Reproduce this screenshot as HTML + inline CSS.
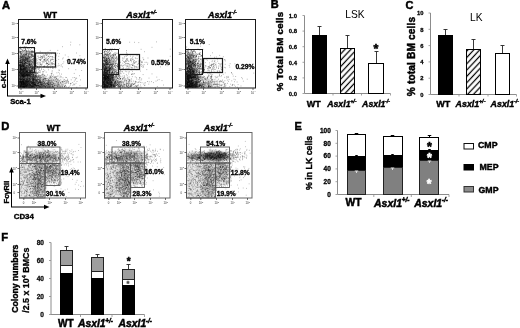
<!DOCTYPE html>
<html><head><meta charset="utf-8"><title>Figure</title>
<style>html,body{margin:0;padding:0;background:#fff;}body{width:520px;height:328px;overflow:hidden;}svg text{font-family:"Liberation Sans",sans-serif;}</style>
</head><body>
<svg width="520" height="328" viewBox="0 0 520 328" style="display:block;font-family:'Liberation Sans', sans-serif">
<defs>
<filter id="b2" x="-50%" y="-50%" width="200%" height="200%"><feGaussianBlur stdDeviation="1.6"/></filter><filter id="b3" x="-50%" y="-50%" width="200%" height="200%"><feGaussianBlur stdDeviation="2.6"/></filter>
<filter id="bd" x="-5%" y="-5%" width="110%" height="110%"><feGaussianBlur stdDeviation="0.35"/></filter>
<pattern id="hatch" width="4.3" height="4.3" patternUnits="userSpaceOnUse" patternTransform="rotate(-47)"><rect width="4.3" height="4.3" fill="#fff"/><line x1="0" y1="2.15" x2="4.3" y2="2.15" stroke="#000" stroke-width="1.25"/></pattern>
</defs>
<rect width="520" height="328" fill="#fff"/>
<text x="2" y="8.8" text-anchor="start" fill="#000" style="font-size:11.2px;font-weight:bold;" stroke="#000" stroke-width="0.50">A</text>
<text x="270.8" y="8.3" text-anchor="start" fill="#000" style="font-size:11px;font-weight:bold;" stroke="#000" stroke-width="0.49">B</text>
<text x="405.5" y="8.6" text-anchor="start" fill="#000" style="font-size:11px;font-weight:bold;" stroke="#000" stroke-width="0.49">C</text>
<text x="1.3" y="130.3" text-anchor="start" fill="#000" style="font-size:11.2px;font-weight:bold;" stroke="#000" stroke-width="0.50">D</text>
<text x="294.6" y="130.2" text-anchor="start" fill="#000" style="font-size:11px;font-weight:bold;" stroke="#000" stroke-width="0.49">E</text>
<text x="1.3" y="240.6" text-anchor="start" fill="#000" style="font-size:11.2px;font-weight:bold;" stroke="#000" stroke-width="0.50">F</text>
<clipPath id="c18a"><rect x="18.5" y="19.5" width="69.0" height="68.5"/></clipPath>
<g clip-path="url(#c18a)">
<rect x="14.5" y="74.5" width="20.4" height="19.5" fill="#000" opacity="0.50" filter="url(#b2)"/>
<rect x="15.5" y="54.5" width="16.4" height="20.0" fill="#000" opacity="0.26" filter="url(#b3)"/>
<ellipse cx="46.9" cy="85" rx="17.25" ry="6" fill="#000" opacity="0.18" filter="url(#b3)"/>
<path d="M21.0 83.7h0.8M20.7 85.3h0.8M27.6 86.2h0.8M29.4 84.4h0.8M28.6 85.9h0.8M22.4 86.4h0.8M34.8 80.7h0.8M23.4 83.8h0.8M35.0 73.2h0.8M27.2 84.0h0.8M23.6 82.5h0.8M21.5 84.6h0.8M25.0 73.4h0.8M23.9 77.8h0.8M24.6 81.7h0.8M21.9 87.1h0.8M24.7 85.9h0.8M22.9 79.9h0.8M23.6 77.6h0.8M26.4 85.9h0.8M22.7 75.3h0.8M38.2 85.3h0.8M19.5 81.1h0.8M32.8 81.0h0.8M25.0 80.0h0.8M32.6 84.9h0.8M19.7 77.0h0.8M24.5 82.8h0.8M22.9 77.2h0.8M28.0 83.5h0.8M31.1 70.7h0.8M32.7 86.0h0.8M32.6 83.1h0.8M37.1 66.6h0.8M22.0 81.7h0.8M29.4 79.7h0.8M29.3 86.7h0.8M20.9 84.3h0.8M34.1 82.7h0.8M23.6 83.3h0.8M33.8 77.1h0.8M27.8 83.5h0.8M37.8 82.6h0.8M26.7 72.6h0.8M20.3 79.3h0.8M31.3 74.3h0.8M23.9 86.7h0.8M21.7 82.5h0.8M19.7 78.3h0.8M25.0 84.5h0.8M27.1 80.0h0.8M32.8 84.2h0.8M32.0 86.9h0.8M20.0 85.5h0.8M32.2 79.3h0.8M30.8 77.2h0.8M26.2 82.6h0.8M29.5 80.7h0.8M21.9 86.8h0.8M20.0 83.1h0.8M20.2 85.6h0.8M26.0 83.2h0.8M38.2 85.2h0.8M22.7 84.8h0.8M21.8 84.7h0.8M36.5 66.2h0.8M29.5 85.9h0.8M22.4 86.0h0.8M22.7 82.4h0.8M21.3 83.6h0.8M42.3 85.0h0.8M23.9 87.2h0.8M45.2 83.9h0.8M28.4 78.1h0.8M19.2 79.9h0.8M26.9 75.3h0.8M35.1 85.0h0.8M21.8 82.7h0.8M29.2 65.2h0.8M29.1 75.7h0.8M25.2 75.3h0.8M20.2 77.8h0.8M20.0 86.4h0.8M26.3 86.8h0.8M19.4 75.0h0.8M28.7 85.5h0.8M45.3 78.3h0.8M27.4 85.7h0.8M19.8 82.0h0.8M20.7 82.6h0.8M33.4 75.2h0.8M24.5 79.8h0.8M28.5 75.5h0.8M30.9 81.7h0.8M32.9 80.0h0.8M26.0 74.5h0.8M27.2 74.7h0.8M28.2 86.5h0.8M37.8 76.0h0.8M19.4 82.9h0.8M22.4 84.5h0.8M33.1 79.3h0.8M29.6 75.4h0.8M32.7 86.5h0.8M25.8 79.3h0.8M19.6 86.9h0.8M32.4 85.8h0.8M41.0 84.7h0.8M36.6 81.0h0.8M21.6 82.8h0.8M19.3 76.7h0.8M33.1 74.3h0.8M25.1 80.5h0.8M36.8 78.8h0.8M37.7 78.9h0.8M24.3 86.0h0.8M23.7 79.5h0.8M20.4 77.3h0.8M23.9 78.9h0.8M34.6 82.9h0.8M28.3 81.3h0.8M20.1 78.0h0.8M33.8 82.6h0.8M27.5 83.2h0.8M27.3 81.4h0.8M33.5 87.0h0.8M30.0 84.9h0.8M41.6 85.2h0.8M24.8 71.5h0.8M25.6 85.7h0.8M40.3 80.6h0.8M21.3 84.1h0.8M26.1 81.6h0.8M25.0 85.2h0.8M31.5 82.4h0.8M22.9 70.3h0.8M27.3 76.9h0.8M21.4 84.0h0.8M37.5 73.1h0.8M23.1 67.4h0.8M27.6 82.1h0.8M36.9 87.0h0.8M24.0 80.3h0.8M27.4 87.2h0.8M21.4 81.0h0.8M28.4 84.9h0.8M27.2 87.1h0.8M26.8 80.8h0.8M44.6 78.3h0.8M24.7 66.0h0.8M24.6 83.9h0.8M35.0 84.4h0.8M19.2 83.6h0.8M37.5 79.2h0.8M21.7 82.0h0.8M31.5 72.6h0.8M32.2 82.3h0.8M21.3 86.4h0.8M22.4 79.7h0.8M39.2 79.2h0.8M30.2 76.6h0.8M35.1 79.6h0.8M36.3 81.1h0.8M27.0 85.8h0.8M39.6 81.6h0.8M25.6 86.9h0.8M23.0 84.8h0.8M24.7 86.2h0.8M21.7 81.3h0.8M19.6 86.7h0.8M19.8 77.3h0.8M22.6 79.0h0.8M22.7 86.4h0.8M22.9 79.8h0.8M27.6 81.7h0.8M29.1 65.7h0.8M28.7 74.6h0.8M22.2 76.4h0.8M26.0 83.6h0.8M23.4 86.5h0.8M33.0 82.0h0.8M34.7 79.7h0.8M28.5 78.8h0.8M20.0 81.8h0.8M21.4 78.9h0.8M24.3 80.3h0.8M20.6 66.4h0.8M30.6 86.2h0.8M19.4 65.9h0.8M21.9 80.6h0.8M29.9 86.4h0.8M22.0 78.4h0.8M26.8 83.4h0.8M20.9 82.2h0.8M28.8 82.7h0.8M22.8 70.9h0.8M25.2 83.2h0.8M20.8 76.0h0.8M36.4 83.6h0.8M29.2 80.5h0.8M20.3 72.5h0.8M26.1 80.1h0.8M24.7 73.0h0.8M36.3 78.9h0.8M24.7 76.1h0.8M24.7 82.0h0.8M33.2 78.1h0.8M31.3 83.7h0.8M28.9 78.8h0.8M23.3 74.5h0.8M20.4 85.4h0.8M19.1 81.5h0.8M25.4 85.0h0.8M19.4 82.3h0.8M20.2 64.9h0.8M33.2 86.3h0.8M19.9 76.3h0.8M20.9 85.3h0.8M23.0 82.8h0.8M25.7 85.5h0.8M25.6 76.5h0.8M22.1 81.7h0.8M29.4 87.0h0.8M23.3 87.1h0.8M23.6 84.5h0.8M41.2 85.3h0.8M29.3 87.0h0.8M29.4 67.8h0.8M25.8 85.9h0.8M24.4 68.1h0.8M21.7 77.1h0.8M26.0 79.9h0.8M23.5 86.7h0.8M23.5 78.8h0.8M30.0 79.4h0.8M20.9 70.0h0.8M26.4 85.8h0.8M24.2 82.0h0.8M26.1 73.1h0.8M21.1 84.4h0.8M32.3 82.0h0.8M25.1 83.9h0.8M25.3 81.9h0.8M25.1 81.1h0.8M33.4 78.4h0.8M23.6 68.6h0.8M35.6 72.8h0.8M31.9 77.7h0.8M33.2 74.2h0.8M30.0 84.1h0.8M19.7 78.8h0.8M19.2 85.4h0.8M23.1 86.0h0.8M27.3 86.6h0.8M23.2 74.7h0.8M26.0 87.0h0.8M23.1 82.0h0.8M27.7 85.0h0.8M21.4 83.6h0.8M24.1 70.2h0.8M45.8 72.1h0.8M23.6 86.6h0.8M20.0 84.5h0.8M20.8 84.9h0.8M37.0 80.5h0.8M28.7 82.7h0.8M24.9 82.6h0.8M25.8 85.4h0.8M23.5 87.1h0.8M22.9 83.5h0.8M19.5 81.6h0.8M27.1 82.6h0.8M36.7 83.3h0.8M19.9 86.7h0.8M33.6 85.3h0.8M27.3 82.1h0.8M35.9 75.8h0.8M27.3 73.1h0.8M25.8 86.9h0.8M22.9 84.9h0.8M33.2 86.2h0.8M33.1 83.1h0.8M28.5 76.4h0.8M30.4 85.1h0.8M35.0 84.3h0.8M20.9 69.0h0.8M23.6 82.3h0.8M23.7 83.3h0.8M28.4 78.1h0.8M21.3 85.9h0.8M31.3 86.3h0.8M23.8 84.1h0.8M19.6 87.3h0.8M22.0 79.0h0.8M32.1 84.9h0.8M26.8 81.6h0.8M19.2 81.6h0.8M33.3 84.7h0.8M19.2 86.3h0.8M25.1 84.8h0.8M29.5 71.2h0.8M23.9 80.4h0.8M21.2 82.9h0.8M23.2 74.7h0.8M26.8 86.6h0.8M21.5 82.4h0.8M21.4 73.9h0.8M25.2 67.9h0.8M20.2 79.3h0.8M30.6 70.1h0.8M24.4 81.2h0.8M24.6 65.6h0.8M20.5 85.8h0.8M27.6 84.9h0.8M34.8 77.5h0.8M22.2 58.7h0.8M26.4 84.8h0.8M27.5 69.7h0.8M23.4 80.9h0.8M24.7 82.6h0.8M20.2 80.2h0.8M23.3 86.8h0.8M25.0 86.7h0.8M29.8 75.6h0.8M23.0 79.9h0.8M29.0 85.1h0.8M33.8 74.3h0.8M21.8 80.4h0.8M20.4 86.7h0.8M33.6 79.7h0.8M21.9 87.3h0.8M25.1 84.8h0.8M22.6 82.3h0.8M31.6 84.9h0.8M19.7 74.5h0.8M21.7 81.8h0.8M30.5 82.0h0.8M20.5 87.3h0.8M19.6 78.4h0.8M41.9 82.3h0.8M24.1 83.8h0.8M28.8 83.8h0.8M24.1 85.6h0.8M23.7 74.8h0.8M25.9 74.9h0.8M25.3 83.3h0.8M22.4 80.7h0.8M19.3 84.6h0.8M23.8 74.6h0.8M30.6 85.7h0.8M31.0 66.8h0.8M40.1 71.1h0.8M27.9 82.3h0.8M21.2 79.0h0.8M19.5 79.2h0.8M29.2 79.3h0.8M21.0 84.3h0.8M22.9 82.0h0.8M27.1 84.6h0.8M30.1 73.5h0.8M26.2 84.4h0.8M42.8 71.9h0.8M23.6 76.5h0.8M36.3 85.5h0.8M30.2 72.1h0.8M26.4 86.2h0.8M23.1 84.2h0.8M31.2 86.1h0.8M27.0 84.5h0.8M25.6 81.1h0.8M19.6 73.3h0.8M22.9 86.7h0.8M29.7 81.3h0.8M20.4 80.0h0.8M22.7 83.5h0.8M22.3 83.3h0.8M21.2 83.1h0.8M21.0 82.7h0.8M22.0 77.7h0.8M22.7 86.5h0.8M28.3 81.4h0.8M21.2 85.1h0.8M26.3 76.8h0.8M25.2 84.3h0.8M27.1 68.3h0.8M23.3 77.8h0.8M24.8 81.1h0.8M40.2 66.4h0.8M22.7 83.7h0.8M19.4 82.3h0.8M39.5 87.3h0.8M34.6 80.7h0.8M35.3 78.2h0.8M24.1 86.8h0.8M30.8 87.0h0.8M32.1 73.6h0.8M30.1 81.7h0.8M26.5 80.7h0.8M23.4 82.5h0.8M40.6 85.4h0.8M27.3 81.8h0.8M27.1 67.1h0.8M20.2 83.8h0.8M43.4 79.9h0.8M27.2 84.2h0.8M29.7 81.3h0.8M21.1 83.5h0.8M20.0 82.1h0.8M34.1 78.7h0.8M21.5 83.3h0.8M20.5 79.6h0.8M28.1 87.1h0.8M23.8 83.5h0.8M21.8 70.1h0.8M30.6 85.2h0.8M21.1 84.4h0.8M28.5 81.7h0.8M24.3 82.8h0.8M29.8 82.6h0.8M31.3 82.4h0.8M28.4 85.0h0.8M31.9 86.3h0.8M19.9 73.3h0.8M24.4 86.6h0.8M23.1 87.3h0.8M25.7 81.5h0.8M27.4 83.0h0.8M21.2 85.3h0.8M20.3 73.3h0.8M23.5 86.6h0.8M38.8 65.8h0.8M20.5 72.5h0.8M28.1 65.4h0.8M43.0 86.9h0.8M23.6 85.4h0.8M23.9 68.9h0.8M26.8 84.8h0.8M24.7 83.9h0.8M20.7 83.7h0.8M20.5 81.6h0.8M24.5 86.8h0.8M30.6 71.1h0.8M27.4 71.7h0.8M26.9 75.0h0.8M27.5 81.1h0.8M24.5 81.9h0.8M27.2 80.3h0.8M36.2 79.5h0.8M42.9 71.7h0.8M25.2 81.8h0.8M20.8 81.6h0.8M31.3 87.3h0.8M29.1 76.9h0.8M24.2 86.1h0.8M21.7 82.1h0.8M36.5 69.2h0.8M30.9 81.6h0.8M23.9 87.0h0.8M26.3 82.0h0.8M39.2 86.6h0.8M23.2 83.5h0.8M19.7 86.5h0.8M25.7 83.0h0.8M20.6 76.9h0.8M24.1 84.9h0.8M26.4 81.2h0.8M33.7 73.0h0.8M30.0 81.1h0.8M30.3 77.3h0.8M24.7 84.2h0.8M32.5 87.1h0.8M26.9 85.0h0.8M25.0 80.7h0.8M33.2 82.7h0.8M30.1 85.1h0.8M24.5 84.5h0.8M34.4 82.7h0.8M30.8 87.2h0.8M23.5 86.3h0.8M22.7 76.9h0.8M20.8 83.1h0.8M21.5 81.3h0.8M38.1 82.6h0.8M21.7 74.8h0.8M37.3 87.3h0.8M19.2 84.0h0.8M26.8 75.8h0.8M24.9 72.5h0.8M20.3 81.5h0.8M28.4 85.0h0.8M21.3 78.0h0.8M19.8 75.9h0.8M25.2 86.7h0.8M19.7 87.0h0.8M19.4 67.6h0.8M24.9 82.8h0.8M20.0 69.5h0.8M28.7 78.4h0.8M32.3 67.6h0.8M36.9 84.9h0.8M24.7 72.1h0.8M33.0 82.8h0.8M26.1 84.9h0.8M21.7 76.5h0.8M37.5 79.2h0.8M19.9 86.4h0.8M36.1 75.9h0.8M21.5 84.1h0.8M23.4 76.7h0.8M23.7 74.9h0.8M30.5 83.4h0.8M30.3 76.1h0.8M27.2 71.8h0.8M36.5 81.1h0.8M38.7 77.5h0.8M23.7 84.4h0.8M20.5 86.5h0.8M28.8 75.3h0.8M30.6 76.1h0.8M24.0 82.9h0.8M22.1 85.7h0.8M22.8 79.9h0.8M26.0 87.1h0.8M21.7 74.8h0.8M24.3 82.5h0.8M29.8 85.7h0.8M26.6 78.5h0.8M28.4 86.3h0.8M34.0 82.3h0.8M27.2 77.1h0.8M25.1 86.6h0.8M21.3 85.2h0.8M21.0 83.3h0.8M20.6 64.6h0.8M35.9 87.2h0.8M23.1 78.9h0.8M29.1 74.9h0.8M20.1 67.6h0.8M19.9 82.2h0.8M22.1 78.5h0.8M29.2 80.3h0.8M33.5 80.7h0.8M24.1 73.9h0.8M24.9 82.3h0.8M26.5 83.0h0.8M21.7 85.7h0.8M20.2 86.8h0.8M20.6 81.6h0.8M27.9 82.2h0.8M33.2 75.9h0.8M19.6 78.6h0.8M34.6 85.2h0.8M23.5 81.8h0.8M29.0 74.5h0.8M26.9 76.1h0.8M23.6 80.0h0.8M20.4 76.9h0.8M26.1 81.3h0.8M23.9 83.9h0.8M21.5 81.3h0.8M24.0 72.3h0.8M21.7 83.9h0.8M24.2 87.3h0.8M21.5 83.1h0.8M34.1 85.9h0.8M38.6 75.0h0.8M26.2 83.0h0.8M35.8 86.5h0.8M19.6 79.0h0.8M23.1 76.6h0.8M23.7 84.4h0.8M20.5 86.6h0.8M32.4 79.1h0.8M22.5 78.6h0.8M25.8 81.0h0.8M26.9 79.0h0.8M31.8 80.1h0.8M27.2 83.1h0.8M33.0 81.7h0.8M24.7 85.1h0.8M22.0 70.8h0.8M20.8 75.0h0.8M27.4 77.7h0.8M25.3 80.7h0.8M23.8 77.0h0.8M26.8 82.9h0.8M21.6 74.8h0.8M23.6 83.3h0.8M28.1 83.7h0.8M25.7 82.0h0.8M28.7 70.5h0.8M24.3 76.7h0.8M20.2 79.7h0.8M44.9 86.5h0.8M30.4 85.5h0.8M27.6 75.4h0.8M29.5 84.2h0.8M28.8 81.4h0.8M33.5 84.6h0.8M32.4 87.1h0.8M24.2 78.9h0.8M38.6 77.0h0.8M22.2 75.5h0.8M31.4 79.0h0.8M38.8 70.9h0.8M20.6 85.7h0.8M20.0 79.5h0.8M28.6 87.3h0.8M31.8 81.7h0.8M23.1 82.7h0.8M21.1 74.2h0.8M29.6 84.2h0.8M21.9 73.0h0.8M23.8 84.3h0.8M30.1 77.3h0.8M23.6 76.8h0.8M30.8 85.9h0.8M22.3 66.3h0.8M26.9 78.3h0.8M26.0 73.8h0.8M26.5 86.6h0.8M23.3 86.7h0.8M23.1 81.1h0.8M23.1 82.6h0.8M23.8 83.4h0.8M24.1 85.6h0.8M19.9 81.8h0.8M22.1 78.8h0.8M31.0 82.7h0.8M23.5 81.2h0.8M35.8 80.8h0.8M35.7 82.4h0.8M32.7 79.7h0.8M30.2 75.6h0.8M19.6 86.9h0.8M42.5 86.5h0.8M22.6 82.6h0.8M22.9 85.2h0.8M20.2 73.4h0.8M21.7 84.0h0.8M32.8 79.5h0.8M28.7 72.4h0.8M31.7 78.7h0.8M28.7 72.3h0.8M22.9 72.2h0.8M23.4 75.6h0.8M34.3 85.3h0.8M37.2 81.4h0.8M25.7 85.7h0.8M23.8 87.0h0.8M37.4 83.8h0.8M37.2 87.3h0.8M30.8 85.8h0.8M28.0 74.0h0.8M25.7 81.7h0.8M22.3 87.2h0.8M27.6 78.8h0.8M31.7 85.9h0.8M27.8 70.1h0.8M31.9 67.0h0.8M29.7 87.3h0.8M20.6 86.7h0.8M21.2 76.3h0.8M28.8 73.6h0.8M25.9 80.8h0.8M35.1 85.7h0.8M21.1 79.2h0.8M29.5 82.9h0.8M22.3 81.7h0.8M23.2 80.4h0.8M45.0 87.1h0.8M28.3 75.6h0.8M22.7 81.5h0.8M22.5 77.2h0.8M29.8 76.8h0.8M33.7 84.6h0.8M27.7 81.0h0.8M26.4 85.8h0.8M30.3 82.5h0.8M27.9 75.4h0.8M29.8 81.7h0.8M28.7 80.0h0.8M22.9 77.2h0.8M21.3 82.7h0.8M23.9 79.8h0.8M19.6 85.9h0.8M21.8 69.4h0.8M23.7 81.2h0.8M26.1 74.6h0.8M25.5 85.5h0.8M21.8 79.6h0.8M22.8 79.8h0.8M32.8 72.6h0.8M30.4 84.3h0.8M23.3 87.0h0.8M23.2 77.7h0.8M27.8 83.5h0.8M28.1 87.3h0.8M37.8 77.1h0.8M29.5 86.8h0.8M22.4 85.9h0.8M22.7 83.4h0.8M19.5 86.8h0.8M36.9 72.7h0.8M35.3 79.0h0.8M19.8 86.8h0.8M19.9 81.8h0.8M19.1 82.6h0.8M34.5 83.5h0.8M22.9 71.7h0.8M29.1 78.3h0.8M40.5 83.2h0.8M19.1 66.1h0.8M32.6 86.9h0.8M20.1 84.8h0.8M24.4 75.3h0.8M28.3 73.4h0.8M27.1 79.8h0.8M32.1 83.2h0.8M29.2 76.0h0.8M27.7 78.7h0.8M25.5 81.6h0.8M31.4 78.2h0.8M34.6 82.9h0.8M25.9 85.1h0.8M43.0 79.5h0.8M23.8 72.7h0.8M25.1 77.9h0.8M36.8 85.7h0.8M25.3 83.7h0.8M36.9 80.3h0.8M29.1 79.0h0.8M35.2 77.2h0.8M21.3 81.5h0.8M30.0 82.7h0.8M26.7 71.7h0.8M36.4 83.8h0.8M25.9 72.2h0.8M25.5 85.0h0.8M29.0 75.6h0.8M27.1 70.7h0.8M20.9 85.1h0.8M35.0 83.0h0.8M23.5 74.5h0.8M25.0 85.4h0.8M30.0 80.0h0.8M25.0 86.8h0.8M21.3 78.9h0.8M33.6 79.9h0.8M19.5 81.9h0.8M36.8 79.3h0.8M27.4 81.2h0.8M31.4 86.3h0.8M20.9 82.8h0.8M24.9 76.0h0.8M26.7 79.7h0.8M28.2 82.1h0.8M20.3 85.9h0.8M29.4 80.6h0.8M19.8 83.2h0.8M25.9 83.5h0.8M47.6 82.6h0.8M26.0 80.7h0.8M25.4 85.3h0.8M20.4 79.2h0.8M34.3 83.2h0.8M29.0 68.1h0.8M20.4 82.9h0.8M21.2 86.6h0.8M37.0 81.9h0.8M41.4 82.7h0.8M21.5 86.3h0.8M26.5 83.1h0.8M36.5 73.3h0.8M34.0 71.6h0.8M23.2 80.6h0.8M24.0 86.4h0.8M48.1 82.4h0.8M35.9 77.4h0.8M20.1 85.7h0.8M22.0 75.0h0.8M35.7 68.3h0.8M23.6 86.4h0.8M19.2 67.9h0.8M22.2 81.6h0.8M32.3 80.2h0.8M25.3 83.4h0.8M24.4 87.4h0.8M19.2 86.8h0.8M19.8 82.5h0.8M40.3 83.6h0.8M22.7 68.5h0.8M32.2 74.8h0.8M25.3 80.9h0.8M36.9 76.8h0.8M26.0 78.0h0.8M27.0 85.7h0.8M23.4 79.3h0.8M22.3 84.6h0.8M21.3 77.5h0.8M30.6 74.4h0.8M19.5 79.3h0.8M22.8 82.4h0.8M23.2 81.5h0.8M24.1 79.4h0.8M27.3 71.3h0.8M38.9 72.5h0.8M37.9 81.7h0.8M21.8 82.9h0.8M26.4 87.0h0.8M38.2 68.3h0.8M25.1 84.0h0.8M21.2 86.2h0.8M19.7 81.0h0.8M21.6 80.7h0.8M24.4 79.0h0.8M22.6 79.6h0.8M24.3 84.9h0.8M23.3 86.0h0.8M25.6 74.8h0.8M20.0 82.5h0.8M22.2 86.3h0.8M27.4 81.7h0.8M19.5 82.3h0.8M30.2 79.3h0.8M23.4 77.6h0.8M19.6 85.0h0.8M19.6 79.3h0.8M21.8 80.9h0.8M29.2 73.8h0.8M27.9 82.8h0.8M23.8 83.2h0.8M25.7 73.2h0.8M22.4 84.2h0.8M27.6 79.7h0.8M29.6 84.6h0.8M29.7 78.7h0.8M26.4 72.4h0.8M25.1 75.9h0.8M30.5 78.4h0.8M36.9 81.5h0.8M29.5 85.2h0.8M30.5 87.1h0.8M25.3 86.8h0.8M20.4 84.4h0.8M22.8 87.3h0.8M20.5 82.7h0.8M31.6 86.7h0.8M29.0 83.2h0.8M19.8 84.2h0.8M29.1 78.1h0.8M23.3 86.8h0.8M19.4 83.7h0.8M22.9 85.4h0.8M34.8 78.8h0.8M26.2 79.1h0.8M29.1 70.2h0.8M26.3 82.3h0.8M24.9 79.2h0.8M36.9 75.7h0.8M20.0 80.4h0.8M43.8 78.6h0.8M25.7 70.3h0.8M26.0 72.9h0.8M29.6 84.6h0.8M40.5 82.8h0.8M24.8 82.0h0.8M22.1 87.4h0.8M29.1 83.9h0.8M23.8 87.4h0.8M35.1 85.2h0.8M31.3 83.4h0.8M25.9 71.6h0.8M20.4 86.5h0.8M23.3 82.8h0.8M21.9 81.9h0.8M39.9 82.9h0.8M23.9 83.5h0.8M28.8 86.8h0.8M26.2 85.9h0.8M23.3 76.5h0.8M28.0 80.2h0.8M29.8 85.2h0.8M19.8 78.5h0.8M23.9 87.0h0.8M22.2 84.8h0.8M21.2 79.6h0.8M20.2 81.8h0.8M29.0 82.4h0.8M25.7 78.1h0.8M31.3 82.7h0.8M23.1 75.2h0.8M30.4 85.4h0.8M26.8 81.8h0.8M21.2 82.1h0.8M20.6 78.0h0.8M28.1 80.4h0.8M23.2 83.2h0.8M29.2 84.6h0.8M24.8 63.4h0.8M23.2 74.0h0.8M20.5 85.3h0.8M25.8 81.4h0.8M27.5 84.8h0.8M33.3 82.9h0.8M23.9 84.2h0.8M34.0 84.5h0.8M23.5 81.6h0.8M27.3 77.8h0.8M32.7 76.9h0.8M23.6 78.7h0.8M19.6 74.0h0.8M19.2 78.4h0.8M21.8 75.0h0.8M22.9 85.7h0.8M19.8 76.8h0.8M27.6 84.1h0.8M22.7 71.1h0.8M26.0 82.8h0.8M28.8 85.2h0.8M19.9 81.0h0.8M28.1 81.1h0.8M24.9 83.0h0.8M22.9 71.9h0.8M21.8 81.4h0.8M26.3 79.2h0.8M22.2 86.2h0.8M26.1 84.4h0.8M28.8 74.5h0.8M24.9 86.5h0.8M37.7 79.7h0.8M29.0 84.0h0.8M33.3 81.0h0.8M52.4 80.7h0.8M30.2 86.9h0.8M22.3 80.2h0.8M26.7 79.1h0.8M32.6 71.4h0.8M23.8 78.7h0.8M26.2 83.2h0.8M28.7 81.6h0.8M36.5 80.1h0.8M29.5 85.8h0.8M31.2 83.6h0.8M36.2 85.1h0.8M22.6 81.5h0.8M36.6 85.9h0.8M30.3 80.0h0.8M31.3 64.6h0.8M26.3 82.3h0.8M23.0 82.1h0.8M30.1 87.3h0.8M20.9 83.0h0.8M27.6 79.6h0.8M37.3 66.4h0.8M20.4 86.1h0.8M33.1 80.1h0.8M23.7 75.8h0.8M25.6 78.5h0.8M21.7 83.1h0.8M19.9 75.8h0.8M51.3 82.3h0.8M27.5 84.1h0.8M22.6 84.6h0.8M23.3 84.9h0.8M36.5 85.8h0.8M31.9 78.0h0.8M19.6 80.6h0.8M20.5 80.2h0.8M22.2 82.1h0.8M35.7 77.2h0.8M26.4 84.1h0.8M27.7 85.4h0.8M37.9 82.0h0.8M40.0 77.3h0.8M31.1 83.6h0.8M35.9 81.0h0.8M26.8 71.3h0.8M21.8 81.4h0.8M38.3 75.0h0.8M19.9 82.1h0.8M25.7 71.8h0.8M35.8 86.5h0.8M22.5 83.8h0.8M26.5 86.7h0.8M23.0 86.4h0.8M27.9 86.2h0.8M21.5 86.2h0.8M31.6 76.9h0.8M22.9 82.9h0.8M21.4 81.5h0.8M23.1 81.3h0.8M27.0 77.0h0.8M25.0 84.3h0.8M21.1 84.2h0.8M35.9 82.4h0.8M20.4 83.3h0.8M27.9 77.1h0.8M36.1 73.0h0.8M24.8 67.8h0.8M23.5 86.7h0.8M20.6 81.6h0.8M29.0 81.3h0.8M23.5 83.3h0.8M23.8 84.3h0.8M22.0 84.9h0.8M30.7 87.1h0.8M20.6 73.5h0.8M29.2 79.8h0.8M26.2 85.0h0.8M21.7 85.7h0.8M26.9 73.1h0.8M24.7 76.7h0.8M28.2 81.1h0.8M25.9 80.3h0.8M19.5 85.0h0.8M21.1 82.4h0.8M29.4 78.4h0.8M20.5 79.5h0.8M32.7 80.0h0.8M32.9 76.6h0.8M23.8 83.0h0.8M33.0 85.6h0.8M23.2 81.2h0.8M30.7 81.5h0.8M20.8 81.9h0.8M23.7 81.5h0.8M22.8 84.1h0.8M34.7 75.6h0.8M20.0 74.6h0.8M21.2 87.4h0.8M21.9 83.2h0.8M21.6 80.1h0.8M26.7 86.2h0.8M22.5 83.9h0.8M25.3 78.7h0.8M20.1 81.6h0.8M32.1 82.9h0.8M27.0 75.3h0.8M19.2 85.5h0.8M26.6 78.8h0.8M25.5 86.1h0.8M31.8 78.3h0.8M23.9 69.7h0.8M21.8 80.0h0.8M19.3 84.4h0.8M28.2 85.0h0.8M32.1 82.5h0.8M19.8 72.0h0.8M25.9 81.3h0.8M32.8 83.6h0.8M29.0 83.6h0.8M23.1 86.1h0.8M23.7 73.3h0.8M19.4 77.3h0.8M32.2 85.7h0.8M25.6 86.2h0.8M27.1 85.1h0.8M24.1 85.0h0.8M20.5 83.7h0.8M22.4 75.8h0.8M29.1 87.1h0.8M26.9 84.9h0.8M24.7 71.2h0.8M26.4 79.5h0.8M27.5 74.5h0.8M34.3 83.7h0.8M25.5 77.0h0.8M27.3 82.5h0.8M20.4 72.0h0.8M24.6 83.4h0.8M22.8 83.6h0.8M25.9 85.4h0.8M23.5 75.5h0.8M23.0 86.7h0.8M23.5 79.5h0.8M22.4 84.1h0.8M34.8 87.3h0.8M31.9 81.2h0.8M31.0 86.6h0.8M27.3 81.8h0.8M24.3 85.8h0.8M30.8 82.1h0.8M34.4 73.7h0.8M22.8 82.7h0.8M35.1 85.5h0.8M22.9 82.0h0.8M24.0 76.9h0.8M31.1 72.0h0.8M26.9 75.0h0.8M26.3 75.8h0.8M21.4 83.2h0.8M22.4 81.4h0.8M26.9 80.1h0.8M31.1 76.3h0.8M31.1 83.1h0.8M25.0 76.0h0.8M38.0 76.5h0.8M23.0 82.0h0.8M22.0 86.3h0.8M20.7 83.3h0.8M42.7 80.1h0.8M20.9 86.7h0.8M24.4 85.9h0.8M28.9 73.9h0.8M20.9 79.3h0.8M21.5 75.8h0.8M28.7 87.2h0.8M24.1 80.2h0.8M27.7 74.3h0.8M23.3 85.1h0.8M21.5 79.2h0.8M26.8 85.0h0.8M19.9 84.6h0.8M23.4 79.6h0.8M39.5 84.7h0.8M36.1 70.8h0.8M31.7 85.2h0.8M19.8 85.2h0.8M24.5 77.6h0.8M22.2 77.4h0.8M29.2 85.2h0.8M23.5 82.3h0.8M29.8 73.3h0.8M24.7 87.0h0.8M23.1 79.7h0.8M30.9 81.6h0.8M27.4 79.9h0.8M28.9 82.8h0.8M27.5 84.6h0.8M23.1 84.5h0.8M28.0 81.2h0.8M33.3 77.0h0.8M25.8 86.8h0.8M30.9 87.3h0.8M20.4 77.0h0.8M27.4 81.4h0.8M21.9 86.2h0.8M21.7 86.2h0.8M36.6 81.7h0.8M33.2 83.8h0.8M34.1 87.2h0.8M33.2 78.4h0.8M23.2 84.7h0.8M30.7 85.3h0.8M19.3 83.4h0.8M19.3 79.8h0.8M31.6 86.9h0.8M20.4 81.0h0.8M21.2 79.4h0.8M31.5 63.0h0.8M29.7 62.6h0.8M28.9 54.9h0.8M26.0 55.1h0.8M24.7 51.1h0.8M27.7 66.4h0.8M20.0 72.1h0.8M20.3 72.3h0.8M34.3 68.3h0.8M20.1 66.2h0.8M24.4 61.2h0.8M27.7 59.7h0.8M22.1 74.5h0.8M34.8 59.3h0.8M25.7 59.0h0.8M20.4 54.4h0.8M20.7 70.8h0.8M29.6 63.3h0.8M23.5 51.2h0.8M22.1 75.7h0.8M19.7 69.3h0.8M21.4 72.7h0.8M28.4 51.3h0.8M20.9 63.0h0.8M22.5 75.2h0.8M26.3 64.1h0.8M30.4 61.7h0.8M28.7 70.3h0.8M19.1 74.1h0.8M25.2 64.1h0.8M29.8 72.5h0.8M23.9 67.4h0.8M34.1 75.8h0.8M19.4 73.9h0.8M26.1 74.1h0.8M20.4 66.0h0.8M19.5 57.1h0.8M23.2 76.3h0.8M33.0 66.9h0.8M32.9 57.9h0.8M26.3 60.7h0.8M22.0 67.2h0.8M26.4 47.3h0.8M35.0 68.0h0.8M22.3 52.5h0.8M19.7 58.6h0.8M22.8 66.0h0.8M26.5 71.7h0.8M29.2 71.5h0.8M26.3 74.8h0.8M20.8 65.5h0.8M19.8 69.9h0.8M27.3 71.8h0.8M24.5 71.2h0.8M22.4 71.6h0.8M19.3 64.3h0.8M29.2 71.3h0.8M32.6 67.1h0.8M26.2 72.0h0.8M27.6 56.2h0.8M35.3 63.3h0.8M31.4 69.4h0.8M27.2 69.4h0.8M20.4 73.3h0.8M24.7 66.3h0.8M22.1 70.6h0.8M33.0 58.4h0.8M20.6 68.5h0.8M19.9 72.9h0.8M28.2 48.0h0.8M19.5 69.7h0.8M25.4 59.3h0.8M31.0 61.4h0.8M26.8 71.7h0.8M24.5 54.4h0.8M22.8 64.2h0.8M20.6 64.2h0.8M30.5 71.0h0.8M34.4 70.6h0.8M22.6 61.4h0.8M23.0 69.8h0.8M32.4 67.8h0.8M24.0 76.1h0.8M29.0 60.7h0.8M23.7 69.6h0.8M21.0 70.0h0.8M24.8 62.0h0.8M29.9 71.7h0.8M30.8 69.1h0.8M24.0 68.5h0.8M20.1 64.9h0.8M20.7 51.8h0.8M21.9 63.8h0.8M24.5 73.0h0.8M21.4 75.0h0.8M31.4 73.2h0.8M22.0 62.4h0.8M27.9 75.8h0.8M20.7 70.0h0.8M26.0 75.1h0.8M31.9 70.0h0.8M22.7 73.3h0.8M29.7 71.2h0.8M24.3 68.9h0.8M21.8 73.4h0.8M21.9 65.5h0.8M32.6 74.5h0.8M22.7 66.1h0.8M24.1 60.7h0.8M26.5 47.5h0.8M33.6 61.2h0.8M34.2 67.9h0.8M33.4 59.2h0.8M32.9 69.4h0.8M34.2 69.4h0.8M21.8 65.2h0.8M19.6 60.5h0.8M21.3 66.5h0.8M21.4 55.0h0.8M23.3 57.5h0.8M31.9 51.6h0.8M26.1 67.8h0.8M20.7 48.6h0.8M28.8 57.2h0.8M25.8 67.0h0.8M35.3 61.7h0.8M28.0 56.4h0.8M24.8 69.3h0.8M19.8 73.3h0.8M30.4 56.6h0.8M25.6 71.3h0.8M28.9 48.1h0.8M23.2 76.0h0.8M22.3 50.0h0.8M19.4 72.6h0.8M24.0 76.2h0.8M20.9 73.5h0.8M25.1 48.3h0.8M29.2 64.6h0.8M27.7 64.5h0.8M27.3 55.9h0.8M30.6 56.8h0.8M21.6 76.5h0.8M23.8 62.5h0.8M28.9 69.7h0.8M33.0 60.2h0.8M19.6 67.2h0.8M20.1 70.9h0.8M32.4 71.7h0.8M27.6 66.1h0.8M19.5 74.8h0.8M22.2 56.3h0.8M29.1 71.3h0.8M32.1 59.5h0.8M23.8 68.7h0.8M24.2 66.9h0.8M21.4 72.0h0.8M21.6 76.5h0.8M34.9 55.0h0.8M20.1 55.9h0.8M22.0 68.7h0.8M22.1 69.4h0.8M30.5 54.6h0.8M23.3 73.9h0.8M19.6 64.0h0.8M24.4 61.5h0.8M28.0 62.2h0.8M21.9 55.5h0.8M20.1 61.9h0.8M30.6 73.1h0.8M20.5 64.6h0.8M25.4 62.9h0.8M22.9 56.1h0.8M32.8 72.5h0.8M28.2 74.1h0.8M21.5 68.3h0.8M31.9 68.4h0.8M29.0 73.7h0.8M23.5 66.3h0.8M29.5 51.9h0.8M30.8 71.2h0.8M30.8 48.4h0.8M22.6 73.2h0.8M30.9 57.3h0.8M22.7 69.5h0.8M25.0 67.1h0.8M28.3 68.0h0.8M24.6 59.3h0.8M20.7 74.6h0.8M20.3 61.1h0.8M34.8 72.9h0.8M20.8 68.0h0.8M20.7 63.5h0.8M24.1 75.1h0.8M23.0 66.6h0.8M24.6 57.9h0.8M26.6 73.2h0.8M20.0 66.5h0.8M22.8 70.8h0.8M29.9 54.1h0.8M23.7 61.5h0.8M24.3 56.4h0.8M25.8 71.4h0.8M29.0 64.6h0.8M24.1 63.5h0.8M26.7 63.5h0.8M26.5 72.0h0.8M27.2 60.5h0.8M20.9 61.9h0.8M28.5 73.7h0.8M34.7 61.8h0.8M34.2 73.3h0.8M27.7 72.6h0.8M26.2 63.4h0.8M27.7 70.1h0.8M35.8 74.4h0.8M24.7 54.9h0.8M22.1 59.3h0.8M22.6 51.0h0.8M25.9 69.3h0.8M24.1 72.7h0.8M20.8 57.2h0.8M35.2 68.8h0.8M19.4 59.8h0.8M35.4 68.7h0.8M28.4 66.7h0.8M24.5 70.4h0.8M22.8 60.9h0.8M19.3 64.9h0.8M19.6 65.9h0.8M28.8 61.7h0.8M27.3 75.4h0.8M28.9 72.5h0.8M33.0 56.5h0.8M25.5 67.4h0.8M21.5 71.8h0.8M26.2 73.2h0.8M28.2 72.6h0.8M25.0 69.3h0.8M22.7 67.0h0.8M32.0 67.2h0.8M29.0 72.4h0.8M26.9 73.3h0.8M24.9 71.2h0.8M19.2 50.0h0.8M20.7 53.7h0.8M25.0 57.5h0.8M30.8 70.8h0.8M23.1 72.1h0.8M21.9 71.1h0.8M32.2 67.5h0.8M24.3 59.8h0.8M23.6 56.5h0.8M23.6 69.3h0.8M26.6 71.5h0.8M24.2 72.5h0.8M29.6 65.3h0.8M35.5 68.4h0.8M24.4 70.0h0.8M22.1 73.3h0.8M28.3 69.5h0.8M23.7 69.3h0.8M27.3 61.8h0.8M22.7 57.9h0.8M30.1 67.2h0.8M23.0 69.8h0.8M32.2 69.7h0.8M20.5 58.9h0.8M24.6 73.7h0.8M27.1 65.7h0.8M25.3 72.2h0.8M24.7 67.6h0.8M22.9 74.7h0.8M22.1 62.3h0.8M20.8 51.8h0.8M28.4 52.7h0.8M19.3 71.1h0.8M20.8 74.1h0.8M33.8 68.1h0.8M26.0 67.1h0.8M32.6 72.7h0.8M32.7 64.1h0.8M29.7 62.0h0.8M22.5 64.9h0.8M19.7 68.8h0.8M26.3 51.4h0.8M28.8 64.2h0.8M23.2 71.1h0.8M24.2 71.3h0.8M29.3 76.0h0.8M29.1 65.2h0.8M27.1 60.6h0.8M26.4 75.9h0.8M23.9 62.1h0.8M22.1 69.0h0.8M34.8 74.6h0.8M30.8 66.7h0.8M22.7 51.7h0.8M25.1 66.8h0.8M30.7 73.6h0.8M25.0 75.1h0.8M23.9 72.5h0.8M23.2 71.3h0.8M31.5 61.7h0.8M19.6 71.3h0.8M20.9 56.2h0.8M23.5 76.0h0.8M28.2 60.9h0.8M24.2 63.9h0.8M24.8 61.0h0.8M21.8 75.4h0.8M30.4 70.8h0.8M20.2 73.0h0.8M21.0 52.1h0.8M19.7 69.7h0.8M22.8 66.5h0.8M28.5 74.3h0.8M20.6 55.2h0.8M25.1 56.6h0.8M30.8 54.8h0.8M34.3 63.4h0.8M20.1 69.3h0.8M35.6 71.7h0.8M20.3 68.4h0.8M34.6 62.5h0.8M29.7 53.0h0.8M25.8 67.9h0.8M28.7 53.1h0.8M26.5 67.3h0.8M32.9 72.0h0.8M25.3 74.0h0.8M20.3 47.9h0.8M21.3 66.6h0.8M23.8 73.6h0.8M22.9 54.8h0.8M30.6 60.0h0.8M24.7 54.6h0.8M20.2 72.9h0.8M27.8 53.2h0.8M23.9 59.4h0.8M30.0 53.7h0.8M32.5 76.0h0.8M25.5 75.8h0.8M24.6 62.1h0.8M25.6 66.4h0.8M20.2 67.6h0.8M28.6 53.5h0.8M22.8 68.0h0.8M27.5 70.2h0.8M19.9 61.1h0.8M26.5 53.4h0.8M31.9 60.9h0.8M23.8 65.6h0.8M30.0 72.8h0.8M33.4 56.2h0.8M26.1 65.6h0.8M32.3 71.6h0.8M27.2 75.8h0.8M23.5 68.7h0.8M20.2 76.4h0.8M34.6 68.8h0.8M20.5 62.5h0.8M31.1 65.2h0.8M28.6 62.8h0.8M33.5 52.4h0.8M32.5 62.7h0.8M33.4 66.9h0.8M26.3 59.7h0.8M23.3 65.8h0.8M31.9 73.4h0.8M30.6 66.8h0.8M21.9 59.0h0.8M32.8 68.4h0.8M33.5 61.2h0.8M20.5 72.5h0.8M29.0 60.8h0.8M19.3 74.3h0.8M29.9 60.9h0.8M21.8 67.0h0.8M21.2 64.1h0.8M26.9 72.2h0.8M35.3 73.5h0.8M25.8 55.3h0.8M20.5 54.2h0.8M19.4 67.7h0.8M33.7 63.7h0.8M23.1 63.2h0.8M28.5 62.6h0.8M24.9 70.3h0.8M20.0 67.3h0.8M19.2 71.9h0.8M19.5 62.4h0.8M23.9 64.6h0.8M26.9 73.1h0.8M21.3 62.0h0.8M26.7 69.2h0.8M24.5 67.4h0.8M28.4 73.8h0.8M35.3 67.7h0.8M28.2 56.7h0.8M21.0 59.6h0.8M30.9 68.4h0.8M20.6 64.5h0.8M31.5 51.1h0.8M24.9 74.2h0.8M22.0 68.0h0.8M20.9 72.2h0.8M26.7 59.3h0.8M31.4 48.2h0.8M19.7 65.4h0.8M32.3 68.5h0.8M20.9 53.9h0.8M32.5 62.3h0.8M27.3 68.2h0.8M27.1 59.3h0.8M22.1 61.7h0.8M22.1 63.9h0.8M23.8 63.4h0.8M28.7 48.6h0.8M28.8 72.9h0.8M27.3 48.3h0.8M26.8 66.3h0.8M30.3 70.3h0.8M23.2 59.4h0.8M27.6 65.4h0.8M19.5 47.9h0.8M25.2 48.7h0.8M29.5 58.3h0.8M20.8 58.8h0.8M19.7 48.7h0.8M29.1 51.7h0.8M31.5 59.3h0.8M20.6 56.7h0.8M19.9 71.0h0.8M31.9 59.6h0.8M19.5 66.2h0.8M21.3 69.9h0.8M23.6 63.1h0.8M19.2 71.0h0.8M25.3 65.2h0.8M35.1 76.0h0.8M25.8 67.3h0.8M31.0 70.6h0.8M34.2 67.3h0.8M26.2 69.7h0.8M23.0 66.6h0.8M23.0 59.5h0.8M24.2 50.4h0.8M25.5 48.8h0.8M25.1 59.1h0.8M32.6 73.3h0.8M19.8 74.0h0.8M27.9 58.9h0.8M25.5 68.8h0.8M30.3 75.0h0.8M23.6 46.7h0.8M29.5 73.3h0.8M24.5 76.0h0.8M22.0 75.4h0.8M31.5 70.0h0.8M19.4 60.5h0.8M20.2 68.3h0.8M23.4 69.5h0.8M26.3 53.5h0.8M27.6 74.9h0.8M25.7 54.4h0.8M23.2 65.4h0.8M31.4 67.9h0.8M19.3 52.9h0.8M27.0 72.6h0.8M19.7 62.5h0.8M28.1 58.3h0.8M29.3 75.8h0.8M26.7 73.9h0.8M30.1 51.2h0.8M24.3 60.9h0.8M24.4 72.2h0.8M30.7 55.1h0.8M35.5 72.4h0.8M23.9 71.3h0.8M27.9 69.6h0.8M22.5 65.4h0.8M31.5 74.5h0.8M19.4 61.8h0.8M28.0 49.9h0.8M21.6 74.7h0.8M23.6 57.1h0.8M19.5 75.1h0.8M29.3 53.4h0.8M19.5 75.5h0.8M30.3 64.6h0.8M28.8 70.8h0.8M31.8 54.5h0.8M31.2 74.4h0.8M22.6 65.7h0.8M28.9 68.3h0.8M31.5 64.3h0.8M25.3 69.4h0.8M29.7 71.1h0.8M27.1 58.7h0.8M20.1 74.4h0.8M20.0 71.6h0.8M26.8 73.7h0.8M24.1 55.5h0.8M21.5 54.8h0.8M20.7 60.7h0.8M34.7 51.0h0.8M19.5 73.4h0.8M21.9 61.7h0.8M25.1 49.3h0.8M27.8 58.1h0.8M25.0 74.9h0.8M23.7 75.4h0.8M23.4 54.5h0.8M33.9 67.4h0.8M27.6 70.8h0.8M21.6 74.1h0.8M20.7 69.5h0.8M27.7 51.4h0.8M27.0 61.2h0.8M34.8 60.2h0.8M34.5 66.9h0.8M30.9 76.2h0.8M31.9 61.4h0.8M23.6 74.2h0.8M24.7 73.0h0.8M19.5 75.4h0.8M20.4 73.2h0.8M29.6 52.5h0.8M21.6 74.5h0.8M20.6 68.2h0.8M21.0 73.4h0.8M33.4 73.7h0.8M19.3 71.2h0.8M23.3 70.8h0.8M22.4 67.1h0.8M21.0 68.0h0.8M20.6 74.7h0.8M25.0 73.2h0.8M21.4 57.5h0.8M27.8 74.4h0.8M28.4 65.2h0.8M30.2 49.6h0.8M20.0 72.8h0.8M25.0 50.0h0.8M35.8 63.5h0.8M31.6 68.1h0.8M20.4 63.8h0.8M21.8 65.7h0.8M29.8 67.4h0.8M35.5 73.9h0.8M20.6 64.5h0.8M20.5 61.0h0.8M27.9 75.1h0.8M24.9 53.9h0.8M24.0 58.7h0.8M35.8 59.3h0.8M22.2 57.1h0.8M25.1 62.7h0.8M26.5 74.6h0.8M31.2 72.3h0.8M35.7 58.3h0.8M26.5 71.0h0.8M28.5 75.5h0.8M25.5 62.1h0.8M22.6 55.3h0.8M20.1 51.4h0.8M20.6 64.9h0.8M22.5 65.3h0.8M35.0 71.7h0.8M29.2 64.6h0.8M29.5 63.2h0.8M19.2 71.4h0.8M22.1 75.5h0.8M20.2 70.1h0.8M29.7 65.1h0.8M19.1 51.1h0.8M22.6 70.3h0.8M20.0 62.0h0.8M20.7 61.4h0.8M19.9 69.9h0.8M29.1 70.8h0.8M21.8 73.2h0.8M24.0 67.0h0.8M31.9 55.1h0.8M20.5 65.9h0.8M27.2 75.9h0.8M25.5 71.5h0.8M23.9 59.7h0.8M20.0 68.5h0.8M23.4 71.2h0.8M30.6 74.9h0.8M24.2 60.6h0.8M21.1 71.1h0.8M27.4 58.3h0.8M32.3 56.3h0.8M20.4 62.2h0.8M21.5 75.4h0.8M20.7 49.8h0.8M21.2 65.9h0.8M23.0 66.6h0.8M23.9 67.0h0.8M23.9 63.3h0.8M22.8 73.0h0.8M26.7 52.1h0.8M20.7 72.9h0.8M21.3 73.7h0.8M32.3 70.6h0.8M24.8 72.3h0.8M22.8 75.3h0.8M21.8 60.5h0.8M23.4 72.7h0.8M24.0 63.6h0.8M32.6 69.1h0.8M27.1 71.9h0.8M20.0 57.2h0.8M23.6 70.9h0.8M32.3 70.2h0.8M20.9 67.3h0.8M25.2 68.7h0.8M27.5 70.6h0.8M30.7 68.8h0.8M20.0 70.6h0.8M25.2 72.7h0.8M24.7 55.2h0.8M19.9 70.7h0.8M32.3 74.8h0.8M21.2 74.5h0.8M23.6 61.7h0.8M32.0 73.9h0.8M19.7 57.9h0.8M21.7 59.0h0.8M28.4 63.2h0.8M31.9 55.1h0.8M26.7 65.3h0.8M25.9 71.0h0.8M22.5 56.5h0.8M24.0 72.9h0.8M21.1 72.5h0.8M21.8 73.4h0.8M26.7 53.2h0.8M29.2 63.4h0.8M21.7 59.5h0.8M21.7 69.3h0.8M24.0 67.8h0.8M31.9 76.5h0.8M21.1 62.7h0.8M25.0 57.9h0.8M30.4 74.4h0.8M30.7 52.5h0.8M34.7 76.5h0.8M19.9 60.0h0.8M31.6 67.5h0.8M25.5 68.0h0.8M23.8 69.9h0.8M30.0 73.7h0.8M23.2 73.1h0.8M21.1 67.5h0.8M26.3 68.1h0.8M34.7 59.5h0.8M27.3 51.2h0.8M28.4 73.3h0.8M30.4 71.0h0.8M22.0 74.8h0.8M27.6 67.6h0.8M31.4 54.4h0.8M23.6 61.7h0.8M26.3 69.0h0.8M24.0 59.8h0.8M27.1 74.2h0.8M22.4 72.4h0.8M19.3 65.7h0.8M21.3 62.2h0.8M31.9 73.1h0.8M35.7 65.5h0.8M24.8 64.6h0.8M25.2 52.8h0.8M32.2 75.5h0.8M23.6 55.3h0.8M20.4 68.9h0.8M21.7 60.7h0.8M27.3 73.8h0.8M26.6 70.1h0.8M19.6 62.4h0.8M25.6 54.6h0.8M25.6 68.9h0.8M22.3 65.0h0.8M26.0 74.7h0.8M25.5 67.8h0.8M32.6 67.2h0.8M33.2 69.5h0.8M26.5 58.1h0.8M22.4 72.9h0.8M19.3 68.6h0.8M34.6 48.4h0.8M22.6 48.2h0.8M25.7 59.9h0.8M26.3 52.4h0.8M26.6 58.2h0.8M32.9 51.7h0.8M22.3 71.2h0.8M33.2 74.8h0.8M19.2 64.7h0.8M21.4 75.9h0.8M27.9 56.0h0.8M28.0 76.2h0.8M22.5 76.3h0.8M26.3 74.9h0.8M22.9 60.8h0.8M21.1 62.4h0.8M24.4 75.0h0.8M24.6 74.4h0.8M22.9 70.9h0.8M27.9 60.2h0.8M19.2 62.9h0.8M23.2 76.0h0.8M32.5 68.2h0.8M26.2 73.8h0.8M20.1 62.7h0.8M25.9 50.7h0.8M31.9 65.4h0.8M26.4 54.6h0.8M26.6 51.5h0.8M21.0 69.9h0.8M23.4 59.9h0.8M24.9 69.0h0.8M20.8 72.9h0.8M21.6 68.2h0.8M19.9 60.8h0.8M32.8 71.5h0.8M22.1 64.3h0.8M26.6 58.8h0.8M33.3 55.2h0.8M23.0 64.1h0.8M20.7 66.6h0.8M24.6 67.5h0.8M23.1 48.7h0.8M23.0 64.1h0.8M23.1 54.5h0.8M33.8 69.5h0.8M23.3 74.0h0.8M22.4 75.8h0.8M23.2 74.1h0.8M29.5 64.3h0.8M26.2 74.6h0.8M19.2 58.5h0.8M21.3 69.5h0.8M29.8 70.2h0.8M24.4 75.3h0.8M20.1 67.2h0.8M21.4 61.0h0.8M20.7 51.5h0.8M24.3 64.7h0.8M20.1 71.7h0.8M30.7 70.6h0.8M20.0 72.4h0.8M28.5 64.3h0.8M22.9 67.9h0.8M21.9 60.5h0.8M29.4 68.8h0.8M28.6 72.6h0.8M21.1 68.5h0.8M23.6 72.9h0.8M27.1 60.7h0.8M23.6 68.6h0.8M28.6 53.9h0.8M24.9 70.4h0.8M26.0 68.7h0.8M25.6 75.2h0.8M19.5 51.9h0.8M23.3 69.0h0.8M32.5 71.3h0.8M20.0 68.6h0.8M35.3 59.4h0.8M20.6 66.9h0.8M20.1 59.6h0.8M26.4 76.0h0.8M26.1 66.0h0.8M28.5 54.6h0.8M20.1 68.4h0.8M33.2 62.8h0.8M29.3 61.6h0.8M33.9 56.6h0.8M29.3 72.5h0.8M31.6 53.9h0.8M19.5 62.3h0.8M23.3 66.6h0.8M20.1 71.5h0.8M28.9 65.1h0.8M33.7 60.1h0.8M23.6 65.9h0.8M22.1 64.3h0.8M23.5 69.7h0.8M25.6 73.2h0.8M24.6 64.0h0.8M31.7 52.3h0.8M24.6 70.8h0.8M23.2 57.0h0.8M27.4 71.6h0.8M26.1 54.3h0.8M24.7 46.8h0.8M22.6 63.2h0.8M20.5 69.6h0.8M19.4 73.5h0.8M22.6 66.2h0.8M24.0 74.1h0.8M20.1 66.5h0.8M26.7 72.9h0.8M21.9 56.8h0.8M29.7 66.1h0.8M34.1 62.1h0.8M24.4 48.2h0.8M20.9 73.3h0.8M33.1 61.8h0.8M28.3 74.5h0.8M35.0 61.0h0.8M20.1 67.7h0.8M22.9 65.7h0.8M34.0 72.1h0.8M31.5 66.7h0.8M20.6 73.7h0.8M35.5 72.4h0.8M22.9 62.8h0.8M23.5 52.1h0.8M22.8 66.5h0.8M25.8 70.5h0.8M23.1 64.4h0.8M24.5 55.1h0.8M25.5 59.1h0.8M31.9 76.5h0.8M33.8 76.5h0.8M22.3 67.3h0.8M31.6 66.3h0.8M31.7 50.5h0.8M21.1 73.4h0.8M21.9 73.4h0.8M29.2 56.7h0.8M29.0 67.1h0.8M20.0 64.5h0.8M27.4 67.9h0.8M21.0 75.2h0.8M29.9 76.0h0.8M20.0 52.1h0.8M21.1 65.0h0.8M22.9 75.5h0.8M34.4 56.9h0.8M24.6 57.5h0.8M19.6 52.0h0.8M20.3 53.5h0.8M19.3 48.2h0.8M23.5 74.3h0.8M31.0 70.9h0.8M23.9 73.6h0.8M25.0 54.9h0.8M27.7 63.5h0.8M25.6 54.6h0.8M20.7 66.5h0.8M26.1 63.4h0.8M23.0 67.9h0.8M24.3 67.5h0.8M26.3 71.5h0.8M21.4 60.2h0.8M25.3 60.8h0.8M23.3 74.7h0.8M21.3 71.9h0.8M22.5 71.4h0.8M24.4 68.5h0.8M25.1 70.2h0.8M20.3 62.6h0.8M32.4 52.0h0.8M19.4 75.8h0.8M30.3 56.9h0.8M25.4 59.7h0.8M29.7 69.2h0.8M24.4 71.3h0.8M30.9 69.1h0.8M26.5 65.2h0.8M31.4 55.2h0.8M29.6 64.4h0.8M26.5 71.9h0.8M22.6 69.7h0.8M35.4 60.3h0.8M29.5 74.3h0.8M28.5 74.3h0.8M30.9 52.4h0.8M24.0 61.5h0.8M33.8 67.3h0.8M25.7 74.6h0.8M27.3 63.1h0.8M22.3 65.1h0.8M23.5 65.7h0.8M31.4 51.3h0.8M24.6 73.6h0.8M26.0 52.3h0.8M29.0 57.1h0.8M27.2 75.2h0.8M25.0 67.9h0.8M28.1 72.3h0.8M22.7 72.5h0.8M20.2 46.8h0.8M19.9 72.1h0.8M32.6 58.5h0.8M23.9 75.3h0.8M22.0 74.3h0.8M20.3 56.1h0.8M25.2 70.7h0.8M26.5 57.8h0.8M25.9 70.5h0.8M20.3 65.6h0.8M23.0 68.7h0.8M26.5 56.8h0.8M32.4 69.8h0.8M19.4 72.9h0.8M33.5 66.7h0.8M26.6 69.0h0.8M30.8 62.7h0.8M21.9 63.6h0.8M31.9 66.7h0.8M24.5 69.2h0.8M28.3 61.1h0.8M23.3 58.9h0.8M29.7 65.0h0.8M31.6 66.2h0.8M23.3 67.8h0.8M22.4 68.2h0.8M35.6 61.4h0.8M25.1 49.5h0.8M23.7 53.5h0.8M19.4 56.0h0.8M31.6 51.6h0.8M24.8 75.6h0.8M24.3 73.6h0.8M30.9 56.1h0.8M25.9 68.3h0.8M24.5 73.9h0.8M21.3 69.6h0.8M19.7 69.2h0.8M28.2 64.8h0.8M19.3 65.1h0.8M30.4 66.4h0.8M19.2 66.2h0.8M21.2 66.5h0.8M32.5 52.0h0.8M28.6 67.8h0.8M26.8 52.9h0.8M21.6 75.2h0.8M20.5 68.1h0.8M33.4 75.1h0.8M20.2 68.6h0.8M23.1 65.5h0.8M20.6 48.9h0.8M32.0 73.0h0.8M22.6 74.0h0.8M27.9 72.8h0.8M19.8 52.7h0.8M29.8 47.5h0.8M22.7 69.0h0.8M22.6 69.5h0.8M25.3 60.2h0.8M19.7 68.8h0.8M31.1 69.3h0.8M22.3 65.4h0.8M26.7 71.0h0.8M32.4 65.0h0.8M25.2 62.9h0.8M27.4 63.7h0.8M25.9 55.2h0.8M20.3 65.6h0.8M35.2 70.1h0.8M28.9 57.2h0.8M26.4 71.4h0.8M23.3 69.4h0.8M28.4 73.3h0.8M19.4 62.2h0.8M33.0 68.0h0.8M21.7 71.7h0.8M28.0 67.1h0.8M29.2 61.2h0.8M30.5 73.4h0.8M25.1 72.7h0.8M27.4 74.7h0.8M26.5 67.9h0.8M25.6 62.5h0.8M35.4 69.2h0.8M32.9 48.6h0.8M25.1 62.5h0.8M30.5 59.5h0.8M25.5 60.8h0.8M21.8 75.7h0.8M23.1 73.2h0.8M21.7 76.1h0.8M28.5 57.4h0.8M20.4 75.6h0.8M30.9 71.7h0.8M29.3 74.0h0.8M19.2 75.7h0.8M35.8 60.2h0.8M32.8 61.6h0.8M27.4 75.7h0.8M28.9 50.9h0.8M25.6 75.2h0.8M30.8 73.3h0.8M19.2 71.2h0.8M33.7 60.6h0.8M19.8 68.1h0.8M26.5 59.9h0.8M35.0 75.7h0.8M20.0 69.2h0.8M30.6 51.6h0.8M20.3 68.2h0.8M23.7 69.3h0.8M32.3 62.3h0.8M27.1 61.5h0.8M28.3 67.8h0.8M27.6 66.7h0.8M24.1 76.0h0.8M23.2 71.4h0.8M20.8 65.3h0.8M23.9 66.5h0.8M30.4 67.1h0.8M23.6 67.7h0.8M21.2 65.9h0.8M26.0 51.6h0.8M28.2 71.3h0.8M33.0 67.1h0.8M22.2 71.3h0.8M28.6 69.9h0.8M33.2 65.0h0.8M24.4 70.5h0.8M20.7 67.8h0.8M19.6 64.0h0.8M34.2 63.9h0.8M22.1 72.6h0.8M25.6 74.3h0.8M29.1 58.8h0.8M28.5 59.0h0.8M32.0 70.1h0.8M19.7 52.7h0.8M22.8 75.9h0.8M21.8 62.5h0.8M21.2 75.8h0.8M22.3 61.6h0.8M21.9 70.4h0.8M20.6 66.3h0.8M20.0 67.2h0.8M29.3 63.1h0.8M22.0 72.8h0.8M32.2 68.5h0.8M30.4 66.1h0.8M23.3 75.8h0.8M22.3 61.1h0.8M23.6 64.9h0.8M22.1 75.1h0.8M21.9 75.7h0.8M22.8 55.2h0.8M22.1 69.5h0.8M30.9 64.5h0.8M25.7 57.6h0.8M27.4 58.9h0.8M19.7 76.0h0.8M34.5 63.4h0.8M30.2 60.5h0.8M32.3 51.3h0.8M19.4 69.2h0.8M27.8 61.2h0.8M23.5 76.4h0.8M29.3 52.2h0.8M29.6 76.2h0.8M35.8 62.2h0.8M29.6 61.5h0.8M35.1 72.4h0.8M33.2 70.3h0.8M24.6 59.4h0.8M25.8 75.0h0.8M25.2 63.7h0.8M22.7 70.9h0.8M27.3 76.1h0.8M19.9 68.3h0.8M24.6 74.1h0.8M22.5 53.3h0.8M22.9 58.7h0.8M26.5 75.5h0.8M19.1 61.8h0.8M21.4 49.7h0.8M33.2 73.8h0.8M23.1 60.5h0.8M22.1 66.5h0.8M27.5 57.1h0.8M19.8 66.3h0.8M22.3 50.4h0.8M25.3 57.9h0.8M27.0 59.2h0.8M20.0 71.2h0.8M32.8 72.2h0.8M23.0 66.3h0.8M25.3 53.0h0.8M26.4 75.4h0.8M32.6 52.0h0.8M26.5 70.7h0.8M23.0 68.5h0.8M26.1 65.7h0.8M33.5 51.2h0.8M22.6 72.2h0.8M21.9 62.1h0.8M26.2 70.9h0.8M23.1 70.0h0.8M30.7 74.6h0.8M19.4 75.0h0.8M28.6 58.2h0.8M24.3 56.9h0.8M21.2 69.7h0.8M23.1 68.5h0.8M26.8 48.4h0.8M26.9 70.6h0.8M28.1 66.4h0.8M19.3 72.8h0.8M23.3 57.3h0.8M26.4 65.8h0.8M25.6 69.3h0.8M20.5 62.1h0.8M31.1 52.0h0.8M21.7 47.0h0.8M21.1 56.6h0.8M25.9 50.3h0.8M30.0 71.6h0.8M22.5 55.7h0.8M24.0 48.1h0.8M26.3 72.1h0.8M22.0 69.8h0.8M19.4 51.5h0.8M30.2 67.5h0.8M20.7 75.5h0.8M24.3 72.9h0.8M24.0 64.8h0.8M25.0 75.9h0.8M20.2 59.2h0.8M26.8 75.5h0.8M28.5 75.3h0.8M30.8 55.0h0.8M25.8 46.7h0.8M22.4 65.9h0.8M26.5 63.7h0.8M19.6 70.3h0.8M30.0 72.5h0.8M31.9 62.1h0.8M25.5 73.8h0.8M26.0 51.0h0.8M22.2 63.3h0.8M29.9 72.7h0.8M21.5 71.4h0.8M24.5 57.6h0.8M26.5 71.4h0.8M22.5 50.2h0.8M35.3 69.0h0.8M28.4 59.2h0.8M27.7 74.6h0.8M35.7 70.9h0.8M22.0 60.8h0.8M23.3 74.8h0.8M27.4 57.4h0.8M19.3 65.6h0.8M19.9 70.1h0.8M21.3 70.5h0.8M25.5 75.7h0.8M21.8 74.0h0.8M30.8 74.3h0.8M26.4 66.8h0.8M22.1 59.5h0.8M29.9 59.0h0.8M23.1 71.9h0.8M34.7 66.5h0.8M32.3 66.3h0.8M23.9 64.2h0.8M19.3 70.7h0.8M19.4 64.8h0.8M24.2 68.8h0.8M26.4 60.4h0.8M34.6 66.1h0.8M21.3 59.4h0.8M25.0 68.8h0.8M28.1 68.4h0.8M29.8 74.3h0.8M24.2 74.2h0.8M20.2 71.1h0.8M25.1 66.0h0.8M31.6 75.5h0.8M22.9 64.8h0.8M19.7 65.8h0.8M30.0 69.9h0.8M24.2 70.1h0.8M20.1 60.6h0.8M23.1 60.4h0.8M19.8 52.2h0.8M24.3 66.6h0.8M20.0 62.3h0.8M21.7 66.1h0.8M30.0 72.4h0.8M28.7 75.4h0.8M20.9 68.4h0.8M26.2 56.6h0.8M22.3 63.7h0.8M22.4 75.2h0.8M30.7 68.2h0.8M34.7 75.4h0.8M25.8 53.8h0.8M27.9 54.6h0.8M27.4 69.8h0.8M24.3 63.5h0.8M26.2 62.7h0.8M22.7 60.7h0.8M20.0 48.2h0.8M29.8 70.0h0.8M20.3 71.0h0.8M22.0 64.2h0.8M32.3 56.5h0.8M24.8 51.7h0.8M30.8 67.8h0.8M26.9 73.7h0.8M29.1 67.4h0.8M22.4 76.0h0.8M24.2 46.9h0.8M21.0 71.0h0.8M26.1 58.5h0.8M24.8 60.7h0.8M27.3 72.7h0.8M21.4 72.5h0.8M22.0 57.1h0.8M23.5 74.0h0.8M22.2 63.9h0.8M19.4 65.8h0.8M29.9 66.9h0.8M24.7 64.1h0.8M34.1 67.9h0.8M32.5 68.9h0.8M22.8 73.0h0.8M20.5 70.2h0.8M20.4 70.1h0.8M24.3 75.7h0.8M20.1 60.6h0.8M29.1 57.4h0.8M19.6 69.2h0.8M20.7 74.6h0.8M22.4 51.8h0.8M27.6 76.2h0.8M23.5 68.4h0.8M27.6 75.3h0.8M32.8 66.6h0.8M26.2 61.6h0.8M25.1 62.7h0.8M28.7 66.8h0.8M23.5 60.2h0.8M29.6 71.8h0.8M20.9 57.4h0.8M23.3 71.9h0.8M31.0 53.8h0.8M22.2 76.2h0.8M26.7 61.3h0.8M26.9 62.4h0.8M26.4 67.2h0.8M20.4 52.9h0.8M24.7 55.9h0.8M24.9 58.2h0.8M31.6 74.3h0.8M22.8 58.5h0.8M19.3 69.8h0.8M20.6 65.7h0.8M22.7 64.1h0.8M34.5 68.8h0.8M33.0 60.4h0.8M20.9 69.6h0.8M26.1 65.7h0.8M21.1 72.6h0.8M25.2 74.7h0.8M30.5 73.5h0.8M23.3 72.2h0.8M29.4 73.9h0.8M28.4 54.0h0.8M30.1 60.8h0.8M19.6 69.4h0.8M31.4 72.2h0.8M25.4 69.3h0.8M32.8 67.2h0.8M19.5 68.0h0.8M27.3 74.6h0.8M21.5 57.3h0.8M21.0 57.7h0.8M19.6 71.3h0.8M24.9 73.2h0.8M21.7 53.9h0.8M30.5 74.7h0.8M28.7 64.4h0.8M26.4 75.6h0.8M21.2 70.4h0.8M26.2 71.2h0.8M22.1 75.6h0.8M25.1 62.5h0.8M20.4 65.4h0.8M22.2 72.6h0.8M20.3 69.7h0.8M30.5 71.3h0.8M33.4 59.3h0.8M23.5 73.3h0.8M21.3 57.8h0.8M23.2 76.3h0.8M24.3 71.8h0.8M24.0 70.0h0.8M24.0 76.2h0.8M29.8 64.7h0.8M33.0 75.9h0.8M24.0 65.5h0.8M27.0 69.0h0.8M19.6 49.0h0.8M21.8 69.9h0.8M35.4 76.2h0.8M25.3 58.7h0.8M24.1 66.1h0.8M21.6 69.9h0.8M32.4 71.0h0.8M33.0 64.0h0.8M29.8 66.1h0.8M25.8 58.0h0.8M27.0 73.9h0.8M33.9 59.1h0.8M25.3 58.7h0.8M29.6 66.8h0.8M28.9 59.4h0.8M27.6 61.8h0.8M21.5 71.4h0.8M33.9 67.6h0.8M34.4 60.7h0.8M31.9 55.8h0.8M30.4 66.2h0.8M33.5 68.8h0.8M32.6 56.4h0.8M31.1 61.0h0.8M23.5 58.6h0.8M31.3 69.0h0.8M32.0 65.2h0.8M21.2 53.9h0.8M27.6 55.2h0.8M23.9 52.8h0.8M21.0 66.3h0.8M22.1 69.2h0.8M23.8 69.2h0.8M23.3 56.4h0.8M24.8 50.8h0.8M25.5 58.9h0.8M24.5 50.5h0.8M33.9 55.5h0.8M22.5 51.0h0.8M20.1 66.1h0.8M27.8 61.6h0.8M22.4 56.8h0.8M34.0 58.7h0.8M34.3 70.0h0.8M20.5 69.2h0.8M31.5 65.8h0.8M27.3 68.4h0.8M21.0 62.4h0.8M22.8 59.3h0.8M21.6 66.1h0.8M27.7 67.6h0.8M28.6 63.7h0.8M33.3 68.4h0.8M27.6 57.7h0.8M33.3 58.7h0.8M20.1 57.8h0.8M29.8 71.0h0.8M28.8 65.1h0.8M33.5 67.6h0.8M25.6 60.7h0.8M30.7 57.5h0.8M20.3 64.1h0.8M31.4 56.0h0.8M29.4 70.1h0.8M20.5 53.5h0.8M26.4 57.9h0.8M33.7 72.4h0.8M25.6 67.9h0.8M28.6 54.3h0.8M34.0 54.3h0.8M19.7 60.5h0.8M25.1 71.5h0.8M25.1 69.2h0.8M31.0 63.4h0.8M22.3 57.2h0.8M26.4 59.2h0.8M28.8 61.6h0.8M23.7 63.8h0.8M34.4 55.0h0.8M23.9 50.8h0.8M20.0 51.7h0.8M25.3 68.9h0.8M29.7 71.8h0.8M31.9 63.4h0.8M27.8 50.8h0.8M24.6 56.3h0.8M28.4 51.9h0.8M27.2 58.8h0.8M26.4 59.4h0.8M20.1 66.6h0.8M31.3 63.7h0.8M20.4 63.7h0.8M32.4 72.2h0.8M30.6 51.5h0.8M32.6 65.1h0.8M22.9 70.7h0.8M31.7 70.2h0.8M22.5 63.2h0.8M24.6 57.0h0.8M30.7 64.1h0.8M23.8 62.4h0.8M33.4 63.0h0.8M33.1 63.0h0.8M34.4 51.1h0.8M25.9 62.6h0.8M30.1 71.8h0.8M28.5 61.0h0.8M28.6 62.2h0.8M29.8 71.3h0.8M32.5 51.8h0.8M31.1 51.2h0.8M28.9 68.1h0.8M22.3 58.9h0.8M22.1 66.0h0.8M27.0 63.8h0.8M23.7 63.4h0.8M33.8 67.6h0.8M33.7 55.9h0.8M26.8 59.0h0.8M24.0 68.2h0.8M21.3 62.8h0.8M30.9 71.1h0.8M26.4 71.1h0.8M21.1 69.0h0.8M24.9 62.6h0.8M33.3 51.9h0.8M23.8 53.9h0.8M20.6 57.2h0.8M29.7 63.3h0.8M20.4 68.1h0.8M26.6 53.6h0.8M31.6 68.6h0.8M22.0 71.2h0.8M31.5 55.5h0.8M31.7 52.6h0.8M30.8 67.5h0.8M28.6 68.8h0.8M34.3 57.7h0.8M31.8 70.8h0.8M23.5 65.5h0.8M29.4 69.2h0.8M27.6 56.6h0.8M22.5 62.4h0.8M20.7 69.4h0.8M32.7 55.8h0.8M29.7 65.3h0.8M20.4 67.6h0.8M30.8 57.2h0.8M20.1 56.7h0.8M30.8 60.8h0.8M31.5 54.0h0.8M20.2 58.2h0.8M32.6 54.1h0.8M19.7 67.1h0.8M20.0 65.2h0.8M19.8 55.9h0.8M29.1 69.7h0.8M25.0 60.4h0.8M22.4 67.9h0.8M29.9 67.8h0.8M27.0 65.9h0.8M43.6 83.1h0.8M35.6 82.5h0.8M32.7 83.2h0.8M38.2 82.9h0.8M47.8 80.5h0.8M48.4 87.2h0.8M67.4 80.2h0.8M52.8 85.2h0.8M40.4 83.9h0.8M32.3 84.7h0.8M41.9 81.8h0.8M55.9 79.0h0.8M44.8 83.7h0.8M49.2 81.0h0.8M34.2 72.2h0.8M39.7 82.9h0.8M49.9 85.4h0.8M63.4 80.0h0.8M49.2 84.4h0.8M41.0 87.2h0.8M53.3 83.2h0.8M44.1 82.8h0.8M50.0 77.4h0.8M54.4 78.7h0.8M38.3 76.6h0.8M49.1 86.6h0.8M41.9 76.1h0.8M32.8 85.0h0.8M43.8 87.3h0.8M44.4 82.9h0.8M63.6 81.2h0.8M54.6 84.7h0.8M37.3 85.5h0.8M50.6 84.5h0.8M47.9 84.2h0.8M49.4 87.2h0.8M42.4 82.1h0.8M50.9 73.4h0.8M49.8 83.3h0.8M43.4 85.6h0.8M39.8 80.5h0.8M76.6 81.5h0.8M42.6 86.2h0.8M41.3 86.6h0.8M48.7 77.9h0.8M41.5 84.7h0.8M35.4 80.6h0.8M52.3 86.0h0.8M38.0 87.3h0.8M44.8 78.7h0.8M59.7 77.3h0.8M38.0 82.6h0.8M51.6 84.4h0.8M38.8 83.9h0.8M50.8 85.8h0.8M59.0 85.6h0.8M41.6 84.0h0.8M43.6 86.3h0.8M36.1 83.9h0.8M39.4 81.0h0.8M35.3 81.7h0.8M39.9 79.2h0.8M41.5 82.2h0.8M42.1 86.3h0.8M56.9 86.3h0.8M55.7 86.0h0.8M44.3 84.3h0.8M35.9 74.6h0.8M50.3 87.4h0.8M52.0 79.0h0.8M34.7 82.2h0.8M34.8 77.1h0.8M40.1 77.3h0.8M48.8 78.4h0.8M59.9 82.3h0.8M48.4 87.4h0.8M34.9 86.8h0.8M48.1 86.1h0.8M33.7 82.0h0.8M39.6 76.2h0.8M59.0 84.3h0.8M33.5 83.1h0.8M33.3 77.7h0.8M34.1 78.1h0.8M57.8 84.0h0.8M37.5 83.8h0.8M54.3 85.9h0.8M33.4 83.4h0.8M37.7 82.0h0.8M44.9 84.3h0.8M34.8 78.9h0.8M44.7 78.0h0.8M53.0 80.2h0.8M36.5 85.5h0.8M32.1 79.6h0.8M36.3 73.6h0.8M44.8 85.8h0.8M31.9 77.2h0.8M44.0 86.0h0.8M72.3 82.5h0.8M36.8 83.8h0.8M64.8 81.7h0.8M63.9 86.0h0.8M32.9 86.9h0.8M42.9 84.7h0.8M33.9 84.6h0.8M37.7 85.4h0.8M37.4 83.2h0.8M48.2 84.4h0.8M38.9 80.0h0.8M36.0 76.9h0.8M53.0 75.0h0.8M37.5 79.3h0.8M46.9 87.0h0.8M55.5 77.1h0.8M37.9 86.0h0.8M63.6 81.4h0.8M57.7 85.7h0.8M33.5 79.4h0.8M39.9 82.4h0.8M40.4 78.8h0.8M75.0 79.0h0.8M42.1 77.8h0.8M45.1 86.6h0.8M39.0 85.3h0.8M42.3 87.2h0.8M34.0 85.0h0.8M56.1 78.3h0.8M40.2 84.5h0.8M33.7 80.1h0.8M46.0 85.4h0.8M66.1 77.5h0.8M56.5 72.8h0.8M40.7 85.0h0.8M70.7 83.3h0.8M56.4 78.9h0.8M36.2 76.5h0.8M38.2 86.1h0.8M39.5 87.2h0.8M37.6 77.0h0.8M42.5 78.3h0.8M55.9 81.8h0.8M70.0 83.6h0.8M54.8 79.6h0.8M62.5 85.7h0.8M38.6 79.7h0.8M51.4 86.7h0.8M61.5 81.4h0.8M39.8 81.4h0.8M72.5 85.3h0.8M38.7 87.2h0.8M39.7 77.2h0.8M34.3 87.2h0.8M48.1 84.5h0.8M57.7 80.8h0.8M32.6 86.3h0.8M43.9 85.4h0.8M40.8 87.0h0.8M34.3 84.2h0.8M52.0 81.8h0.8M39.7 86.2h0.8M67.1 79.2h0.8M65.3 77.4h0.8M46.9 78.5h0.8M57.2 85.2h0.8M44.4 81.4h0.8M34.8 84.5h0.8M44.5 82.9h0.8M33.2 82.9h0.8M55.7 85.5h0.8M64.2 81.7h0.8M52.2 87.4h0.8M47.0 87.3h0.8M35.3 84.7h0.8M35.8 87.1h0.8M49.1 84.2h0.8M50.9 80.5h0.8M35.5 76.3h0.8M40.7 77.3h0.8M37.8 79.4h0.8M56.2 81.2h0.8M39.6 82.4h0.8M45.7 76.7h0.8M33.9 84.8h0.8M36.5 76.6h0.8M49.6 78.2h0.8M53.6 87.1h0.8M53.5 83.2h0.8M44.5 80.2h0.8M39.9 86.4h0.8M47.8 84.7h0.8M51.8 84.3h0.8M42.8 82.7h0.8M46.6 85.0h0.8M58.9 86.8h0.8M46.6 83.3h0.8M45.5 84.3h0.8M32.1 86.8h0.8M60.1 76.2h0.8M36.2 80.4h0.8M34.5 85.8h0.8M57.2 79.7h0.8M32.6 82.6h0.8M41.6 76.2h0.8M48.4 86.7h0.8M35.0 75.5h0.8M53.9 77.5h0.8M49.1 81.8h0.8M58.7 87.0h0.8M41.1 87.0h0.8M57.5 83.8h0.8M60.0 82.7h0.8M41.6 81.2h0.8M62.6 77.8h0.8M37.7 85.9h0.8M47.0 84.1h0.8M32.0 71.9h0.8M33.0 84.5h0.8M34.0 81.6h0.8M45.4 85.3h0.8M60.8 83.2h0.8M43.2 77.8h0.8M51.7 73.3h0.8M46.4 86.1h0.8M38.4 85.9h0.8M52.0 82.8h0.8M42.0 83.1h0.8M40.5 87.2h0.8M41.6 86.4h0.8M40.0 78.9h0.8M48.5 83.1h0.8M32.6 78.7h0.8M36.7 75.9h0.8M39.3 83.5h0.8M66.3 82.2h0.8M37.5 84.1h0.8M39.9 84.4h0.8M40.3 81.9h0.8M32.9 80.9h0.8M48.8 86.9h0.8M37.5 73.0h0.8M66.1 80.9h0.8M32.1 68.7h0.8M57.3 86.3h0.8M41.8 84.2h0.8M55.3 77.1h0.8M48.6 79.6h0.8M52.1 85.9h0.8M34.7 83.8h0.8M45.2 78.9h0.8M36.3 80.8h0.8M43.9 85.7h0.8M39.5 75.4h0.8M46.3 86.1h0.8M32.0 82.2h0.8M34.8 81.7h0.8M39.5 76.1h0.8M43.2 74.2h0.8M36.6 85.2h0.8M41.7 86.8h0.8M33.0 79.4h0.8M41.8 79.6h0.8M43.3 85.8h0.8M60.2 86.7h0.8M34.7 86.2h0.8M44.9 87.4h0.8M36.8 85.1h0.8M41.0 82.6h0.8M42.8 84.2h0.8M41.0 85.2h0.8M48.1 69.8h0.8M47.9 79.7h0.8M34.6 82.5h0.8M74.0 77.5h0.8M54.4 85.4h0.8M38.3 84.4h0.8M68.1 81.7h0.8M32.0 83.8h0.8M49.0 80.6h0.8M37.7 85.6h0.8M37.7 83.4h0.8M51.2 87.3h0.8M57.8 84.3h0.8M46.9 83.1h0.8M62.8 84.6h0.8M46.7 87.3h0.8M46.3 80.6h0.8M33.7 84.4h0.8M41.0 74.9h0.8M34.9 84.9h0.8M43.7 76.5h0.8M40.2 85.8h0.8M40.0 82.8h0.8M38.7 84.9h0.8M39.1 85.9h0.8M48.1 82.1h0.8M48.3 85.7h0.8M34.2 85.1h0.8M50.9 73.7h0.8M57.1 76.1h0.8M33.9 79.4h0.8M37.1 79.1h0.8M41.6 84.4h0.8M60.3 79.8h0.8M39.5 81.6h0.8M39.5 87.2h0.8M40.2 76.0h0.8M41.9 74.2h0.8M35.8 84.4h0.8M33.8 77.3h0.8M42.7 83.4h0.8M50.2 77.1h0.8M62.0 84.9h0.8M39.9 82.8h0.8M59.9 87.0h0.8M43.7 83.6h0.8M37.9 81.3h0.8M50.4 79.0h0.8M47.1 85.7h0.8M37.2 73.6h0.8M36.5 82.3h0.8M41.6 85.7h0.8M39.6 80.0h0.8M51.9 85.1h0.8M50.2 83.2h0.8M64.1 79.6h0.8M39.3 85.7h0.8M43.3 79.1h0.8M41.0 77.9h0.8M36.9 87.0h0.8M33.7 84.0h0.8M60.5 85.7h0.8M43.5 80.9h0.8M54.8 81.2h0.8M47.5 83.2h0.8M39.4 70.5h0.8M37.1 77.6h0.8M41.1 77.3h0.8M62.2 87.0h0.8M54.9 77.1h0.8M39.3 81.0h0.8M60.3 83.1h0.8M74.4 84.8h0.8M68.1 87.3h0.8M36.3 80.1h0.8M37.6 84.8h0.8M46.0 78.6h0.8M39.2 81.9h0.8M40.3 87.0h0.8M51.5 83.8h0.8M37.7 83.1h0.8M38.4 87.1h0.8M59.2 80.8h0.8M49.1 85.3h0.8M40.2 79.1h0.8M58.4 72.4h0.8M58.2 84.9h0.8M35.0 85.5h0.8M43.1 83.5h0.8M44.4 82.8h0.8M64.0 86.8h0.8M43.5 86.7h0.8M32.6 86.5h0.8M32.8 85.6h0.8M46.1 87.0h0.8M42.0 80.0h0.8M43.7 84.6h0.8M34.4 77.3h0.8M36.2 80.3h0.8M45.5 86.7h0.8M50.3 86.0h0.8M40.0 85.0h0.8M54.2 76.9h0.8M50.9 77.8h0.8M35.6 76.6h0.8M45.3 80.3h0.8M56.8 79.3h0.8M51.4 75.0h0.8M38.8 82.8h0.8M51.7 71.8h0.8M58.8 81.0h0.8M51.5 84.6h0.8M37.1 68.0h0.8M39.2 86.7h0.8M75.4 69.7h0.8M73.5 84.2h0.8M32.0 86.4h0.8M44.5 86.2h0.8M46.8 85.5h0.8M66.9 80.4h0.8M64.8 83.3h0.8M33.2 75.0h0.8M49.4 87.2h0.8M44.1 86.2h0.8M47.0 81.2h0.8M34.1 77.0h0.8M36.3 85.4h0.8M37.6 86.7h0.8M37.1 81.9h0.8M36.1 85.8h0.8M61.1 84.8h0.8M70.0 85.0h0.8M45.2 86.9h0.8M79.5 85.7h0.8M35.0 77.7h0.8M41.5 82.0h0.8M62.7 83.1h0.8M42.5 74.8h0.8M52.7 86.7h0.8M40.4 86.2h0.8M48.0 84.5h0.8M38.8 81.4h0.8M47.0 84.0h0.8M34.0 84.4h0.8M33.0 75.3h0.8M54.6 77.0h0.8M32.7 87.4h0.8M32.5 78.5h0.8M34.1 87.0h0.8M43.3 85.9h0.8M72.5 77.7h0.8M33.6 85.3h0.8M34.7 84.9h0.8M35.0 80.6h0.8M39.7 80.7h0.8M40.9 81.9h0.8M36.5 82.1h0.8M35.0 83.7h0.8M51.1 82.1h0.8M68.3 83.4h0.8M54.1 80.9h0.8M39.8 82.1h0.8M48.1 81.1h0.8M32.9 80.1h0.8M57.4 86.2h0.8M45.7 83.3h0.8M39.3 80.8h0.8M66.3 83.4h0.8M37.6 83.6h0.8M50.9 79.6h0.8M32.3 77.3h0.8M48.8 85.2h0.8M51.6 76.5h0.8M36.4 81.8h0.8M38.6 80.5h0.8M32.7 78.1h0.8M54.8 83.6h0.8M49.5 86.3h0.8M52.4 86.6h0.8M39.6 84.5h0.8M42.8 82.3h0.8M47.4 86.4h0.8M47.4 82.0h0.8M34.3 75.9h0.8M47.0 74.9h0.8M39.0 78.9h0.8M34.9 84.9h0.8M35.0 81.2h0.8M49.5 86.9h0.8M80.0 79.9h0.8M65.1 80.4h0.8M34.3 77.2h0.8M34.8 86.5h0.8M44.3 78.9h0.8M41.9 83.6h0.8M36.0 72.3h0.8M40.4 82.5h0.8M74.7 80.0h0.8M57.5 80.6h0.8M52.8 80.7h0.8M42.8 76.5h0.8M34.1 84.6h0.8M49.4 77.0h0.8M37.3 85.2h0.8M49.4 87.2h0.8M35.9 75.5h0.8M75.6 78.0h0.8M37.9 72.2h0.8M38.8 87.3h0.8M31.9 83.0h0.8M38.9 82.3h0.8M40.1 86.5h0.8M38.0 79.9h0.8M33.6 81.7h0.8M55.9 82.0h0.8M42.3 74.0h0.8M43.9 75.3h0.8M33.7 78.9h0.8M50.3 83.1h0.8M38.7 86.5h0.8M35.2 84.7h0.8M57.6 84.6h0.8M34.6 78.4h0.8M39.3 77.2h0.8M42.7 79.4h0.8M35.0 79.1h0.8M42.5 84.6h0.8M52.1 76.7h0.8M58.5 76.0h0.8M38.2 83.2h0.8M38.7 79.7h0.8M68.9 86.2h0.8M53.3 83.3h0.8M57.6 81.7h0.8M61.8 86.5h0.8M37.7 85.6h0.8M36.2 77.9h0.8M34.2 87.0h0.8M32.8 81.1h0.8M32.7 82.8h0.8M39.8 81.5h0.8M41.5 83.2h0.8M64.1 86.4h0.8M33.4 79.9h0.8M47.1 83.5h0.8M40.6 75.5h0.8M38.6 85.7h0.8M42.9 83.9h0.8M50.6 80.9h0.8M48.3 81.0h0.8M36.5 86.2h0.8M64.1 86.6h0.8M56.3 76.6h0.8M57.8 82.5h0.8M39.3 82.3h0.8M42.3 74.8h0.8M45.4 76.0h0.8M61.2 76.9h0.8M33.3 78.9h0.8M37.6 83.5h0.8M37.7 85.8h0.8M35.0 83.7h0.8M40.9 83.7h0.8M47.3 80.3h0.8M64.8 85.9h0.8M32.1 83.2h0.8M42.0 87.1h0.8M32.4 84.1h0.8M45.9 85.0h0.8M50.7 81.3h0.8M42.1 85.4h0.8M49.4 83.3h0.8M53.0 84.2h0.8M57.5 82.2h0.8M33.3 78.7h0.8M47.1 86.8h0.8M48.0 85.7h0.8M50.7 83.9h0.8M58.8 70.5h0.8M34.5 79.4h0.8M36.9 78.2h0.8M75.6 83.3h0.8M32.6 83.1h0.8M48.5 84.9h0.8M35.4 75.9h0.8M36.7 77.2h0.8M39.2 77.2h0.8M36.0 82.8h0.8M41.6 80.8h0.8M49.1 85.2h0.8M34.3 86.7h0.8M52.5 86.4h0.8M34.8 84.9h0.8M40.6 81.3h0.8M43.5 81.3h0.8M48.5 86.7h0.8M34.1 87.0h0.8M73.8 81.2h0.8M35.0 81.6h0.8M43.7 77.5h0.8M36.3 81.5h0.8M45.4 83.9h0.8M49.8 86.4h0.8M70.8 79.8h0.8M46.3 80.7h0.8M39.1 82.4h0.8M73.6 84.1h0.8M53.8 86.0h0.8M57.6 83.3h0.8M49.0 80.8h0.8M39.9 72.7h0.8M41.2 83.9h0.8M41.4 84.9h0.8M34.5 80.0h0.8M39.4 75.9h0.8M47.6 84.7h0.8M37.4 77.2h0.8M34.2 84.6h0.8M44.2 83.8h0.8M39.4 80.7h0.8M46.9 83.0h0.8M32.4 84.0h0.8M49.7 75.8h0.8M62.2 81.8h0.8M43.2 81.5h0.8M39.9 87.3h0.8M35.1 72.3h0.8M35.3 79.8h0.8M58.0 79.2h0.8M53.8 85.3h0.8M64.6 83.6h0.8M38.3 83.5h0.8M45.2 81.6h0.8M48.3 84.1h0.8M41.1 87.3h0.8M36.1 79.5h0.8M43.6 75.6h0.8M67.5 82.1h0.8M46.1 83.1h0.8M33.1 76.5h0.8M39.6 85.9h0.8M76.4 87.3h0.8M46.1 83.1h0.8M46.8 83.3h0.8M61.6 86.6h0.8M37.3 82.8h0.8M37.7 86.0h0.8M32.0 80.7h0.8M42.7 85.8h0.8M40.7 84.5h0.8M38.8 87.1h0.8M46.9 84.8h0.8M47.6 86.9h0.8M32.8 86.2h0.8M53.0 87.1h0.8M50.2 82.7h0.8M46.2 85.9h0.8M44.5 78.6h0.8M37.8 85.7h0.8M44.5 86.2h0.8M61.1 74.1h0.8M65.2 85.3h0.8M53.3 79.3h0.8M33.4 80.1h0.8M40.6 84.7h0.8M47.9 81.0h0.8M55.8 78.3h0.8M45.0 87.1h0.8M34.9 74.0h0.8M55.0 80.0h0.8M49.3 82.6h0.8M50.3 82.0h0.8M34.6 79.6h0.8M41.0 84.7h0.8M35.9 85.7h0.8M42.0 84.7h0.8M38.0 79.6h0.8M59.2 73.9h0.8M42.9 85.5h0.8M62.5 82.5h0.8M44.2 82.5h0.8M76.3 78.3h0.8M38.8 84.6h0.8M44.9 85.0h0.8M58.4 86.2h0.8M52.0 86.9h0.8M40.9 79.3h0.8M40.1 80.9h0.8M41.5 83.8h0.8M32.7 79.6h0.8M43.7 87.0h0.8M33.8 79.8h0.8M39.9 83.8h0.8M50.9 75.1h0.8M43.8 86.0h0.8M53.6 83.7h0.8M65.0 85.9h0.8M38.5 82.3h0.8M55.9 84.2h0.8M40.6 82.4h0.8M37.8 77.7h0.8M38.7 86.3h0.8M34.6 82.7h0.8M55.7 86.0h0.8M66.6 81.0h0.8M67.8 82.7h0.8M52.0 86.4h0.8M35.6 80.3h0.8M50.0 84.9h0.8M39.6 78.7h0.8M57.8 82.8h0.8M35.5 87.1h0.8M38.9 79.0h0.8M43.4 81.3h0.8M50.1 86.3h0.8M43.7 79.8h0.8M40.3 87.0h0.8M49.5 83.0h0.8M45.5 78.6h0.8M62.2 81.6h0.8M50.8 77.9h0.8M48.1 83.9h0.8M37.6 82.1h0.8M53.0 77.0h0.8M32.5 87.2h0.8M51.9 84.5h0.8M54.5 85.2h0.8M37.6 85.7h0.8M41.5 86.0h0.8M36.7 84.5h0.8M45.5 79.6h0.8M55.9 81.3h0.8M62.4 81.6h0.8M70.3 83.6h0.8M34.9 83.9h0.8M53.0 87.1h0.8M48.1 83.3h0.8M43.5 78.9h0.8M36.6 80.5h0.8M34.7 80.8h0.8M34.6 83.1h0.8M42.6 81.3h0.8M35.4 85.8h0.8M38.0 69.5h0.8M35.0 76.0h0.8M34.4 85.2h0.8M66.1 86.8h0.8M32.8 85.8h0.8M38.7 78.7h0.8M56.9 86.9h0.8M42.6 87.4h0.8M34.9 84.5h0.8M44.1 75.3h0.8M50.4 84.5h0.8M36.8 80.1h0.8M48.0 82.1h0.8M47.6 87.1h0.8M52.6 82.4h0.8M50.1 76.5h0.8M38.2 75.6h0.8M45.4 80.2h0.8M32.6 82.5h0.8M42.6 80.4h0.8M33.3 74.6h0.8M32.4 80.8h0.8M36.3 85.9h0.8M50.3 80.5h0.8M36.6 86.2h0.8M48.1 79.7h0.8M51.4 86.2h0.8M32.6 83.0h0.8M39.4 82.4h0.8M65.7 82.2h0.8M45.3 87.0h0.8M36.1 85.9h0.8M33.2 81.4h0.8M38.4 72.0h0.8M58.3 63.8h0.8M47.1 59.7h0.8M55.1 59.0h0.8M39.9 64.0h0.8M38.8 57.5h0.8M55.5 53.9h0.8M45.1 61.5h0.8M47.3 54.6h0.8M44.0 59.5h0.8M58.8 65.4h0.8M40.3 64.8h0.8M50.0 60.5h0.8M43.9 59.8h0.8M34.9 58.2h0.8M52.0 67.4h0.8M58.3 59.4h0.8M49.8 50.4h0.8M43.7 55.5h0.8M51.2 53.7h0.8M38.3 56.1h0.8M48.3 64.7h0.8M39.2 68.9h0.8M46.6 57.3h0.8M47.9 60.9h0.8M51.3 62.5h0.8M60.7 66.1h0.8M41.1 64.5h0.8M50.8 56.6h0.8M40.4 57.5h0.8M28.5 63.8h0.8M44.0 66.4h0.8M41.7 61.3h0.8M50.5 65.3h0.8M47.7 56.4h0.8M60.8 64.8h0.8M54.9 68.1h0.8M55.2 62.8h0.8M48.8 63.8h0.8M35.2 64.6h0.8M38.8 62.9h0.8M38.6 64.1h0.8M42.2 71.9h0.8M46.9 63.2h0.8M39.3 59.7h0.8M45.1 59.7h0.8M42.5 57.2h0.8M50.8 59.3h0.8M39.9 62.6h0.8M39.9 60.2h0.8M42.0 56.9h0.8M44.0 57.4h0.8M36.9 62.5h0.8M43.5 54.6h0.8M42.8 61.8h0.8M48.5 62.6h0.8M47.3 63.6h0.8M42.1 57.5h0.8M49.8 59.2h0.8M45.6 63.9h0.8M52.0 66.4h0.8M40.8 59.4h0.8M49.4 54.7h0.8M36.9 63.7h0.8M41.3 57.0h0.8M51.1 63.3h0.8M51.9 59.6h0.8M43.6 59.5h0.8M47.6 52.1h0.8M40.8 64.1h0.8M40.2 60.7h0.8M46.4 63.3h0.8M42.3 56.0h0.8M62.8 57.9h0.8M57.3 53.3h0.8M46.3 60.1h0.8M58.6 69.9h0.8M52.3 56.6h0.8M40.0 57.7h0.8M42.0 62.1h0.8M40.1 59.9h0.8M55.7 67.3h0.8M32.7 56.8h0.8M43.0 66.7h0.8M43.3 69.4h0.8M48.1 67.3h0.8M39.7 59.6h0.8M52.6 63.5h0.8M32.7 59.8h0.8M46.8 63.8h0.8M41.2 68.6h0.8M46.6 67.3h0.8M48.3 61.4h0.8M43.4 55.9h0.8M51.5 64.3h0.8M52.0 59.4h0.8M38.7 59.4h0.8M43.4 61.0h0.8M52.3 57.0h0.8M42.2 64.0h0.8M51.8 70.7h0.8M49.2 57.3h0.8M38.4 57.6h0.8M46.1 62.1h0.8M45.1 58.3h0.8M44.3 60.7h0.8M49.7 61.4h0.8M40.0 55.9h0.8M55.8 60.6h0.8M44.4 60.9h0.8M53.3 59.6h0.8M46.8 60.0h0.8M49.6 56.6h0.8M47.0 65.5h0.8M53.7 63.7h0.8M47.6 67.9h0.8M50.4 67.1h0.8M37.3 56.2h0.8M51.1 59.8h0.8M42.6 56.9h0.8M55.8 55.8h0.8M46.3 54.9h0.8M44.4 70.8h0.8M62.3 58.9h0.8M38.7 68.1h0.8M39.7 53.2h0.8M48.0 56.3h0.8M35.6 65.9h0.8M40.6 56.4h0.8M46.7 60.2h0.8M53.3 61.4h0.8M56.5 66.0h0.8M57.8 65.9h0.8M46.1 63.4h0.8M45.7 54.2h0.8M37.5 64.2h0.8M29.4 57.4h0.8M36.8 60.7h0.8M38.5 62.1h0.8M44.2 59.0h0.8M39.8 51.3h0.8M46.1 55.4h0.8M43.6 62.6h0.8M52.8 64.1h0.8M55.7 54.8h0.8M50.2 67.8h0.8M48.3 56.2h0.8M48.3 58.8h0.8M41.2 65.6h0.8M44.4 56.1h0.8M41.0 69.6h0.8M39.8 63.9h0.8M46.8 66.1h0.8M43.7 56.9h0.8M41.2 56.5h0.8M63.4 61.9h0.8M43.4 66.5h0.8M50.1 60.2h0.8M49.9 62.2h0.8M53.3 68.2h0.8M43.5 60.9h0.8M44.4 66.3h0.8M48.2 64.4h0.8M51.8 58.2h0.8M46.5 67.0h0.8M51.9 64.5h0.8M43.7 59.4h0.8M39.8 59.8h0.8M45.2 54.8h0.8M53.6 57.7h0.8M47.3 63.6h0.8M41.8 53.1h0.8M52.2 62.8h0.8M43.9 65.9h0.8M51.7 56.9h0.8M45.1 53.3h0.8M43.8 67.2h0.8M39.9 64.6h0.8M35.3 59.7h0.8M52.1 68.5h0.8M48.7 64.3h0.8M57.4 50.4h0.8M33.9 69.2h0.8M62.5 63.6h0.8M46.1 62.1h0.8M45.8 58.3h0.8M45.5 60.5h0.8M50.2 64.0h0.8M52.3 63.6h0.8M39.0 67.1h0.8M27.4 61.5h0.8M47.9 58.7h0.8M58.4 56.3h0.8M37.6 58.8h0.8M48.5 64.5h0.8M46.4 63.9h0.8M40.8 58.4h0.8M46.5 55.2h0.8M46.9 59.3h0.8M50.3 56.6h0.8M42.0 58.5h0.8M66.5 60.4h0.8M68.3 68.7h0.8M28.2 55.5h0.8M70.4 42.2h0.8M62.1 66.9h0.8M67.8 56.8h0.8M51.4 63.7h0.8M70.2 44.9h0.8M53.7 53.6h0.8M59.2 53.6h0.8M32.7 52.3h0.8M80.2 58.4h0.8M79.2 75.7h0.8M37.1 67.3h0.8M19.1 84.9h0.8M62.0 46.7h0.8M54.3 64.5h0.8M64.8 55.0h0.8M81.3 70.5h0.8M23.5 79.6h0.8M79.5 55.7h0.8M67.6 81.5h0.8M79.4 44.8h0.8M76.2 53.0h0.8M73.8 73.4h0.8" stroke="#000" stroke-width="0.8" stroke-opacity="0.42" fill="none" filter="url(#bd)"/>
</g>
<rect x="18.50" y="19.50" width="69.00" height="68.50" fill="none" stroke="#1a1a1a" stroke-width="1"/>
<rect x="18.50" y="47.50" width="16.00" height="25.00" fill="none" stroke="#1c1c1c" stroke-width="1"/>
<rect x="35.50" y="53.00" width="20.00" height="14.00" fill="none" stroke="#1c1c1c" stroke-width="1.2"/>
<text x="21.3" y="44.3" text-anchor="start" fill="#000" style="font-size:6.7px;font-weight:bold;" stroke="#000" stroke-width="0.30">7.6%</text>
<text x="67" y="64.3" text-anchor="start" fill="#000" style="font-size:6.7px;font-weight:bold;" stroke="#000" stroke-width="0.30">0.74%</text>
<line x1="16.5" y1="23.5" x2="18.5" y2="23.5" stroke="#333" stroke-width="0.7"/>
<text x="11.5" y="24.7" fill="#333" style="font-size:2.8px">10<tspan dy="-1.2" style="font-size:2.2px">4</tspan></text>
<line x1="16.5" y1="37.5" x2="18.5" y2="37.5" stroke="#333" stroke-width="0.7"/>
<text x="11.5" y="38.7" fill="#333" style="font-size:2.8px">10<tspan dy="-1.2" style="font-size:2.2px">3</tspan></text>
<line x1="16.5" y1="53.5" x2="18.5" y2="53.5" stroke="#333" stroke-width="0.7"/>
<text x="11.5" y="54.7" fill="#333" style="font-size:2.8px">10<tspan dy="-1.2" style="font-size:2.2px">2</tspan></text>
<line x1="16.5" y1="69.5" x2="18.5" y2="69.5" stroke="#333" stroke-width="0.7"/>
<text x="11.5" y="70.7" fill="#333" style="font-size:2.8px">10<tspan dy="-1.2" style="font-size:2.2px">1</tspan></text>
<line x1="16.5" y1="86" x2="18.5" y2="86" stroke="#333" stroke-width="0.7"/>
<text x="11.5" y="87.2" fill="#333" style="font-size:2.8px">10<tspan dy="-1.2" style="font-size:2.2px">0</tspan></text>
<line x1="21.0" y1="88" x2="21.0" y2="90" stroke="#333" stroke-width="0.7"/>
<text x="19.0" y="93.5" fill="#333" style="font-size:2.8px">10<tspan dy="-1.2" style="font-size:2.2px">0</tspan></text>
<line x1="36.5" y1="88" x2="36.5" y2="90" stroke="#333" stroke-width="0.7"/>
<text x="34.5" y="93.5" fill="#333" style="font-size:2.8px">10<tspan dy="-1.2" style="font-size:2.2px">1</tspan></text>
<line x1="54.5" y1="88" x2="54.5" y2="90" stroke="#333" stroke-width="0.7"/>
<text x="52.5" y="93.5" fill="#333" style="font-size:2.8px">10<tspan dy="-1.2" style="font-size:2.2px">2</tspan></text>
<line x1="71.5" y1="88" x2="71.5" y2="90" stroke="#333" stroke-width="0.7"/>
<text x="69.5" y="93.5" fill="#333" style="font-size:2.8px">10<tspan dy="-1.2" style="font-size:2.2px">3</tspan></text>
<line x1="86.0" y1="88" x2="86.0" y2="90" stroke="#333" stroke-width="0.7"/>
<text x="84.0" y="93.5" fill="#333" style="font-size:2.8px">10<tspan dy="-1.2" style="font-size:2.2px">4</tspan></text>
<clipPath id="c102a"><rect x="102.5" y="19.5" width="70.0" height="68.5"/></clipPath>
<g clip-path="url(#c102a)">
<rect x="98.5" y="76.5" width="14.0" height="17.5" fill="#000" opacity="0.50" filter="url(#b2)"/>
<rect x="99.5" y="56.5" width="10.0" height="20.0" fill="#000" opacity="0.26" filter="url(#b3)"/>
<ellipse cx="124.5" cy="85" rx="9.0" ry="6" fill="#000" opacity="0.10" filter="url(#b3)"/>
<path d="M115.9 84.1h0.8M109.2 62.2h0.8M110.5 85.2h0.8M103.4 75.4h0.8M108.6 82.1h0.8M103.4 71.6h0.8M108.1 77.2h0.8M105.4 78.6h0.8M111.0 82.4h0.8M106.7 86.9h0.8M105.0 87.3h0.8M113.7 84.9h0.8M106.3 71.7h0.8M103.2 68.3h0.8M107.3 81.3h0.8M110.1 84.8h0.8M103.8 84.3h0.8M111.9 78.2h0.8M104.3 83.0h0.8M103.9 80.8h0.8M108.1 75.0h0.8M111.0 81.7h0.8M104.3 84.2h0.8M107.3 75.6h0.8M105.7 86.2h0.8M105.7 86.6h0.8M105.1 85.1h0.8M105.7 78.3h0.8M115.7 72.9h0.8M103.5 66.8h0.8M105.0 79.7h0.8M106.2 76.7h0.8M109.7 79.2h0.8M110.5 64.4h0.8M103.8 78.0h0.8M104.3 84.7h0.8M111.6 79.4h0.8M104.1 75.5h0.8M109.2 84.3h0.8M103.5 76.4h0.8M108.1 82.3h0.8M110.8 85.3h0.8M106.5 83.6h0.8M103.1 82.6h0.8M111.9 77.3h0.8M105.4 85.9h0.8M111.3 73.8h0.8M114.1 70.2h0.8M106.9 85.4h0.8M104.0 83.5h0.8M106.6 82.7h0.8M105.2 85.7h0.8M111.6 78.8h0.8M103.9 86.3h0.8M106.6 72.6h0.8M105.6 82.2h0.8M103.6 84.8h0.8M117.7 81.9h0.8M105.0 69.4h0.8M110.1 81.1h0.8M108.2 78.0h0.8M104.7 82.6h0.8M106.9 87.1h0.8M108.7 79.3h0.8M105.7 77.0h0.8M114.8 81.4h0.8M103.9 77.9h0.8M108.8 82.7h0.8M103.8 77.9h0.8M115.3 85.8h0.8M103.3 82.3h0.8M108.7 83.5h0.8M112.2 87.2h0.8M108.1 81.0h0.8M104.5 75.5h0.8M106.1 83.5h0.8M104.8 80.7h0.8M109.3 78.5h0.8M105.8 85.7h0.8M113.6 72.4h0.8M111.8 75.7h0.8M104.4 81.0h0.8M109.6 75.9h0.8M107.6 84.0h0.8M112.5 84.9h0.8M113.7 76.3h0.8M104.3 80.6h0.8M105.7 79.3h0.8M108.8 78.9h0.8M106.6 84.6h0.8M104.7 81.0h0.8M114.5 85.6h0.8M103.9 81.6h0.8M103.7 83.5h0.8M111.6 85.4h0.8M104.5 87.2h0.8M103.9 79.3h0.8M104.7 86.1h0.8M112.9 85.5h0.8M106.6 74.9h0.8M104.5 82.3h0.8M110.3 85.4h0.8M106.1 85.3h0.8M109.1 71.0h0.8M103.8 81.2h0.8M106.2 87.1h0.8M106.5 81.6h0.8M103.5 84.4h0.8M104.4 77.7h0.8M104.2 80.7h0.8M105.3 87.0h0.8M103.8 78.0h0.8M103.3 82.2h0.8M108.4 77.3h0.8M108.3 76.7h0.8M109.4 85.7h0.8M104.4 75.3h0.8M103.1 85.6h0.8M108.8 77.9h0.8M114.7 87.1h0.8M107.3 83.2h0.8M111.7 86.5h0.8M110.7 82.5h0.8M113.4 86.6h0.8M108.8 85.4h0.8M105.8 80.7h0.8M103.5 80.8h0.8M114.4 83.6h0.8M107.9 80.7h0.8M105.4 84.6h0.8M111.0 85.2h0.8M105.9 81.6h0.8M108.8 80.8h0.8M113.6 77.9h0.8M108.0 75.8h0.8M112.2 82.0h0.8M116.7 66.8h0.8M110.0 82.4h0.8M103.5 84.5h0.8M105.3 74.9h0.8M104.9 82.4h0.8M113.4 86.8h0.8M111.4 73.6h0.8M111.8 80.2h0.8M111.4 87.0h0.8M104.9 87.3h0.8M110.8 81.8h0.8M104.2 85.5h0.8M113.8 87.1h0.8M112.5 76.0h0.8M107.9 85.1h0.8M103.4 83.4h0.8M103.8 79.3h0.8M106.5 68.7h0.8M117.2 80.4h0.8M110.9 82.5h0.8M105.9 87.4h0.8M103.6 84.1h0.8M104.9 78.1h0.8M109.9 79.8h0.8M104.8 85.9h0.8M108.6 86.9h0.8M103.6 85.0h0.8M117.9 81.2h0.8M108.3 86.0h0.8M112.4 86.1h0.8M106.4 84.0h0.8M109.7 84.0h0.8M108.4 80.4h0.8M108.1 83.2h0.8M108.9 87.3h0.8M106.5 75.2h0.8M109.9 78.9h0.8M105.2 76.8h0.8M105.2 80.9h0.8M104.5 85.4h0.8M117.3 81.6h0.8M111.7 77.3h0.8M109.0 84.6h0.8M103.5 86.2h0.8M104.3 75.9h0.8M103.1 83.2h0.8M109.2 82.8h0.8M110.1 80.0h0.8M106.1 78.1h0.8M107.3 86.7h0.8M109.4 68.4h0.8M105.7 79.9h0.8M108.7 83.3h0.8M104.3 85.6h0.8M103.2 82.8h0.8M107.4 83.2h0.8M108.3 80.3h0.8M113.4 77.2h0.8M104.2 79.0h0.8M107.0 73.2h0.8M111.2 84.8h0.8M106.0 80.5h0.8M120.0 81.6h0.8M117.9 82.4h0.8M110.6 86.2h0.8M106.1 73.8h0.8M113.3 86.7h0.8M110.4 82.4h0.8M105.2 77.9h0.8M107.3 81.1h0.8M106.2 85.9h0.8M108.7 87.0h0.8M107.0 81.2h0.8M110.6 83.7h0.8M103.1 82.1h0.8M112.0 73.3h0.8M112.6 86.8h0.8M108.9 83.2h0.8M103.3 87.4h0.8M107.1 79.7h0.8M112.9 64.6h0.8M109.1 74.1h0.8M106.7 74.0h0.8M104.3 84.5h0.8M116.7 82.6h0.8M108.7 82.5h0.8M110.9 79.3h0.8M106.3 87.4h0.8M103.8 86.2h0.8M105.1 78.9h0.8M103.7 73.0h0.8M110.1 71.2h0.8M107.2 87.3h0.8M107.0 72.6h0.8M110.1 80.4h0.8M115.6 73.0h0.8M103.2 85.4h0.8M106.9 87.4h0.8M105.9 83.6h0.8M103.3 76.9h0.8M106.1 82.9h0.8M115.8 80.2h0.8M119.6 82.3h0.8M103.8 81.7h0.8M105.7 76.8h0.8M108.9 82.2h0.8M103.7 77.7h0.8M106.2 76.4h0.8M104.4 87.1h0.8M107.5 77.3h0.8M110.6 85.2h0.8M116.7 75.0h0.8M104.4 80.7h0.8M113.9 76.4h0.8M115.8 80.5h0.8M111.1 82.9h0.8M110.8 84.3h0.8M108.3 80.3h0.8M108.8 79.7h0.8M108.9 84.4h0.8M108.0 84.7h0.8M104.9 70.6h0.8M105.5 75.2h0.8M106.9 74.5h0.8M112.5 63.7h0.8M103.6 80.7h0.8M103.3 71.7h0.8M111.4 73.5h0.8M107.2 85.3h0.8M108.1 80.8h0.8M107.7 86.8h0.8M110.9 83.6h0.8M104.5 75.2h0.8M112.5 77.8h0.8M110.6 86.8h0.8M107.0 87.1h0.8M118.4 83.1h0.8M104.3 85.9h0.8M106.7 79.6h0.8M114.4 84.1h0.8M112.1 72.3h0.8M108.4 70.8h0.8M111.3 77.4h0.8M108.6 70.7h0.8M106.8 66.6h0.8M113.5 85.8h0.8M109.9 84.2h0.8M111.7 82.4h0.8M107.3 78.3h0.8M108.2 71.3h0.8M107.8 80.4h0.8M114.6 86.4h0.8M103.2 81.1h0.8M109.7 80.3h0.8M112.5 68.6h0.8M103.8 87.0h0.8M108.7 80.7h0.8M117.5 75.2h0.8M108.5 83.1h0.8M107.2 86.8h0.8M107.3 77.5h0.8M105.9 79.3h0.8M103.6 77.1h0.8M105.4 78.5h0.8M110.6 81.8h0.8M113.2 86.5h0.8M108.0 85.0h0.8M105.2 83.0h0.8M105.6 79.8h0.8M109.7 85.2h0.8M105.7 83.6h0.8M105.7 76.8h0.8M107.3 85.7h0.8M107.2 85.1h0.8M104.8 77.2h0.8M113.3 73.2h0.8M103.1 82.9h0.8M107.4 85.6h0.8M108.6 72.3h0.8M103.8 87.2h0.8M106.7 83.3h0.8M107.0 81.3h0.8M109.2 77.6h0.8M119.7 83.2h0.8M110.5 82.2h0.8M108.4 79.4h0.8M112.4 76.2h0.8M104.9 84.1h0.8M110.5 80.4h0.8M103.5 86.8h0.8M103.4 72.9h0.8M104.9 57.7h0.8M106.9 82.4h0.8M108.0 74.3h0.8M108.5 86.4h0.8M106.4 59.9h0.8M108.7 84.0h0.8M106.3 75.3h0.8M109.6 87.0h0.8M106.5 81.2h0.8M112.6 80.8h0.8M113.0 85.4h0.8M105.9 72.7h0.8M116.3 77.8h0.8M108.7 86.3h0.8M103.5 87.4h0.8M109.6 76.5h0.8M106.9 76.7h0.8M107.8 75.5h0.8M110.6 86.5h0.8M105.0 78.6h0.8M109.8 86.5h0.8M103.4 74.2h0.8M108.1 75.3h0.8M109.3 79.0h0.8M112.3 75.3h0.8M112.8 82.6h0.8M106.9 82.6h0.8M110.4 83.3h0.8M110.3 85.8h0.8M104.6 86.7h0.8M108.9 81.0h0.8M104.6 74.1h0.8M105.3 86.0h0.8M110.5 74.2h0.8M103.3 82.1h0.8M107.4 80.6h0.8M119.8 81.7h0.8M114.7 71.4h0.8M105.8 85.1h0.8M103.3 79.7h0.8M109.2 81.7h0.8M105.2 80.7h0.8M104.0 78.3h0.8M115.8 65.6h0.8M108.7 81.7h0.8M109.8 75.3h0.8M107.4 82.7h0.8M108.8 87.3h0.8M104.3 72.1h0.8M106.8 81.3h0.8M106.4 82.2h0.8M113.0 79.3h0.8M120.3 78.5h0.8M104.6 77.5h0.8M105.9 82.4h0.8M103.7 70.8h0.8M108.0 81.2h0.8M103.4 81.7h0.8M108.0 78.2h0.8M111.1 84.0h0.8M107.7 79.3h0.8M105.7 78.3h0.8M104.8 82.1h0.8M103.6 86.5h0.8M106.9 79.0h0.8M111.0 81.8h0.8M115.8 82.4h0.8M119.2 86.8h0.8M107.4 82.2h0.8M113.8 78.1h0.8M103.2 87.3h0.8M107.2 81.9h0.8M113.2 80.8h0.8M110.8 75.9h0.8M104.3 82.0h0.8M105.4 87.1h0.8M103.4 77.6h0.8M106.1 86.1h0.8M104.0 80.0h0.8M106.3 81.9h0.8M104.3 83.8h0.8M110.6 85.0h0.8M111.5 84.2h0.8M115.8 80.2h0.8M103.9 83.3h0.8M104.3 86.5h0.8M107.6 83.9h0.8M112.5 75.0h0.8M109.1 82.9h0.8M106.7 79.7h0.8M112.2 78.3h0.8M104.5 79.8h0.8M109.6 68.2h0.8M106.3 80.5h0.8M106.1 84.6h0.8M109.4 76.1h0.8M105.3 79.0h0.8M104.3 77.1h0.8M108.3 77.8h0.8M103.3 81.9h0.8M104.4 80.8h0.8M112.6 77.2h0.8M104.1 79.8h0.8M106.6 86.5h0.8M117.7 82.8h0.8M107.9 83.4h0.8M106.6 72.5h0.8M104.8 78.7h0.8M111.7 83.8h0.8M113.9 86.7h0.8M104.4 74.2h0.8M104.2 86.4h0.8M111.9 82.8h0.8M109.7 82.9h0.8M110.4 80.5h0.8M113.6 85.2h0.8M117.9 75.3h0.8M106.4 82.6h0.8M110.8 85.4h0.8M113.7 83.2h0.8M105.8 72.9h0.8M110.6 85.0h0.8M114.1 86.4h0.8M106.1 86.4h0.8M107.5 79.4h0.8M103.1 74.1h0.8M112.6 74.9h0.8M107.9 85.4h0.8M107.2 77.6h0.8M105.1 84.0h0.8M109.3 85.7h0.8M107.3 86.9h0.8M104.3 86.4h0.8M106.3 81.0h0.8M106.1 79.8h0.8M107.9 76.1h0.8M106.5 82.7h0.8M117.4 78.4h0.8M110.5 81.8h0.8M105.3 85.0h0.8M105.1 69.8h0.8M112.4 78.0h0.8M109.5 84.0h0.8M106.1 81.2h0.8M103.5 83.5h0.8M107.5 84.9h0.8M112.9 69.6h0.8M105.0 79.5h0.8M107.3 83.0h0.8M106.4 68.0h0.8M117.5 77.1h0.8M104.5 86.0h0.8M104.5 76.9h0.8M105.1 72.3h0.8M119.0 77.5h0.8M116.8 80.7h0.8M108.1 84.5h0.8M106.2 75.2h0.8M103.3 86.5h0.8M106.6 74.7h0.8M103.5 84.4h0.8M109.8 83.6h0.8M112.2 77.8h0.8M120.6 73.8h0.8M103.2 79.1h0.8M105.3 79.8h0.8M112.4 77.5h0.8M106.9 83.3h0.8M111.8 86.2h0.8M106.0 76.7h0.8M106.3 73.3h0.8M110.8 76.8h0.8M113.4 73.5h0.8M103.9 84.7h0.8M107.0 77.4h0.8M107.7 69.2h0.8M103.8 78.4h0.8M107.0 71.1h0.8M103.9 77.1h0.8M115.0 82.1h0.8M106.8 86.4h0.8M104.4 84.6h0.8M106.2 81.9h0.8M111.5 77.7h0.8M108.2 76.1h0.8M110.0 84.5h0.8M117.0 86.2h0.8M104.5 85.8h0.8M104.1 86.5h0.8M109.4 79.6h0.8M106.0 74.6h0.8M104.0 83.3h0.8M121.6 71.5h0.8M112.5 67.9h0.8M104.8 78.9h0.8M109.3 70.1h0.8M103.4 84.6h0.8M109.4 78.5h0.8M105.1 84.2h0.8M105.9 86.7h0.8M105.4 87.4h0.8M103.1 82.2h0.8M105.3 86.4h0.8M108.7 79.0h0.8M105.3 76.7h0.8M110.9 84.4h0.8M105.4 79.1h0.8M107.1 77.9h0.8M104.0 86.1h0.8M110.1 86.6h0.8M112.1 77.9h0.8M107.6 86.0h0.8M104.5 87.2h0.8M112.9 80.2h0.8M103.5 84.9h0.8M105.7 78.6h0.8M115.6 63.2h0.8M104.2 87.0h0.8M108.8 78.5h0.8M111.8 74.7h0.8M104.5 87.0h0.8M110.6 84.1h0.8M106.7 82.8h0.8M109.6 77.8h0.8M104.5 75.2h0.8M105.5 79.4h0.8M105.9 85.3h0.8M107.6 78.4h0.8M105.1 79.2h0.8M114.5 85.1h0.8M109.6 81.5h0.8M106.9 75.0h0.8M104.0 79.4h0.8M108.8 76.2h0.8M105.0 77.6h0.8M104.2 81.7h0.8M107.0 83.8h0.8M110.6 84.9h0.8M115.5 85.0h0.8M103.7 80.0h0.8M110.7 85.1h0.8M104.7 79.7h0.8M106.1 84.5h0.8M106.0 87.4h0.8M105.0 81.8h0.8M110.4 84.8h0.8M107.2 82.2h0.8M104.9 77.8h0.8M103.6 84.7h0.8M103.1 86.5h0.8M109.2 74.0h0.8M108.2 79.4h0.8M109.3 79.2h0.8M110.8 76.4h0.8M118.7 83.2h0.8M117.7 73.0h0.8M106.2 78.9h0.8M104.1 84.8h0.8M109.9 80.0h0.8M107.9 83.2h0.8M107.3 82.1h0.8M104.0 79.0h0.8M105.4 71.1h0.8M103.6 87.1h0.8M106.4 86.0h0.8M105.0 80.0h0.8M110.3 83.0h0.8M105.6 70.9h0.8M107.9 83.0h0.8M103.8 81.3h0.8M107.1 80.1h0.8M108.0 85.3h0.8M106.7 85.4h0.8M108.7 80.9h0.8M105.2 83.9h0.8M104.2 85.8h0.8M104.9 85.9h0.8M110.0 84.5h0.8M110.0 81.6h0.8M106.7 83.0h0.8M106.5 85.9h0.8M108.7 80.1h0.8M106.9 76.4h0.8M115.3 80.2h0.8M105.6 81.4h0.8M107.5 70.7h0.8M113.5 84.9h0.8M109.5 80.3h0.8M107.2 76.5h0.8M103.7 82.8h0.8M103.7 74.5h0.8M105.8 69.7h0.8M104.5 86.4h0.8M104.3 81.9h0.8M104.0 78.3h0.8M104.0 87.3h0.8M104.0 74.0h0.8M115.3 83.6h0.8M105.3 78.2h0.8M108.9 81.9h0.8M114.7 82.3h0.8M107.4 78.9h0.8M103.3 79.7h0.8M107.6 86.5h0.8M107.0 76.9h0.8M104.3 85.5h0.8M105.5 87.3h0.8M103.4 81.2h0.8M107.4 80.6h0.8M104.9 85.8h0.8M110.5 82.7h0.8M115.0 82.0h0.8M103.7 78.4h0.8M107.9 84.6h0.8M105.3 79.7h0.8M109.5 80.3h0.8M111.4 84.9h0.8M103.7 84.2h0.8M113.4 79.7h0.8M103.1 77.6h0.8M107.1 79.1h0.8M107.0 83.1h0.8M111.2 82.0h0.8M108.4 86.3h0.8M106.6 82.0h0.8M104.2 83.2h0.8M107.4 86.2h0.8M107.7 83.8h0.8M110.4 84.8h0.8M106.9 79.0h0.8M111.4 82.5h0.8M106.2 78.2h0.8M105.1 84.8h0.8M107.0 77.4h0.8M105.7 82.2h0.8M103.1 77.6h0.8M111.0 64.2h0.8M103.8 75.3h0.8M107.8 76.9h0.8M114.4 74.0h0.8M110.4 80.9h0.8M109.4 84.0h0.8M115.3 83.0h0.8M106.7 78.0h0.8M113.7 84.7h0.8M108.9 86.9h0.8M107.8 78.8h0.8M107.7 82.7h0.8M103.3 87.1h0.8M106.2 79.8h0.8M104.0 87.2h0.8M104.1 86.4h0.8M105.6 79.3h0.8M106.5 85.3h0.8M108.0 78.4h0.8M103.3 84.2h0.8M103.6 82.3h0.8M113.9 85.1h0.8M104.2 74.1h0.8M106.9 74.0h0.8M110.9 86.2h0.8M107.9 78.3h0.8M107.8 82.6h0.8M106.0 78.6h0.8M107.0 80.0h0.8M106.5 87.0h0.8M108.1 73.7h0.8M111.5 79.9h0.8M107.6 80.6h0.8M105.7 78.4h0.8M103.6 83.1h0.8M108.8 81.8h0.8M112.9 85.7h0.8M105.3 84.1h0.8M103.7 79.9h0.8M105.5 75.5h0.8M115.5 76.8h0.8M109.1 84.4h0.8M103.3 83.2h0.8M107.0 83.3h0.8M105.2 84.9h0.8M108.6 80.0h0.8M105.6 75.0h0.8M103.3 75.1h0.8M103.8 86.0h0.8M104.8 86.3h0.8M104.2 77.5h0.8M113.2 81.5h0.8M109.2 74.8h0.8M111.7 83.0h0.8M107.1 77.6h0.8M109.5 87.3h0.8M107.9 84.0h0.8M112.5 71.9h0.8M103.5 70.0h0.8M109.3 87.2h0.8M106.7 79.8h0.8M103.6 81.7h0.8M106.8 86.9h0.8M105.0 72.4h0.8M103.5 74.4h0.8M103.5 79.4h0.8M107.2 86.8h0.8M109.2 69.9h0.8M105.8 85.7h0.8M109.3 86.5h0.8M120.8 81.8h0.8M104.5 82.0h0.8M104.4 86.2h0.8M110.9 79.2h0.8M104.1 83.0h0.8M115.7 83.6h0.8M104.4 84.7h0.8M106.7 85.4h0.8M105.0 79.8h0.8M114.8 82.0h0.8M104.5 79.1h0.8M107.9 87.1h0.8M111.4 85.0h0.8M107.1 77.7h0.8M113.1 80.4h0.8M112.1 83.2h0.8M111.3 82.2h0.8M103.4 73.1h0.8M104.4 68.4h0.8M116.0 76.2h0.8M108.1 75.8h0.8M103.8 73.2h0.8M112.1 61.6h0.8M117.7 70.8h0.8M118.1 76.5h0.8M108.9 66.6h0.8M104.5 65.2h0.8M105.4 61.9h0.8M104.4 60.5h0.8M104.1 61.0h0.8M106.7 70.9h0.8M108.4 70.5h0.8M111.4 66.8h0.8M109.0 73.7h0.8M105.3 67.1h0.8M103.3 66.6h0.8M110.1 63.9h0.8M117.2 72.7h0.8M105.5 76.8h0.8M103.5 60.6h0.8M104.3 69.1h0.8M108.9 73.9h0.8M105.1 67.1h0.8M105.4 54.4h0.8M106.6 63.7h0.8M110.1 62.2h0.8M103.5 69.7h0.8M112.9 75.2h0.8M113.4 68.0h0.8M106.9 54.7h0.8M105.5 68.9h0.8M104.5 54.8h0.8M119.0 71.4h0.8M114.6 64.7h0.8M110.7 77.9h0.8M106.3 68.0h0.8M104.3 78.0h0.8M105.4 54.2h0.8M113.7 76.1h0.8M109.4 65.6h0.8M104.1 61.4h0.8M104.8 75.9h0.8M108.7 67.7h0.8M106.3 64.9h0.8M108.9 66.6h0.8M113.4 58.8h0.8M104.8 73.6h0.8M111.2 62.6h0.8M106.7 74.4h0.8M103.4 68.2h0.8M106.0 68.7h0.8M112.0 58.6h0.8M109.4 53.8h0.8M105.0 62.5h0.8M104.9 75.6h0.8M111.2 60.7h0.8M106.5 64.5h0.8M104.1 69.8h0.8M110.4 56.8h0.8M104.0 75.0h0.8M107.2 72.3h0.8M105.0 69.8h0.8M111.4 69.0h0.8M119.6 71.9h0.8M104.2 51.5h0.8M106.9 70.9h0.8M108.9 72.0h0.8M108.3 69.6h0.8M114.9 61.9h0.8M107.8 74.6h0.8M111.8 65.3h0.8M112.8 76.1h0.8M104.9 75.3h0.8M104.0 57.3h0.8M110.0 55.2h0.8M109.4 67.2h0.8M110.5 64.3h0.8M103.6 71.7h0.8M103.8 67.3h0.8M105.8 62.5h0.8M105.9 62.0h0.8M105.5 72.3h0.8M107.2 67.0h0.8M107.8 76.5h0.8M103.8 74.1h0.8M109.2 72.7h0.8M110.4 56.4h0.8M109.5 62.3h0.8M114.8 58.3h0.8M112.7 69.9h0.8M108.5 61.8h0.8M104.2 75.0h0.8M111.1 75.6h0.8M116.7 74.4h0.8M103.6 76.4h0.8M108.0 70.1h0.8M105.2 67.7h0.8M115.2 74.7h0.8M109.3 51.2h0.8M103.8 75.2h0.8M112.0 75.1h0.8M108.1 75.5h0.8M108.9 65.9h0.8M112.8 58.1h0.8M105.1 74.1h0.8M106.6 75.3h0.8M105.9 69.4h0.8M108.6 70.2h0.8M103.6 60.4h0.8M104.3 65.8h0.8M108.2 56.7h0.8M111.2 64.9h0.8M105.0 62.3h0.8M104.3 77.8h0.8M116.5 70.7h0.8M106.4 73.8h0.8M105.7 62.9h0.8M107.4 67.3h0.8M107.3 76.7h0.8M106.4 75.6h0.8M115.0 54.6h0.8M108.9 71.7h0.8M106.0 63.9h0.8M105.6 59.1h0.8M110.8 70.6h0.8M104.4 75.6h0.8M107.4 60.1h0.8M104.4 77.7h0.8M113.8 59.5h0.8M106.5 73.2h0.8M115.0 63.4h0.8M107.9 72.6h0.8M104.1 68.7h0.8M105.8 72.9h0.8M104.1 77.6h0.8M113.0 77.4h0.8M113.0 74.9h0.8M112.0 75.8h0.8M106.7 65.8h0.8M107.2 50.5h0.8M116.7 73.8h0.8M106.2 64.6h0.8M110.7 64.9h0.8M106.9 69.1h0.8M108.6 72.8h0.8M110.6 77.7h0.8M111.2 78.1h0.8M106.7 73.8h0.8M109.6 76.1h0.8M107.7 67.2h0.8M113.5 55.4h0.8M113.1 75.2h0.8M105.7 60.0h0.8M103.2 56.0h0.8M103.5 65.3h0.8M103.2 64.9h0.8M104.8 71.7h0.8M104.4 75.5h0.8M103.4 66.1h0.8M105.4 67.3h0.8M112.6 75.6h0.8M107.0 73.9h0.8M112.3 70.4h0.8M108.5 76.0h0.8M105.2 72.2h0.8M104.1 74.3h0.8M108.1 68.6h0.8M113.0 61.9h0.8M109.5 72.2h0.8M111.4 67.2h0.8M105.5 74.9h0.8M104.4 64.1h0.8M104.8 74.6h0.8M107.9 77.8h0.8M111.1 73.7h0.8M109.8 69.2h0.8M103.3 72.8h0.8M104.6 77.0h0.8M103.4 57.8h0.8M106.9 74.3h0.8M106.3 70.6h0.8M106.6 76.3h0.8M106.4 58.2h0.8M112.0 72.2h0.8M104.7 77.6h0.8M109.0 62.9h0.8M103.6 64.1h0.8M105.5 60.6h0.8M115.5 69.9h0.8M109.3 74.9h0.8M104.4 63.6h0.8M110.5 77.4h0.8M103.2 62.0h0.8M116.7 74.1h0.8M105.9 74.2h0.8M107.5 64.5h0.8M106.9 71.4h0.8M104.2 61.3h0.8M103.3 75.4h0.8M106.3 58.7h0.8M106.2 67.8h0.8M111.9 74.5h0.8M103.7 64.7h0.8M108.3 67.7h0.8M106.7 77.1h0.8M115.8 77.0h0.8M104.3 70.5h0.8M107.5 58.2h0.8M105.4 63.5h0.8M109.6 68.8h0.8M109.0 77.0h0.8M112.6 63.6h0.8M109.2 72.1h0.8M106.6 67.9h0.8M119.5 73.1h0.8M105.7 76.2h0.8M113.1 74.7h0.8M114.3 68.7h0.8M113.2 54.8h0.8M103.3 74.1h0.8M103.8 60.1h0.8M104.6 73.2h0.8M116.8 66.1h0.8M103.3 67.5h0.8M114.0 72.8h0.8M110.4 61.9h0.8M106.5 66.5h0.8M103.2 65.9h0.8M119.2 77.3h0.8M110.4 77.0h0.8M110.5 69.8h0.8M115.0 65.4h0.8M103.1 64.7h0.8M104.3 68.7h0.8M116.1 58.1h0.8M117.0 78.1h0.8M111.7 77.9h0.8M103.3 63.6h0.8M104.0 77.5h0.8M104.8 64.7h0.8M106.7 61.3h0.8M104.8 67.5h0.8M112.8 59.9h0.8M115.2 67.7h0.8M107.1 62.2h0.8M110.7 55.0h0.8M105.6 61.4h0.8M103.6 77.3h0.8M104.9 53.8h0.8M104.2 64.4h0.8M108.0 70.6h0.8M103.9 52.7h0.8M111.1 68.3h0.8M109.3 58.2h0.8M111.7 70.8h0.8M104.3 71.7h0.8M103.8 64.9h0.8M104.3 70.1h0.8M108.0 58.5h0.8M103.8 55.0h0.8M109.3 53.7h0.8M109.6 62.9h0.8M115.1 49.4h0.8M107.9 68.0h0.8M103.2 66.0h0.8M108.3 52.1h0.8M114.5 73.5h0.8M107.3 78.0h0.8M103.2 57.6h0.8M115.0 69.8h0.8M104.6 70.4h0.8M115.8 71.2h0.8M106.6 71.9h0.8M112.0 72.8h0.8M108.9 71.3h0.8M104.0 53.2h0.8M105.4 61.4h0.8M104.5 56.0h0.8M115.7 58.7h0.8M106.8 77.2h0.8M112.4 66.8h0.8M105.8 60.3h0.8M107.0 70.6h0.8M110.1 67.4h0.8M106.0 68.6h0.8M105.4 76.5h0.8M107.4 59.4h0.8M105.7 69.3h0.8M105.6 68.5h0.8M109.8 69.5h0.8M119.7 65.5h0.8M105.7 68.4h0.8M115.1 74.3h0.8M107.1 74.6h0.8M105.1 70.0h0.8M110.0 74.8h0.8M110.5 68.0h0.8M108.7 60.5h0.8M106.1 60.1h0.8M105.9 63.5h0.8M106.7 58.2h0.8M105.8 70.8h0.8M119.3 73.5h0.8M106.1 64.5h0.8M103.3 66.7h0.8M107.7 60.6h0.8M107.7 76.9h0.8M103.6 75.6h0.8M106.0 76.2h0.8M108.6 62.6h0.8M110.5 78.4h0.8M117.3 58.4h0.8M104.7 76.6h0.8M110.0 68.8h0.8M105.5 68.3h0.8M103.3 69.2h0.8M108.0 49.6h0.8M104.0 76.5h0.8M103.6 60.1h0.8M119.3 76.6h0.8M108.8 71.8h0.8M114.0 61.1h0.8M112.5 64.1h0.8M109.3 57.6h0.8M107.2 76.4h0.8M110.0 65.2h0.8M117.7 66.2h0.8M105.5 68.0h0.8M106.2 75.6h0.8M105.3 65.9h0.8M103.9 68.9h0.8M109.1 68.1h0.8M111.9 68.3h0.8M119.5 68.4h0.8M107.7 67.1h0.8M109.2 59.7h0.8M110.9 75.7h0.8M103.2 60.7h0.8M115.8 70.0h0.8M108.6 51.2h0.8M116.6 78.1h0.8M111.3 69.2h0.8M108.3 58.5h0.8M105.3 67.4h0.8M105.6 60.3h0.8M110.2 77.0h0.8M109.6 74.3h0.8M113.8 60.6h0.8M108.0 63.8h0.8M106.9 77.6h0.8M107.1 63.2h0.8M105.8 75.1h0.8M107.1 70.8h0.8M107.2 76.4h0.8M109.4 72.6h0.8M109.2 68.1h0.8M104.9 61.3h0.8M111.8 65.2h0.8M119.8 78.4h0.8M106.7 60.0h0.8M107.3 63.4h0.8M103.6 57.1h0.8M106.9 50.0h0.8M111.8 75.8h0.8M106.5 74.2h0.8M106.8 77.6h0.8M104.4 65.3h0.8M104.8 71.7h0.8M103.2 63.3h0.8M107.6 78.3h0.8M106.8 75.1h0.8M108.5 65.1h0.8M119.7 70.7h0.8M108.7 70.4h0.8M111.7 77.5h0.8M107.2 54.8h0.8M107.3 68.8h0.8M115.6 72.0h0.8M111.5 66.9h0.8M104.1 69.6h0.8M113.5 72.4h0.8M103.5 58.1h0.8M113.1 66.5h0.8M110.6 72.8h0.8M106.3 58.7h0.8M112.5 57.7h0.8M105.1 66.7h0.8M113.9 66.6h0.8M106.4 72.3h0.8M104.1 70.0h0.8M103.6 67.9h0.8M105.4 73.0h0.8M116.0 63.2h0.8M108.4 77.1h0.8M115.2 64.3h0.8M103.7 52.5h0.8M105.0 73.1h0.8M103.2 64.1h0.8M112.8 55.7h0.8M103.5 67.5h0.8M109.7 68.4h0.8M104.1 70.1h0.8M116.8 72.4h0.8M108.8 72.1h0.8M105.4 78.4h0.8M105.5 70.7h0.8M110.8 75.4h0.8M112.8 64.8h0.8M117.5 64.0h0.8M114.3 54.7h0.8M108.6 77.1h0.8M107.7 62.7h0.8M105.0 59.4h0.8M112.8 76.2h0.8M107.5 74.0h0.8M103.7 58.3h0.8M109.0 69.4h0.8M112.5 72.2h0.8M104.3 64.0h0.8M110.1 60.7h0.8M103.3 78.3h0.8M105.1 63.0h0.8M105.0 63.7h0.8M112.9 56.6h0.8M110.7 78.4h0.8M106.9 71.1h0.8M116.9 66.1h0.8M104.3 74.6h0.8M111.1 67.6h0.8M105.1 64.1h0.8M109.4 69.7h0.8M103.3 78.3h0.8M113.4 78.2h0.8M103.5 74.3h0.8M105.1 76.9h0.8M104.6 76.7h0.8M103.9 71.0h0.8M107.5 73.4h0.8M106.1 54.3h0.8M109.0 72.3h0.8M106.7 54.5h0.8M103.4 72.9h0.8M103.4 70.6h0.8M104.8 77.4h0.8M110.3 76.4h0.8M103.9 65.3h0.8M111.5 73.0h0.8M111.8 68.8h0.8M108.9 61.1h0.8M111.1 50.6h0.8M115.1 71.6h0.8M105.8 70.7h0.8M103.5 55.0h0.8M112.3 64.0h0.8M105.4 65.2h0.8M109.2 59.2h0.8M110.5 67.2h0.8M103.4 63.5h0.8M105.9 61.0h0.8M112.8 64.0h0.8M112.3 67.1h0.8M109.1 53.5h0.8M104.3 57.2h0.8M105.9 77.7h0.8M103.2 50.1h0.8M104.0 71.8h0.8M112.6 68.1h0.8M104.6 70.6h0.8M105.9 68.7h0.8M104.4 67.1h0.8M109.8 68.6h0.8M106.9 63.9h0.8M113.4 54.8h0.8M111.4 76.2h0.8M103.1 75.6h0.8M109.0 66.4h0.8M114.8 55.0h0.8M111.3 59.7h0.8M107.9 71.2h0.8M108.7 76.9h0.8M113.6 63.5h0.8M112.8 68.2h0.8M116.3 60.1h0.8M105.1 49.4h0.8M108.8 50.3h0.8M103.6 57.4h0.8M115.2 58.4h0.8M104.6 51.3h0.8M106.2 64.3h0.8M107.4 61.5h0.8M110.0 75.2h0.8M105.4 49.7h0.8M109.3 55.2h0.8M106.5 65.6h0.8M107.9 77.2h0.8M105.2 72.6h0.8M104.6 72.9h0.8M110.3 74.9h0.8M103.7 75.3h0.8M113.4 70.6h0.8M114.1 65.8h0.8M114.8 69.4h0.8M103.8 71.7h0.8M112.2 64.4h0.8M104.6 73.8h0.8M109.8 56.5h0.8M103.6 57.0h0.8M103.4 73.5h0.8M111.7 48.6h0.8M104.8 76.6h0.8M109.0 72.6h0.8M110.3 76.2h0.8M116.1 72.8h0.8M105.6 65.9h0.8M118.7 72.5h0.8M108.7 54.8h0.8M103.4 75.5h0.8M114.9 75.8h0.8M110.2 49.6h0.8M108.4 66.3h0.8M109.1 76.7h0.8M104.8 76.1h0.8M105.4 73.2h0.8M103.7 74.4h0.8M106.1 62.4h0.8M108.8 76.8h0.8M108.4 58.4h0.8M105.4 60.5h0.8M104.1 54.5h0.8M107.2 71.4h0.8M107.2 53.6h0.8M105.4 57.3h0.8M106.2 68.3h0.8M103.8 78.5h0.8M106.0 62.2h0.8M103.7 51.9h0.8M106.2 62.7h0.8M104.0 65.5h0.8M107.5 76.4h0.8M107.7 55.7h0.8M106.2 51.5h0.8M106.4 56.0h0.8M109.3 61.3h0.8M104.4 76.8h0.8M104.7 72.2h0.8M109.7 68.9h0.8M107.0 68.0h0.8M114.6 61.0h0.8M107.7 59.8h0.8M105.3 73.3h0.8M105.3 68.5h0.8M106.0 78.3h0.8M109.3 50.4h0.8M106.2 74.1h0.8M117.7 74.1h0.8M104.9 68.7h0.8M112.5 62.9h0.8M106.1 76.2h0.8M105.9 60.5h0.8M103.7 61.2h0.8M105.8 78.4h0.8M109.7 68.0h0.8M105.9 70.9h0.8M112.5 72.0h0.8M106.1 72.6h0.8M115.1 67.1h0.8M110.2 78.3h0.8M107.8 76.8h0.8M109.6 60.9h0.8M108.2 72.9h0.8M109.4 69.6h0.8M107.4 71.6h0.8M104.6 71.8h0.8M113.0 75.7h0.8M106.7 62.7h0.8M105.3 77.1h0.8M110.0 68.6h0.8M109.7 64.7h0.8M107.5 76.6h0.8M107.8 64.5h0.8M106.8 62.2h0.8M105.4 64.7h0.8M104.5 69.5h0.8M113.4 61.3h0.8M106.1 55.4h0.8M103.7 72.6h0.8M113.3 78.2h0.8M106.4 58.9h0.8M103.3 71.8h0.8M116.8 68.6h0.8M109.6 77.2h0.8M109.0 64.8h0.8M104.9 50.0h0.8M109.4 73.4h0.8M104.5 70.8h0.8M113.1 73.8h0.8M108.8 72.6h0.8M105.1 68.4h0.8M104.0 70.4h0.8M105.9 75.8h0.8M110.1 68.2h0.8M105.0 70.6h0.8M107.3 77.0h0.8M106.6 73.8h0.8M106.3 71.9h0.8M103.1 57.4h0.8M104.2 58.7h0.8M105.0 77.7h0.8M111.6 69.0h0.8M105.6 75.5h0.8M114.1 49.0h0.8M110.6 63.4h0.8M111.0 64.2h0.8M103.8 67.6h0.8M104.8 66.5h0.8M107.0 71.8h0.8M108.9 65.8h0.8M106.3 64.0h0.8M107.6 60.3h0.8M111.0 75.2h0.8M115.2 71.9h0.8M110.6 75.8h0.8M104.6 48.8h0.8M111.6 51.3h0.8M106.9 72.4h0.8M108.8 75.2h0.8M106.6 70.5h0.8M106.1 67.3h0.8M110.5 75.5h0.8M115.1 74.7h0.8M109.8 48.8h0.8M109.5 65.0h0.8M106.8 77.8h0.8M112.0 65.2h0.8M105.0 59.9h0.8M104.0 76.9h0.8M108.8 72.0h0.8M115.8 65.5h0.8M103.5 64.5h0.8M107.3 55.9h0.8M104.3 77.1h0.8M106.7 78.0h0.8M105.9 67.3h0.8M108.2 78.5h0.8M111.4 67.6h0.8M112.9 76.2h0.8M114.4 72.0h0.8M111.7 57.2h0.8M103.5 67.8h0.8M109.5 60.2h0.8M109.1 73.7h0.8M112.8 78.1h0.8M105.6 69.3h0.8M105.9 67.9h0.8M107.4 70.5h0.8M105.6 63.1h0.8M105.3 56.4h0.8M104.8 66.7h0.8M104.1 74.0h0.8M107.3 76.4h0.8M114.6 77.8h0.8M111.8 73.3h0.8M111.6 65.2h0.8M105.8 72.7h0.8M108.2 75.6h0.8M107.4 70.5h0.8M103.9 71.8h0.8M110.9 77.0h0.8M111.6 78.1h0.8M105.9 62.4h0.8M105.0 74.2h0.8M103.8 72.4h0.8M110.6 49.9h0.8M113.4 73.4h0.8M107.3 69.1h0.8M105.3 58.3h0.8M111.5 72.0h0.8M115.6 61.3h0.8M114.6 52.5h0.8M103.2 68.2h0.8M105.8 77.6h0.8M112.0 69.8h0.8M117.1 53.2h0.8M103.9 69.2h0.8M110.3 73.3h0.8M113.0 75.3h0.8M103.7 70.2h0.8M116.2 75.7h0.8M110.9 58.7h0.8M107.2 61.7h0.8M112.1 68.8h0.8M107.8 52.3h0.8M110.2 70.4h0.8M112.7 75.0h0.8M119.1 48.6h0.8M107.3 61.8h0.8M113.0 69.3h0.8M105.0 61.7h0.8M104.0 51.5h0.8M104.3 76.9h0.8M107.4 73.3h0.8M110.3 64.4h0.8M108.5 67.9h0.8M105.4 73.4h0.8M103.3 69.5h0.8M107.0 64.9h0.8M105.2 66.5h0.8M107.0 52.2h0.8M107.9 74.2h0.8M104.3 71.7h0.8M107.0 64.7h0.8M103.7 74.0h0.8M103.2 72.6h0.8M104.6 78.4h0.8M106.7 63.6h0.8M104.6 75.9h0.8M103.1 75.0h0.8M116.1 73.0h0.8M107.3 64.1h0.8M106.4 60.2h0.8M111.0 69.8h0.8M108.7 64.7h0.8M111.7 62.2h0.8M115.1 67.0h0.8M109.4 75.4h0.8M109.1 69.3h0.8M109.8 74.3h0.8M115.8 75.6h0.8M108.0 56.2h0.8M105.4 77.6h0.8M110.1 73.3h0.8M105.2 48.8h0.8M112.9 68.9h0.8M107.0 77.4h0.8M103.4 74.5h0.8M116.4 68.1h0.8M110.5 69.2h0.8M106.5 71.0h0.8M108.7 74.4h0.8M114.1 66.1h0.8M114.5 71.2h0.8M105.6 69.4h0.8M105.1 73.0h0.8M108.3 58.2h0.8M107.9 64.4h0.8M106.2 73.2h0.8M108.9 76.7h0.8M104.8 77.4h0.8M104.3 75.6h0.8M106.4 60.5h0.8M104.1 72.3h0.8M115.4 63.2h0.8M107.9 54.3h0.8M106.7 69.9h0.8M105.1 78.4h0.8M111.5 76.0h0.8M105.7 69.9h0.8M114.4 59.2h0.8M109.0 74.9h0.8M104.7 50.3h0.8M110.4 75.7h0.8M111.5 59.4h0.8M111.7 57.4h0.8M107.1 73.1h0.8M109.1 68.7h0.8M109.0 67.4h0.8M111.1 72.4h0.8M106.6 71.2h0.8M104.4 70.6h0.8M109.7 78.1h0.8M103.3 63.6h0.8M104.2 73.3h0.8M106.4 70.5h0.8M108.2 74.7h0.8M113.6 64.9h0.8M108.8 70.7h0.8M105.1 75.6h0.8M108.0 76.1h0.8M103.5 78.2h0.8M107.8 74.4h0.8M108.4 77.7h0.8M108.2 78.5h0.8M103.8 73.8h0.8M103.3 66.1h0.8M111.8 66.2h0.8M106.1 60.3h0.8M104.2 76.0h0.8M110.1 78.2h0.8M112.6 64.3h0.8M109.7 59.7h0.8M106.5 51.4h0.8M104.8 61.2h0.8M106.4 76.4h0.8M109.8 70.8h0.8M112.1 71.4h0.8M108.4 63.3h0.8M106.3 78.1h0.8M109.1 75.6h0.8M103.6 75.1h0.8M111.8 71.1h0.8M107.8 69.1h0.8M105.4 75.9h0.8M109.4 65.9h0.8M108.5 69.7h0.8M108.5 77.4h0.8M107.4 69.3h0.8M111.5 72.7h0.8M109.3 69.2h0.8M110.8 57.7h0.8M109.2 70.7h0.8M109.1 70.3h0.8M104.2 68.8h0.8M114.5 77.7h0.8M113.6 53.6h0.8M112.9 62.0h0.8M103.8 76.3h0.8M103.8 76.6h0.8M107.6 78.5h0.8M106.1 64.4h0.8M115.6 53.7h0.8M108.9 69.2h0.8M104.2 69.9h0.8M103.7 75.0h0.8M106.9 61.8h0.8M109.3 62.4h0.8M107.4 70.6h0.8M110.7 75.2h0.8M109.0 68.4h0.8M109.2 60.1h0.8M104.9 64.8h0.8M104.4 68.3h0.8M109.6 71.8h0.8M107.4 53.0h0.8M112.5 62.9h0.8M110.9 61.5h0.8M108.5 74.8h0.8M116.5 76.2h0.8M109.9 65.2h0.8M103.8 73.3h0.8M103.2 78.0h0.8M113.2 70.6h0.8M105.2 73.0h0.8M106.5 59.9h0.8M115.1 76.6h0.8M108.1 63.7h0.8M106.7 73.8h0.8M107.1 64.9h0.8M104.8 75.9h0.8M104.0 61.9h0.8M111.7 72.2h0.8M103.5 75.2h0.8M106.7 76.9h0.8M110.2 67.2h0.8M105.2 69.2h0.8M103.6 57.4h0.8M106.5 76.7h0.8M109.6 75.2h0.8M105.1 74.7h0.8M106.5 58.7h0.8M108.8 64.1h0.8M106.2 66.3h0.8M110.2 52.6h0.8M114.6 70.2h0.8M118.3 73.2h0.8M113.7 62.8h0.8M106.8 68.0h0.8M109.2 59.6h0.8M104.4 65.8h0.8M113.9 69.4h0.8M104.9 57.0h0.8M112.7 55.4h0.8M116.7 72.9h0.8M112.6 58.3h0.8M111.5 69.4h0.8M108.0 66.8h0.8M112.1 72.5h0.8M114.9 67.2h0.8M111.2 72.1h0.8M112.1 67.7h0.8M107.5 54.9h0.8M111.4 57.4h0.8M118.0 57.4h0.8M116.8 59.8h0.8M105.6 65.2h0.8M107.7 74.4h0.8M112.4 54.7h0.8M107.5 55.0h0.8M110.4 64.1h0.8M107.6 67.3h0.8M109.6 70.5h0.8M113.4 58.2h0.8M115.8 53.2h0.8M106.3 53.1h0.8M117.7 64.3h0.8M116.0 74.3h0.8M104.0 72.3h0.8M115.2 61.0h0.8M116.7 69.4h0.8M110.5 58.7h0.8M105.0 54.2h0.8M111.2 64.0h0.8M105.5 64.2h0.8M103.8 59.1h0.8M113.2 55.8h0.8M110.9 55.4h0.8M116.6 57.2h0.8M117.4 72.7h0.8M117.9 58.7h0.8M113.4 54.0h0.8M118.1 67.7h0.8M104.2 60.2h0.8M117.5 69.9h0.8M107.7 70.3h0.8M108.7 54.2h0.8M117.2 67.0h0.8M118.4 66.6h0.8M112.4 55.3h0.8M110.1 72.2h0.8M111.4 66.5h0.8M109.9 60.4h0.8M105.5 54.5h0.8M103.4 69.1h0.8M118.4 67.8h0.8M115.8 57.1h0.8M116.1 60.9h0.8M116.2 57.7h0.8M107.3 64.1h0.8M106.1 58.2h0.8M114.1 69.9h0.8M118.2 66.9h0.8M108.1 62.8h0.8M111.9 65.5h0.8M117.2 65.0h0.8M117.9 63.0h0.8M109.6 53.1h0.8M107.7 63.1h0.8M104.4 58.4h0.8M116.6 72.6h0.8M104.3 65.4h0.8M110.3 53.7h0.8M107.3 64.3h0.8M109.3 65.0h0.8M103.6 66.0h0.8M112.3 56.7h0.8M111.6 73.0h0.8M116.8 66.1h0.8M110.8 69.0h0.8M109.8 68.0h0.8M108.5 64.7h0.8M114.2 65.4h0.8M112.1 61.0h0.8M108.1 66.9h0.8M109.6 62.2h0.8M108.6 58.9h0.8M112.5 71.8h0.8M105.6 66.8h0.8M111.0 66.5h0.8M113.1 61.3h0.8M110.8 66.4h0.8M117.3 67.0h0.8M113.0 60.2h0.8M115.2 55.4h0.8M116.7 63.3h0.8M109.8 67.7h0.8M111.2 74.4h0.8M104.4 53.9h0.8M112.0 57.5h0.8M106.1 74.5h0.8M111.0 58.9h0.8M108.3 57.5h0.8M106.5 55.5h0.8M118.1 68.7h0.8M108.3 54.9h0.8M118.1 72.1h0.8M104.0 71.6h0.8M111.3 74.2h0.8M109.5 62.1h0.8M106.3 71.9h0.8M106.1 71.9h0.8M107.8 70.2h0.8M113.9 73.0h0.8M111.7 60.4h0.8M106.7 57.7h0.8M104.2 59.1h0.8M107.6 70.6h0.8M110.6 56.0h0.8M113.6 57.1h0.8M114.4 56.2h0.8M116.6 59.4h0.8M104.0 55.8h0.8M105.8 55.4h0.8M107.5 73.9h0.8M108.5 61.2h0.8M114.5 54.1h0.8M103.9 71.6h0.8M107.7 56.3h0.8M105.4 68.9h0.8M118.1 61.3h0.8M113.9 62.7h0.8M105.8 59.4h0.8M107.9 58.0h0.8M115.2 54.5h0.8M108.7 68.7h0.8M112.3 66.8h0.8M105.6 57.0h0.8M116.0 74.0h0.8M105.7 54.2h0.8M112.0 54.6h0.8M116.0 71.1h0.8M111.6 84.2h0.8M137.7 87.0h0.8M135.3 85.4h0.8M121.3 83.2h0.8M113.1 85.5h0.8M123.5 86.7h0.8M140.7 80.0h0.8M112.5 79.7h0.8M118.7 83.0h0.8M130.5 86.3h0.8M125.7 84.4h0.8M140.0 71.1h0.8M112.5 74.2h0.8M111.8 85.4h0.8M112.9 79.9h0.8M112.0 76.7h0.8M134.9 81.8h0.8M111.2 85.7h0.8M124.6 87.3h0.8M134.8 76.9h0.8M138.0 85.1h0.8M112.5 79.6h0.8M148.8 81.8h0.8M116.0 79.3h0.8M112.1 79.2h0.8M113.3 84.7h0.8M139.4 81.1h0.8M125.9 74.6h0.8M128.0 85.4h0.8M113.9 85.0h0.8M113.9 71.4h0.8M131.9 73.5h0.8M126.1 85.2h0.8M156.4 77.1h0.8M132.4 84.0h0.8M153.0 82.6h0.8M117.3 77.7h0.8M117.2 84.5h0.8M126.8 86.3h0.8M116.9 81.7h0.8M134.1 83.7h0.8M130.4 86.4h0.8M126.0 83.0h0.8M126.7 79.0h0.8M112.4 84.9h0.8M115.8 85.5h0.8M110.4 86.8h0.8M113.8 86.1h0.8M115.2 84.1h0.8M135.9 86.0h0.8M141.6 82.7h0.8M125.0 78.9h0.8M118.8 86.2h0.8M148.4 84.1h0.8M135.6 86.7h0.8M143.4 84.2h0.8M122.2 87.2h0.8M114.3 85.3h0.8M114.8 82.6h0.8M119.2 86.6h0.8M115.3 84.7h0.8M117.9 86.1h0.8M114.5 87.0h0.8M120.8 80.7h0.8M141.3 78.9h0.8M117.3 66.1h0.8M137.5 82.6h0.8M109.7 64.0h0.8M113.0 80.2h0.8M116.6 73.9h0.8M157.2 80.2h0.8M130.6 80.2h0.8M111.3 83.8h0.8M122.5 78.3h0.8M114.8 86.5h0.8M119.1 85.1h0.8M112.1 76.1h0.8M115.0 81.7h0.8M118.5 86.5h0.8M112.1 80.5h0.8M111.4 76.6h0.8M123.7 78.0h0.8M119.5 79.7h0.8M118.0 79.9h0.8M119.1 87.2h0.8M127.0 77.4h0.8M110.8 85.0h0.8M112.4 76.4h0.8M117.8 78.9h0.8M125.9 85.0h0.8M112.3 80.1h0.8M114.8 81.5h0.8M112.5 81.9h0.8M114.8 78.9h0.8M129.6 86.9h0.8M126.0 80.5h0.8M123.9 80.0h0.8M119.6 85.9h0.8M110.1 82.2h0.8M122.2 79.2h0.8M132.8 87.0h0.8M115.7 83.3h0.8M124.2 80.2h0.8M115.6 77.3h0.8M114.6 86.9h0.8M139.2 77.6h0.8M161.6 80.6h0.8M110.8 78.9h0.8M130.2 86.4h0.8M151.1 81.6h0.8M120.0 86.2h0.8M126.8 86.3h0.8M123.4 73.3h0.8M114.6 86.0h0.8M118.2 87.2h0.8M140.1 85.0h0.8M118.4 81.0h0.8M131.0 74.4h0.8M123.1 82.1h0.8M133.7 84.6h0.8M123.4 83.9h0.8M119.3 84.1h0.8M125.2 80.2h0.8M127.4 87.1h0.8M109.6 79.7h0.8M116.6 83.3h0.8M133.0 84.3h0.8M128.3 79.4h0.8M127.6 78.7h0.8M120.8 85.3h0.8M126.3 81.0h0.8M133.4 73.9h0.8M122.4 76.1h0.8M120.3 85.2h0.8M119.2 74.7h0.8M112.3 80.0h0.8M118.2 85.0h0.8M118.0 76.2h0.8M118.1 85.8h0.8M116.5 79.2h0.8M128.8 79.8h0.8M133.3 81.1h0.8M110.6 86.0h0.8M122.7 85.9h0.8M129.7 86.1h0.8M130.3 84.9h0.8M140.0 82.5h0.8M134.1 83.4h0.8M109.7 83.8h0.8M120.0 70.1h0.8M117.0 84.8h0.8M119.4 84.6h0.8M131.8 83.4h0.8M116.6 85.5h0.8M128.8 71.6h0.8M135.2 83.1h0.8M113.2 86.1h0.8M114.0 72.8h0.8M126.1 85.9h0.8M114.4 83.9h0.8M112.7 85.0h0.8M115.9 85.1h0.8M114.6 85.0h0.8M126.2 68.1h0.8M111.4 80.4h0.8M143.0 66.0h0.8M117.6 86.9h0.8M122.1 78.7h0.8M124.0 84.5h0.8M112.1 85.7h0.8M129.9 85.5h0.8M135.2 82.0h0.8M110.6 81.1h0.8M123.2 84.1h0.8M158.7 79.6h0.8M118.5 86.9h0.8M111.2 87.0h0.8M117.4 86.0h0.8M147.2 81.5h0.8M112.1 78.7h0.8M115.0 77.8h0.8M113.5 83.5h0.8M111.9 80.9h0.8M138.6 79.5h0.8M120.8 85.0h0.8M111.0 84.1h0.8M111.3 87.4h0.8M129.3 83.8h0.8M130.6 86.0h0.8M113.9 83.6h0.8M124.4 84.4h0.8M137.0 85.6h0.8M127.8 85.0h0.8M120.2 86.5h0.8M115.8 81.6h0.8M131.0 74.3h0.8M114.0 82.3h0.8M124.2 85.1h0.8M114.0 79.4h0.8M128.0 82.0h0.8M120.6 82.2h0.8M119.0 81.4h0.8M117.3 84.2h0.8M111.2 85.7h0.8M119.6 79.1h0.8M117.3 80.9h0.8M119.7 82.0h0.8M113.5 86.9h0.8M148.6 78.1h0.8M123.3 85.1h0.8M142.7 74.6h0.8M126.7 86.4h0.8M123.9 75.7h0.8M113.3 77.7h0.8M114.3 81.8h0.8M114.8 81.7h0.8M126.4 83.9h0.8M115.5 85.3h0.8M113.2 87.0h0.8M131.9 76.6h0.8M128.4 87.3h0.8M126.0 86.7h0.8M112.7 84.4h0.8M136.2 81.9h0.8M136.6 86.1h0.8M122.5 79.1h0.8M128.6 81.6h0.8M122.9 82.3h0.8M131.4 83.6h0.8M113.9 83.3h0.8M132.4 67.9h0.8M128.5 81.2h0.8M117.2 82.9h0.8M112.7 84.5h0.8M126.1 81.0h0.8M111.2 64.9h0.8M115.3 84.1h0.8M131.1 84.5h0.8M131.2 84.9h0.8M118.8 84.5h0.8M126.7 75.7h0.8M119.8 78.7h0.8M122.1 86.6h0.8M137.9 82.1h0.8M140.7 87.1h0.8M114.5 81.3h0.8M128.1 87.2h0.8M131.6 85.5h0.8M120.5 81.8h0.8M130.8 81.5h0.8M128.6 82.4h0.8M111.2 85.8h0.8M119.4 75.2h0.8M120.6 87.1h0.8M117.5 82.4h0.8M118.4 86.8h0.8M113.0 84.2h0.8M122.6 86.6h0.8M114.6 85.2h0.8M138.6 82.2h0.8M115.5 83.4h0.8M118.0 85.5h0.8M136.9 87.2h0.8M114.6 86.5h0.8M119.9 86.7h0.8M143.8 83.0h0.8M111.2 85.9h0.8M117.0 84.5h0.8M139.1 78.2h0.8M115.4 76.1h0.8M115.2 75.0h0.8M129.3 80.3h0.8M135.6 87.1h0.8M155.6 81.1h0.8M113.6 80.5h0.8M115.5 79.1h0.8M111.6 82.7h0.8M120.4 73.1h0.8M129.3 79.5h0.8M115.8 85.0h0.8M110.2 78.8h0.8M109.9 80.7h0.8M114.7 82.1h0.8M113.6 84.1h0.8M128.7 83.3h0.8M139.7 77.7h0.8M132.4 74.5h0.8M110.4 86.4h0.8M115.6 81.6h0.8M120.0 78.6h0.8M132.8 84.3h0.8M115.9 82.3h0.8M117.9 78.4h0.8M114.3 87.1h0.8M119.0 81.7h0.8M127.0 83.4h0.8M120.8 84.4h0.8M109.6 76.5h0.8M130.4 84.1h0.8M112.2 81.9h0.8M110.5 83.9h0.8M110.1 79.7h0.8M120.5 76.8h0.8M137.6 85.0h0.8M118.1 83.8h0.8M118.1 84.0h0.8M119.6 76.2h0.8M145.1 82.8h0.8M128.7 77.0h0.8M110.4 84.2h0.8M116.3 85.5h0.8M111.8 86.0h0.8M118.9 74.8h0.8M110.6 79.7h0.8M111.3 87.0h0.8M112.5 79.3h0.8M144.6 85.2h0.8M111.7 84.9h0.8M131.1 85.8h0.8M117.3 84.4h0.8M135.6 85.9h0.8M112.0 83.7h0.8M131.2 86.1h0.8M115.1 82.0h0.8M124.3 81.3h0.8M128.9 80.7h0.8M113.6 79.1h0.8M128.0 85.7h0.8M112.9 86.1h0.8M114.0 82.4h0.8M127.9 84.4h0.8M129.1 80.9h0.8M121.7 86.2h0.8M112.7 87.2h0.8M124.2 76.8h0.8M111.4 81.3h0.8M123.6 77.9h0.8M114.3 85.9h0.8M128.2 83.7h0.8M113.5 83.6h0.8M119.7 79.4h0.8M122.0 71.8h0.8M119.8 78.5h0.8M113.5 82.7h0.8M131.2 78.9h0.8M120.8 84.8h0.8M126.3 83.1h0.8M134.0 86.7h0.8M111.0 81.6h0.8M117.5 81.7h0.8M120.0 87.4h0.8M121.4 82.7h0.8M109.9 83.9h0.8M117.4 78.5h0.8M144.2 85.6h0.8M127.7 87.1h0.8M123.5 77.8h0.8M121.8 81.3h0.8M120.2 85.5h0.8M117.2 84.7h0.8M114.3 79.3h0.8M117.5 78.4h0.8M115.1 82.0h0.8M139.6 87.0h0.8M119.6 83.9h0.8M114.8 80.1h0.8M118.4 83.0h0.8M118.2 85.2h0.8M124.4 86.9h0.8M136.4 79.1h0.8M125.8 85.4h0.8M111.1 85.7h0.8M114.7 80.8h0.8M114.4 83.0h0.8M136.0 77.7h0.8M121.7 82.3h0.8M116.5 76.1h0.8M120.9 85.8h0.8M119.2 82.5h0.8M110.1 82.8h0.8M118.8 75.5h0.8M123.7 86.1h0.8M114.1 82.4h0.8M119.3 85.8h0.8M126.7 83.4h0.8M135.0 81.3h0.8M129.0 86.8h0.8M114.1 80.3h0.8M122.2 85.3h0.8M116.4 83.9h0.8M138.7 61.9h0.8M134.0 63.3h0.8M122.2 60.3h0.8M144.6 62.3h0.8M140.9 66.5h0.8M141.0 62.2h0.8M136.1 61.7h0.8M122.2 58.0h0.8M132.7 56.2h0.8M132.2 59.3h0.8M132.1 57.2h0.8M135.5 62.0h0.8M119.3 56.9h0.8M130.2 56.1h0.8M132.0 65.1h0.8M125.3 68.9h0.8M139.6 64.3h0.8M132.8 65.0h0.8M128.0 68.6h0.8M126.1 52.3h0.8M129.9 64.9h0.8M135.4 58.3h0.8M139.2 59.5h0.8M134.0 66.1h0.8M131.0 67.8h0.8M126.4 71.7h0.8M133.1 61.2h0.8M147.4 63.0h0.8M118.8 69.0h0.8M140.3 60.6h0.8M123.1 67.8h0.8M130.2 58.9h0.8M126.5 63.3h0.8M136.4 69.7h0.8M125.6 69.5h0.8M119.5 66.0h0.8M128.8 64.9h0.8M126.8 60.0h0.8M131.7 67.8h0.8M114.8 63.2h0.8M127.1 58.5h0.8M120.7 65.2h0.8M133.5 65.8h0.8M116.3 56.5h0.8M125.6 61.2h0.8M141.7 61.4h0.8M130.6 67.3h0.8M141.1 64.6h0.8M132.1 71.3h0.8M127.1 55.4h0.8M124.7 61.7h0.8M138.7 64.4h0.8M137.9 63.4h0.8M130.1 60.6h0.8M121.4 65.2h0.8M132.2 65.5h0.8M126.2 61.2h0.8M132.3 65.6h0.8M143.3 59.3h0.8M136.5 66.8h0.8M128.0 63.6h0.8M129.4 69.5h0.8M147.0 64.4h0.8M128.1 67.1h0.8M133.1 62.2h0.8M134.9 66.7h0.8M127.1 66.6h0.8M114.6 57.5h0.8M127.7 63.7h0.8M119.9 69.3h0.8M127.2 63.7h0.8M129.5 66.2h0.8M125.9 66.2h0.8M124.2 56.7h0.8M133.3 63.7h0.8M135.8 54.7h0.8M130.5 60.3h0.8M128.5 61.3h0.8M127.3 60.2h0.8M136.7 55.7h0.8M118.5 64.5h0.8M143.4 59.8h0.8M123.7 58.0h0.8M122.9 68.3h0.8M134.4 66.9h0.8M132.1 64.0h0.8M125.9 58.9h0.8M134.0 73.6h0.8M127.3 68.4h0.8M125.0 63.2h0.8M141.3 62.7h0.8M134.1 60.6h0.8M142.5 57.8h0.8M133.6 62.0h0.8M131.1 64.6h0.8M138.7 66.7h0.8M136.9 64.6h0.8M122.6 68.7h0.8M140.2 65.1h0.8M135.2 62.0h0.8M120.0 67.2h0.8M124.9 71.2h0.8M134.5 62.9h0.8M125.6 63.5h0.8M123.0 61.4h0.8M140.6 61.7h0.8M142.2 62.6h0.8M132.6 59.1h0.8M127.8 61.1h0.8M120.4 71.3h0.8M133.8 62.7h0.8M122.4 63.2h0.8M122.7 58.9h0.8M128.5 72.2h0.8M118.0 65.4h0.8M126.1 50.6h0.8M120.2 62.4h0.8M130.2 59.8h0.8M141.8 65.3h0.8M125.5 56.0h0.8M131.0 60.1h0.8M136.7 58.5h0.8M137.9 61.0h0.8M131.1 61.8h0.8M134.0 67.9h0.8M126.1 59.1h0.8M142.6 67.1h0.8M142.7 67.1h0.8M130.7 70.0h0.8M125.2 61.2h0.8M127.0 65.9h0.8M124.0 62.3h0.8M124.0 62.0h0.8M137.4 67.8h0.8M128.3 73.9h0.8M125.0 65.0h0.8M126.5 53.5h0.8M121.7 68.3h0.8M118.5 75.6h0.8M128.9 64.2h0.8M138.3 63.1h0.8M125.4 60.4h0.8M123.3 65.4h0.8M126.5 65.2h0.8M119.5 61.2h0.8M143.7 64.6h0.8M129.0 68.1h0.8M131.6 69.6h0.8M121.8 66.3h0.8M122.5 65.9h0.8M146.4 69.6h0.8M123.9 64.8h0.8M132.8 59.9h0.8M131.4 58.4h0.8M136.3 66.9h0.8M128.6 66.0h0.8M145.9 62.3h0.8M117.0 64.5h0.8M126.6 59.7h0.8M135.8 67.3h0.8M115.9 76.6h0.8M144.1 51.7h0.8M156.9 86.5h0.8M136.1 86.6h0.8M134.0 42.3h0.8M134.9 57.9h0.8M166.7 65.8h0.8M169.8 49.1h0.8M129.3 42.2h0.8M106.1 74.6h0.8M104.8 51.8h0.8M132.9 84.3h0.8M119.0 41.7h0.8M151.6 73.9h0.8M112.2 84.7h0.8M163.1 85.0h0.8M160.2 66.9h0.8M151.6 47.3h0.8M147.6 58.0h0.8M126.0 56.1h0.8M108.2 79.2h0.8M156.0 41.9h0.8M138.4 42.6h0.8M140.7 49.3h0.8M169.8 56.3h0.8" stroke="#000" stroke-width="0.8" stroke-opacity="0.42" fill="none" filter="url(#bd)"/>
</g>
<rect x="102.50" y="19.50" width="70.00" height="68.50" fill="none" stroke="#1a1a1a" stroke-width="1"/>
<rect x="102.50" y="49.50" width="16.00" height="25.00" fill="none" stroke="#1c1c1c" stroke-width="1"/>
<rect x="119.50" y="54.50" width="20.00" height="15.00" fill="none" stroke="#1c1c1c" stroke-width="1.2"/>
<text x="106" y="44.3" text-anchor="start" fill="#000" style="font-size:6.7px;font-weight:bold;" stroke="#000" stroke-width="0.30">5.6%</text>
<text x="151" y="65.2" text-anchor="start" fill="#000" style="font-size:6.7px;font-weight:bold;" stroke="#000" stroke-width="0.30">0.55%</text>
<line x1="100.5" y1="23.5" x2="102.5" y2="23.5" stroke="#333" stroke-width="0.7"/>
<text x="95.5" y="24.7" fill="#333" style="font-size:2.8px">10<tspan dy="-1.2" style="font-size:2.2px">4</tspan></text>
<line x1="100.5" y1="37.5" x2="102.5" y2="37.5" stroke="#333" stroke-width="0.7"/>
<text x="95.5" y="38.7" fill="#333" style="font-size:2.8px">10<tspan dy="-1.2" style="font-size:2.2px">3</tspan></text>
<line x1="100.5" y1="53.5" x2="102.5" y2="53.5" stroke="#333" stroke-width="0.7"/>
<text x="95.5" y="54.7" fill="#333" style="font-size:2.8px">10<tspan dy="-1.2" style="font-size:2.2px">2</tspan></text>
<line x1="100.5" y1="69.5" x2="102.5" y2="69.5" stroke="#333" stroke-width="0.7"/>
<text x="95.5" y="70.7" fill="#333" style="font-size:2.8px">10<tspan dy="-1.2" style="font-size:2.2px">1</tspan></text>
<line x1="100.5" y1="86" x2="102.5" y2="86" stroke="#333" stroke-width="0.7"/>
<text x="95.5" y="87.2" fill="#333" style="font-size:2.8px">10<tspan dy="-1.2" style="font-size:2.2px">0</tspan></text>
<line x1="105.0" y1="88" x2="105.0" y2="90" stroke="#333" stroke-width="0.7"/>
<text x="103.0" y="93.5" fill="#333" style="font-size:2.8px">10<tspan dy="-1.2" style="font-size:2.2px">0</tspan></text>
<line x1="120.5" y1="88" x2="120.5" y2="90" stroke="#333" stroke-width="0.7"/>
<text x="118.5" y="93.5" fill="#333" style="font-size:2.8px">10<tspan dy="-1.2" style="font-size:2.2px">1</tspan></text>
<line x1="138.5" y1="88" x2="138.5" y2="90" stroke="#333" stroke-width="0.7"/>
<text x="136.5" y="93.5" fill="#333" style="font-size:2.8px">10<tspan dy="-1.2" style="font-size:2.2px">2</tspan></text>
<line x1="155.5" y1="88" x2="155.5" y2="90" stroke="#333" stroke-width="0.7"/>
<text x="153.5" y="93.5" fill="#333" style="font-size:2.8px">10<tspan dy="-1.2" style="font-size:2.2px">3</tspan></text>
<line x1="170.0" y1="88" x2="170.0" y2="90" stroke="#333" stroke-width="0.7"/>
<text x="168.0" y="93.5" fill="#333" style="font-size:2.8px">10<tspan dy="-1.2" style="font-size:2.2px">4</tspan></text>
<clipPath id="c185a"><rect x="185.5" y="19.5" width="70.0" height="68.5"/></clipPath>
<g clip-path="url(#c185a)">
<rect x="181.5" y="76.5" width="16.45" height="17.5" fill="#000" opacity="0.50" filter="url(#b2)"/>
<rect x="182.5" y="56.5" width="12.45" height="20.0" fill="#000" opacity="0.26" filter="url(#b3)"/>
<ellipse cx="209.95" cy="85" rx="9.0" ry="6" fill="#000" opacity="0.10" filter="url(#b3)"/>
<path d="M191.1 87.0h0.8M186.3 87.4h0.8M187.2 82.3h0.8M189.7 82.2h0.8M191.1 81.3h0.8M189.1 85.5h0.8M194.8 86.4h0.8M186.5 82.8h0.8M193.3 86.8h0.8M196.2 86.5h0.8M186.2 87.0h0.8M197.3 82.0h0.8M186.7 83.3h0.8M188.5 81.6h0.8M192.1 83.9h0.8M186.2 84.5h0.8M190.5 86.4h0.8M190.4 80.8h0.8M194.8 76.6h0.8M198.2 63.0h0.8M200.0 83.6h0.8M191.7 83.4h0.8M191.6 78.7h0.8M192.6 83.4h0.8M190.7 81.9h0.8M195.6 85.9h0.8M189.1 75.4h0.8M189.3 85.3h0.8M186.9 86.2h0.8M186.8 82.7h0.8M193.9 81.4h0.8M192.5 82.0h0.8M195.3 82.1h0.8M195.9 81.9h0.8M186.4 79.7h0.8M195.4 76.5h0.8M195.2 77.5h0.8M187.9 86.0h0.8M196.2 79.0h0.8M197.4 84.3h0.8M198.4 70.5h0.8M201.7 86.5h0.8M193.6 79.7h0.8M187.3 80.3h0.8M192.1 67.5h0.8M192.4 84.9h0.8M192.7 80.1h0.8M201.3 85.4h0.8M187.2 87.4h0.8M193.0 76.4h0.8M191.7 80.2h0.8M190.4 85.9h0.8M187.9 80.1h0.8M190.1 86.3h0.8M196.1 81.3h0.8M186.7 82.1h0.8M187.0 79.7h0.8M192.6 75.9h0.8M188.3 86.9h0.8M187.9 80.2h0.8M193.1 85.2h0.8M188.1 72.3h0.8M192.3 86.0h0.8M187.2 76.0h0.8M193.5 85.2h0.8M192.5 79.1h0.8M198.6 81.5h0.8M190.6 84.7h0.8M198.8 86.8h0.8M190.4 74.4h0.8M191.2 83.8h0.8M196.7 85.0h0.8M199.4 85.6h0.8M188.0 80.2h0.8M192.6 86.9h0.8M189.8 82.8h0.8M187.8 82.2h0.8M187.6 82.1h0.8M198.9 79.3h0.8M190.5 86.5h0.8M187.9 87.0h0.8M187.2 87.4h0.8M191.7 70.1h0.8M189.5 78.0h0.8M188.5 82.8h0.8M199.1 82.0h0.8M186.7 80.3h0.8M190.2 83.3h0.8M188.8 71.3h0.8M193.3 80.3h0.8M192.3 82.7h0.8M193.8 77.8h0.8M190.2 74.0h0.8M187.3 71.0h0.8M200.2 83.7h0.8M190.3 84.5h0.8M191.0 74.3h0.8M187.1 77.1h0.8M196.5 82.7h0.8M190.6 83.6h0.8M186.3 74.9h0.8M192.9 77.7h0.8M186.2 78.0h0.8M188.0 80.8h0.8M188.2 86.2h0.8M188.0 80.7h0.8M189.5 79.1h0.8M196.9 78.2h0.8M186.6 83.6h0.8M198.3 78.7h0.8M186.2 74.1h0.8M191.6 83.3h0.8M187.0 84.7h0.8M195.5 79.4h0.8M192.2 83.3h0.8M189.9 85.1h0.8M195.4 83.9h0.8M191.4 85.4h0.8M186.2 85.9h0.8M193.3 85.9h0.8M192.4 82.6h0.8M189.0 85.5h0.8M191.7 65.4h0.8M189.9 80.5h0.8M190.9 85.2h0.8M186.4 86.4h0.8M199.8 72.2h0.8M192.5 86.9h0.8M187.4 82.7h0.8M191.9 74.8h0.8M190.7 86.9h0.8M194.5 86.8h0.8M188.1 79.3h0.8M192.6 84.0h0.8M197.1 87.2h0.8M196.7 74.2h0.8M188.3 79.4h0.8M189.5 76.5h0.8M188.4 79.2h0.8M189.8 80.9h0.8M195.0 85.7h0.8M195.5 87.1h0.8M191.0 78.5h0.8M186.6 82.3h0.8M198.6 75.9h0.8M191.3 80.9h0.8M188.2 77.1h0.8M193.6 85.1h0.8M189.4 66.2h0.8M189.6 84.9h0.8M195.3 86.5h0.8M188.9 87.1h0.8M191.2 80.9h0.8M193.8 78.9h0.8M189.5 85.4h0.8M196.5 81.8h0.8M194.5 87.3h0.8M190.5 74.8h0.8M191.1 83.3h0.8M188.0 86.4h0.8M186.8 78.7h0.8M190.9 86.7h0.8M191.3 85.5h0.8M186.6 85.3h0.8M196.1 77.9h0.8M189.4 86.5h0.8M187.1 78.1h0.8M191.6 87.1h0.8M187.8 81.9h0.8M192.0 82.3h0.8M191.5 81.0h0.8M200.0 84.4h0.8M195.8 76.1h0.8M193.9 87.1h0.8M187.1 82.6h0.8M192.6 82.4h0.8M188.0 78.5h0.8M190.0 77.0h0.8M191.4 81.9h0.8M194.0 84.4h0.8M196.5 78.9h0.8M198.5 86.3h0.8M190.9 67.9h0.8M187.4 83.8h0.8M188.1 82.4h0.8M188.7 79.1h0.8M186.6 76.7h0.8M186.5 81.4h0.8M190.1 84.9h0.8M186.3 83.1h0.8M192.3 83.3h0.8M193.1 82.0h0.8M189.6 77.3h0.8M199.4 84.9h0.8M189.2 82.7h0.8M201.3 86.6h0.8M190.9 82.0h0.8M190.6 78.9h0.8M199.6 80.3h0.8M188.4 82.0h0.8M201.1 77.3h0.8M192.2 86.4h0.8M192.5 86.7h0.8M192.2 84.0h0.8M189.8 70.6h0.8M196.3 82.7h0.8M197.7 82.4h0.8M192.1 77.6h0.8M189.8 82.3h0.8M190.8 86.2h0.8M188.7 85.0h0.8M187.5 79.5h0.8M186.5 81.6h0.8M189.4 77.5h0.8M187.2 79.2h0.8M187.6 77.2h0.8M189.9 75.3h0.8M187.6 84.6h0.8M187.6 83.5h0.8M191.4 84.4h0.8M191.9 77.3h0.8M188.2 80.6h0.8M195.0 83.5h0.8M196.1 86.6h0.8M190.5 66.6h0.8M191.0 81.8h0.8M190.1 78.8h0.8M189.9 73.2h0.8M190.5 71.3h0.8M196.2 84.2h0.8M191.8 81.5h0.8M188.0 81.8h0.8M193.1 74.0h0.8M203.0 81.1h0.8M190.0 84.2h0.8M196.7 75.4h0.8M196.8 85.6h0.8M187.5 86.8h0.8M187.6 75.5h0.8M192.9 70.9h0.8M190.7 84.1h0.8M188.8 75.5h0.8M199.5 85.1h0.8M190.7 86.4h0.8M188.3 78.5h0.8M191.8 82.9h0.8M189.7 82.1h0.8M187.5 84.5h0.8M190.1 70.9h0.8M199.9 76.5h0.8M188.6 78.4h0.8M192.8 86.5h0.8M188.0 78.3h0.8M193.7 74.7h0.8M186.6 87.3h0.8M195.3 79.7h0.8M186.3 83.1h0.8M190.3 87.1h0.8M193.8 76.8h0.8M195.6 79.0h0.8M195.7 84.7h0.8M186.3 73.4h0.8M200.0 64.8h0.8M186.5 81.5h0.8M186.9 71.5h0.8M191.4 76.1h0.8M187.0 81.4h0.8M193.0 76.2h0.8M190.1 81.6h0.8M190.9 73.8h0.8M190.3 72.0h0.8M195.7 86.4h0.8M188.7 83.5h0.8M196.6 85.3h0.8M192.7 87.2h0.8M193.1 85.6h0.8M194.2 79.1h0.8M186.1 84.5h0.8M189.2 86.9h0.8M189.7 86.7h0.8M189.2 86.4h0.8M194.7 84.0h0.8M187.2 84.0h0.8M189.5 81.3h0.8M192.1 83.5h0.8M190.4 82.4h0.8M186.4 80.7h0.8M192.3 69.9h0.8M186.6 85.2h0.8M193.3 82.9h0.8M188.9 84.3h0.8M188.6 85.7h0.8M189.2 80.3h0.8M196.1 85.3h0.8M195.2 73.0h0.8M195.8 81.1h0.8M198.2 85.4h0.8M187.2 87.1h0.8M187.3 85.5h0.8M194.6 75.6h0.8M192.4 80.8h0.8M197.0 83.1h0.8M190.8 79.9h0.8M186.3 80.4h0.8M189.8 83.8h0.8M187.4 75.2h0.8M188.1 84.1h0.8M195.7 85.9h0.8M197.9 79.3h0.8M194.2 85.5h0.8M186.2 87.0h0.8M192.3 82.9h0.8M198.4 82.7h0.8M188.0 86.6h0.8M191.2 83.4h0.8M197.1 82.2h0.8M194.8 84.9h0.8M187.7 82.5h0.8M187.9 82.2h0.8M187.0 82.2h0.8M190.9 78.6h0.8M196.3 82.7h0.8M191.1 84.8h0.8M187.3 79.6h0.8M194.7 84.2h0.8M196.3 84.4h0.8M193.6 77.2h0.8M205.8 80.1h0.8M197.8 86.5h0.8M201.8 84.5h0.8M196.8 83.4h0.8M194.5 81.9h0.8M191.1 82.0h0.8M189.7 82.8h0.8M194.0 84.6h0.8M190.0 84.5h0.8M186.5 81.0h0.8M198.2 79.9h0.8M194.3 76.1h0.8M190.4 85.4h0.8M194.6 62.9h0.8M191.0 84.3h0.8M188.2 86.4h0.8M187.6 71.2h0.8M196.9 77.7h0.8M187.6 73.6h0.8M191.4 80.8h0.8M193.7 83.1h0.8M186.8 86.3h0.8M189.1 71.9h0.8M190.7 87.2h0.8M187.7 79.4h0.8M186.4 73.4h0.8M186.7 72.2h0.8M194.6 86.4h0.8M195.3 85.3h0.8M193.9 77.1h0.8M196.5 86.4h0.8M190.1 56.3h0.8M194.1 86.4h0.8M188.9 82.4h0.8M191.4 86.7h0.8M191.2 86.4h0.8M192.0 79.5h0.8M199.8 80.5h0.8M187.6 74.1h0.8M191.0 72.6h0.8M188.7 80.1h0.8M190.6 69.6h0.8M198.9 85.1h0.8M190.6 81.7h0.8M187.5 80.9h0.8M187.1 84.0h0.8M189.0 85.3h0.8M186.9 80.1h0.8M196.8 87.0h0.8M188.8 72.1h0.8M191.5 85.1h0.8M188.5 76.5h0.8M200.3 81.9h0.8M190.5 77.2h0.8M192.9 84.4h0.8M186.2 87.4h0.8M186.9 78.6h0.8M199.3 72.0h0.8M186.8 87.2h0.8M187.8 86.0h0.8M187.8 79.2h0.8M189.2 75.8h0.8M186.3 72.0h0.8M197.1 83.9h0.8M188.8 74.8h0.8M189.4 77.9h0.8M188.0 82.3h0.8M186.2 87.0h0.8M188.4 85.5h0.8M189.9 86.2h0.8M196.8 76.2h0.8M194.2 69.2h0.8M186.2 76.7h0.8M195.9 86.8h0.8M187.2 82.9h0.8M191.0 86.3h0.8M187.5 82.5h0.8M189.5 68.8h0.8M189.6 85.8h0.8M188.2 81.5h0.8M195.9 75.3h0.8M193.8 86.4h0.8M188.7 84.2h0.8M190.8 81.3h0.8M191.2 85.1h0.8M194.3 83.0h0.8M189.3 85.9h0.8M187.5 68.2h0.8M190.7 74.7h0.8M191.6 78.4h0.8M191.2 86.6h0.8M191.0 81.5h0.8M189.7 85.6h0.8M188.4 85.5h0.8M188.4 82.9h0.8M194.3 85.3h0.8M187.2 82.1h0.8M193.4 78.0h0.8M191.8 85.0h0.8M196.2 87.1h0.8M196.4 82.7h0.8M189.2 86.1h0.8M188.3 81.7h0.8M187.8 86.9h0.8M187.0 83.5h0.8M190.2 86.7h0.8M186.7 85.2h0.8M192.9 77.0h0.8M189.1 80.7h0.8M199.4 81.9h0.8M191.5 85.1h0.8M189.4 75.8h0.8M195.2 83.5h0.8M186.1 82.6h0.8M190.9 82.4h0.8M189.3 86.3h0.8M187.3 79.8h0.8M187.4 76.4h0.8M189.9 84.3h0.8M205.1 62.6h0.8M190.3 76.9h0.8M205.7 78.8h0.8M192.1 77.5h0.8M187.3 84.5h0.8M189.2 79.4h0.8M186.2 83.6h0.8M186.9 86.0h0.8M189.0 86.0h0.8M188.7 87.3h0.8M188.5 76.3h0.8M192.8 75.3h0.8M192.7 85.5h0.8M187.7 86.9h0.8M190.4 80.2h0.8M187.1 85.4h0.8M192.3 75.3h0.8M191.9 83.4h0.8M193.5 84.5h0.8M191.3 84.9h0.8M189.0 78.6h0.8M186.3 76.8h0.8M187.0 78.2h0.8M189.6 78.5h0.8M187.2 83.0h0.8M191.1 82.3h0.8M193.1 83.0h0.8M188.9 79.0h0.8M193.2 87.1h0.8M188.8 83.9h0.8M195.7 74.5h0.8M190.0 83.5h0.8M191.1 80.3h0.8M189.4 73.3h0.8M192.5 87.3h0.8M198.1 82.7h0.8M193.8 83.9h0.8M186.3 70.9h0.8M193.1 82.8h0.8M191.1 83.1h0.8M190.0 74.4h0.8M187.4 84.0h0.8M198.4 79.7h0.8M189.6 81.3h0.8M191.4 80.2h0.8M202.5 76.7h0.8M194.6 73.6h0.8M192.0 85.3h0.8M186.2 76.5h0.8M189.5 84.5h0.8M190.0 87.2h0.8M191.7 83.7h0.8M191.4 74.3h0.8M192.5 85.5h0.8M193.8 76.3h0.8M193.0 72.3h0.8M188.8 83.2h0.8M190.5 76.1h0.8M188.7 79.0h0.8M186.3 80.2h0.8M193.2 79.0h0.8M189.4 77.3h0.8M191.3 83.5h0.8M189.5 82.0h0.8M190.8 75.5h0.8M190.6 73.5h0.8M192.0 87.4h0.8M188.2 75.3h0.8M189.4 83.9h0.8M192.1 74.2h0.8M194.2 74.7h0.8M186.7 74.4h0.8M192.8 69.7h0.8M198.5 79.5h0.8M192.6 70.8h0.8M189.4 85.0h0.8M191.6 80.1h0.8M191.7 85.8h0.8M189.3 86.0h0.8M195.3 77.7h0.8M195.0 82.6h0.8M202.0 83.5h0.8M186.5 82.5h0.8M193.7 87.2h0.8M197.0 87.0h0.8M190.7 74.1h0.8M188.8 80.4h0.8M195.0 79.6h0.8M187.2 73.0h0.8M191.4 84.4h0.8M199.4 85.7h0.8M190.7 76.3h0.8M202.6 84.8h0.8M189.6 69.4h0.8M192.4 83.1h0.8M187.4 82.6h0.8M192.1 80.2h0.8M186.5 73.9h0.8M194.2 86.1h0.8M192.1 81.1h0.8M192.0 86.9h0.8M187.9 80.9h0.8M195.8 84.3h0.8M195.0 87.1h0.8M192.9 80.9h0.8M193.1 85.1h0.8M187.3 64.0h0.8M197.2 81.0h0.8M192.1 87.0h0.8M191.6 68.8h0.8M190.3 78.4h0.8M194.7 81.7h0.8M193.8 84.3h0.8M186.8 86.8h0.8M191.3 87.2h0.8M189.6 86.5h0.8M190.6 77.3h0.8M189.3 72.6h0.8M194.4 85.0h0.8M195.7 84.4h0.8M191.5 78.8h0.8M188.8 80.4h0.8M192.0 85.3h0.8M186.1 80.0h0.8M186.7 75.7h0.8M188.6 78.7h0.8M191.8 80.1h0.8M192.1 86.7h0.8M187.1 79.5h0.8M196.9 78.0h0.8M189.6 86.1h0.8M186.6 73.3h0.8M187.1 83.2h0.8M189.1 71.5h0.8M188.2 80.8h0.8M187.9 82.0h0.8M189.1 86.1h0.8M190.3 83.5h0.8M190.8 75.0h0.8M194.3 85.9h0.8M188.0 77.1h0.8M196.6 84.0h0.8M193.2 85.4h0.8M194.8 85.5h0.8M197.5 74.6h0.8M187.4 78.4h0.8M189.8 74.9h0.8M186.8 83.9h0.8M186.9 83.9h0.8M186.1 86.5h0.8M195.2 77.4h0.8M200.7 87.3h0.8M187.5 75.5h0.8M187.9 85.5h0.8M190.6 76.2h0.8M192.2 85.2h0.8M194.9 75.2h0.8M190.7 65.1h0.8M203.4 86.7h0.8M196.5 80.1h0.8M187.9 77.8h0.8M186.6 84.6h0.8M187.6 86.5h0.8M189.5 78.1h0.8M189.2 83.8h0.8M188.4 74.1h0.8M197.9 79.5h0.8M186.3 79.8h0.8M188.1 84.2h0.8M193.7 87.0h0.8M198.2 76.3h0.8M191.3 80.3h0.8M186.6 79.3h0.8M191.9 83.2h0.8M196.9 78.1h0.8M195.8 82.5h0.8M189.7 83.3h0.8M198.3 79.0h0.8M195.6 78.6h0.8M200.8 85.7h0.8M203.0 86.4h0.8M186.8 87.1h0.8M187.8 76.4h0.8M190.8 75.0h0.8M187.4 83.6h0.8M186.3 82.0h0.8M190.9 85.6h0.8M186.6 87.2h0.8M186.8 76.2h0.8M188.3 86.9h0.8M189.9 83.5h0.8M187.1 82.0h0.8M192.4 78.2h0.8M187.4 86.7h0.8M188.9 87.1h0.8M186.5 68.7h0.8M193.7 68.9h0.8M186.5 86.2h0.8M199.0 84.8h0.8M190.1 83.9h0.8M189.2 81.6h0.8M189.6 82.6h0.8M195.8 85.5h0.8M186.1 83.5h0.8M191.5 77.9h0.8M191.0 78.6h0.8M194.4 67.3h0.8M187.6 79.8h0.8M194.7 73.4h0.8M198.1 79.1h0.8M189.1 81.5h0.8M186.9 81.5h0.8M186.4 81.7h0.8M187.8 85.3h0.8M188.6 87.4h0.8M194.3 77.0h0.8M191.2 81.9h0.8M192.1 80.3h0.8M199.3 85.9h0.8M188.1 80.8h0.8M195.7 83.7h0.8M187.3 74.9h0.8M193.8 74.2h0.8M193.2 84.4h0.8M189.0 81.4h0.8M186.1 71.9h0.8M194.3 85.0h0.8M192.3 80.7h0.8M188.0 84.7h0.8M188.5 82.3h0.8M188.3 86.9h0.8M192.6 87.1h0.8M187.2 87.0h0.8M192.0 85.0h0.8M189.9 82.9h0.8M190.8 80.2h0.8M198.0 84.2h0.8M188.3 79.9h0.8M192.6 85.0h0.8M193.5 79.7h0.8M188.7 81.4h0.8M186.6 81.7h0.8M187.4 70.4h0.8M194.2 85.0h0.8M193.0 68.9h0.8M189.1 85.0h0.8M187.2 79.2h0.8M196.0 80.1h0.8M187.6 77.1h0.8M188.9 76.3h0.8M189.1 85.7h0.8M193.8 84.4h0.8M191.1 84.2h0.8M187.7 85.0h0.8M196.4 75.7h0.8M189.1 75.1h0.8M187.1 86.2h0.8M186.4 83.9h0.8M191.0 75.7h0.8M186.9 75.6h0.8M194.8 87.2h0.8M193.6 82.5h0.8M191.4 85.3h0.8M188.4 84.2h0.8M194.6 76.5h0.8M186.8 76.8h0.8M189.0 84.6h0.8M187.3 87.1h0.8M187.2 78.0h0.8M188.6 77.4h0.8M190.6 87.0h0.8M190.0 77.1h0.8M191.7 85.7h0.8M187.2 76.3h0.8M187.3 87.0h0.8M188.2 79.6h0.8M188.7 86.9h0.8M187.1 84.3h0.8M190.5 85.7h0.8M192.6 86.6h0.8M186.3 78.7h0.8M188.5 67.9h0.8M189.1 86.9h0.8M193.2 83.2h0.8M189.4 77.4h0.8M194.9 79.3h0.8M190.6 82.5h0.8M194.4 71.6h0.8M197.2 74.6h0.8M188.5 75.4h0.8M188.6 82.2h0.8M188.2 75.5h0.8M190.5 86.6h0.8M193.5 75.7h0.8M187.1 83.2h0.8M189.5 84.8h0.8M191.3 79.6h0.8M199.3 86.1h0.8M197.2 82.1h0.8M195.9 70.5h0.8M197.9 78.0h0.8M199.6 66.1h0.8M195.8 86.8h0.8M189.5 83.4h0.8M188.7 86.3h0.8M207.3 83.3h0.8M187.7 78.9h0.8M187.5 82.6h0.8M190.9 85.0h0.8M194.9 87.2h0.8M193.5 81.6h0.8M192.8 82.9h0.8M199.3 86.5h0.8M193.1 81.1h0.8M188.8 81.7h0.8M193.4 76.9h0.8M194.5 81.9h0.8M186.2 83.6h0.8M186.8 77.0h0.8M199.5 66.7h0.8M198.1 86.4h0.8M201.1 79.2h0.8M189.1 81.4h0.8M195.5 85.2h0.8M188.8 82.5h0.8M188.1 66.1h0.8M202.1 85.0h0.8M196.5 75.1h0.8M188.2 80.2h0.8M192.3 74.7h0.8M187.3 84.3h0.8M186.2 86.3h0.8M186.4 85.4h0.8M189.5 80.7h0.8M187.8 81.0h0.8M192.9 83.1h0.8M190.0 87.1h0.8M190.1 76.7h0.8M186.5 77.2h0.8M190.8 83.0h0.8M193.4 86.6h0.8M186.2 80.9h0.8M193.2 73.6h0.8M188.2 86.2h0.8M190.7 81.4h0.8M200.8 80.2h0.8M186.3 81.3h0.8M191.7 80.1h0.8M188.1 82.7h0.8M186.2 79.9h0.8M202.9 82.4h0.8M191.5 74.3h0.8M191.5 83.5h0.8M201.1 85.9h0.8M194.8 86.7h0.8M190.6 85.3h0.8M189.5 77.1h0.8M186.6 78.3h0.8M192.0 84.3h0.8M187.8 78.0h0.8M186.7 84.8h0.8M188.3 79.2h0.8M187.4 84.7h0.8M187.4 84.4h0.8M189.9 80.4h0.8M187.3 86.3h0.8M192.2 84.9h0.8M187.0 82.0h0.8M191.9 87.3h0.8M193.6 87.2h0.8M186.9 85.6h0.8M201.0 83.4h0.8M195.4 86.5h0.8M188.7 83.9h0.8M186.3 86.0h0.8M188.7 82.2h0.8M191.9 73.6h0.8M211.3 76.3h0.8M186.5 85.0h0.8M186.4 74.3h0.8M188.4 80.5h0.8M186.8 84.4h0.8M187.5 75.2h0.8M194.6 83.3h0.8M193.0 86.0h0.8M195.3 86.2h0.8M189.2 81.7h0.8M192.2 85.0h0.8M190.9 76.3h0.8M200.3 87.3h0.8M189.7 86.4h0.8M188.0 78.6h0.8M195.0 82.9h0.8M196.8 72.1h0.8M186.8 72.8h0.8M187.6 79.8h0.8M187.6 82.7h0.8M187.4 67.8h0.8M195.8 71.5h0.8M196.3 83.7h0.8M190.2 81.5h0.8M196.2 81.8h0.8M189.3 86.2h0.8M199.3 78.1h0.8M200.2 66.2h0.8M192.0 70.8h0.8M186.7 71.6h0.8M186.4 77.9h0.8M188.1 74.5h0.8M193.1 66.4h0.8M190.6 50.8h0.8M193.5 73.3h0.8M187.5 65.0h0.8M187.2 49.6h0.8M190.5 57.2h0.8M187.3 68.5h0.8M190.7 70.4h0.8M197.6 49.0h0.8M187.4 78.0h0.8M188.8 75.4h0.8M190.0 61.6h0.8M196.3 49.5h0.8M194.9 61.4h0.8M192.2 63.5h0.8M189.2 68.7h0.8M190.7 66.1h0.8M191.4 70.3h0.8M189.6 63.4h0.8M194.1 64.6h0.8M186.5 71.8h0.8M189.7 61.8h0.8M188.4 66.6h0.8M187.1 67.7h0.8M188.4 50.9h0.8M192.4 51.4h0.8M192.9 75.0h0.8M192.7 68.3h0.8M192.1 76.9h0.8M194.2 71.5h0.8M192.6 70.9h0.8M187.4 69.8h0.8M194.5 66.0h0.8M188.7 74.2h0.8M187.3 69.8h0.8M193.9 75.8h0.8M190.3 71.3h0.8M197.0 76.9h0.8M190.6 55.2h0.8M188.5 73.7h0.8M193.2 56.5h0.8M186.5 54.9h0.8M195.4 72.1h0.8M188.6 60.8h0.8M194.1 78.3h0.8M186.4 68.9h0.8M189.0 61.3h0.8M191.4 71.4h0.8M198.5 73.1h0.8M200.1 59.5h0.8M191.2 58.6h0.8M186.5 71.5h0.8M189.9 73.3h0.8M195.5 55.8h0.8M192.5 76.6h0.8M196.9 78.1h0.8M191.9 77.6h0.8M190.8 71.0h0.8M186.1 58.7h0.8M187.1 71.4h0.8M200.8 74.8h0.8M188.4 77.1h0.8M192.5 54.5h0.8M196.3 55.0h0.8M189.7 65.2h0.8M196.0 74.1h0.8M189.4 67.5h0.8M191.9 54.4h0.8M187.4 50.0h0.8M190.6 77.0h0.8M187.1 74.4h0.8M195.9 61.6h0.8M188.3 59.0h0.8M191.4 63.7h0.8M188.5 65.5h0.8M191.8 75.5h0.8M191.9 68.0h0.8M188.6 70.8h0.8M195.0 65.3h0.8M192.4 64.5h0.8M194.6 77.8h0.8M199.2 73.2h0.8M188.6 54.1h0.8M186.9 78.4h0.8M189.3 75.8h0.8M203.3 72.8h0.8M194.3 71.6h0.8M193.7 59.6h0.8M191.1 62.7h0.8M188.6 68.0h0.8M186.7 63.3h0.8M186.5 59.1h0.8M194.0 75.2h0.8M194.3 62.1h0.8M189.4 63.0h0.8M186.3 76.1h0.8M197.6 68.4h0.8M188.5 71.6h0.8M189.0 72.0h0.8M194.6 57.3h0.8M188.6 70.8h0.8M191.1 72.5h0.8M189.8 77.2h0.8M197.6 65.4h0.8M187.0 74.9h0.8M186.7 72.5h0.8M193.0 62.9h0.8M190.1 61.7h0.8M190.7 50.9h0.8M187.5 71.1h0.8M186.1 74.7h0.8M202.6 49.3h0.8M189.4 67.5h0.8M196.9 69.3h0.8M189.0 70.2h0.8M187.9 67.5h0.8M186.9 67.0h0.8M197.4 69.2h0.8M194.0 77.4h0.8M191.0 49.6h0.8M189.0 59.6h0.8M194.6 58.9h0.8M190.8 72.4h0.8M186.7 78.3h0.8M199.3 65.6h0.8M191.3 71.3h0.8M188.4 62.3h0.8M190.0 69.9h0.8M188.7 63.3h0.8M190.2 76.7h0.8M187.7 75.0h0.8M187.9 68.5h0.8M189.8 62.6h0.8M199.4 77.2h0.8M191.7 61.1h0.8M188.3 57.4h0.8M194.8 77.7h0.8M195.4 61.8h0.8M188.9 66.4h0.8M186.8 70.4h0.8M188.1 69.0h0.8M191.9 57.0h0.8M186.4 77.5h0.8M191.2 76.1h0.8M196.0 71.1h0.8M192.6 78.1h0.8M190.6 56.2h0.8M191.9 70.4h0.8M199.5 66.3h0.8M188.0 67.7h0.8M191.7 71.4h0.8M186.8 60.0h0.8M199.7 77.3h0.8M191.9 76.1h0.8M192.9 70.6h0.8M188.8 54.8h0.8M189.6 56.5h0.8M191.9 58.4h0.8M193.5 77.6h0.8M191.3 72.7h0.8M190.6 78.4h0.8M199.8 68.7h0.8M189.0 70.0h0.8M196.2 58.9h0.8M190.7 77.5h0.8M188.6 57.4h0.8M189.7 67.0h0.8M192.1 62.6h0.8M195.5 66.5h0.8M196.5 71.9h0.8M186.7 78.5h0.8M199.3 71.3h0.8M192.5 61.5h0.8M188.1 65.1h0.8M191.4 64.0h0.8M189.3 78.1h0.8M196.7 74.0h0.8M192.9 71.0h0.8M189.0 60.3h0.8M187.5 65.0h0.8M203.4 77.2h0.8M188.9 69.7h0.8M188.3 58.9h0.8M193.9 77.0h0.8M186.5 75.4h0.8M192.0 75.6h0.8M190.2 60.9h0.8M202.3 69.4h0.8M190.3 67.0h0.8M188.4 61.5h0.8M192.3 74.3h0.8M200.8 65.3h0.8M196.6 77.2h0.8M197.4 76.5h0.8M194.0 77.8h0.8M187.5 55.9h0.8M194.8 69.9h0.8M188.1 77.4h0.8M192.0 69.0h0.8M198.8 56.6h0.8M191.0 50.5h0.8M196.0 76.3h0.8M189.1 74.2h0.8M186.5 56.1h0.8M188.4 70.8h0.8M195.2 61.3h0.8M198.8 64.5h0.8M202.5 69.9h0.8M193.5 65.5h0.8M187.9 75.3h0.8M202.3 66.3h0.8M194.8 70.0h0.8M194.1 62.4h0.8M194.8 75.9h0.8M188.6 72.6h0.8M199.0 54.0h0.8M202.2 74.4h0.8M190.0 56.0h0.8M193.0 78.0h0.8M187.7 51.5h0.8M191.5 69.6h0.8M186.3 73.6h0.8M198.7 77.4h0.8M188.1 48.9h0.8M186.7 61.7h0.8M190.8 55.2h0.8M194.2 73.5h0.8M193.5 62.5h0.8M191.4 53.1h0.8M188.4 58.5h0.8M189.7 57.7h0.8M198.9 68.1h0.8M194.8 66.0h0.8M189.6 71.1h0.8M187.2 62.3h0.8M191.4 69.8h0.8M186.8 71.0h0.8M195.7 69.5h0.8M186.2 63.6h0.8M191.8 68.8h0.8M203.4 59.4h0.8M188.5 66.6h0.8M192.9 59.5h0.8M195.7 75.8h0.8M186.1 49.4h0.8M194.2 64.5h0.8M192.5 68.5h0.8M191.2 64.3h0.8M190.6 51.1h0.8M190.4 57.9h0.8M189.4 76.4h0.8M193.7 59.9h0.8M190.3 54.1h0.8M200.9 74.0h0.8M190.0 72.0h0.8M202.1 69.7h0.8M186.8 60.0h0.8M192.0 74.3h0.8M186.2 78.3h0.8M198.1 57.1h0.8M196.0 68.2h0.8M195.6 56.4h0.8M191.9 55.9h0.8M193.8 75.9h0.8M191.1 54.3h0.8M195.1 77.4h0.8M193.2 73.1h0.8M186.4 68.7h0.8M194.2 64.7h0.8M186.3 67.2h0.8M188.3 63.0h0.8M192.1 64.8h0.8M188.0 66.5h0.8M192.4 70.1h0.8M188.7 69.0h0.8M194.3 74.0h0.8M192.7 70.3h0.8M194.2 72.3h0.8M192.7 61.9h0.8M190.5 68.9h0.8M187.0 77.3h0.8M187.8 60.7h0.8M189.9 69.9h0.8M191.0 57.5h0.8M188.7 73.5h0.8M187.8 77.6h0.8M189.3 56.2h0.8M193.6 69.5h0.8M190.3 53.2h0.8M191.6 53.2h0.8M186.1 49.6h0.8M189.7 62.6h0.8M187.7 59.3h0.8M194.3 73.3h0.8M189.7 62.5h0.8M190.4 61.9h0.8M191.7 75.9h0.8M186.7 63.5h0.8M189.1 65.3h0.8M189.7 66.2h0.8M197.0 76.8h0.8M189.5 63.9h0.8M188.7 58.4h0.8M201.5 72.5h0.8M195.7 64.3h0.8M200.2 77.2h0.8M197.5 76.0h0.8M196.2 72.4h0.8M190.0 62.4h0.8M187.8 72.2h0.8M195.7 71.5h0.8M187.5 61.9h0.8M194.3 76.2h0.8M193.0 72.3h0.8M190.3 66.9h0.8M187.0 77.6h0.8M186.9 56.6h0.8M190.0 76.1h0.8M188.2 63.1h0.8M188.5 72.2h0.8M190.6 67.1h0.8M193.3 74.2h0.8M202.0 66.5h0.8M189.0 64.6h0.8M188.6 58.2h0.8M191.5 54.5h0.8M190.7 69.5h0.8M190.7 77.0h0.8M193.1 77.3h0.8M192.8 75.9h0.8M197.4 71.0h0.8M186.6 61.2h0.8M194.5 75.1h0.8M192.7 57.1h0.8M190.2 69.9h0.8M189.9 75.6h0.8M189.0 75.7h0.8M189.7 74.9h0.8M190.4 74.6h0.8M195.0 63.3h0.8M187.6 71.3h0.8M187.4 77.5h0.8M186.4 73.0h0.8M194.2 50.2h0.8M198.8 76.8h0.8M189.9 75.3h0.8M190.7 77.5h0.8M189.5 77.9h0.8M189.2 68.5h0.8M191.1 77.7h0.8M195.1 64.3h0.8M194.6 65.8h0.8M188.2 63.5h0.8M187.6 74.1h0.8M188.8 63.3h0.8M190.2 73.1h0.8M188.6 69.7h0.8M191.9 71.7h0.8M186.6 60.3h0.8M188.1 77.6h0.8M192.3 73.5h0.8M189.3 76.1h0.8M195.6 78.0h0.8M190.5 61.9h0.8M186.8 54.4h0.8M190.1 60.7h0.8M194.4 71.0h0.8M186.7 77.1h0.8M192.8 60.7h0.8M188.6 62.7h0.8M193.3 71.5h0.8M196.3 72.4h0.8M189.8 72.1h0.8M195.4 70.2h0.8M189.2 69.1h0.8M199.0 60.9h0.8M190.7 66.9h0.8M190.8 65.7h0.8M199.1 64.6h0.8M193.0 76.9h0.8M187.2 76.3h0.8M190.6 69.3h0.8M195.0 52.0h0.8M187.3 64.0h0.8M190.4 58.0h0.8M188.3 67.0h0.8M195.3 75.9h0.8M187.2 67.8h0.8M195.7 74.9h0.8M198.7 68.3h0.8M187.2 68.1h0.8M192.2 52.2h0.8M186.4 51.2h0.8M194.8 75.4h0.8M189.6 54.4h0.8M186.5 69.0h0.8M193.7 62.8h0.8M187.9 57.4h0.8M195.9 56.3h0.8M199.9 64.6h0.8M187.2 53.7h0.8M191.1 58.4h0.8M192.9 71.6h0.8M191.5 73.2h0.8M189.9 73.6h0.8M198.8 54.2h0.8M188.5 65.1h0.8M194.1 68.2h0.8M191.2 77.1h0.8M186.3 65.3h0.8M189.8 63.8h0.8M192.7 76.3h0.8M190.6 64.4h0.8M188.5 58.6h0.8M190.2 73.8h0.8M187.0 75.4h0.8M196.9 75.1h0.8M188.2 75.9h0.8M190.4 70.2h0.8M195.1 66.3h0.8M192.1 68.8h0.8M191.6 71.4h0.8M194.1 66.3h0.8M190.3 74.4h0.8M192.6 74.6h0.8M189.9 69.8h0.8M194.8 60.9h0.8M193.7 65.4h0.8M200.9 78.2h0.8M190.4 73.1h0.8M191.6 61.3h0.8M186.1 74.6h0.8M187.0 72.0h0.8M199.5 67.4h0.8M190.8 78.1h0.8M192.3 72.9h0.8M189.2 68.5h0.8M202.7 69.6h0.8M199.1 73.6h0.8M188.8 75.7h0.8M188.0 72.4h0.8M196.0 74.4h0.8M198.0 63.2h0.8M191.3 72.6h0.8M187.8 76.3h0.8M186.2 71.3h0.8M189.4 77.1h0.8M199.7 66.6h0.8M189.3 63.8h0.8M189.8 75.8h0.8M188.9 72.7h0.8M187.3 70.4h0.8M188.8 68.3h0.8M188.2 56.8h0.8M194.7 67.4h0.8M199.1 70.4h0.8M194.9 67.5h0.8M190.2 75.7h0.8M197.4 63.1h0.8M193.0 71.3h0.8M188.3 52.5h0.8M186.2 69.0h0.8M194.0 74.2h0.8M186.4 60.4h0.8M188.2 66.4h0.8M193.4 66.5h0.8M186.7 57.6h0.8M198.3 60.7h0.8M188.8 68.4h0.8M186.1 63.8h0.8M188.2 66.1h0.8M187.3 75.8h0.8M190.2 67.4h0.8M192.5 55.3h0.8M192.5 70.4h0.8M190.7 56.6h0.8M187.1 74.7h0.8M191.0 66.4h0.8M194.6 77.4h0.8M195.5 61.6h0.8M192.3 72.2h0.8M196.7 73.4h0.8M197.4 65.7h0.8M188.3 64.7h0.8M187.4 56.6h0.8M188.6 72.0h0.8M192.2 63.6h0.8M186.6 52.9h0.8M193.7 57.9h0.8M198.7 69.0h0.8M192.4 51.5h0.8M196.5 68.1h0.8M190.9 66.4h0.8M194.2 55.7h0.8M191.2 64.8h0.8M189.9 65.0h0.8M187.2 74.8h0.8M187.8 72.3h0.8M194.5 77.5h0.8M190.3 55.0h0.8M192.5 77.5h0.8M191.0 62.7h0.8M192.4 64.1h0.8M189.8 74.6h0.8M186.7 63.9h0.8M196.9 63.6h0.8M192.4 61.3h0.8M200.1 66.4h0.8M189.5 69.7h0.8M187.9 76.2h0.8M188.4 66.6h0.8M189.6 61.3h0.8M186.3 55.1h0.8M193.2 57.0h0.8M191.3 73.9h0.8M189.9 61.6h0.8M187.9 57.8h0.8M195.5 68.8h0.8M196.9 59.3h0.8M196.3 70.5h0.8M187.3 76.8h0.8M194.2 51.5h0.8M186.1 55.8h0.8M189.1 60.3h0.8M192.2 73.6h0.8M190.9 65.2h0.8M186.3 61.9h0.8M199.3 73.4h0.8M188.2 57.5h0.8M201.5 67.2h0.8M202.0 69.6h0.8M193.0 73.4h0.8M187.9 74.1h0.8M190.5 67.3h0.8M189.7 59.8h0.8M191.7 74.1h0.8M191.1 75.4h0.8M190.0 68.7h0.8M188.4 72.8h0.8M198.6 58.7h0.8M188.0 71.7h0.8M190.7 52.1h0.8M186.7 75.5h0.8M187.0 76.6h0.8M189.6 65.8h0.8M190.4 75.1h0.8M190.0 72.6h0.8M189.4 66.8h0.8M187.2 62.8h0.8M186.3 64.6h0.8M186.3 64.3h0.8M190.5 76.7h0.8M186.9 55.3h0.8M187.2 68.0h0.8M193.4 59.5h0.8M191.2 73.8h0.8M198.4 65.7h0.8M193.8 55.5h0.8M186.8 68.1h0.8M190.5 74.8h0.8M189.3 76.8h0.8M190.2 58.7h0.8M191.7 71.5h0.8M197.4 66.2h0.8M190.9 68.5h0.8M193.3 64.2h0.8M190.2 75.7h0.8M196.7 75.8h0.8M186.2 72.2h0.8M192.3 57.2h0.8M201.0 73.8h0.8M189.7 55.2h0.8M188.3 70.7h0.8M186.1 65.6h0.8M189.0 62.4h0.8M186.4 75.7h0.8M195.2 77.1h0.8M190.4 70.9h0.8M196.2 70.3h0.8M192.5 55.2h0.8M186.5 51.5h0.8M187.5 73.3h0.8M189.2 69.0h0.8M196.2 60.5h0.8M192.8 74.2h0.8M193.1 60.6h0.8M200.1 63.0h0.8M190.8 68.0h0.8M186.2 61.0h0.8M194.8 63.6h0.8M192.9 50.3h0.8M190.0 70.6h0.8M194.4 75.7h0.8M195.9 69.4h0.8M190.7 67.6h0.8M200.0 68.7h0.8M188.8 65.9h0.8M188.1 71.1h0.8M191.3 66.4h0.8M187.1 76.5h0.8M192.9 69.2h0.8M189.6 76.6h0.8M190.1 61.6h0.8M191.8 62.5h0.8M193.6 65.0h0.8M188.0 73.9h0.8M202.4 59.6h0.8M193.2 76.0h0.8M199.2 75.0h0.8M193.3 70.4h0.8M187.5 52.5h0.8M193.2 71.9h0.8M191.6 61.2h0.8M187.4 76.3h0.8M200.0 74.8h0.8M195.2 76.6h0.8M200.9 71.7h0.8M193.0 72.9h0.8M195.2 52.2h0.8M192.4 77.0h0.8M186.2 67.5h0.8M193.0 64.0h0.8M187.0 50.4h0.8M192.1 73.3h0.8M189.1 66.1h0.8M189.6 77.6h0.8M193.7 76.0h0.8M186.3 72.4h0.8M192.8 67.4h0.8M187.3 68.4h0.8M191.3 71.0h0.8M188.5 59.9h0.8M189.9 57.8h0.8M193.9 68.6h0.8M189.2 69.5h0.8M197.0 67.4h0.8M189.7 52.8h0.8M193.3 56.8h0.8M190.6 73.5h0.8M189.4 68.7h0.8M197.5 75.6h0.8M188.2 52.1h0.8M194.7 52.1h0.8M186.6 62.1h0.8M195.2 65.8h0.8M187.1 61.8h0.8M188.1 57.7h0.8M194.8 61.7h0.8M187.9 66.3h0.8M197.0 71.2h0.8M190.7 74.1h0.8M193.5 60.8h0.8M193.4 71.7h0.8M186.1 51.2h0.8M187.1 67.7h0.8M192.1 75.2h0.8M188.8 71.2h0.8M193.4 51.5h0.8M190.7 65.4h0.8M188.7 71.8h0.8M188.4 61.1h0.8M192.8 63.7h0.8M189.7 52.7h0.8M188.3 74.4h0.8M197.4 73.8h0.8M187.5 73.5h0.8M195.1 74.2h0.8M188.1 66.5h0.8M193.1 51.7h0.8M189.0 73.1h0.8M187.2 69.6h0.8M201.8 74.4h0.8M188.3 65.5h0.8M193.3 49.7h0.8M186.5 55.3h0.8M193.1 72.1h0.8M188.9 65.7h0.8M191.7 77.4h0.8M192.9 57.9h0.8M188.2 64.8h0.8M190.3 71.6h0.8M189.1 58.0h0.8M188.3 62.1h0.8M189.6 57.6h0.8M186.1 74.6h0.8M187.7 53.4h0.8M199.0 72.0h0.8M189.5 71.1h0.8M193.8 50.1h0.8M198.4 68.7h0.8M193.5 71.8h0.8M195.1 70.0h0.8M197.8 78.4h0.8M193.3 59.9h0.8M191.0 69.4h0.8M187.9 63.6h0.8M192.6 63.2h0.8M188.4 59.2h0.8M190.0 75.0h0.8M192.2 77.1h0.8M189.1 77.6h0.8M193.9 64.6h0.8M187.9 70.3h0.8M188.5 68.3h0.8M186.9 73.8h0.8M189.7 65.3h0.8M186.4 73.2h0.8M191.1 78.5h0.8M192.4 66.0h0.8M189.5 77.8h0.8M194.3 75.2h0.8M192.2 52.6h0.8M192.7 68.2h0.8M195.6 75.5h0.8M190.6 62.4h0.8M199.5 50.0h0.8M187.3 69.2h0.8M189.2 75.7h0.8M187.5 55.6h0.8M202.1 59.5h0.8M186.7 71.7h0.8M186.1 73.7h0.8M194.2 69.5h0.8M191.1 77.5h0.8M193.5 73.1h0.8M191.7 61.3h0.8M187.3 74.8h0.8M194.7 66.4h0.8M189.7 55.1h0.8M192.7 70.8h0.8M198.6 77.2h0.8M190.8 69.9h0.8M195.9 53.7h0.8M187.0 71.7h0.8M187.5 76.6h0.8M187.9 56.5h0.8M188.0 75.6h0.8M193.5 60.7h0.8M191.6 72.3h0.8M198.0 71.5h0.8M193.1 49.9h0.8M188.6 61.1h0.8M189.7 73.0h0.8M192.0 67.9h0.8M195.1 70.8h0.8M191.6 68.1h0.8M189.4 78.4h0.8M203.0 73.0h0.8M196.1 59.8h0.8M186.8 57.8h0.8M193.1 63.4h0.8M194.9 74.9h0.8M200.1 54.8h0.8M197.8 65.2h0.8M188.1 65.2h0.8M196.8 64.0h0.8M195.5 65.3h0.8M187.6 52.8h0.8M197.2 63.7h0.8M187.1 73.4h0.8M187.2 51.6h0.8M202.8 70.9h0.8M188.8 67.8h0.8M199.3 72.7h0.8M188.7 76.2h0.8M186.6 77.2h0.8M201.4 68.4h0.8M191.3 63.0h0.8M203.4 69.4h0.8M193.2 77.9h0.8M189.6 75.6h0.8M188.6 66.0h0.8M190.0 69.6h0.8M191.5 77.6h0.8M195.0 75.4h0.8M194.0 70.8h0.8M199.0 53.9h0.8M201.2 76.1h0.8M189.5 58.3h0.8M189.2 71.7h0.8M200.6 69.4h0.8M192.7 66.9h0.8M188.3 64.3h0.8M196.6 64.0h0.8M193.2 76.3h0.8M193.4 64.0h0.8M193.8 70.5h0.8M192.8 71.7h0.8M196.2 71.9h0.8M186.6 75.5h0.8M194.6 73.0h0.8M191.2 66.4h0.8M187.2 60.6h0.8M187.6 78.5h0.8M194.8 60.1h0.8M192.1 59.8h0.8M188.6 76.0h0.8M190.1 72.1h0.8M188.1 72.7h0.8M192.2 70.9h0.8M187.2 57.6h0.8M189.6 55.6h0.8M186.4 62.5h0.8M193.6 65.5h0.8M189.5 70.9h0.8M191.0 74.7h0.8M186.3 66.3h0.8M198.6 70.5h0.8M186.3 73.3h0.8M187.7 78.3h0.8M196.5 71.0h0.8M192.3 73.8h0.8M186.7 75.0h0.8M198.2 77.7h0.8M196.6 78.3h0.8M195.3 59.3h0.8M187.7 77.0h0.8M196.2 56.5h0.8M188.8 58.5h0.8M187.4 68.2h0.8M190.6 63.0h0.8M187.9 68.1h0.8M192.9 55.9h0.8M200.3 74.7h0.8M188.0 63.9h0.8M193.2 77.6h0.8M196.7 78.3h0.8M192.5 76.8h0.8M192.9 55.6h0.8M195.0 77.1h0.8M187.0 70.2h0.8M187.6 78.5h0.8M189.1 60.2h0.8M198.5 77.3h0.8M196.4 68.6h0.8M194.2 70.0h0.8M188.3 78.4h0.8M200.5 78.3h0.8M198.0 66.6h0.8M197.8 72.7h0.8M186.5 67.9h0.8M192.3 71.9h0.8M189.2 68.7h0.8M195.3 64.3h0.8M190.7 59.9h0.8M186.2 55.8h0.8M191.3 64.0h0.8M196.1 59.9h0.8M191.0 77.6h0.8M192.3 53.6h0.8M192.7 63.0h0.8M187.3 56.7h0.8M189.0 73.2h0.8M199.3 72.3h0.8M193.7 64.4h0.8M186.2 58.4h0.8M188.0 71.2h0.8M188.9 73.4h0.8M186.7 78.5h0.8M198.0 75.2h0.8M190.3 64.6h0.8M192.3 69.6h0.8M187.9 61.2h0.8M191.6 71.7h0.8M192.2 72.4h0.8M197.5 63.5h0.8M187.9 61.9h0.8M190.3 66.4h0.8M200.7 69.5h0.8M195.4 72.4h0.8M186.5 76.9h0.8M195.8 56.7h0.8M186.2 59.7h0.8M190.6 75.9h0.8M192.6 72.3h0.8M189.2 55.8h0.8M188.3 70.5h0.8M190.8 69.3h0.8M197.3 75.7h0.8M192.1 63.3h0.8M187.9 72.0h0.8M199.2 68.9h0.8M186.6 63.8h0.8M196.1 78.1h0.8M188.8 69.6h0.8M192.2 66.2h0.8M189.2 61.0h0.8M187.6 54.4h0.8M194.7 60.9h0.8M187.0 73.6h0.8M187.6 63.3h0.8M191.3 77.4h0.8M194.8 58.9h0.8M186.3 64.5h0.8M187.4 75.8h0.8M195.0 75.0h0.8M187.8 77.2h0.8M194.7 68.4h0.8M190.7 67.3h0.8M188.4 61.9h0.8M189.3 71.3h0.8M188.3 75.2h0.8M191.8 77.5h0.8M191.6 51.2h0.8M188.5 62.0h0.8M193.5 72.7h0.8M203.0 68.9h0.8M193.3 70.0h0.8M186.9 69.3h0.8M189.4 64.1h0.8M188.2 66.4h0.8M190.1 77.0h0.8M189.8 66.1h0.8M190.1 73.0h0.8M189.2 62.4h0.8M192.4 61.1h0.8M186.2 73.0h0.8M190.2 61.6h0.8M186.3 58.4h0.8M188.1 70.9h0.8M190.0 72.0h0.8M186.2 69.3h0.8M186.7 61.6h0.8M200.6 66.8h0.8M188.4 60.6h0.8M187.3 59.7h0.8M197.9 65.0h0.8M191.1 76.6h0.8M190.2 68.5h0.8M188.4 75.2h0.8M187.4 56.6h0.8M198.1 61.5h0.8M193.1 53.7h0.8M188.6 52.8h0.8M191.8 68.1h0.8M195.6 68.2h0.8M196.8 71.5h0.8M200.1 59.0h0.8M192.6 76.6h0.8M193.7 72.9h0.8M186.2 74.0h0.8M198.8 63.2h0.8M188.2 76.1h0.8M186.3 75.5h0.8M192.1 63.5h0.8M194.7 76.2h0.8M186.7 68.9h0.8M188.2 76.5h0.8M190.6 73.0h0.8M190.4 70.8h0.8M189.6 76.3h0.8M190.2 72.3h0.8M192.1 71.9h0.8M192.0 63.2h0.8M193.0 74.1h0.8M194.1 55.2h0.8M196.9 67.6h0.8M193.4 65.5h0.8M190.3 72.9h0.8M186.3 52.7h0.8M191.3 68.3h0.8M187.6 67.0h0.8M186.5 77.2h0.8M192.3 52.6h0.8M198.1 72.6h0.8M191.7 69.3h0.8M199.6 53.0h0.8M193.1 63.9h0.8M188.9 53.7h0.8M192.3 76.6h0.8M189.2 65.8h0.8M190.4 67.2h0.8M189.8 59.4h0.8M197.0 54.2h0.8M199.6 54.4h0.8M192.7 71.7h0.8M188.6 63.9h0.8M189.0 55.0h0.8M195.9 72.3h0.8M192.5 72.7h0.8M191.0 67.4h0.8M200.3 56.4h0.8M197.9 58.7h0.8M192.2 55.7h0.8M200.8 58.9h0.8M192.3 71.1h0.8M192.4 65.2h0.8M195.5 69.8h0.8M193.1 72.0h0.8M189.4 74.4h0.8M194.3 71.8h0.8M188.2 54.5h0.8M198.6 61.6h0.8M190.2 71.1h0.8M195.7 57.1h0.8M195.3 65.7h0.8M186.3 64.0h0.8M195.7 56.6h0.8M200.8 60.8h0.8M195.0 59.5h0.8M192.9 74.1h0.8M192.0 62.8h0.8M189.9 61.4h0.8M190.3 73.6h0.8M201.4 55.7h0.8M198.6 72.2h0.8M196.9 73.2h0.8M190.1 72.6h0.8M198.8 67.5h0.8M193.4 68.4h0.8M201.6 56.4h0.8M186.6 72.3h0.8M200.0 74.4h0.8M187.8 61.9h0.8M186.6 68.0h0.8M187.5 54.9h0.8M189.0 56.1h0.8M200.3 72.7h0.8M197.4 67.9h0.8M192.8 57.0h0.8M188.8 54.3h0.8M187.0 58.7h0.8M194.9 54.1h0.8M195.1 63.5h0.8M190.7 54.2h0.8M192.4 71.2h0.8M198.1 68.1h0.8M190.6 56.3h0.8M198.6 54.4h0.8M193.4 60.4h0.8M188.8 53.6h0.8M190.6 65.1h0.8M194.0 70.4h0.8M196.4 73.7h0.8M189.3 59.2h0.8M191.5 55.7h0.8M190.3 63.5h0.8M192.1 58.9h0.8M198.7 68.5h0.8M201.2 64.5h0.8M195.4 65.6h0.8M201.2 59.7h0.8M200.0 63.7h0.8M198.6 69.7h0.8M190.4 65.6h0.8M193.2 56.1h0.8M192.0 73.5h0.8M191.2 55.4h0.8M197.2 62.9h0.8M195.9 55.3h0.8M194.4 62.4h0.8M195.2 62.9h0.8M194.9 74.3h0.8M187.4 53.7h0.8M191.4 55.1h0.8M199.7 52.6h0.8M188.7 57.2h0.8M192.0 74.3h0.8M186.8 61.1h0.8M194.5 56.9h0.8M191.2 68.0h0.8M197.1 70.0h0.8M197.4 59.9h0.8M187.8 52.9h0.8M196.8 70.0h0.8M197.4 65.8h0.8M192.4 53.5h0.8M193.1 55.0h0.8M190.5 69.3h0.8M195.5 72.2h0.8M200.1 68.4h0.8M201.4 55.9h0.8M198.1 66.4h0.8M194.9 55.2h0.8M194.0 72.4h0.8M197.6 73.0h0.8M198.7 54.0h0.8M192.3 71.1h0.8M197.8 63.3h0.8M193.2 61.1h0.8M191.8 60.3h0.8M193.5 65.5h0.8M188.1 56.2h0.8M196.2 65.1h0.8M193.8 63.9h0.8M191.5 74.4h0.8M190.6 64.2h0.8M190.6 65.7h0.8M190.7 61.8h0.8M186.3 60.0h0.8M193.2 66.1h0.8M198.6 53.6h0.8M191.0 57.8h0.8M193.3 72.5h0.8M201.3 68.4h0.8M201.4 63.5h0.8M196.0 55.5h0.8M197.8 58.3h0.8M194.9 57.6h0.8M194.2 61.2h0.8M200.4 64.0h0.8M198.5 58.2h0.8M194.1 64.1h0.8M190.8 61.6h0.8M191.1 67.5h0.8M195.4 68.2h0.8M187.0 57.3h0.8M201.3 55.5h0.8M188.5 64.7h0.8M193.3 71.7h0.8M200.1 65.3h0.8M193.1 62.3h0.8M202.3 54.9h0.8M193.7 69.3h0.8M196.9 54.6h0.8M199.3 72.9h0.8M198.2 56.3h0.8M200.8 55.7h0.8M197.2 69.7h0.8M194.5 54.0h0.8M186.1 66.7h0.8M198.4 60.1h0.8M196.4 81.2h0.8M219.9 85.1h0.8M204.2 78.6h0.8M211.7 79.8h0.8M200.4 76.5h0.8M210.5 81.1h0.8M197.2 64.9h0.8M207.9 87.1h0.8M210.6 78.3h0.8M208.8 87.0h0.8M200.9 84.7h0.8M201.7 80.0h0.8M219.4 86.9h0.8M202.6 87.0h0.8M213.2 84.7h0.8M212.3 81.1h0.8M198.5 72.3h0.8M198.2 86.2h0.8M211.4 79.9h0.8M198.4 81.4h0.8M211.3 74.8h0.8M219.9 80.5h0.8M234.0 81.7h0.8M218.1 79.2h0.8M218.9 83.0h0.8M204.4 82.8h0.8M204.2 82.7h0.8M202.6 82.6h0.8M217.3 84.7h0.8M200.1 86.0h0.8M205.5 82.0h0.8M222.8 74.3h0.8M203.2 86.7h0.8M197.1 84.6h0.8M202.1 86.7h0.8M216.1 81.3h0.8M217.1 86.9h0.8M200.6 85.7h0.8M231.7 85.7h0.8M221.2 85.8h0.8M213.8 84.2h0.8M197.9 85.5h0.8M211.5 85.1h0.8M204.3 87.3h0.8M208.5 85.8h0.8M202.9 84.3h0.8M232.8 76.1h0.8M215.4 77.8h0.8M200.2 80.5h0.8M202.7 79.7h0.8M196.5 75.0h0.8M220.7 72.7h0.8M217.0 84.8h0.8M195.1 85.3h0.8M225.5 85.2h0.8M202.9 82.0h0.8M210.5 73.8h0.8M196.7 82.7h0.8M207.3 77.4h0.8M242.2 78.8h0.8M217.6 86.6h0.8M200.3 85.9h0.8M201.5 86.8h0.8M200.4 74.2h0.8M195.4 81.4h0.8M226.0 78.0h0.8M218.8 81.3h0.8M205.5 78.3h0.8M197.7 79.1h0.8M198.2 84.9h0.8M197.8 80.5h0.8M207.1 76.9h0.8M211.2 79.9h0.8M203.9 85.4h0.8M201.1 87.2h0.8M197.7 76.4h0.8M210.2 86.7h0.8M223.2 82.4h0.8M205.0 84.8h0.8M207.3 72.6h0.8M206.9 83.1h0.8M211.1 87.0h0.8M197.2 77.1h0.8M211.0 76.2h0.8M201.5 73.4h0.8M214.1 84.2h0.8M224.2 85.3h0.8M200.6 85.0h0.8M196.0 84.9h0.8M200.8 82.7h0.8M208.5 79.6h0.8M215.0 87.3h0.8M207.5 86.1h0.8M204.5 83.9h0.8M201.3 82.3h0.8M214.8 76.4h0.8M208.2 83.6h0.8M201.5 85.2h0.8M202.1 78.8h0.8M205.0 78.2h0.8M207.3 78.0h0.8M195.6 84.9h0.8M199.8 81.4h0.8M206.0 82.9h0.8M210.0 76.9h0.8M214.7 81.6h0.8M226.9 80.1h0.8M232.4 84.8h0.8M205.3 85.6h0.8M199.2 84.0h0.8M195.2 84.8h0.8M224.5 80.7h0.8M211.4 76.6h0.8M209.8 81.2h0.8M203.5 84.0h0.8M213.7 81.5h0.8M196.3 79.6h0.8M199.8 80.3h0.8M231.1 73.0h0.8M208.4 82.0h0.8M195.8 87.3h0.8M213.3 70.0h0.8M195.3 84.1h0.8M199.2 85.6h0.8M236.9 87.2h0.8M214.7 86.6h0.8M202.5 87.4h0.8M224.0 84.1h0.8M206.6 80.8h0.8M213.7 83.9h0.8M216.9 70.8h0.8M201.5 83.8h0.8M197.1 79.9h0.8M209.9 77.2h0.8M196.5 83.5h0.8M219.2 81.7h0.8M223.7 83.4h0.8M208.2 87.3h0.8M199.8 85.3h0.8M202.5 84.6h0.8M202.1 77.4h0.8M204.1 76.5h0.8M208.4 70.4h0.8M208.0 86.9h0.8M199.3 83.0h0.8M223.5 86.7h0.8M231.1 72.5h0.8M203.2 82.7h0.8M217.2 86.0h0.8M208.3 86.4h0.8M214.0 82.4h0.8M198.6 82.1h0.8M199.5 82.0h0.8M215.5 84.5h0.8M214.5 79.7h0.8M216.3 84.4h0.8M196.4 85.2h0.8M212.9 84.6h0.8M240.6 86.0h0.8M221.6 80.9h0.8M197.9 80.0h0.8M203.0 77.5h0.8M207.6 81.9h0.8M219.9 81.6h0.8M211.2 86.2h0.8M207.6 82.6h0.8M216.8 82.0h0.8M199.1 86.5h0.8M209.9 78.5h0.8M198.9 79.2h0.8M208.3 74.9h0.8M209.5 84.8h0.8M199.0 81.9h0.8M208.7 75.4h0.8M203.0 84.1h0.8M208.2 83.4h0.8M196.5 86.1h0.8M197.0 86.2h0.8M199.9 80.7h0.8M196.0 83.4h0.8M197.1 86.7h0.8M203.0 83.0h0.8M222.3 82.1h0.8M223.4 82.0h0.8M216.2 86.2h0.8M234.0 85.1h0.8M204.5 78.8h0.8M205.2 82.2h0.8M211.2 78.2h0.8M207.5 73.5h0.8M207.7 84.4h0.8M209.8 76.4h0.8M203.8 84.1h0.8M199.3 76.0h0.8M199.0 85.3h0.8M222.0 80.0h0.8M202.7 85.4h0.8M220.8 85.4h0.8M210.3 86.8h0.8M205.0 86.9h0.8M221.7 84.9h0.8M208.5 85.3h0.8M206.6 79.5h0.8M207.8 85.8h0.8M219.2 75.1h0.8M208.9 87.4h0.8M203.2 87.4h0.8M231.4 80.8h0.8M201.2 84.1h0.8M208.3 86.7h0.8M220.7 87.4h0.8M199.5 85.1h0.8M205.9 82.8h0.8M237.7 84.6h0.8M196.4 82.3h0.8M208.3 82.2h0.8M198.9 83.1h0.8M221.5 84.9h0.8M210.4 81.6h0.8M197.1 86.8h0.8M210.1 82.8h0.8M200.1 81.7h0.8M200.2 75.9h0.8M198.5 81.3h0.8M228.0 77.2h0.8M198.6 79.7h0.8M201.1 87.2h0.8M195.2 81.6h0.8M234.9 79.8h0.8M211.3 83.9h0.8M202.2 79.8h0.8M216.9 80.9h0.8M195.8 77.1h0.8M233.6 79.2h0.8M202.2 84.0h0.8M209.3 83.2h0.8M200.2 84.7h0.8M197.1 86.3h0.8M198.0 81.2h0.8M209.8 74.1h0.8M211.0 71.3h0.8M227.2 83.3h0.8M196.2 86.0h0.8M208.6 84.4h0.8M208.0 86.1h0.8M206.8 77.8h0.8M224.0 86.5h0.8M199.6 85.0h0.8M214.8 69.4h0.8M205.2 79.6h0.8M201.2 86.2h0.8M208.2 85.8h0.8M199.1 71.9h0.8M195.5 83.4h0.8M208.2 81.3h0.8M202.5 85.0h0.8M209.4 83.8h0.8M212.5 81.6h0.8M203.5 82.5h0.8M211.5 82.3h0.8M228.0 81.3h0.8M195.7 81.9h0.8M209.5 82.7h0.8M201.1 86.7h0.8M207.7 81.0h0.8M229.4 86.6h0.8M219.4 85.4h0.8M203.0 82.1h0.8M205.9 86.3h0.8M227.6 76.4h0.8M198.8 84.9h0.8M204.7 82.0h0.8M220.6 81.6h0.8M202.4 77.8h0.8M200.0 77.8h0.8M199.3 84.9h0.8M195.4 78.4h0.8M221.0 75.5h0.8M242.9 81.2h0.8M207.9 76.0h0.8M200.8 80.4h0.8M204.5 79.5h0.8M198.6 86.8h0.8M201.8 86.1h0.8M211.1 77.6h0.8M203.8 85.9h0.8M235.3 76.5h0.8M203.9 87.1h0.8M197.3 85.2h0.8M204.8 83.3h0.8M220.6 76.6h0.8M209.1 86.1h0.8M218.6 84.4h0.8M207.0 78.7h0.8M208.3 84.8h0.8M196.5 84.0h0.8M204.3 84.8h0.8M216.8 77.2h0.8M206.5 84.1h0.8M212.3 74.7h0.8M200.4 85.4h0.8M207.8 86.1h0.8M208.6 86.4h0.8M207.1 84.4h0.8M216.4 77.3h0.8M211.1 82.5h0.8M209.5 85.6h0.8M210.7 85.4h0.8M212.5 82.1h0.8M205.4 83.7h0.8M218.6 84.5h0.8M232.5 84.4h0.8M199.3 84.0h0.8M195.7 82.3h0.8M227.4 77.6h0.8M197.8 81.9h0.8M201.7 77.2h0.8M195.2 82.1h0.8M210.4 86.5h0.8M208.8 86.3h0.8M197.2 80.2h0.8M199.3 79.4h0.8M212.3 79.6h0.8M207.1 87.2h0.8M204.9 79.8h0.8M195.3 84.6h0.8M203.5 80.5h0.8M201.3 72.9h0.8M223.8 84.5h0.8M197.9 82.8h0.8M197.4 82.3h0.8M222.7 87.2h0.8M204.5 84.2h0.8M225.3 86.7h0.8M215.5 84.0h0.8M210.4 84.2h0.8M202.6 82.0h0.8M210.3 87.1h0.8M202.2 85.3h0.8M224.3 77.3h0.8M204.5 67.7h0.8M232.0 85.1h0.8M208.2 76.3h0.8M211.2 75.9h0.8M197.9 77.4h0.8M197.4 81.9h0.8M208.9 73.3h0.8M211.6 79.9h0.8M196.6 80.9h0.8M200.2 78.9h0.8M203.7 86.9h0.8M214.3 87.2h0.8M218.1 68.3h0.8M224.8 72.8h0.8M203.8 69.3h0.8M221.2 81.6h0.8M217.0 83.7h0.8M203.3 86.5h0.8M199.8 86.7h0.8M226.3 76.7h0.8M209.4 81.0h0.8M202.9 76.1h0.8M197.1 84.7h0.8M203.5 78.8h0.8M198.3 81.6h0.8M210.1 86.6h0.8M219.1 74.8h0.8M224.7 85.1h0.8M198.9 73.3h0.8M200.1 85.4h0.8M212.6 87.3h0.8M195.0 87.1h0.8M211.3 76.9h0.8M219.1 87.4h0.8M234.9 86.4h0.8M236.7 82.0h0.8M203.2 81.5h0.8M232.3 74.1h0.8M212.2 86.3h0.8M207.4 77.9h0.8M199.2 86.4h0.8M198.1 86.9h0.8M228.7 79.4h0.8M216.8 72.7h0.8M214.9 84.5h0.8M198.3 87.3h0.8M202.5 80.8h0.8M230.3 84.2h0.8M199.1 81.9h0.8M218.2 87.1h0.8M220.6 68.9h0.8M211.0 70.9h0.8M202.7 61.0h0.8M210.1 55.7h0.8M209.9 65.5h0.8M200.7 61.8h0.8M203.8 77.1h0.8M221.7 69.2h0.8M214.4 72.4h0.8M213.7 72.0h0.8M219.1 76.0h0.8M220.4 63.9h0.8M217.2 71.5h0.8M217.6 76.3h0.8M215.0 64.6h0.8M219.1 71.6h0.8M212.9 68.8h0.8M213.9 67.6h0.8M215.5 64.7h0.8M218.1 68.1h0.8M225.1 67.8h0.8M213.8 61.0h0.8M228.8 65.4h0.8M209.4 65.2h0.8M213.0 66.0h0.8M224.8 64.3h0.8M211.4 64.4h0.8M217.2 59.1h0.8M219.9 64.8h0.8M203.0 73.1h0.8M203.7 69.6h0.8M213.1 63.4h0.8M201.4 63.2h0.8M218.3 66.1h0.8M208.9 70.8h0.8M213.2 66.8h0.8M206.9 60.2h0.8M209.7 67.7h0.8M210.1 67.8h0.8M211.2 65.3h0.8M212.6 68.0h0.8M197.3 66.4h0.8M211.5 64.4h0.8M219.8 71.6h0.8M221.0 69.7h0.8M216.1 67.0h0.8M218.2 63.4h0.8M212.0 67.8h0.8M211.9 60.8h0.8M212.3 64.5h0.8M208.4 69.1h0.8M220.5 66.8h0.8M204.9 65.6h0.8M211.6 61.7h0.8M208.7 67.0h0.8M208.8 68.3h0.8M203.8 69.3h0.8M208.0 66.9h0.8M213.1 64.1h0.8M220.2 58.4h0.8M214.3 69.2h0.8M211.2 66.1h0.8M204.9 66.1h0.8M214.1 63.7h0.8M213.0 64.7h0.8M205.7 66.0h0.8M207.4 70.2h0.8M207.4 72.5h0.8M212.7 66.2h0.8M207.7 68.2h0.8M205.7 59.4h0.8M215.9 57.0h0.8M220.9 63.9h0.8M223.9 67.4h0.8M224.4 59.8h0.8M209.8 67.5h0.8M208.9 66.6h0.8M211.7 69.2h0.8M222.9 56.7h0.8M217.3 61.2h0.8M224.4 59.7h0.8M207.0 68.5h0.8M211.7 69.3h0.8M215.5 62.9h0.8M201.4 71.4h0.8M211.3 65.8h0.8M210.7 65.1h0.8M207.7 66.5h0.8M214.6 60.8h0.8M201.7 68.7h0.8M219.0 63.9h0.8M211.7 64.1h0.8M215.7 65.9h0.8M209.0 62.9h0.8M216.0 67.9h0.8M209.8 68.0h0.8M191.0 64.3h0.8M214.1 57.3h0.8M208.7 67.3h0.8M221.8 68.0h0.8M204.1 70.2h0.8M210.9 69.9h0.8M203.0 59.0h0.8M201.6 68.9h0.8M221.3 67.4h0.8M214.1 65.8h0.8M214.2 61.7h0.8M221.6 69.8h0.8M219.7 65.9h0.8M218.8 70.6h0.8M189.7 86.8h0.8M229.7 63.7h0.8M190.7 58.8h0.8M185.5 47.8h0.8M219.3 55.4h0.8M218.8 73.1h0.8M188.6 85.3h0.8M229.4 67.1h0.8M188.1 85.9h0.8M212.0 52.8h0.8M234.5 63.8h0.8M199.9 46.2h0.8M246.8 79.2h0.8M253.4 73.1h0.8M215.8 84.1h0.8M190.4 62.6h0.8M246.1 66.6h0.8M241.3 77.6h0.8M206.1 86.0h0.8M187.7 77.1h0.8M186.3 46.9h0.8M188.1 50.2h0.8M224.9 60.9h0.8M225.3 83.5h0.8M208.8 44.5h0.8" stroke="#000" stroke-width="0.8" stroke-opacity="0.42" fill="none" filter="url(#bd)"/>
</g>
<rect x="185.50" y="19.50" width="70.00" height="68.50" fill="none" stroke="#1a1a1a" stroke-width="1"/>
<rect x="185.50" y="49.50" width="17.00" height="25.00" fill="none" stroke="#1c1c1c" stroke-width="1"/>
<rect x="203.50" y="58.50" width="19.00" height="14.00" fill="none" stroke="#1c1c1c" stroke-width="1.2"/>
<text x="189.8" y="44.3" text-anchor="start" fill="#000" style="font-size:6.7px;font-weight:bold;" stroke="#000" stroke-width="0.30">5.1%</text>
<text x="235.4" y="69.1" text-anchor="start" fill="#000" style="font-size:6.7px;font-weight:bold;" stroke="#000" stroke-width="0.30">0.29%</text>
<line x1="183.5" y1="23.5" x2="185.5" y2="23.5" stroke="#333" stroke-width="0.7"/>
<text x="178.5" y="24.7" fill="#333" style="font-size:2.8px">10<tspan dy="-1.2" style="font-size:2.2px">4</tspan></text>
<line x1="183.5" y1="37.5" x2="185.5" y2="37.5" stroke="#333" stroke-width="0.7"/>
<text x="178.5" y="38.7" fill="#333" style="font-size:2.8px">10<tspan dy="-1.2" style="font-size:2.2px">3</tspan></text>
<line x1="183.5" y1="53.5" x2="185.5" y2="53.5" stroke="#333" stroke-width="0.7"/>
<text x="178.5" y="54.7" fill="#333" style="font-size:2.8px">10<tspan dy="-1.2" style="font-size:2.2px">2</tspan></text>
<line x1="183.5" y1="69.5" x2="185.5" y2="69.5" stroke="#333" stroke-width="0.7"/>
<text x="178.5" y="70.7" fill="#333" style="font-size:2.8px">10<tspan dy="-1.2" style="font-size:2.2px">1</tspan></text>
<line x1="183.5" y1="86" x2="185.5" y2="86" stroke="#333" stroke-width="0.7"/>
<text x="178.5" y="87.2" fill="#333" style="font-size:2.8px">10<tspan dy="-1.2" style="font-size:2.2px">0</tspan></text>
<line x1="188.0" y1="88" x2="188.0" y2="90" stroke="#333" stroke-width="0.7"/>
<text x="186.0" y="93.5" fill="#333" style="font-size:2.8px">10<tspan dy="-1.2" style="font-size:2.2px">0</tspan></text>
<line x1="203.5" y1="88" x2="203.5" y2="90" stroke="#333" stroke-width="0.7"/>
<text x="201.5" y="93.5" fill="#333" style="font-size:2.8px">10<tspan dy="-1.2" style="font-size:2.2px">1</tspan></text>
<line x1="221.5" y1="88" x2="221.5" y2="90" stroke="#333" stroke-width="0.7"/>
<text x="219.5" y="93.5" fill="#333" style="font-size:2.8px">10<tspan dy="-1.2" style="font-size:2.2px">2</tspan></text>
<line x1="238.5" y1="88" x2="238.5" y2="90" stroke="#333" stroke-width="0.7"/>
<text x="236.5" y="93.5" fill="#333" style="font-size:2.8px">10<tspan dy="-1.2" style="font-size:2.2px">3</tspan></text>
<line x1="253.0" y1="88" x2="253.0" y2="90" stroke="#333" stroke-width="0.7"/>
<text x="251.0" y="93.5" fill="#333" style="font-size:2.8px">10<tspan dy="-1.2" style="font-size:2.2px">4</tspan></text>
<text x="50.3" y="18.2" text-anchor="middle" fill="#000" style="font-size:8.7px;font-weight:bold;" stroke="#000" stroke-width="0.39">WT</text>
<text x="126.3" y="18.1" text-anchor="start" style="font-size:9.1px;font-weight:bold;font-style:italic;" stroke="#000" stroke-width="0.41">Asxl1<tspan dx="-0.4" dy="-3.82" style="font-size:5.64px">+/-</tspan></text>
<text x="207.9" y="18.0" text-anchor="start" style="font-size:9.0px;font-weight:bold;font-style:italic;" stroke="#000" stroke-width="0.40">Asxl1<tspan dx="-0.4" dy="-3.78" style="font-size:5.58px">-/-</tspan></text>
<line x1="7.5" y1="96" x2="7.5" y2="62" stroke="#000" stroke-width="1"/>
<polygon points="7.5,58.5 5.2,64 9.8,64" fill="#000"/>
<line x1="7" y1="96" x2="42" y2="96" stroke="#000" stroke-width="1"/>
<polygon points="46,96 40.5,93.7 40.5,98.3" fill="#000"/>
<text x="10.2" y="104.3" text-anchor="start" fill="#000" style="font-size:7.7px;font-weight:bold;" stroke="#000" stroke-width="0.35">Sca-1</text>
<text x="5.9" y="88.3" text-anchor="start" fill="#000" style="font-size:8px;font-weight:bold;" transform="rotate(-90 5.9 88.3)" stroke="#000" stroke-width="0.36">c-Kit</text>
<clipPath id="c19d"><rect x="19.5" y="132.5" width="66.0" height="65.5"/></clipPath>
<g clip-path="url(#c19d)">
<rect x="16.5" y="164.5" width="28.5" height="38.5" fill="#000" opacity="0.10" filter="url(#b2)"/>
<ellipse cx="39" cy="180.5" rx="6" ry="17" fill="#000" opacity="0.14" filter="url(#b3)"/>
<rect x="45" y="163.5" width="14" height="18.0" fill="#000" opacity="0.13" filter="url(#b2)"/>
<ellipse cx="43.5" cy="157.25" rx="17" ry="5.5" fill="#000" opacity="0.24" filter="url(#b3)"/>
<path d="M69.4 150.7h0.8M68.0 155.4h0.8M39.6 156.7h0.8M68.9 152.8h0.8M40.2 159.2h0.8M55.1 158.6h0.8M45.7 160.9h0.8M33.4 163.2h0.8M38.9 158.5h0.8M34.0 154.7h0.8M55.5 159.3h0.8M42.3 160.2h0.8M80.6 147.5h0.8M21.3 157.8h0.8M25.2 161.0h0.8M35.1 157.0h0.8M35.0 165.1h0.8M61.6 150.4h0.8M51.8 155.9h0.8M60.9 158.4h0.8M36.0 155.4h0.8M45.0 163.7h0.8M45.5 155.0h0.8M39.9 160.4h0.8M41.0 163.9h0.8M54.4 157.7h0.8M45.6 155.8h0.8M61.4 156.3h0.8M47.6 151.8h0.8M42.2 157.8h0.8M43.6 157.3h0.8M55.6 159.9h0.8M53.3 154.8h0.8M38.7 157.1h0.8M26.4 151.5h0.8M48.2 157.1h0.8M45.4 161.7h0.8M20.3 158.7h0.8M41.8 152.0h0.8M52.0 162.6h0.8M27.8 157.3h0.8M55.3 157.3h0.8M39.4 160.9h0.8M25.1 156.9h0.8M37.1 156.8h0.8M30.3 157.8h0.8M58.4 158.8h0.8M29.9 155.1h0.8M35.9 151.3h0.8M52.7 159.0h0.8M42.4 162.9h0.8M52.5 154.8h0.8M44.9 156.6h0.8M44.3 162.2h0.8M58.7 153.3h0.8M66.6 150.8h0.8M41.5 166.6h0.8M52.2 161.7h0.8M46.0 159.1h0.8M37.1 162.9h0.8M42.2 155.0h0.8M27.7 165.7h0.8M27.7 153.1h0.8M50.0 157.2h0.8M64.0 159.6h0.8M48.3 154.1h0.8M50.6 151.5h0.8M36.0 162.5h0.8M47.6 152.6h0.8M37.3 156.6h0.8M48.1 157.9h0.8M53.7 145.5h0.8M52.7 149.8h0.8M39.4 157.6h0.8M56.3 154.7h0.8M29.5 153.9h0.8M47.4 166.5h0.8M30.6 155.1h0.8M36.5 161.6h0.8M50.9 156.5h0.8M48.0 163.3h0.8M41.3 152.7h0.8M44.8 152.3h0.8M47.1 160.6h0.8M40.4 160.8h0.8M58.1 164.4h0.8M40.5 159.4h0.8M53.7 160.3h0.8M55.3 159.1h0.8M52.4 160.8h0.8M50.1 159.4h0.8M47.8 156.9h0.8M24.1 156.9h0.8M45.0 155.0h0.8M39.6 162.1h0.8M41.7 148.4h0.8M38.7 156.7h0.8M58.5 158.4h0.8M50.5 155.1h0.8M38.2 151.0h0.8M51.7 157.3h0.8M36.6 157.4h0.8M57.1 160.8h0.8M53.6 161.7h0.8M47.4 157.2h0.8M44.6 159.1h0.8M25.5 158.3h0.8M45.0 153.8h0.8M38.3 161.7h0.8M40.2 156.8h0.8M61.3 153.4h0.8M44.2 155.6h0.8M38.8 156.5h0.8M50.8 156.2h0.8M55.2 160.1h0.8M32.6 157.4h0.8M42.6 152.2h0.8M24.7 161.1h0.8M47.9 162.0h0.8M62.1 160.2h0.8M48.7 162.2h0.8M43.2 155.7h0.8M55.6 159.7h0.8M38.8 155.6h0.8M30.5 165.4h0.8M40.4 155.3h0.8M37.9 155.2h0.8M46.0 157.4h0.8M53.4 147.5h0.8M46.1 163.7h0.8M45.2 154.9h0.8M66.8 155.2h0.8M52.3 158.1h0.8M43.0 153.3h0.8M46.4 158.0h0.8M64.9 151.3h0.8M27.4 159.4h0.8M27.9 146.2h0.8M40.9 161.6h0.8M24.2 151.4h0.8M61.1 153.8h0.8M34.7 156.5h0.8M62.5 156.4h0.8M53.3 156.5h0.8M32.6 158.2h0.8M24.4 161.2h0.8M26.6 157.7h0.8M20.7 156.8h0.8M49.1 154.3h0.8M66.2 157.2h0.8M49.4 151.5h0.8M38.9 158.1h0.8M52.9 159.5h0.8M28.9 151.4h0.8M32.1 161.5h0.8M25.0 152.4h0.8M45.9 157.0h0.8M43.8 153.9h0.8M48.3 156.7h0.8M42.4 158.0h0.8M41.9 156.4h0.8M57.0 159.9h0.8M45.3 157.7h0.8M59.6 152.0h0.8M23.1 157.3h0.8M25.4 153.0h0.8M46.9 157.9h0.8M40.6 154.2h0.8M28.2 154.4h0.8M35.3 157.0h0.8M54.8 156.0h0.8M31.9 158.8h0.8M57.9 158.4h0.8M39.4 155.6h0.8M40.9 153.1h0.8M54.6 155.9h0.8M65.8 161.8h0.8M39.0 167.1h0.8M39.2 154.1h0.8M24.8 157.2h0.8M48.8 155.7h0.8M43.2 159.0h0.8M35.7 156.9h0.8M41.5 163.0h0.8M51.8 156.8h0.8M33.1 156.6h0.8M35.6 155.8h0.8M48.3 160.3h0.8M55.6 154.9h0.8M46.5 157.0h0.8M53.7 165.6h0.8M55.7 160.6h0.8M47.2 159.2h0.8M22.5 158.5h0.8M42.8 157.0h0.8M52.4 169.3h0.8M47.4 152.5h0.8M40.2 160.4h0.8M52.3 157.9h0.8M50.5 154.1h0.8M61.0 149.2h0.8M40.7 154.2h0.8M39.4 158.0h0.8M45.7 160.9h0.8M65.4 159.2h0.8M34.2 157.2h0.8M36.0 154.1h0.8M40.0 160.8h0.8M35.7 158.5h0.8M36.2 160.6h0.8M57.2 151.7h0.8M52.6 153.9h0.8M48.1 156.8h0.8M53.8 152.3h0.8M65.4 158.5h0.8M37.4 162.1h0.8M59.5 159.2h0.8M39.0 154.1h0.8M34.7 163.4h0.8M45.1 157.1h0.8M40.5 161.9h0.8M40.6 160.5h0.8M24.9 154.2h0.8M48.2 153.5h0.8M65.6 149.3h0.8M48.8 159.3h0.8M49.4 157.0h0.8M43.3 170.8h0.8M47.5 154.8h0.8M44.3 164.2h0.8M44.3 161.5h0.8M59.5 155.0h0.8M65.7 151.4h0.8M38.9 156.9h0.8M41.6 159.6h0.8M43.2 159.5h0.8M35.5 151.1h0.8M64.5 158.2h0.8M48.9 152.8h0.8M49.5 157.0h0.8M49.9 157.7h0.8M56.0 162.6h0.8M40.6 155.8h0.8M52.5 151.6h0.8M36.7 155.8h0.8M21.5 164.6h0.8M41.6 156.4h0.8M31.5 159.3h0.8M39.5 152.6h0.8M48.2 163.1h0.8M28.2 157.1h0.8M68.4 156.5h0.8M36.7 163.4h0.8M47.0 160.8h0.8M62.6 159.7h0.8M48.1 164.7h0.8M28.0 152.9h0.8M42.1 154.9h0.8M42.7 150.0h0.8M26.8 160.0h0.8M42.4 158.9h0.8M40.3 157.2h0.8M27.9 164.1h0.8M56.0 152.1h0.8M39.6 158.6h0.8M39.9 157.0h0.8M46.8 150.1h0.8M52.7 159.1h0.8M33.8 156.5h0.8M43.5 156.2h0.8M45.0 151.4h0.8M45.2 158.9h0.8M48.8 159.0h0.8M38.3 157.8h0.8M55.1 157.5h0.8M46.9 157.5h0.8M50.3 152.3h0.8M43.9 160.5h0.8M34.6 159.4h0.8M39.5 155.6h0.8M32.2 153.7h0.8M57.4 151.6h0.8M46.1 152.0h0.8M66.7 160.0h0.8M35.8 152.8h0.8M41.5 158.6h0.8M62.8 162.9h0.8M33.7 158.2h0.8M54.7 154.5h0.8M39.3 160.8h0.8M29.3 157.4h0.8M43.7 156.1h0.8M44.8 150.9h0.8M53.5 155.5h0.8M66.0 164.9h0.8M39.4 164.8h0.8M60.1 154.1h0.8M41.7 161.9h0.8M36.5 155.9h0.8M31.7 154.5h0.8M36.5 158.3h0.8M47.3 155.8h0.8M29.5 158.2h0.8M51.2 157.1h0.8M59.6 155.5h0.8M53.7 158.3h0.8M59.0 163.6h0.8M31.7 150.2h0.8M55.8 158.5h0.8M48.3 155.5h0.8M36.3 161.9h0.8M49.7 155.2h0.8M45.0 158.4h0.8M30.2 154.8h0.8M50.1 157.8h0.8M29.4 158.5h0.8M66.3 159.6h0.8M30.0 155.5h0.8M37.7 154.2h0.8M35.4 155.0h0.8M43.5 152.5h0.8M54.6 158.5h0.8M65.9 160.5h0.8M55.0 159.3h0.8M43.3 153.1h0.8M51.8 157.6h0.8M37.4 158.8h0.8M48.1 154.8h0.8M60.4 155.4h0.8M45.9 161.4h0.8M38.8 156.1h0.8M49.5 156.0h0.8M39.0 152.9h0.8M47.0 155.8h0.8M53.6 161.2h0.8M44.3 160.3h0.8M36.8 163.5h0.8M38.5 156.8h0.8M40.5 155.4h0.8M53.2 157.3h0.8M34.8 160.3h0.8M44.9 159.5h0.8M46.9 155.5h0.8M24.8 156.1h0.8M34.8 162.0h0.8M42.2 163.0h0.8M69.7 161.8h0.8M70.6 153.7h0.8M39.1 153.3h0.8M29.9 152.3h0.8M54.3 154.2h0.8M41.0 159.5h0.8M40.0 163.3h0.8M57.6 160.1h0.8M62.8 159.4h0.8M46.6 161.5h0.8M56.0 152.1h0.8M56.6 161.2h0.8M46.3 162.7h0.8M31.7 158.1h0.8M37.0 154.1h0.8M47.6 151.8h0.8M44.3 160.0h0.8M36.4 153.1h0.8M50.7 160.9h0.8M54.5 155.3h0.8M40.2 162.6h0.8M54.1 158.6h0.8M47.1 156.7h0.8M51.2 160.0h0.8M45.1 158.4h0.8M29.5 156.8h0.8M61.9 158.2h0.8M29.7 155.6h0.8M45.5 162.9h0.8M67.9 157.2h0.8M42.9 157.9h0.8M32.5 162.4h0.8M31.5 160.2h0.8M39.6 153.4h0.8M48.2 163.8h0.8M31.4 158.2h0.8M37.0 161.5h0.8M28.5 152.5h0.8M40.4 152.4h0.8M55.2 151.6h0.8M45.2 155.5h0.8M55.3 155.3h0.8M42.5 163.8h0.8M51.6 162.2h0.8M60.0 159.3h0.8M48.0 150.9h0.8M25.8 155.8h0.8M47.7 161.6h0.8M36.2 156.1h0.8M67.2 153.1h0.8M42.5 157.0h0.8M37.0 163.1h0.8M27.2 156.2h0.8M26.3 154.7h0.8M61.5 149.7h0.8M26.3 157.4h0.8M48.5 154.6h0.8M49.3 156.6h0.8M40.3 157.7h0.8M57.9 152.8h0.8M53.9 158.4h0.8M42.2 154.6h0.8M48.2 160.4h0.8M34.3 160.2h0.8M44.9 160.6h0.8M47.5 156.6h0.8M46.8 159.8h0.8M28.7 157.4h0.8M39.3 157.5h0.8M55.4 160.9h0.8M60.1 160.9h0.8M42.2 154.3h0.8M72.7 154.8h0.8M40.6 159.0h0.8M35.6 157.9h0.8M46.8 155.3h0.8M33.3 157.5h0.8M49.2 153.6h0.8M46.0 157.8h0.8M34.9 159.0h0.8M29.6 160.8h0.8M36.8 161.3h0.8M45.6 157.6h0.8M29.9 160.3h0.8M32.5 165.9h0.8M49.3 158.1h0.8M44.8 160.0h0.8M49.5 158.9h0.8M54.0 156.8h0.8M62.1 151.6h0.8M26.6 159.6h0.8M44.3 151.6h0.8M31.4 154.6h0.8M58.3 159.9h0.8M26.5 152.2h0.8M46.0 152.6h0.8M37.8 155.1h0.8M45.1 159.6h0.8M36.9 155.4h0.8M47.5 163.6h0.8M49.0 156.0h0.8M54.7 156.8h0.8M29.6 159.9h0.8M62.4 153.1h0.8M52.9 152.7h0.8M43.6 156.9h0.8M40.7 156.9h0.8M51.9 155.4h0.8M42.1 156.2h0.8M47.5 154.9h0.8M53.1 158.5h0.8M38.1 152.4h0.8M41.6 161.2h0.8M51.5 157.4h0.8M66.6 163.3h0.8M50.2 162.7h0.8M41.8 156.0h0.8M47.0 150.1h0.8M44.9 155.4h0.8M59.3 159.5h0.8M61.6 155.6h0.8M60.7 157.9h0.8M50.3 158.9h0.8M30.8 160.8h0.8M39.6 159.8h0.8M44.0 153.6h0.8M41.2 158.5h0.8M41.3 163.9h0.8M57.8 157.7h0.8M40.6 162.9h0.8M45.0 161.8h0.8M29.7 149.7h0.8M52.9 160.9h0.8M42.8 156.7h0.8M49.6 159.4h0.8M43.8 157.4h0.8M47.1 161.5h0.8M52.4 147.4h0.8M48.5 156.2h0.8M56.3 160.1h0.8M38.9 157.0h0.8M32.7 157.8h0.8M36.8 162.1h0.8M58.7 156.0h0.8M34.9 162.3h0.8M29.9 156.0h0.8M40.4 158.3h0.8M45.2 153.8h0.8M54.1 158.8h0.8M48.1 163.4h0.8M65.1 158.3h0.8M40.1 156.3h0.8M43.3 153.2h0.8M36.9 155.4h0.8M50.3 160.2h0.8M37.9 153.2h0.8M44.3 150.6h0.8M42.0 158.1h0.8M48.9 155.7h0.8M49.2 160.2h0.8M40.8 153.3h0.8M39.0 158.4h0.8M47.6 150.8h0.8M28.2 151.1h0.8M64.3 159.0h0.8M46.5 152.8h0.8M21.4 165.1h0.8M51.3 147.8h0.8M62.1 158.8h0.8M44.1 158.3h0.8M54.4 149.6h0.8M47.6 152.4h0.8M40.1 156.5h0.8M39.9 154.4h0.8M46.4 155.8h0.8M47.5 160.2h0.8M35.2 156.6h0.8M35.2 160.4h0.8M52.5 161.3h0.8M56.1 157.8h0.8M33.6 154.4h0.8M57.8 157.8h0.8M53.3 155.1h0.8M42.1 164.7h0.8M55.3 151.2h0.8M37.0 157.8h0.8M56.0 161.0h0.8M53.9 162.0h0.8M52.2 160.6h0.8M35.0 152.6h0.8M39.0 162.2h0.8M59.3 153.1h0.8M41.5 157.6h0.8M50.9 158.6h0.8M60.8 158.3h0.8M42.2 156.3h0.8M56.4 156.3h0.8M50.3 155.7h0.8M31.8 149.1h0.8M41.4 154.2h0.8M53.4 155.9h0.8M34.4 160.1h0.8M39.9 165.3h0.8M39.6 157.6h0.8M36.1 163.2h0.8M47.7 156.4h0.8M43.5 149.3h0.8M58.3 157.3h0.8M57.2 154.1h0.8M60.3 154.8h0.8M44.9 165.1h0.8M39.1 157.4h0.8M42.8 157.7h0.8M46.2 156.7h0.8M49.3 155.6h0.8M59.1 159.9h0.8M32.1 155.3h0.8M41.0 161.0h0.8M23.4 161.6h0.8M23.1 154.9h0.8M35.2 156.0h0.8M53.1 160.9h0.8M43.4 156.5h0.8M33.9 161.8h0.8M39.2 167.7h0.8M27.4 154.7h0.8M52.0 164.3h0.8M41.1 159.0h0.8M37.8 158.1h0.8M21.4 159.8h0.8M38.7 158.9h0.8M43.1 153.6h0.8M27.6 153.5h0.8M44.0 160.1h0.8M56.8 161.0h0.8M67.0 161.1h0.8M64.2 160.4h0.8M48.0 150.7h0.8M55.1 156.8h0.8M40.3 152.2h0.8M58.3 157.3h0.8M39.8 154.3h0.8M43.6 159.0h0.8M51.1 157.7h0.8M46.9 157.6h0.8M39.9 161.7h0.8M43.0 155.1h0.8M63.3 153.7h0.8M39.6 157.8h0.8M42.6 157.0h0.8M55.0 161.2h0.8M29.9 164.5h0.8M31.6 153.3h0.8M52.0 153.4h0.8M31.4 160.5h0.8M50.0 158.8h0.8M59.9 161.3h0.8M39.5 155.5h0.8M49.1 155.7h0.8M47.4 160.7h0.8M47.4 151.9h0.8M62.5 157.1h0.8M48.3 151.0h0.8M44.1 152.4h0.8M61.8 155.5h0.8M29.4 156.8h0.8M34.4 157.5h0.8M34.2 150.7h0.8M42.4 156.1h0.8M35.8 159.9h0.8M53.7 156.9h0.8M43.6 158.7h0.8M54.6 158.0h0.8M32.2 159.7h0.8M40.5 159.8h0.8M26.2 156.1h0.8M28.0 159.2h0.8M25.1 161.7h0.8M23.2 152.0h0.8M23.0 158.3h0.8M29.4 159.5h0.8M28.8 159.2h0.8M26.1 154.2h0.8M21.8 160.9h0.8M35.4 149.6h0.8M23.0 156.5h0.8M30.0 151.8h0.8M20.1 158.4h0.8M36.9 157.0h0.8M24.4 159.7h0.8M37.2 155.6h0.8M22.9 156.8h0.8M30.6 160.7h0.8M35.0 156.4h0.8M34.3 157.4h0.8M23.0 157.9h0.8M22.2 158.3h0.8M26.3 155.1h0.8M23.5 153.5h0.8M26.8 156.6h0.8M23.6 158.6h0.8M22.0 157.2h0.8M22.2 163.3h0.8M26.7 156.3h0.8M38.8 158.6h0.8M26.8 152.6h0.8M26.8 154.1h0.8M27.8 158.9h0.8M23.1 156.1h0.8M34.7 155.3h0.8M21.8 159.0h0.8M31.8 158.5h0.8M27.8 160.0h0.8M23.7 150.5h0.8M29.2 159.5h0.8M33.8 154.2h0.8M30.5 162.2h0.8M23.1 156.9h0.8M25.6 159.5h0.8M23.5 157.9h0.8M22.9 161.6h0.8M30.1 155.5h0.8M26.7 156.7h0.8M31.2 151.6h0.8M27.9 156.7h0.8M29.0 156.0h0.8M20.6 159.9h0.8M26.5 153.4h0.8M27.6 159.9h0.8M22.1 161.8h0.8M21.1 160.7h0.8M31.1 156.5h0.8M26.6 160.8h0.8M25.5 162.7h0.8M26.6 162.6h0.8M20.0 156.5h0.8M22.3 159.4h0.8M29.1 158.7h0.8M30.5 160.3h0.8M26.1 156.2h0.8M27.3 154.9h0.8M39.4 154.8h0.8M33.2 157.2h0.8M35.8 156.2h0.8M22.5 159.5h0.8M40.3 157.8h0.8M28.5 165.8h0.8M21.5 158.6h0.8M28.9 157.8h0.8M26.4 163.6h0.8M24.6 151.1h0.8M29.0 160.9h0.8M27.3 156.3h0.8M24.7 157.9h0.8M23.9 160.9h0.8M33.0 157.4h0.8M27.7 156.1h0.8M24.2 161.7h0.8M35.0 157.9h0.8M28.8 165.0h0.8M31.1 157.4h0.8M23.4 157.6h0.8M26.0 152.6h0.8M30.3 158.1h0.8M27.2 154.3h0.8M20.3 152.7h0.8M36.3 159.9h0.8M32.8 159.1h0.8M27.1 155.5h0.8M30.5 159.4h0.8M24.8 156.9h0.8M25.1 154.8h0.8M29.2 162.6h0.8M23.9 152.4h0.8M37.6 157.4h0.8M26.7 158.3h0.8M20.2 155.4h0.8M24.3 161.1h0.8M34.3 156.8h0.8M20.2 156.5h0.8M26.4 154.7h0.8M30.5 157.0h0.8M33.8 155.0h0.8M22.5 157.2h0.8M27.5 160.2h0.8M22.9 154.9h0.8M36.7 158.3h0.8M31.9 155.5h0.8M44.6 161.6h0.8M21.2 153.7h0.8M27.9 154.3h0.8M22.1 159.5h0.8M22.0 160.8h0.8M20.1 161.4h0.8M28.6 157.7h0.8M33.9 159.7h0.8M26.2 152.6h0.8M22.5 158.8h0.8M26.1 162.4h0.8M33.5 158.1h0.8M21.3 162.8h0.8M31.7 157.4h0.8M20.3 161.7h0.8M43.1 154.6h0.8M22.5 156.4h0.8M22.7 161.9h0.8M29.2 155.3h0.8M27.4 153.9h0.8M31.7 151.3h0.8M20.7 160.5h0.8M35.9 159.3h0.8M30.4 159.7h0.8M26.5 155.9h0.8M24.9 155.6h0.8M21.4 158.3h0.8M31.4 155.5h0.8M30.8 154.2h0.8M30.0 159.0h0.8M27.3 160.0h0.8M25.3 152.2h0.8M35.7 158.4h0.8M25.3 157.9h0.8M26.6 157.0h0.8M36.4 159.6h0.8M25.8 154.2h0.8M31.9 160.1h0.8M22.0 156.9h0.8M23.1 160.7h0.8M34.9 158.7h0.8M30.0 148.1h0.8M21.5 157.1h0.8M20.2 161.8h0.8M27.5 157.5h0.8M30.0 156.9h0.8M22.2 161.1h0.8M33.4 160.5h0.8M21.2 158.1h0.8M22.9 159.3h0.8M28.5 158.5h0.8M25.6 157.2h0.8M23.3 157.0h0.8M41.5 157.9h0.8M24.9 151.2h0.8M23.6 159.5h0.8M28.9 152.8h0.8M23.4 162.7h0.8M22.5 157.1h0.8M28.1 157.4h0.8M20.1 155.7h0.8M27.9 159.6h0.8M28.4 153.7h0.8M21.5 162.6h0.8M31.2 164.3h0.8M25.1 152.5h0.8M31.3 159.6h0.8M36.1 161.0h0.8M40.7 155.1h0.8M22.9 160.4h0.8M31.0 162.4h0.8M22.8 155.5h0.8M22.4 155.4h0.8M24.5 156.6h0.8M29.4 155.5h0.8M30.4 155.2h0.8M73.4 162.0h0.8M65.7 156.3h0.8M68.0 159.0h0.8M59.7 160.0h0.8M54.6 152.5h0.8M58.6 158.0h0.8M60.8 147.8h0.8M72.5 154.9h0.8M63.9 158.5h0.8M68.1 159.5h0.8M58.0 158.5h0.8M71.8 160.2h0.8M74.9 151.4h0.8M73.3 151.5h0.8M59.1 158.0h0.8M80.2 162.0h0.8M65.1 157.6h0.8M72.6 152.3h0.8M63.8 154.9h0.8M73.2 159.4h0.8M67.8 162.1h0.8M64.4 153.6h0.8M71.5 149.9h0.8M67.6 157.1h0.8M56.1 158.0h0.8M60.7 162.7h0.8M70.6 160.8h0.8M71.9 157.2h0.8M72.7 159.7h0.8M69.4 161.5h0.8M78.0 150.5h0.8M63.1 151.4h0.8M58.3 160.0h0.8M60.0 156.4h0.8M62.5 161.1h0.8M75.8 157.7h0.8M61.8 154.9h0.8M64.8 150.7h0.8M58.5 158.0h0.8M67.5 157.9h0.8M68.0 154.3h0.8M65.3 153.2h0.8M67.4 149.2h0.8M69.1 158.2h0.8M63.5 157.8h0.8M72.2 157.5h0.8M77.7 162.0h0.8M66.7 156.4h0.8M58.8 153.0h0.8M67.2 157.7h0.8M68.1 163.9h0.8M68.5 158.8h0.8M64.6 152.9h0.8M63.2 156.9h0.8M70.3 160.0h0.8M59.8 156.8h0.8M70.6 151.6h0.8M64.5 151.5h0.8M61.8 161.8h0.8M68.2 165.9h0.8M32.8 193.1h0.8M40.2 183.6h0.8M37.4 197.3h0.8M37.1 190.7h0.8M39.0 173.1h0.8M41.3 195.2h0.8M37.4 197.0h0.8M27.6 182.4h0.8M31.9 191.4h0.8M45.3 176.7h0.8M40.6 185.1h0.8M44.0 174.9h0.8M37.7 197.0h0.8M43.3 177.2h0.8M35.5 192.7h0.8M45.5 187.9h0.8M41.3 189.2h0.8M33.9 179.7h0.8M31.9 172.9h0.8M41.3 175.7h0.8M34.6 177.4h0.8M39.9 170.5h0.8M40.3 172.1h0.8M41.1 190.2h0.8M38.4 169.2h0.8M28.9 195.9h0.8M37.9 179.4h0.8M33.7 189.9h0.8M44.2 187.9h0.8M34.6 184.0h0.8M42.0 177.1h0.8M33.6 189.8h0.8M29.6 164.8h0.8M38.0 186.7h0.8M34.3 186.0h0.8M38.8 185.9h0.8M34.9 188.5h0.8M41.8 173.6h0.8M34.2 181.4h0.8M42.2 166.3h0.8M33.8 191.3h0.8M38.8 180.0h0.8M45.5 177.2h0.8M30.2 165.3h0.8M38.3 178.2h0.8M36.9 168.6h0.8M28.6 177.4h0.8M41.7 184.7h0.8M32.1 172.4h0.8M43.4 179.5h0.8M38.6 181.0h0.8M37.8 171.5h0.8M41.1 177.2h0.8M27.7 174.3h0.8M25.6 172.1h0.8M41.3 177.2h0.8M42.5 194.8h0.8M37.2 176.2h0.8M41.9 184.3h0.8M38.6 166.1h0.8M34.8 177.4h0.8M25.0 178.8h0.8M36.2 192.2h0.8M36.6 165.9h0.8M30.0 176.4h0.8M26.8 180.9h0.8M36.7 165.1h0.8M40.3 189.7h0.8M38.6 180.0h0.8M38.7 184.3h0.8M42.1 192.4h0.8M44.7 177.1h0.8M35.7 194.6h0.8M44.4 187.6h0.8M35.5 190.7h0.8M39.9 175.6h0.8M34.2 187.3h0.8M28.1 166.4h0.8M35.3 174.7h0.8M36.4 173.4h0.8M43.8 181.3h0.8M35.9 171.9h0.8M33.0 169.4h0.8M40.1 179.9h0.8M43.8 182.1h0.8M41.5 168.3h0.8M29.1 194.8h0.8M44.3 168.1h0.8M33.5 186.0h0.8M44.2 188.6h0.8M38.1 181.8h0.8M33.6 175.5h0.8M28.9 164.1h0.8M43.8 172.8h0.8M25.1 164.5h0.8M43.8 179.5h0.8M38.5 188.8h0.8M42.7 172.9h0.8M33.9 174.0h0.8M42.9 174.5h0.8M42.9 183.2h0.8M29.4 173.6h0.8M26.8 178.4h0.8M34.3 193.3h0.8M27.8 184.5h0.8M33.0 173.5h0.8M37.6 181.6h0.8M38.4 167.4h0.8M37.3 174.7h0.8M42.1 191.0h0.8M39.4 197.1h0.8M28.6 192.4h0.8M36.8 187.2h0.8M43.4 167.7h0.8M32.0 188.6h0.8M44.3 176.9h0.8M43.5 195.0h0.8M40.0 195.7h0.8M42.5 174.3h0.8M36.1 175.2h0.8M28.1 195.4h0.8M37.3 191.0h0.8M41.1 185.8h0.8M37.2 167.1h0.8M40.8 191.5h0.8M38.6 194.2h0.8M24.2 167.6h0.8M22.9 174.5h0.8M35.7 179.3h0.8M34.0 177.3h0.8M44.9 180.6h0.8M45.4 186.7h0.8M35.8 181.6h0.8M44.6 172.6h0.8M44.1 189.6h0.8M35.8 178.0h0.8M41.4 186.3h0.8M44.4 165.1h0.8M44.5 166.4h0.8M33.1 173.7h0.8M35.7 195.2h0.8M34.8 182.7h0.8M45.0 170.2h0.8M38.5 182.6h0.8M34.9 166.0h0.8M35.1 175.1h0.8M39.0 196.5h0.8M39.1 188.0h0.8M32.7 176.1h0.8M35.0 169.4h0.8M37.8 171.6h0.8M39.3 173.2h0.8M31.4 170.6h0.8M40.3 190.2h0.8M41.0 168.0h0.8M33.7 191.9h0.8M37.4 186.5h0.8M36.6 192.9h0.8M38.1 184.0h0.8M41.4 168.1h0.8M38.3 165.3h0.8M31.1 186.0h0.8M41.1 186.1h0.8M32.1 170.8h0.8M38.9 175.0h0.8M39.4 175.8h0.8M38.7 183.1h0.8M40.6 197.4h0.8M43.5 176.0h0.8M37.3 179.0h0.8M41.0 196.3h0.8M38.5 183.5h0.8M35.3 185.9h0.8M30.3 163.1h0.8M37.2 176.1h0.8M35.6 169.7h0.8M41.0 168.5h0.8M37.3 178.0h0.8M35.5 180.6h0.8M42.8 172.3h0.8M40.5 174.1h0.8M38.0 172.3h0.8M43.2 164.5h0.8M36.7 193.3h0.8M36.1 195.3h0.8M38.2 172.4h0.8M37.7 177.3h0.8M35.9 195.9h0.8M35.0 178.6h0.8M34.3 181.8h0.8M39.9 180.4h0.8M34.6 184.8h0.8M31.3 175.0h0.8M38.1 181.1h0.8M44.1 177.8h0.8M32.9 186.3h0.8M38.2 191.5h0.8M38.9 166.4h0.8M40.4 177.7h0.8M45.2 195.6h0.8M33.3 186.2h0.8M35.2 182.3h0.8M44.8 170.1h0.8M37.7 195.2h0.8M36.5 170.7h0.8M29.7 186.5h0.8M34.7 166.6h0.8M36.2 169.7h0.8M44.2 185.4h0.8M33.2 164.8h0.8M34.7 179.4h0.8M43.7 179.2h0.8M34.3 166.5h0.8M36.7 175.0h0.8M42.0 191.8h0.8M36.7 187.6h0.8M29.3 173.6h0.8M34.9 190.3h0.8M36.8 174.2h0.8M31.5 185.4h0.8M36.1 172.0h0.8M43.6 165.0h0.8M31.2 186.5h0.8M33.1 182.4h0.8M27.5 174.9h0.8M38.6 178.6h0.8M39.7 178.2h0.8M43.4 170.7h0.8M33.3 183.0h0.8M43.4 174.9h0.8M44.8 180.4h0.8M31.4 174.9h0.8M43.1 195.1h0.8M37.9 189.4h0.8M34.0 180.5h0.8M36.8 192.5h0.8M27.6 185.2h0.8M40.1 196.7h0.8M41.5 185.9h0.8M33.2 184.4h0.8M40.9 181.0h0.8M39.9 181.5h0.8M36.6 189.7h0.8M38.9 167.8h0.8M44.4 191.2h0.8M42.9 186.3h0.8M32.9 179.6h0.8M45.3 188.1h0.8M35.8 183.6h0.8M38.3 170.2h0.8M38.8 192.7h0.8M32.2 174.7h0.8M38.8 166.1h0.8M33.4 187.0h0.8M45.0 176.0h0.8M35.2 175.0h0.8M32.5 167.4h0.8M41.1 182.6h0.8M40.2 178.4h0.8M30.1 188.6h0.8M39.1 192.2h0.8M40.0 166.5h0.8M44.7 191.9h0.8M37.5 190.9h0.8M41.7 174.0h0.8M40.4 170.0h0.8M39.4 190.3h0.8M31.8 183.1h0.8M35.2 186.0h0.8M39.7 173.0h0.8M35.9 178.1h0.8M26.3 171.8h0.8M28.8 167.3h0.8M35.6 195.6h0.8M32.5 193.3h0.8M36.6 169.9h0.8M28.9 183.1h0.8M38.6 192.1h0.8M39.2 182.7h0.8M42.0 184.6h0.8M42.1 193.7h0.8M41.5 176.2h0.8M33.1 194.2h0.8M35.1 186.7h0.8M34.9 189.4h0.8M34.3 194.2h0.8M33.7 195.9h0.8M41.4 168.1h0.8M44.1 183.2h0.8M40.4 196.5h0.8M35.4 186.0h0.8M36.9 178.5h0.8M40.7 178.0h0.8M37.6 188.9h0.8M36.2 177.2h0.8M40.7 182.8h0.8M36.9 179.9h0.8M31.9 170.6h0.8M34.8 165.6h0.8M37.6 179.8h0.8M38.3 176.0h0.8M35.7 193.9h0.8M40.3 169.4h0.8M42.8 170.3h0.8M40.9 170.7h0.8M37.9 186.3h0.8M35.8 169.5h0.8M28.9 184.5h0.8M37.7 176.9h0.8M36.9 185.1h0.8M32.6 179.1h0.8M25.3 177.4h0.8M39.4 167.8h0.8M32.5 166.0h0.8M35.9 195.9h0.8M39.6 172.3h0.8M36.1 192.0h0.8M35.0 168.4h0.8M43.6 180.9h0.8M37.2 187.0h0.8M40.2 181.5h0.8M33.4 171.5h0.8M34.5 173.9h0.8M41.8 187.1h0.8M29.8 195.3h0.8M40.4 186.2h0.8M40.2 194.9h0.8M41.3 171.7h0.8M35.3 168.8h0.8M34.3 168.9h0.8M40.4 194.6h0.8M37.8 195.4h0.8M45.4 187.8h0.8M30.6 170.4h0.8M40.4 180.6h0.8M31.3 180.1h0.8M30.2 177.3h0.8M42.7 184.7h0.8M35.5 189.7h0.8M37.7 193.7h0.8M33.1 176.4h0.8M39.4 194.5h0.8M29.8 164.4h0.8M39.5 192.5h0.8M34.7 195.5h0.8M39.6 172.4h0.8M37.0 188.2h0.8M36.6 174.3h0.8M38.8 180.4h0.8M34.1 177.0h0.8M40.8 186.7h0.8M35.6 173.1h0.8M36.4 188.0h0.8M43.4 185.8h0.8M33.5 181.1h0.8M39.5 164.9h0.8M39.3 180.5h0.8M40.8 168.6h0.8M33.0 163.8h0.8M45.4 164.0h0.8M41.0 187.2h0.8M35.6 191.2h0.8M45.2 179.7h0.8M39.0 190.2h0.8M43.6 181.9h0.8M40.4 175.1h0.8M43.0 170.4h0.8M39.4 187.3h0.8M29.2 189.6h0.8M36.7 191.3h0.8M42.9 184.4h0.8M45.1 176.3h0.8M40.5 176.3h0.8M34.9 165.3h0.8M34.0 173.7h0.8M34.9 186.3h0.8M27.0 183.0h0.8M34.6 166.4h0.8M40.5 183.5h0.8M30.6 196.4h0.8M27.4 184.3h0.8M38.6 163.2h0.8M34.3 174.9h0.8M41.5 171.6h0.8M38.7 180.3h0.8M40.7 189.4h0.8M41.9 176.6h0.8M40.0 171.7h0.8M31.7 172.4h0.8M43.7 185.8h0.8M29.6 165.9h0.8M28.6 186.6h0.8M42.0 197.3h0.8M44.4 173.6h0.8M44.7 188.4h0.8M36.7 188.4h0.8M36.2 171.8h0.8M41.1 180.8h0.8M40.9 182.0h0.8M39.8 176.4h0.8M32.9 177.2h0.8M24.7 169.2h0.8M34.8 186.4h0.8M26.3 177.7h0.8M36.6 168.9h0.8M41.4 187.1h0.8M44.0 189.9h0.8M43.3 195.7h0.8M35.3 191.3h0.8M35.3 184.1h0.8M38.2 190.0h0.8M27.3 179.5h0.8M40.0 174.5h0.8M35.6 163.1h0.8M36.4 177.8h0.8M44.9 170.6h0.8M34.8 179.7h0.8M37.9 164.4h0.8M39.1 167.1h0.8M44.6 176.5h0.8M37.1 173.8h0.8M37.0 191.3h0.8M40.6 181.1h0.8M43.6 192.6h0.8M41.0 173.3h0.8M38.2 196.8h0.8M33.3 194.3h0.8M42.3 186.8h0.8M42.3 173.6h0.8M44.1 177.6h0.8M37.1 196.4h0.8M33.1 180.1h0.8M45.1 180.9h0.8M27.8 179.6h0.8M37.7 185.9h0.8M37.4 184.0h0.8M38.3 183.4h0.8M36.2 193.1h0.8M28.8 170.7h0.8M39.8 188.8h0.8M29.5 189.7h0.8M38.3 195.6h0.8M40.4 176.2h0.8M35.7 174.2h0.8M31.7 185.7h0.8M45.4 176.4h0.8M43.9 190.4h0.8M38.3 179.8h0.8M34.8 174.6h0.8M34.4 188.9h0.8M42.8 176.6h0.8M45.0 165.7h0.8M44.5 171.1h0.8M42.8 190.7h0.8M30.6 174.2h0.8M43.3 189.6h0.8M40.5 176.0h0.8M44.0 186.1h0.8M37.1 197.0h0.8M36.7 165.4h0.8M31.8 183.4h0.8M37.7 185.5h0.8M35.6 193.4h0.8M42.8 179.9h0.8M35.0 186.4h0.8M37.2 168.8h0.8M27.2 190.4h0.8M39.9 189.7h0.8M40.8 189.6h0.8M42.0 196.7h0.8M40.1 173.1h0.8M25.7 185.3h0.8M26.3 172.4h0.8M39.0 179.0h0.8M37.4 179.0h0.8M39.6 187.7h0.8M28.5 188.1h0.8M38.2 180.4h0.8M39.3 179.1h0.8M34.5 188.2h0.8M27.0 176.6h0.8M32.8 196.5h0.8M26.0 191.2h0.8M42.1 184.8h0.8M42.4 184.4h0.8M41.8 167.4h0.8M30.3 188.3h0.8M43.1 170.3h0.8M35.5 179.5h0.8M26.7 180.3h0.8M32.9 166.5h0.8M37.6 182.9h0.8M36.7 171.4h0.8M20.6 181.6h0.8M44.8 183.1h0.8M25.7 185.8h0.8M20.8 167.4h0.8M22.5 169.7h0.8M43.1 183.1h0.8M36.9 176.8h0.8M22.0 184.9h0.8M28.0 170.3h0.8M21.6 193.6h0.8M38.5 175.9h0.8M25.4 196.3h0.8M44.1 181.8h0.8M30.2 191.1h0.8M34.3 175.0h0.8M44.3 194.4h0.8M26.6 196.3h0.8M41.3 196.6h0.8M43.9 173.8h0.8M40.0 169.8h0.8M24.5 172.0h0.8M27.5 174.5h0.8M41.1 184.8h0.8M20.4 191.0h0.8M24.1 189.8h0.8M26.2 195.6h0.8M36.0 184.2h0.8M26.9 192.0h0.8M21.9 191.2h0.8M34.0 177.2h0.8M30.1 164.3h0.8M32.3 179.4h0.8M29.3 170.2h0.8M34.6 178.6h0.8M25.4 171.2h0.8M24.3 164.3h0.8M37.9 169.6h0.8M37.0 176.1h0.8M22.6 170.8h0.8M38.1 174.4h0.8M34.0 166.3h0.8M43.8 178.8h0.8M40.1 170.9h0.8M43.5 171.3h0.8M37.1 193.6h0.8M35.8 167.2h0.8M41.7 189.7h0.8M37.0 184.3h0.8M21.4 173.6h0.8M28.3 171.3h0.8M40.1 167.8h0.8M26.5 169.4h0.8M24.3 192.8h0.8M21.0 165.0h0.8M39.3 173.5h0.8M27.3 169.0h0.8M35.1 167.2h0.8M30.7 184.8h0.8M20.0 178.2h0.8M23.4 164.8h0.8M39.8 164.3h0.8M24.6 195.5h0.8M21.2 178.2h0.8M37.6 182.5h0.8M44.2 177.9h0.8M42.1 172.2h0.8M29.7 196.8h0.8M30.6 183.7h0.8M41.2 192.9h0.8M42.9 164.3h0.8M29.1 194.9h0.8M29.2 171.2h0.8M26.2 191.7h0.8M34.1 176.3h0.8M24.7 172.5h0.8M26.2 180.0h0.8M21.4 181.5h0.8M34.9 188.6h0.8M33.7 189.0h0.8M24.2 191.4h0.8M25.3 175.1h0.8M35.1 167.0h0.8M40.4 190.7h0.8M37.9 174.6h0.8M24.6 169.9h0.8M25.6 184.6h0.8M25.9 182.4h0.8M39.2 193.1h0.8M38.7 174.5h0.8M38.2 195.3h0.8M36.3 166.3h0.8M33.3 179.4h0.8M20.4 173.2h0.8M41.4 179.3h0.8M43.0 192.1h0.8M31.8 181.5h0.8M24.6 185.4h0.8M23.6 181.5h0.8M32.0 186.8h0.8M37.7 194.4h0.8M42.3 191.7h0.8M23.7 178.4h0.8M37.6 177.6h0.8M20.0 183.2h0.8M22.7 164.3h0.8M24.3 171.2h0.8M25.5 177.1h0.8M38.7 183.8h0.8M30.0 176.2h0.8M31.5 175.1h0.8M42.2 176.8h0.8M38.7 182.1h0.8M31.0 183.3h0.8M39.5 179.4h0.8M36.6 173.0h0.8M36.9 171.2h0.8M27.1 194.8h0.8M37.3 184.9h0.8M27.5 182.7h0.8M27.4 170.8h0.8M36.1 168.0h0.8M20.7 185.7h0.8M28.9 174.9h0.8M35.8 192.9h0.8M36.4 167.7h0.8M39.0 181.8h0.8M43.2 167.1h0.8M28.8 166.3h0.8M27.5 178.9h0.8M31.2 175.1h0.8M38.5 194.7h0.8M34.4 178.9h0.8M40.0 184.1h0.8M35.3 172.0h0.8M33.9 186.7h0.8M23.1 183.2h0.8M35.1 182.6h0.8M37.5 194.6h0.8M43.7 194.9h0.8M40.8 168.9h0.8M38.0 187.5h0.8M33.2 178.6h0.8M29.5 176.1h0.8M30.1 170.3h0.8M40.2 183.1h0.8M44.3 180.7h0.8M44.1 195.5h0.8M22.5 181.2h0.8M35.7 194.1h0.8M30.5 189.0h0.8M26.3 175.4h0.8M30.1 183.5h0.8M26.6 169.0h0.8M20.7 169.1h0.8M41.7 192.1h0.8M27.7 178.7h0.8M30.1 182.3h0.8M26.0 164.9h0.8M33.9 195.8h0.8M40.7 184.1h0.8M23.0 177.5h0.8M32.4 196.6h0.8M35.5 187.4h0.8M31.8 188.4h0.8M24.5 196.4h0.8M43.7 186.0h0.8M30.2 192.1h0.8M20.2 171.6h0.8M35.4 191.1h0.8M27.0 186.8h0.8M42.7 190.1h0.8M32.8 190.3h0.8M41.9 178.9h0.8M25.9 174.9h0.8M29.2 195.6h0.8M20.2 184.4h0.8M24.5 169.3h0.8M29.4 177.8h0.8M39.0 172.3h0.8M37.2 165.1h0.8M28.7 174.2h0.8M23.6 181.1h0.8M28.7 173.1h0.8M26.9 189.5h0.8M29.5 186.4h0.8M37.5 190.9h0.8M40.7 186.4h0.8M32.8 174.8h0.8M43.8 166.2h0.8M22.6 167.0h0.8M30.0 193.2h0.8M43.4 186.4h0.8M43.3 171.4h0.8M33.8 174.8h0.8M33.8 193.1h0.8M24.0 180.7h0.8M22.0 167.5h0.8M28.7 180.4h0.8M20.7 191.4h0.8M20.3 189.3h0.8M27.4 175.6h0.8M40.3 164.6h0.8M31.6 168.7h0.8M38.6 188.0h0.8M25.2 190.2h0.8M23.8 168.6h0.8M24.2 177.4h0.8M43.3 172.9h0.8M31.0 181.5h0.8M41.3 170.4h0.8M28.4 168.3h0.8M43.5 188.5h0.8M32.5 175.4h0.8M34.7 175.6h0.8M28.9 186.5h0.8M21.6 166.9h0.8M24.5 196.9h0.8M24.0 177.7h0.8M30.3 179.3h0.8M37.2 187.9h0.8M41.1 170.5h0.8M44.3 185.2h0.8M37.5 174.5h0.8M34.1 164.1h0.8M41.5 176.2h0.8M36.4 182.2h0.8M34.6 172.5h0.8M37.8 170.4h0.8M42.3 179.4h0.8M42.9 164.6h0.8M21.0 165.7h0.8M32.6 166.5h0.8M33.5 168.1h0.8M22.6 184.5h0.8M42.8 187.0h0.8M21.5 181.5h0.8M43.4 170.3h0.8M43.1 191.7h0.8M39.4 183.6h0.8M28.8 167.3h0.8M23.6 165.7h0.8M42.3 188.2h0.8M30.3 192.5h0.8M33.3 186.4h0.8M21.3 195.0h0.8M26.8 175.8h0.8M29.6 179.1h0.8M36.6 172.5h0.8M34.6 179.3h0.8M25.7 190.7h0.8M23.2 182.9h0.8M26.6 189.4h0.8M26.5 185.4h0.8M30.6 183.7h0.8M33.6 178.5h0.8M38.3 190.4h0.8M20.9 165.8h0.8M32.7 189.0h0.8M38.4 187.2h0.8M28.5 181.1h0.8M34.1 166.8h0.8M36.6 164.4h0.8M33.0 178.4h0.8M32.2 191.9h0.8M37.8 183.6h0.8M31.9 186.2h0.8M36.2 172.0h0.8M30.9 169.0h0.8M43.4 178.2h0.8M34.2 193.1h0.8M30.8 177.3h0.8M21.3 179.3h0.8M29.1 182.1h0.8M37.3 181.6h0.8M26.6 192.8h0.8M38.5 170.4h0.8M41.7 177.7h0.8M22.3 182.9h0.8M33.7 183.6h0.8M37.0 174.1h0.8M42.6 166.2h0.8M20.7 188.6h0.8M23.3 183.1h0.8M24.4 175.1h0.8M28.6 181.0h0.8M23.4 184.9h0.8M35.6 172.1h0.8M44.8 179.1h0.8M20.8 195.6h0.8M30.4 182.6h0.8M39.2 191.2h0.8M37.7 194.3h0.8M43.3 196.3h0.8M34.0 174.3h0.8M28.6 185.2h0.8M38.0 184.7h0.8M21.7 172.8h0.8M30.2 188.7h0.8M34.9 187.4h0.8M43.7 186.1h0.8M38.9 172.9h0.8M38.2 192.7h0.8M37.2 173.2h0.8M43.2 176.4h0.8M34.6 175.8h0.8M31.7 191.6h0.8M34.9 193.5h0.8M41.3 166.0h0.8M42.6 195.1h0.8M25.5 190.3h0.8M36.9 185.0h0.8M24.3 193.2h0.8M29.2 179.2h0.8M20.7 169.9h0.8M43.7 173.3h0.8M43.5 170.2h0.8M38.1 178.3h0.8M36.7 163.7h0.8M35.2 179.6h0.8M27.3 185.1h0.8M23.9 172.7h0.8M22.0 185.2h0.8M22.8 193.6h0.8M44.5 170.9h0.8M42.8 163.9h0.8M37.0 188.8h0.8M39.9 184.1h0.8M24.8 191.0h0.8M39.2 175.1h0.8M29.5 174.0h0.8M37.9 166.5h0.8M39.6 180.1h0.8M31.0 178.2h0.8M29.7 175.4h0.8M31.9 167.2h0.8M26.7 181.9h0.8M31.3 164.8h0.8M32.0 178.9h0.8M28.2 165.4h0.8M31.3 193.1h0.8M25.4 165.1h0.8M24.8 178.1h0.8M34.5 178.2h0.8M39.4 185.7h0.8M42.0 196.5h0.8M42.1 170.8h0.8M24.7 187.7h0.8M43.6 192.0h0.8M39.1 171.7h0.8M32.1 183.3h0.8M36.9 183.6h0.8M36.8 170.3h0.8M31.8 179.2h0.8M22.5 169.6h0.8M36.2 178.8h0.8M31.3 194.8h0.8M42.1 182.1h0.8M35.4 190.0h0.8M44.4 183.9h0.8M31.8 166.5h0.8M38.8 165.0h0.8M27.3 170.0h0.8M41.6 184.6h0.8M34.4 163.9h0.8M26.0 194.8h0.8M23.3 176.3h0.8M27.0 168.2h0.8M23.2 188.7h0.8M31.6 173.0h0.8M40.0 178.7h0.8M36.2 168.4h0.8M20.2 173.9h0.8M21.1 192.5h0.8M30.3 167.4h0.8M39.2 172.2h0.8M39.8 184.2h0.8M40.3 167.3h0.8M39.3 170.4h0.8M43.6 190.3h0.8M20.4 172.1h0.8M42.9 182.7h0.8M30.5 184.5h0.8M22.3 180.6h0.8M30.8 197.0h0.8M20.1 184.7h0.8M30.4 176.8h0.8M33.2 189.0h0.8M24.6 185.6h0.8M34.4 166.5h0.8M32.9 183.1h0.8M32.4 170.3h0.8M30.3 173.7h0.8M38.1 170.1h0.8M23.0 171.9h0.8M34.9 165.0h0.8M22.2 175.2h0.8M26.6 191.5h0.8M37.3 183.1h0.8M31.2 170.1h0.8M29.2 195.5h0.8M41.8 182.1h0.8M39.9 182.1h0.8M38.1 164.3h0.8M41.5 194.8h0.8M37.7 191.3h0.8M34.8 168.4h0.8M26.3 176.8h0.8M34.6 177.3h0.8M20.1 184.7h0.8M32.4 175.5h0.8M35.1 183.7h0.8M37.4 186.8h0.8M44.1 190.0h0.8M41.7 165.2h0.8M38.2 172.4h0.8M41.8 168.7h0.8M29.2 180.9h0.8M21.1 186.5h0.8M42.8 168.7h0.8M25.6 170.8h0.8M26.2 182.2h0.8M20.7 184.3h0.8M39.8 173.2h0.8M36.4 171.9h0.8M37.2 175.1h0.8M22.9 167.1h0.8M26.6 187.3h0.8M44.1 164.5h0.8M40.0 169.0h0.8M41.5 179.3h0.8M26.3 191.6h0.8M39.8 177.6h0.8M29.4 186.9h0.8M29.6 195.2h0.8M43.7 183.5h0.8M40.7 167.6h0.8M30.8 176.8h0.8M29.6 174.3h0.8M40.7 170.2h0.8M22.3 163.6h0.8M36.1 164.7h0.8M42.9 183.8h0.8M25.7 176.7h0.8M41.8 168.1h0.8M33.4 179.5h0.8M33.4 191.9h0.8M26.3 181.9h0.8M24.1 180.0h0.8M21.9 167.4h0.8M33.8 188.2h0.8M33.8 164.5h0.8M36.0 191.4h0.8M41.1 165.0h0.8M38.8 164.2h0.8M37.9 179.0h0.8M21.7 174.9h0.8M26.3 188.3h0.8M29.1 177.8h0.8M31.0 163.6h0.8M20.0 173.3h0.8M38.7 179.4h0.8M23.8 166.9h0.8M37.3 180.4h0.8M20.6 175.4h0.8M44.8 179.0h0.8M43.3 196.2h0.8M20.8 170.8h0.8M42.2 165.0h0.8M23.9 176.0h0.8M39.1 176.1h0.8M23.1 183.0h0.8M31.7 179.8h0.8M21.5 187.3h0.8M30.5 168.3h0.8M40.0 178.2h0.8M35.8 166.1h0.8M27.3 182.6h0.8M34.5 192.1h0.8M28.3 184.0h0.8M37.3 164.5h0.8M26.8 186.0h0.8M20.5 191.3h0.8M33.5 176.1h0.8M30.6 191.5h0.8M27.0 178.1h0.8M36.0 174.6h0.8M32.0 193.2h0.8M40.6 194.4h0.8M32.8 177.3h0.8M24.2 192.8h0.8M20.7 187.7h0.8M34.5 187.6h0.8M20.2 167.3h0.8M32.9 172.3h0.8M26.0 193.5h0.8M28.3 169.5h0.8M24.8 172.1h0.8M28.0 187.0h0.8M21.4 184.1h0.8M35.5 185.3h0.8M34.5 164.3h0.8M33.0 173.9h0.8M32.9 186.4h0.8M31.7 183.1h0.8M33.6 195.5h0.8M37.5 184.9h0.8M34.1 167.1h0.8M59.6 176.3h0.8M48.9 177.4h0.8M51.0 177.3h0.8M48.7 172.9h0.8M49.4 178.5h0.8M60.2 169.2h0.8M61.4 168.1h0.8M51.3 163.0h0.8M50.9 176.4h0.8M44.7 167.8h0.8M53.6 182.4h0.8M52.8 169.6h0.8M52.7 170.9h0.8M48.2 171.5h0.8M59.1 165.8h0.8M49.8 170.7h0.8M51.6 184.9h0.8M60.4 165.0h0.8M47.1 164.5h0.8M47.5 171.8h0.8M53.8 164.9h0.8M54.7 172.9h0.8M57.5 169.8h0.8M53.2 167.6h0.8M61.1 174.3h0.8M47.0 172.2h0.8M44.6 167.0h0.8M46.0 179.4h0.8M45.8 168.5h0.8M45.4 176.7h0.8M55.3 174.9h0.8M45.8 168.4h0.8M53.4 170.4h0.8M57.9 174.2h0.8M59.4 172.7h0.8M50.5 172.0h0.8M56.9 178.5h0.8M55.5 166.4h0.8M44.9 178.8h0.8M49.2 166.9h0.8M51.0 166.6h0.8M56.1 164.0h0.8M59.1 172.1h0.8M50.5 174.6h0.8M46.4 182.8h0.8M50.4 171.9h0.8M49.2 167.5h0.8M55.0 172.1h0.8M56.1 166.2h0.8M46.0 167.0h0.8M49.8 173.6h0.8M49.2 170.3h0.8M53.3 185.8h0.8M60.2 172.8h0.8M54.8 170.5h0.8M54.7 182.7h0.8M45.5 169.7h0.8M56.2 167.0h0.8M49.3 170.0h0.8M48.2 167.7h0.8M52.4 165.4h0.8M46.3 168.6h0.8M51.6 181.2h0.8M47.9 170.3h0.8M50.2 165.2h0.8M45.7 166.0h0.8M46.8 166.6h0.8M55.2 180.4h0.8M55.1 176.3h0.8M59.3 176.2h0.8M52.7 175.0h0.8M57.5 171.8h0.8M57.8 165.8h0.8M49.2 166.9h0.8M53.5 170.7h0.8M47.8 168.1h0.8M49.3 163.9h0.8M51.8 175.4h0.8M50.7 178.4h0.8M48.0 173.3h0.8M44.9 167.9h0.8M54.5 185.9h0.8M54.0 175.7h0.8M46.0 184.7h0.8M47.3 169.3h0.8M53.7 165.0h0.8M59.7 174.9h0.8M46.4 171.1h0.8M49.9 176.1h0.8M45.7 166.8h0.8M47.2 179.2h0.8M58.1 184.2h0.8M49.3 173.2h0.8M55.1 176.4h0.8M49.5 172.3h0.8M56.9 172.9h0.8M46.1 163.0h0.8M53.2 171.7h0.8M57.5 168.2h0.8M61.3 182.0h0.8M45.5 165.6h0.8M46.8 172.7h0.8M50.7 165.9h0.8M51.5 164.2h0.8M59.6 173.3h0.8M53.3 182.3h0.8M55.5 165.5h0.8M47.1 168.1h0.8M53.7 168.1h0.8M49.4 171.5h0.8M52.8 173.7h0.8M54.9 173.5h0.8M49.2 175.3h0.8M46.9 178.4h0.8M54.0 184.0h0.8M51.6 174.5h0.8M51.7 167.7h0.8M60.6 184.5h0.8M48.8 178.4h0.8M53.4 172.4h0.8M53.2 178.5h0.8M50.2 163.6h0.8M44.6 171.7h0.8M46.9 173.2h0.8M52.3 166.1h0.8M45.8 168.2h0.8M58.0 179.5h0.8M59.0 163.1h0.8M45.9 172.3h0.8M51.3 176.0h0.8M52.9 183.3h0.8M50.8 169.9h0.8M55.9 174.0h0.8M56.8 165.7h0.8M50.5 170.1h0.8M48.3 177.7h0.8M57.0 170.6h0.8M58.5 174.1h0.8M48.6 176.0h0.8M52.8 170.5h0.8M47.3 167.6h0.8M44.7 163.7h0.8M57.5 180.7h0.8M48.0 171.3h0.8M58.2 179.7h0.8M52.4 181.0h0.8M50.1 168.1h0.8M54.7 168.5h0.8M45.5 166.5h0.8M50.1 166.3h0.8M47.8 171.4h0.8M54.9 166.8h0.8M55.2 163.8h0.8M47.8 173.1h0.8M48.9 176.3h0.8M56.6 165.0h0.8M50.4 170.6h0.8M55.5 173.1h0.8M47.7 169.7h0.8M56.3 169.2h0.8M58.7 170.9h0.8M49.8 171.6h0.8M51.0 179.7h0.8M50.6 177.4h0.8M58.9 168.2h0.8M58.1 175.7h0.8M51.9 179.6h0.8M51.3 172.0h0.8M59.2 173.1h0.8M50.7 171.2h0.8M58.9 181.4h0.8M61.1 174.4h0.8M45.3 177.8h0.8M49.6 163.4h0.8M50.8 164.1h0.8M45.6 177.9h0.8M54.3 173.7h0.8M49.0 167.8h0.8M48.1 176.3h0.8M53.9 182.6h0.8M55.1 170.9h0.8M58.8 169.0h0.8M58.3 174.8h0.8M48.1 163.4h0.8M58.3 163.3h0.8M57.6 176.8h0.8M53.7 173.8h0.8M59.2 172.3h0.8M56.1 174.7h0.8M54.9 169.7h0.8M50.7 179.7h0.8M54.9 164.7h0.8M58.8 170.6h0.8M54.5 179.4h0.8M55.9 169.4h0.8M56.6 177.8h0.8M53.9 179.8h0.8M55.1 168.5h0.8M44.6 174.3h0.8M51.1 182.7h0.8M51.7 170.4h0.8M52.4 172.5h0.8M55.4 163.6h0.8M47.3 168.0h0.8M45.6 163.1h0.8M56.3 167.8h0.8M55.6 168.0h0.8M53.9 164.8h0.8M61.3 165.2h0.8M61.4 164.5h0.8M47.3 172.6h0.8M53.4 181.4h0.8M48.9 175.4h0.8M50.6 165.3h0.8M60.9 183.2h0.8M55.6 173.2h0.8M45.9 180.5h0.8M47.7 176.0h0.8M52.6 167.4h0.8M50.4 172.5h0.8M48.9 164.4h0.8M60.4 163.8h0.8M56.4 177.8h0.8M51.1 179.2h0.8M46.6 165.1h0.8M57.0 166.7h0.8M50.1 165.8h0.8M52.1 166.9h0.8M58.3 164.9h0.8M56.0 169.2h0.8M57.9 167.5h0.8M56.7 175.3h0.8M52.4 177.1h0.8M49.5 166.5h0.8M59.3 171.1h0.8M55.1 163.5h0.8M56.4 165.4h0.8M53.1 182.7h0.8M60.1 174.8h0.8M61.2 179.9h0.8M58.2 183.7h0.8M55.0 164.1h0.8M53.0 170.7h0.8M47.7 169.3h0.8M52.8 164.6h0.8M57.5 168.6h0.8M49.3 178.8h0.8M59.4 175.4h0.8M45.1 169.0h0.8M54.1 179.6h0.8M48.7 168.1h0.8M47.7 176.6h0.8M48.7 165.6h0.8M46.8 163.1h0.8M56.2 172.9h0.8M54.2 171.9h0.8M51.9 176.0h0.8M47.0 167.2h0.8M56.4 171.0h0.8M54.3 176.4h0.8M56.2 175.7h0.8M51.6 169.4h0.8M58.0 176.6h0.8M54.1 180.3h0.8M46.7 170.6h0.8M56.0 170.7h0.8M48.8 169.2h0.8M55.7 175.2h0.8M46.5 167.0h0.8M48.4 169.7h0.8M53.0 173.9h0.8M59.8 181.3h0.8M49.4 175.9h0.8M57.2 173.5h0.8M46.8 185.5h0.8M58.0 169.1h0.8M52.2 172.6h0.8M51.6 176.8h0.8M46.6 166.3h0.8M58.1 174.4h0.8M44.6 173.1h0.8M58.7 174.1h0.8M45.6 184.9h0.8M54.3 165.2h0.8M52.7 170.8h0.8M47.6 168.9h0.8M48.0 180.1h0.8M46.4 169.0h0.8M60.9 182.9h0.8M49.3 170.5h0.8M56.5 165.9h0.8M49.1 166.5h0.8M48.5 171.8h0.8M46.9 177.7h0.8M51.8 169.9h0.8M61.0 165.6h0.8M58.8 172.9h0.8M57.3 165.8h0.8M46.5 167.6h0.8M57.2 169.2h0.8M56.5 184.1h0.8M47.6 164.3h0.8M45.8 169.1h0.8M51.1 171.1h0.8M47.9 174.4h0.8M53.4 173.9h0.8M45.1 175.9h0.8M49.3 180.4h0.8M55.4 181.7h0.8M49.9 167.7h0.8M52.3 166.2h0.8M54.6 175.9h0.8M49.8 168.4h0.8M60.1 174.9h0.8M45.2 178.9h0.8M53.5 173.3h0.8M56.9 175.7h0.8M52.2 177.7h0.8M58.3 166.0h0.8M44.7 185.7h0.8M50.3 177.0h0.8M55.1 175.5h0.8M58.2 173.3h0.8M59.6 170.3h0.8M45.6 183.0h0.8M51.8 177.0h0.8M52.2 172.6h0.8M45.8 172.6h0.8M59.1 172.8h0.8M54.7 177.6h0.8M45.4 171.3h0.8M57.6 175.8h0.8M60.7 172.5h0.8M46.9 184.1h0.8M46.6 170.1h0.8M48.8 168.8h0.8M51.9 177.3h0.8M44.9 168.6h0.8M47.1 175.1h0.8M48.4 164.5h0.8M58.5 184.6h0.8M48.9 166.6h0.8M52.3 174.5h0.8M52.2 173.6h0.8M51.6 164.9h0.8M58.0 169.5h0.8M58.4 166.4h0.8M44.7 172.5h0.8M47.0 175.1h0.8M50.4 165.8h0.8M47.8 167.7h0.8M54.4 181.9h0.8M48.1 170.6h0.8M57.9 182.5h0.8M47.5 181.2h0.8M48.3 178.7h0.8M50.2 175.5h0.8M54.1 169.2h0.8M47.1 170.8h0.8M56.3 168.1h0.8M58.6 164.2h0.8M52.3 180.7h0.8M58.6 184.2h0.8M53.8 169.3h0.8M45.7 176.7h0.8M46.1 169.7h0.8M58.5 172.9h0.8M54.9 165.1h0.8M52.2 171.8h0.8M53.7 165.2h0.8M54.4 171.9h0.8M47.2 181.5h0.8M58.8 164.1h0.8M50.4 173.5h0.8M47.4 182.2h0.8M49.8 184.6h0.8M53.7 180.5h0.8M56.5 180.1h0.8M56.0 172.0h0.8M47.3 178.4h0.8M55.5 172.3h0.8M55.4 168.2h0.8M48.8 183.0h0.8M55.5 176.3h0.8M53.0 180.1h0.8M52.1 164.8h0.8M55.2 171.6h0.8M53.3 169.9h0.8M48.6 170.3h0.8M52.0 176.9h0.8M55.5 166.7h0.8M51.0 176.2h0.8M52.4 171.9h0.8M55.4 169.9h0.8M49.7 168.3h0.8M50.8 167.6h0.8M50.3 170.3h0.8M51.2 180.1h0.8M51.4 178.9h0.8M45.2 172.6h0.8M50.8 172.2h0.8M59.6 170.3h0.8M49.2 171.5h0.8M48.3 172.9h0.8M54.2 173.8h0.8M57.2 179.8h0.8M49.9 171.4h0.8M52.3 173.7h0.8M52.9 168.5h0.8M50.6 182.8h0.8M58.8 165.2h0.8M52.1 172.5h0.8M58.7 167.1h0.8M46.0 177.5h0.8M44.8 171.6h0.8M54.7 165.9h0.8M50.9 174.0h0.8M58.4 174.8h0.8M50.4 165.8h0.8M59.4 170.1h0.8M44.6 174.1h0.8M50.3 167.4h0.8M49.3 163.1h0.8M49.4 181.4h0.8M53.1 174.9h0.8M52.4 169.9h0.8M52.6 172.2h0.8M50.2 168.9h0.8M51.4 180.3h0.8M45.5 183.6h0.8M58.3 171.9h0.8M51.7 165.0h0.8M44.7 175.4h0.8M56.9 180.5h0.8M51.2 166.9h0.8M50.7 166.4h0.8M48.8 174.8h0.8M49.6 173.5h0.8M56.6 169.5h0.8M49.7 175.3h0.8M57.7 165.7h0.8M51.8 168.6h0.8M46.6 170.0h0.8M54.5 180.4h0.8M54.9 171.0h0.8M46.4 172.7h0.8M51.0 181.9h0.8M53.0 165.3h0.8M52.2 174.0h0.8M53.6 177.8h0.8M47.5 170.1h0.8M54.5 165.4h0.8M50.8 166.1h0.8M58.0 170.3h0.8M45.0 172.6h0.8M46.6 167.8h0.8M56.5 176.7h0.8M51.2 170.2h0.8M49.7 168.0h0.8M46.5 171.8h0.8M47.3 173.7h0.8M51.1 175.1h0.8M44.8 169.8h0.8M45.2 170.7h0.8M47.1 166.0h0.8M55.1 180.3h0.8M50.9 172.7h0.8M45.1 166.2h0.8M48.5 174.1h0.8M58.8 182.7h0.8M55.2 167.6h0.8M47.4 177.0h0.8M50.3 175.6h0.8M52.0 174.2h0.8M56.6 173.0h0.8M55.4 168.2h0.8M57.3 181.2h0.8M47.4 165.7h0.8M59.6 172.4h0.8M48.8 181.4h0.8M56.6 178.0h0.8M52.8 166.1h0.8M55.8 173.0h0.8M48.5 181.2h0.8M46.4 177.8h0.8M57.7 177.6h0.8M50.4 166.1h0.8M46.9 163.7h0.8M58.8 183.0h0.8M50.2 165.9h0.8M54.0 170.0h0.8M56.8 165.5h0.8M50.3 168.6h0.8M48.3 180.1h0.8M56.6 168.4h0.8M57.5 184.6h0.8M58.6 174.6h0.8M56.5 169.8h0.8M49.6 181.6h0.8M56.1 183.3h0.8M50.7 178.4h0.8M55.4 172.5h0.8M54.8 179.2h0.8M45.5 173.5h0.8M51.3 170.4h0.8M47.0 171.1h0.8M54.0 166.3h0.8M51.6 167.4h0.8M50.2 165.9h0.8M56.5 163.7h0.8M58.5 174.0h0.8M48.7 169.7h0.8M46.2 163.3h0.8M53.4 164.6h0.8M45.8 167.5h0.8M51.7 175.3h0.8M48.2 172.4h0.8M54.1 185.9h0.8M53.8 171.8h0.8M54.7 163.3h0.8M74.8 184.3h0.8M60.6 188.8h0.8M34.1 177.5h0.8M69.8 169.6h0.8M72.1 179.4h0.8M35.5 177.8h0.8M67.6 176.6h0.8M36.5 143.8h0.8M49.0 182.3h0.8M68.5 192.5h0.8M72.8 168.0h0.8M40.0 170.4h0.8M76.9 157.1h0.8M32.2 190.8h0.8M81.0 181.5h0.8M83.0 186.1h0.8M59.2 178.5h0.8M55.1 190.0h0.8M36.7 184.7h0.8M64.9 163.6h0.8M21.0 144.7h0.8M76.7 180.3h0.8M74.6 171.3h0.8M40.8 164.5h0.8M44.9 154.3h0.8M40.6 164.0h0.8M29.6 148.4h0.8M78.2 189.5h0.8M22.1 155.0h0.8M52.6 164.8h0.8M71.1 168.6h0.8M39.7 174.1h0.8M65.6 175.9h0.8M25.8 196.2h0.8M45.0 151.0h0.8M42.9 147.2h0.8M32.5 192.8h0.8M31.3 191.9h0.8M71.3 153.8h0.8M78.5 144.4h0.8M47.0 196.3h0.8M39.6 188.5h0.8M55.1 177.7h0.8M80.3 186.5h0.8M35.2 178.7h0.8M58.1 184.3h0.8M72.5 172.4h0.8M53.3 168.5h0.8M50.0 196.6h0.8M74.0 168.6h0.8M48.7 166.7h0.8M67.1 189.1h0.8M62.8 172.5h0.8M54.3 171.4h0.8M63.8 164.9h0.8M75.1 189.2h0.8M58.6 194.4h0.8M75.8 182.3h0.8M46.4 182.4h0.8M55.8 190.1h0.8M64.7 189.9h0.8M52.9 171.9h0.8M53.1 175.5h0.8M63.4 178.9h0.8M78.3 185.1h0.8M66.6 173.1h0.8M70.6 164.4h0.8M65.8 196.5h0.8M48.9 192.5h0.8M54.3 174.9h0.8" stroke="#000" stroke-width="0.8" stroke-opacity="0.36" fill="none" filter="url(#bd)"/>
</g>
<rect x="19.50" y="132.50" width="66.00" height="65.50" fill="none" stroke="#666" stroke-width="1"/>
<rect x="27.00" y="147.00" width="33.00" height="16.50" fill="none" stroke="#555" stroke-width="0.9"/>
<rect x="19.50" y="163.50" width="25.50" height="34.50" fill="none" stroke="#555" stroke-width="0.9"/>
<rect x="45.00" y="163.50" width="15.00" height="22.00" fill="none" stroke="#555" stroke-width="0.9"/>
<text x="37.5" y="146" text-anchor="start" fill="#000" style="font-size:6.7px;font-weight:bold;" stroke="#000" stroke-width="0.30">38.0%</text>
<text x="60.7" y="174.7" text-anchor="start" fill="#000" style="font-size:6.7px;font-weight:bold;" stroke="#000" stroke-width="0.30">19.4%</text>
<text x="45.7" y="195.7" text-anchor="start" fill="#000" style="font-size:6.7px;font-weight:bold;" stroke="#000" stroke-width="0.30">30.1%</text>
<line x1="17.5" y1="138" x2="19.5" y2="138" stroke="#333" stroke-width="0.7"/>
<text x="12.5" y="139.0" fill="#333" style="font-size:2.8px">10<tspan dy="-1.2" style="font-size:2.2px">5</tspan></text>
<line x1="17.5" y1="152.5" x2="19.5" y2="152.5" stroke="#333" stroke-width="0.7"/>
<text x="12.5" y="153.5" fill="#333" style="font-size:2.8px">10<tspan dy="-1.2" style="font-size:2.2px">4</tspan></text>
<line x1="17.5" y1="168.5" x2="19.5" y2="168.5" stroke="#333" stroke-width="0.7"/>
<text x="12.5" y="169.5" fill="#333" style="font-size:2.8px">10<tspan dy="-1.2" style="font-size:2.2px">3</tspan></text>
<line x1="17.5" y1="184.5" x2="19.5" y2="184.5" stroke="#333" stroke-width="0.7"/>
<text x="12.5" y="185.5" fill="#333" style="font-size:2.8px">10<tspan dy="-1.2" style="font-size:2.2px">2</tspan></text>
<line x1="17.5" y1="192.5" x2="19.5" y2="192.5" stroke="#333" stroke-width="0.7"/>
<text x="13.5" y="193.5" fill="#333" style="font-size:2.8px">0</text>
<line x1="23.8" y1="198" x2="23.8" y2="200" stroke="#333" stroke-width="0.7"/>
<text x="22.8" y="204.0" fill="#333" style="font-size:2.8px">0</text>
<line x1="33.8" y1="198" x2="33.8" y2="200" stroke="#333" stroke-width="0.7"/>
<text x="31.8" y="204.0" fill="#333" style="font-size:2.8px">10<tspan dy="-1.2" style="font-size:2.2px">2</tspan></text>
<line x1="49.5" y1="198" x2="49.5" y2="200" stroke="#333" stroke-width="0.7"/>
<text x="47.5" y="204.0" fill="#333" style="font-size:2.8px">10<tspan dy="-1.2" style="font-size:2.2px">3</tspan></text>
<line x1="65.5" y1="198" x2="65.5" y2="200" stroke="#333" stroke-width="0.7"/>
<text x="63.5" y="204.0" fill="#333" style="font-size:2.8px">10<tspan dy="-1.2" style="font-size:2.2px">4</tspan></text>
<line x1="80.5" y1="198" x2="80.5" y2="200" stroke="#333" stroke-width="0.7"/>
<text x="78.5" y="204.0" fill="#333" style="font-size:2.8px">10<tspan dy="-1.2" style="font-size:2.2px">5</tspan></text>
<clipPath id="c104d"><rect x="104.5" y="132.5" width="65.5" height="65.5"/></clipPath>
<g clip-path="url(#c104d)">
<rect x="101.5" y="164" width="29.0" height="39" fill="#000" opacity="0.10" filter="url(#b2)"/>
<ellipse cx="124.5" cy="180" rx="6" ry="17" fill="#000" opacity="0.14" filter="url(#b3)"/>
<rect x="130.5" y="163" width="13.0" height="20.5" fill="#000" opacity="0.13" filter="url(#b2)"/>
<ellipse cx="128.25" cy="157.0" rx="17" ry="5.5" fill="#000" opacity="0.24" filter="url(#b3)"/>
<path d="M121.2 159.5h0.8M140.2 155.2h0.8M126.4 158.2h0.8M141.3 155.1h0.8M137.1 156.9h0.8M122.6 161.5h0.8M145.3 152.1h0.8M131.3 155.7h0.8M116.2 157.4h0.8M128.6 154.6h0.8M114.5 160.0h0.8M141.3 157.2h0.8M106.1 159.6h0.8M147.4 156.7h0.8M111.1 152.1h0.8M128.1 155.4h0.8M125.7 156.9h0.8M136.9 163.2h0.8M134.1 156.1h0.8M123.3 150.8h0.8M145.0 155.6h0.8M127.7 151.5h0.8M133.6 156.7h0.8M120.4 158.8h0.8M155.0 155.9h0.8M127.0 159.3h0.8M121.6 155.8h0.8M146.0 156.0h0.8M131.1 153.4h0.8M115.2 155.8h0.8M127.8 152.3h0.8M123.3 158.4h0.8M131.4 163.7h0.8M120.8 152.3h0.8M133.8 155.5h0.8M135.8 154.0h0.8M108.9 164.2h0.8M124.0 159.4h0.8M146.4 155.2h0.8M113.6 158.0h0.8M136.5 159.0h0.8M110.4 155.8h0.8M153.3 152.1h0.8M143.4 151.1h0.8M122.2 152.0h0.8M141.4 160.9h0.8M135.2 153.7h0.8M134.6 158.8h0.8M146.6 152.0h0.8M127.7 159.4h0.8M127.4 153.0h0.8M124.9 165.4h0.8M138.6 161.5h0.8M134.2 156.6h0.8M125.4 156.1h0.8M126.0 155.9h0.8M115.5 155.2h0.8M130.4 153.0h0.8M145.1 163.3h0.8M119.2 152.3h0.8M121.4 156.3h0.8M112.0 158.0h0.8M117.7 157.8h0.8M125.7 160.0h0.8M122.6 159.8h0.8M124.2 152.0h0.8M139.6 157.2h0.8M146.7 157.0h0.8M127.4 164.8h0.8M119.8 152.2h0.8M132.9 151.8h0.8M127.7 150.0h0.8M144.3 159.6h0.8M134.0 154.4h0.8M113.3 162.5h0.8M136.6 155.7h0.8M116.5 157.1h0.8M122.7 155.7h0.8M113.3 162.3h0.8M130.9 164.9h0.8M133.6 156.7h0.8M136.6 155.3h0.8M138.2 160.1h0.8M144.0 157.0h0.8M127.2 162.2h0.8M127.5 154.6h0.8M140.7 155.4h0.8M139.0 161.6h0.8M120.2 156.9h0.8M130.7 156.5h0.8M126.1 162.4h0.8M130.7 157.7h0.8M129.7 154.8h0.8M133.2 160.7h0.8M117.9 159.0h0.8M145.8 160.2h0.8M144.9 157.5h0.8M123.5 155.0h0.8M127.9 166.1h0.8M128.1 153.8h0.8M143.9 161.3h0.8M134.1 158.8h0.8M124.5 152.1h0.8M127.7 155.3h0.8M112.9 166.9h0.8M125.9 153.4h0.8M127.1 158.6h0.8M130.2 162.5h0.8M127.8 163.2h0.8M128.7 157.3h0.8M131.8 157.3h0.8M119.7 150.3h0.8M111.4 154.7h0.8M123.2 156.2h0.8M130.5 160.8h0.8M110.5 154.0h0.8M134.9 153.6h0.8M133.4 153.9h0.8M114.8 153.9h0.8M124.0 150.9h0.8M126.8 154.1h0.8M140.3 151.8h0.8M133.8 154.2h0.8M121.4 159.3h0.8M136.5 152.9h0.8M114.7 151.0h0.8M120.2 160.6h0.8M119.8 157.2h0.8M114.6 156.7h0.8M141.8 159.6h0.8M124.8 159.1h0.8M119.1 150.2h0.8M121.1 150.0h0.8M134.3 160.7h0.8M129.8 158.5h0.8M126.2 155.1h0.8M135.9 152.9h0.8M109.0 159.8h0.8M120.1 164.5h0.8M125.3 151.3h0.8M134.4 152.6h0.8M117.6 161.5h0.8M137.6 162.7h0.8M148.6 162.7h0.8M137.8 155.8h0.8M120.6 162.2h0.8M141.4 155.6h0.8M116.8 158.6h0.8M146.0 161.9h0.8M118.6 151.8h0.8M132.0 155.2h0.8M124.6 162.9h0.8M135.4 161.5h0.8M120.0 156.7h0.8M141.9 159.5h0.8M143.4 161.2h0.8M133.2 155.4h0.8M120.7 152.6h0.8M121.7 155.0h0.8M129.7 166.6h0.8M129.9 155.1h0.8M131.8 160.7h0.8M124.1 157.8h0.8M142.8 153.2h0.8M125.2 160.7h0.8M133.2 159.6h0.8M129.5 165.3h0.8M125.1 156.6h0.8M136.9 154.9h0.8M147.1 158.5h0.8M128.9 149.9h0.8M146.9 162.7h0.8M136.8 161.9h0.8M146.4 156.5h0.8M117.1 160.7h0.8M113.5 156.2h0.8M107.3 152.9h0.8M129.5 153.0h0.8M129.5 150.9h0.8M128.6 163.1h0.8M123.1 155.9h0.8M116.5 155.1h0.8M109.0 156.1h0.8M122.0 148.9h0.8M140.2 163.9h0.8M130.1 156.6h0.8M109.0 160.6h0.8M124.3 166.2h0.8M148.1 159.8h0.8M144.3 156.4h0.8M115.6 156.8h0.8M121.9 159.2h0.8M127.8 153.0h0.8M126.4 156.2h0.8M158.8 156.5h0.8M126.4 163.6h0.8M111.2 155.1h0.8M136.0 164.1h0.8M114.3 158.0h0.8M127.4 156.1h0.8M111.7 156.5h0.8M135.9 160.5h0.8M122.1 156.5h0.8M130.9 154.0h0.8M115.4 157.9h0.8M139.5 163.1h0.8M135.7 157.0h0.8M131.8 151.2h0.8M124.2 148.8h0.8M123.2 150.2h0.8M136.5 166.2h0.8M126.5 153.3h0.8M131.5 154.1h0.8M136.2 151.4h0.8M143.5 163.3h0.8M127.4 152.6h0.8M132.8 152.6h0.8M131.8 156.3h0.8M144.0 159.9h0.8M116.1 157.1h0.8M122.5 162.5h0.8M141.5 156.7h0.8M131.2 153.0h0.8M116.3 158.0h0.8M134.3 153.9h0.8M147.5 158.9h0.8M148.0 150.5h0.8M125.0 158.9h0.8M136.7 158.4h0.8M120.2 155.8h0.8M113.9 159.6h0.8M119.0 157.7h0.8M140.1 163.6h0.8M142.4 157.8h0.8M117.6 161.0h0.8M109.5 156.4h0.8M123.9 156.3h0.8M133.7 156.3h0.8M139.3 158.1h0.8M120.6 152.4h0.8M142.3 159.9h0.8M124.1 151.1h0.8M120.9 155.1h0.8M134.2 157.8h0.8M137.6 160.4h0.8M120.9 153.1h0.8M124.5 153.7h0.8M135.0 161.9h0.8M134.2 153.6h0.8M142.7 164.4h0.8M141.7 160.7h0.8M120.0 159.6h0.8M135.2 155.3h0.8M139.0 148.8h0.8M146.0 146.9h0.8M130.3 155.4h0.8M127.1 158.6h0.8M126.4 161.4h0.8M109.4 161.7h0.8M145.8 155.2h0.8M107.2 155.9h0.8M132.1 157.5h0.8M139.5 153.8h0.8M139.7 152.3h0.8M118.9 155.9h0.8M128.4 147.4h0.8M121.3 156.5h0.8M121.7 158.9h0.8M134.3 153.9h0.8M118.6 155.8h0.8M151.1 161.0h0.8M120.3 151.4h0.8M117.5 165.9h0.8M118.4 157.8h0.8M145.2 158.9h0.8M120.0 152.3h0.8M137.6 160.2h0.8M126.7 157.3h0.8M142.4 157.9h0.8M142.1 160.8h0.8M132.6 164.1h0.8M124.6 160.4h0.8M118.3 162.1h0.8M110.9 152.3h0.8M119.8 165.0h0.8M133.1 164.6h0.8M137.2 151.5h0.8M129.7 158.7h0.8M123.5 160.9h0.8M137.3 156.5h0.8M124.2 153.1h0.8M156.8 163.1h0.8M129.8 158.9h0.8M131.3 157.9h0.8M127.9 156.6h0.8M128.7 154.3h0.8M122.9 164.4h0.8M141.4 162.4h0.8M149.7 156.0h0.8M127.6 159.4h0.8M131.5 155.7h0.8M118.8 161.0h0.8M135.6 152.2h0.8M119.7 157.1h0.8M124.1 150.8h0.8M133.9 153.0h0.8M130.2 153.0h0.8M137.7 161.5h0.8M135.2 157.7h0.8M139.5 156.9h0.8M155.9 153.6h0.8M117.9 164.2h0.8M147.2 153.8h0.8M126.0 161.3h0.8M121.7 151.3h0.8M139.6 154.8h0.8M128.6 155.6h0.8M135.1 154.3h0.8M128.9 156.3h0.8M118.9 159.6h0.8M116.0 157.4h0.8M150.4 156.4h0.8M126.5 158.0h0.8M134.9 164.0h0.8M126.2 152.2h0.8M128.7 154.3h0.8M117.1 157.7h0.8M123.0 160.9h0.8M139.5 160.6h0.8M120.9 153.0h0.8M134.1 149.4h0.8M121.6 153.6h0.8M122.5 159.7h0.8M132.9 156.3h0.8M136.0 160.1h0.8M135.5 162.4h0.8M145.5 155.7h0.8M116.6 155.6h0.8M119.5 160.1h0.8M126.9 153.5h0.8M131.1 159.5h0.8M143.2 157.9h0.8M126.3 154.7h0.8M118.2 154.9h0.8M133.1 158.6h0.8M132.2 148.1h0.8M125.3 162.1h0.8M116.9 159.0h0.8M123.3 161.4h0.8M134.0 159.5h0.8M135.9 161.2h0.8M118.6 153.5h0.8M123.3 162.3h0.8M106.3 160.9h0.8M125.6 158.7h0.8M120.6 158.4h0.8M137.5 151.2h0.8M141.2 155.6h0.8M130.7 151.2h0.8M133.2 157.9h0.8M150.1 151.2h0.8M126.4 158.0h0.8M134.5 164.2h0.8M117.3 161.8h0.8M126.6 153.8h0.8M135.3 158.3h0.8M128.6 160.0h0.8M112.4 157.3h0.8M120.7 156.7h0.8M131.2 156.5h0.8M133.0 153.0h0.8M129.3 156.7h0.8M156.1 158.9h0.8M116.5 157.7h0.8M150.8 159.4h0.8M113.9 164.4h0.8M137.5 159.3h0.8M144.2 150.1h0.8M132.1 156.0h0.8M132.7 149.4h0.8M141.5 152.4h0.8M134.8 161.3h0.8M130.8 157.7h0.8M115.5 154.4h0.8M132.3 155.9h0.8M136.3 153.1h0.8M128.8 153.7h0.8M111.6 157.6h0.8M127.7 157.9h0.8M123.8 162.7h0.8M160.4 162.7h0.8M115.6 156.5h0.8M145.1 160.6h0.8M119.1 155.3h0.8M129.9 154.9h0.8M131.5 165.2h0.8M141.2 165.7h0.8M143.5 146.0h0.8M135.0 151.9h0.8M134.2 164.0h0.8M134.2 147.5h0.8M129.1 155.6h0.8M139.1 151.7h0.8M126.0 156.5h0.8M130.1 158.4h0.8M141.1 157.7h0.8M146.1 158.1h0.8M154.4 160.5h0.8M130.8 152.9h0.8M125.3 155.1h0.8M143.5 155.9h0.8M128.7 158.8h0.8M128.5 160.0h0.8M122.8 154.1h0.8M126.2 161.0h0.8M118.1 148.7h0.8M130.1 154.8h0.8M133.3 156.1h0.8M146.1 158.3h0.8M123.9 156.0h0.8M146.8 154.5h0.8M132.8 163.7h0.8M137.3 160.9h0.8M117.8 157.8h0.8M144.8 159.9h0.8M109.4 161.8h0.8M138.4 157.7h0.8M137.2 153.2h0.8M145.8 162.5h0.8M138.0 160.9h0.8M115.9 156.4h0.8M129.2 159.9h0.8M115.3 157.5h0.8M142.6 153.5h0.8M147.3 159.2h0.8M123.6 153.6h0.8M146.7 155.1h0.8M121.0 156.6h0.8M141.2 162.0h0.8M125.5 149.1h0.8M145.2 157.4h0.8M125.8 157.4h0.8M111.2 163.3h0.8M134.3 165.3h0.8M114.0 153.5h0.8M112.4 162.3h0.8M122.2 157.8h0.8M120.5 152.3h0.8M121.6 158.2h0.8M123.9 155.2h0.8M130.1 154.8h0.8M128.5 152.5h0.8M112.4 151.7h0.8M117.2 160.0h0.8M112.1 151.8h0.8M157.2 155.3h0.8M141.4 153.3h0.8M124.8 156.0h0.8M124.0 158.9h0.8M130.3 161.4h0.8M126.1 158.1h0.8M119.6 161.6h0.8M115.0 151.4h0.8M121.0 154.4h0.8M110.8 149.9h0.8M118.0 157.5h0.8M146.4 154.1h0.8M118.7 157.3h0.8M138.1 162.3h0.8M137.1 154.3h0.8M137.9 148.0h0.8M132.2 163.6h0.8M138.6 166.2h0.8M124.0 157.5h0.8M127.5 160.3h0.8M141.7 156.8h0.8M136.1 158.6h0.8M131.1 151.6h0.8M131.5 160.5h0.8M122.9 150.6h0.8M140.0 163.5h0.8M126.6 161.2h0.8M114.1 162.1h0.8M125.9 161.7h0.8M116.3 158.2h0.8M121.8 149.5h0.8M111.4 159.2h0.8M122.8 160.1h0.8M133.5 160.1h0.8M125.2 154.5h0.8M126.4 158.7h0.8M120.2 159.2h0.8M129.2 157.1h0.8M144.0 160.8h0.8M109.3 152.5h0.8M152.8 163.2h0.8M131.6 153.4h0.8M119.7 158.2h0.8M142.7 155.0h0.8M136.4 159.1h0.8M121.5 160.7h0.8M108.2 156.2h0.8M123.2 163.7h0.8M124.0 151.8h0.8M121.7 149.5h0.8M133.9 151.8h0.8M133.9 157.7h0.8M131.7 157.5h0.8M134.0 160.6h0.8M116.9 159.1h0.8M113.0 155.8h0.8M116.2 162.0h0.8M133.4 155.2h0.8M125.9 152.9h0.8M136.4 153.5h0.8M135.4 162.1h0.8M107.1 164.1h0.8M138.8 162.3h0.8M119.2 150.4h0.8M125.3 155.7h0.8M130.4 152.2h0.8M155.5 159.6h0.8M133.8 157.9h0.8M107.9 160.0h0.8M122.4 150.3h0.8M118.1 155.8h0.8M144.4 163.3h0.8M118.6 160.6h0.8M129.4 160.0h0.8M129.1 154.7h0.8M114.3 159.0h0.8M119.7 153.8h0.8M136.9 165.7h0.8M147.3 154.7h0.8M149.2 149.9h0.8M136.7 158.0h0.8M126.4 158.3h0.8M115.9 153.4h0.8M111.2 152.4h0.8M115.5 154.4h0.8M129.8 150.1h0.8M132.2 156.7h0.8M123.1 155.5h0.8M137.4 150.3h0.8M129.6 155.8h0.8M133.3 159.0h0.8M150.8 156.2h0.8M138.3 151.6h0.8M113.7 153.4h0.8M105.8 159.6h0.8M125.5 153.2h0.8M129.7 162.4h0.8M120.5 157.4h0.8M144.0 163.6h0.8M138.4 155.8h0.8M133.9 157.1h0.8M120.1 152.6h0.8M131.2 150.5h0.8M117.2 152.9h0.8M138.5 153.3h0.8M123.5 153.2h0.8M130.0 160.2h0.8M154.8 161.6h0.8M131.6 152.5h0.8M142.6 147.2h0.8M146.8 157.0h0.8M119.3 159.7h0.8M135.1 159.0h0.8M125.3 150.0h0.8M140.7 158.5h0.8M121.5 157.5h0.8M146.2 157.4h0.8M108.2 154.7h0.8M140.7 161.1h0.8M122.4 157.9h0.8M122.0 158.8h0.8M131.0 159.9h0.8M130.0 156.4h0.8M129.5 158.9h0.8M138.0 148.8h0.8M125.0 160.7h0.8M120.2 158.8h0.8M133.8 159.3h0.8M134.6 155.2h0.8M143.1 152.1h0.8M140.5 153.8h0.8M126.8 160.8h0.8M125.3 157.1h0.8M131.2 153.3h0.8M129.6 148.4h0.8M121.6 155.8h0.8M136.5 155.8h0.8M114.3 156.0h0.8M147.1 157.2h0.8M133.6 156.9h0.8M127.8 153.6h0.8M128.9 157.4h0.8M118.3 160.6h0.8M130.9 162.9h0.8M129.8 160.4h0.8M115.0 159.0h0.8M127.3 155.7h0.8M116.7 161.2h0.8M131.5 161.0h0.8M141.1 153.4h0.8M108.9 157.1h0.8M125.8 152.2h0.8M126.6 155.2h0.8M119.8 156.9h0.8M122.7 157.0h0.8M142.3 159.9h0.8M133.3 162.2h0.8M130.1 157.5h0.8M129.3 150.4h0.8M129.5 151.9h0.8M146.3 158.1h0.8M120.7 160.7h0.8M129.8 153.5h0.8M141.0 159.7h0.8M136.2 162.1h0.8M106.7 157.8h0.8M112.8 165.0h0.8M113.6 153.0h0.8M116.3 158.8h0.8M111.2 155.6h0.8M122.1 160.5h0.8M110.4 163.4h0.8M115.3 153.3h0.8M123.2 160.1h0.8M110.8 159.3h0.8M105.8 157.9h0.8M105.6 161.2h0.8M110.4 161.3h0.8M108.4 163.1h0.8M106.1 163.1h0.8M111.1 156.8h0.8M111.0 157.2h0.8M111.5 158.6h0.8M113.7 154.3h0.8M112.3 159.2h0.8M115.7 157.6h0.8M105.0 160.8h0.8M117.0 159.0h0.8M105.2 161.0h0.8M106.4 158.0h0.8M112.9 161.7h0.8M106.0 164.5h0.8M111.9 159.9h0.8M105.0 159.5h0.8M110.2 154.9h0.8M115.3 152.3h0.8M106.4 159.4h0.8M121.0 160.8h0.8M110.9 166.7h0.8M109.8 159.7h0.8M110.9 155.9h0.8M108.5 157.1h0.8M107.1 157.5h0.8M110.2 159.6h0.8M120.3 164.5h0.8M107.0 157.5h0.8M111.3 159.3h0.8M105.6 156.0h0.8M129.1 157.5h0.8M112.5 157.6h0.8M125.2 153.4h0.8M116.8 158.0h0.8M118.3 158.3h0.8M115.4 156.8h0.8M106.7 161.1h0.8M113.0 158.3h0.8M105.3 158.9h0.8M109.0 154.5h0.8M107.0 160.2h0.8M107.6 154.0h0.8M117.9 158.0h0.8M111.4 163.2h0.8M109.2 157.3h0.8M122.6 157.9h0.8M113.4 161.7h0.8M111.3 159.3h0.8M107.4 156.2h0.8M107.9 152.6h0.8M115.4 157.7h0.8M117.1 159.7h0.8M127.0 156.2h0.8M111.3 161.0h0.8M108.3 154.3h0.8M109.0 157.4h0.8M115.9 155.0h0.8M113.6 152.7h0.8M109.3 155.9h0.8M114.9 160.2h0.8M109.1 157.8h0.8M112.7 165.2h0.8M121.1 163.0h0.8M108.5 154.8h0.8M106.1 152.2h0.8M114.6 158.8h0.8M119.0 160.5h0.8M112.5 153.4h0.8M113.6 163.0h0.8M107.0 159.2h0.8M105.7 157.8h0.8M113.4 162.9h0.8M122.0 158.3h0.8M105.5 153.7h0.8M110.6 159.1h0.8M117.1 152.8h0.8M113.8 165.4h0.8M109.5 154.6h0.8M113.9 161.0h0.8M107.7 158.9h0.8M116.9 158.4h0.8M123.4 156.6h0.8M120.9 158.4h0.8M119.4 158.5h0.8M116.5 159.1h0.8M118.7 158.3h0.8M126.0 159.3h0.8M109.2 156.5h0.8M126.4 158.0h0.8M114.7 152.6h0.8M108.1 151.5h0.8M108.4 158.8h0.8M116.3 155.3h0.8M109.3 158.2h0.8M117.0 164.3h0.8M119.2 157.6h0.8M116.4 156.0h0.8M115.5 154.2h0.8M113.5 158.3h0.8M118.8 159.5h0.8M108.9 157.4h0.8M107.2 157.9h0.8M105.7 156.4h0.8M117.9 155.1h0.8M108.7 151.4h0.8M106.9 157.9h0.8M109.2 153.4h0.8M110.3 158.9h0.8M116.0 158.8h0.8M106.5 156.7h0.8M124.8 163.3h0.8M109.5 155.8h0.8M116.6 157.2h0.8M113.4 163.7h0.8M105.0 159.0h0.8M109.1 161.8h0.8M107.5 157.4h0.8M113.8 159.1h0.8M109.5 152.5h0.8M117.0 160.1h0.8M110.4 155.7h0.8M105.7 153.7h0.8M113.7 157.0h0.8M109.8 159.2h0.8M105.3 154.6h0.8M114.3 161.4h0.8M117.3 160.6h0.8M111.7 156.0h0.8M105.7 156.6h0.8M107.9 154.2h0.8M111.5 160.2h0.8M105.5 151.9h0.8M106.4 162.2h0.8M109.6 157.9h0.8M114.0 156.5h0.8M110.1 162.2h0.8M110.2 156.2h0.8M107.6 156.1h0.8M107.8 158.1h0.8M107.1 157.5h0.8M117.5 155.2h0.8M110.7 156.4h0.8M105.5 158.5h0.8M118.0 149.9h0.8M116.6 151.3h0.8M109.1 163.0h0.8M117.6 159.1h0.8M113.6 156.2h0.8M111.4 158.4h0.8M113.3 158.3h0.8M106.3 150.4h0.8M114.2 156.2h0.8M113.4 161.2h0.8M110.3 155.6h0.8M107.0 158.4h0.8M111.7 155.1h0.8M116.1 158.6h0.8M118.4 159.5h0.8M118.1 151.2h0.8M119.0 158.6h0.8M114.3 163.2h0.8M109.3 161.1h0.8M107.6 160.4h0.8M108.9 158.7h0.8M110.4 154.5h0.8M120.8 161.7h0.8M109.0 159.2h0.8M105.7 157.9h0.8M108.5 154.5h0.8M110.1 151.8h0.8M115.6 157.5h0.8M113.7 152.1h0.8M108.2 163.8h0.8M105.9 161.0h0.8M106.4 157.0h0.8M108.5 156.1h0.8M108.8 159.4h0.8M146.3 164.6h0.8M151.9 154.2h0.8M148.7 159.9h0.8M151.5 156.3h0.8M143.3 148.1h0.8M145.5 163.2h0.8M147.6 160.0h0.8M148.7 159.2h0.8M149.6 157.2h0.8M157.2 151.3h0.8M154.7 154.9h0.8M148.8 156.8h0.8M163.3 167.6h0.8M150.1 163.5h0.8M153.3 154.4h0.8M154.7 151.3h0.8M152.9 154.9h0.8M136.0 154.3h0.8M154.7 155.1h0.8M151.8 157.2h0.8M151.2 161.1h0.8M148.8 148.4h0.8M148.0 162.2h0.8M137.9 158.7h0.8M151.0 162.6h0.8M144.0 151.2h0.8M152.5 150.0h0.8M156.0 160.5h0.8M151.4 161.4h0.8M159.9 161.2h0.8M147.9 162.1h0.8M146.9 150.7h0.8M147.7 156.1h0.8M147.1 165.0h0.8M139.2 150.3h0.8M142.9 159.4h0.8M160.4 160.3h0.8M158.5 153.6h0.8M153.8 158.0h0.8M134.0 155.0h0.8M152.2 160.3h0.8M151.5 152.2h0.8M155.3 156.5h0.8M147.2 149.3h0.8M140.2 159.8h0.8M150.1 158.9h0.8M141.0 159.0h0.8M155.1 149.1h0.8M155.0 150.5h0.8M155.8 154.6h0.8M152.5 150.7h0.8M154.9 159.6h0.8M157.0 163.2h0.8M154.6 156.6h0.8M149.8 156.7h0.8M145.1 156.8h0.8M146.6 153.7h0.8M153.0 159.8h0.8M154.1 154.5h0.8M154.3 155.2h0.8M126.4 177.8h0.8M124.0 175.6h0.8M120.9 166.4h0.8M122.7 165.9h0.8M123.6 182.3h0.8M118.2 192.7h0.8M122.8 178.1h0.8M119.4 194.2h0.8M127.6 179.2h0.8M112.3 166.4h0.8M119.4 174.0h0.8M123.8 165.6h0.8M129.1 169.8h0.8M115.3 182.9h0.8M127.0 180.2h0.8M119.1 181.0h0.8M127.9 171.8h0.8M116.4 183.1h0.8M115.5 185.7h0.8M128.1 182.2h0.8M123.9 192.7h0.8M125.5 187.2h0.8M123.3 186.6h0.8M117.1 174.9h0.8M117.7 165.0h0.8M123.5 165.7h0.8M126.2 183.7h0.8M130.6 186.1h0.8M125.1 179.6h0.8M117.1 174.2h0.8M116.8 180.4h0.8M130.0 190.7h0.8M122.7 196.6h0.8M115.8 188.8h0.8M121.0 175.5h0.8M128.8 195.7h0.8M116.9 172.3h0.8M120.3 181.6h0.8M118.0 179.9h0.8M118.4 179.1h0.8M120.1 171.4h0.8M124.5 189.1h0.8M121.8 181.0h0.8M129.1 191.9h0.8M124.1 177.8h0.8M126.5 170.6h0.8M128.1 189.5h0.8M128.2 177.4h0.8M115.1 176.7h0.8M126.2 170.1h0.8M130.5 189.0h0.8M128.1 186.9h0.8M121.0 178.8h0.8M126.3 168.4h0.8M128.5 181.0h0.8M122.7 186.4h0.8M119.6 168.3h0.8M130.1 181.5h0.8M125.0 164.4h0.8M121.5 175.6h0.8M122.4 191.7h0.8M126.9 171.3h0.8M127.8 179.8h0.8M114.9 167.9h0.8M127.2 170.4h0.8M125.9 188.1h0.8M114.5 180.8h0.8M130.4 189.1h0.8M116.2 184.2h0.8M121.7 190.3h0.8M125.1 169.5h0.8M125.4 171.1h0.8M120.1 184.5h0.8M127.4 197.1h0.8M127.1 183.5h0.8M125.8 174.6h0.8M129.3 184.7h0.8M118.4 180.9h0.8M125.9 196.0h0.8M116.9 180.1h0.8M117.9 175.6h0.8M126.5 196.1h0.8M125.2 179.9h0.8M119.3 177.3h0.8M120.5 182.7h0.8M127.1 171.2h0.8M122.0 172.1h0.8M128.1 172.3h0.8M119.9 197.4h0.8M128.0 169.6h0.8M110.2 175.2h0.8M119.5 167.4h0.8M128.7 167.8h0.8M127.4 168.2h0.8M128.7 171.4h0.8M123.5 188.6h0.8M125.4 173.3h0.8M121.1 175.9h0.8M115.3 177.1h0.8M129.9 183.4h0.8M123.4 169.3h0.8M123.0 175.8h0.8M118.9 180.9h0.8M128.6 174.9h0.8M128.2 184.6h0.8M126.8 182.1h0.8M124.4 170.9h0.8M128.9 174.3h0.8M124.3 172.7h0.8M121.2 179.6h0.8M124.7 171.5h0.8M129.6 185.9h0.8M126.2 179.5h0.8M123.2 168.4h0.8M115.6 194.1h0.8M120.2 192.6h0.8M121.9 171.8h0.8M129.2 178.6h0.8M127.4 184.8h0.8M125.4 192.7h0.8M128.0 181.6h0.8M120.8 172.5h0.8M127.8 184.5h0.8M128.7 167.3h0.8M121.6 174.8h0.8M116.8 187.5h0.8M124.2 167.4h0.8M130.2 180.9h0.8M122.9 177.0h0.8M123.0 189.2h0.8M111.9 190.5h0.8M129.1 184.0h0.8M127.7 188.7h0.8M115.7 165.8h0.8M109.9 194.6h0.8M115.9 182.6h0.8M129.5 196.5h0.8M130.6 177.2h0.8M121.0 176.3h0.8M127.9 191.6h0.8M128.9 185.3h0.8M123.2 195.3h0.8M125.5 182.2h0.8M120.6 173.2h0.8M124.2 186.9h0.8M128.5 175.3h0.8M118.4 167.3h0.8M123.8 190.4h0.8M124.2 182.5h0.8M118.0 166.2h0.8M130.2 189.7h0.8M130.8 195.4h0.8M117.3 175.9h0.8M123.6 196.5h0.8M121.8 171.0h0.8M118.8 191.1h0.8M125.7 181.6h0.8M127.5 168.9h0.8M123.3 170.3h0.8M117.2 172.2h0.8M111.3 191.7h0.8M127.4 177.4h0.8M118.5 177.5h0.8M107.4 193.6h0.8M122.9 171.9h0.8M122.9 180.3h0.8M130.3 169.8h0.8M116.6 176.6h0.8M115.2 173.2h0.8M112.4 165.9h0.8M122.4 191.7h0.8M116.0 178.0h0.8M106.1 166.7h0.8M124.2 192.3h0.8M129.5 187.1h0.8M122.1 182.8h0.8M119.0 175.7h0.8M116.5 187.4h0.8M125.9 169.0h0.8M129.3 189.9h0.8M127.6 171.0h0.8M120.5 169.0h0.8M127.2 184.6h0.8M123.6 170.9h0.8M123.1 195.4h0.8M118.0 179.8h0.8M127.6 171.1h0.8M122.2 185.9h0.8M122.5 192.6h0.8M128.3 183.5h0.8M120.4 169.2h0.8M128.7 172.3h0.8M125.8 177.1h0.8M110.0 176.1h0.8M119.5 191.4h0.8M122.4 184.3h0.8M118.4 180.2h0.8M125.6 171.4h0.8M117.7 173.3h0.8M127.7 193.6h0.8M123.8 178.6h0.8M128.0 166.6h0.8M122.5 193.6h0.8M125.8 195.0h0.8M125.4 185.0h0.8M122.0 162.9h0.8M120.7 178.4h0.8M125.3 177.9h0.8M129.5 188.1h0.8M124.7 194.2h0.8M125.3 189.5h0.8M121.8 190.1h0.8M129.5 188.4h0.8M122.9 186.1h0.8M123.7 170.4h0.8M123.4 193.4h0.8M123.4 195.8h0.8M127.4 189.0h0.8M119.0 171.8h0.8M120.1 163.2h0.8M118.0 188.2h0.8M115.3 185.8h0.8M122.1 166.0h0.8M127.8 191.6h0.8M123.4 166.9h0.8M128.5 192.0h0.8M124.9 171.3h0.8M123.5 192.4h0.8M120.4 177.6h0.8M121.3 188.4h0.8M120.8 176.1h0.8M129.1 171.4h0.8M109.9 180.4h0.8M123.2 180.8h0.8M108.1 193.8h0.8M118.4 191.4h0.8M110.1 196.7h0.8M125.4 163.2h0.8M125.0 189.2h0.8M113.6 182.0h0.8M130.0 183.1h0.8M125.1 164.3h0.8M119.8 179.7h0.8M129.0 184.5h0.8M118.9 187.7h0.8M125.8 172.7h0.8M126.2 191.6h0.8M125.0 173.9h0.8M126.8 176.9h0.8M126.1 192.2h0.8M129.3 177.3h0.8M125.4 188.2h0.8M123.8 177.4h0.8M120.6 168.4h0.8M111.4 165.0h0.8M130.3 179.3h0.8M127.9 186.0h0.8M128.0 179.9h0.8M130.8 186.0h0.8M114.3 171.2h0.8M121.7 183.4h0.8M127.0 195.1h0.8M130.0 192.0h0.8M120.8 187.9h0.8M115.8 175.5h0.8M114.9 170.9h0.8M127.9 194.3h0.8M125.7 187.6h0.8M126.4 194.9h0.8M124.5 193.5h0.8M129.0 172.8h0.8M127.7 180.9h0.8M125.3 179.0h0.8M125.9 183.9h0.8M116.5 167.0h0.8M124.8 168.8h0.8M129.7 183.5h0.8M127.2 181.0h0.8M122.6 186.0h0.8M115.8 185.3h0.8M130.3 192.1h0.8M128.7 181.7h0.8M112.4 171.9h0.8M116.0 172.9h0.8M129.8 164.9h0.8M114.7 165.1h0.8M123.1 170.9h0.8M110.4 169.4h0.8M124.5 174.0h0.8M120.0 191.0h0.8M123.7 170.8h0.8M117.9 190.7h0.8M121.1 174.2h0.8M116.2 178.9h0.8M128.1 167.3h0.8M126.9 175.2h0.8M127.5 166.4h0.8M120.2 167.4h0.8M124.2 172.0h0.8M116.5 177.5h0.8M129.9 190.6h0.8M124.6 176.3h0.8M126.7 185.4h0.8M119.3 181.4h0.8M122.9 190.5h0.8M126.6 167.6h0.8M119.3 162.8h0.8M119.3 173.2h0.8M127.9 177.8h0.8M114.2 186.2h0.8M127.0 177.8h0.8M123.3 177.9h0.8M125.9 183.0h0.8M116.5 188.2h0.8M117.4 185.2h0.8M126.4 193.1h0.8M122.3 179.2h0.8M123.6 167.5h0.8M125.7 181.8h0.8M126.9 168.2h0.8M125.4 173.8h0.8M124.5 173.0h0.8M123.2 192.3h0.8M114.9 166.0h0.8M127.0 185.9h0.8M128.9 183.4h0.8M110.2 194.8h0.8M120.0 178.5h0.8M116.5 190.3h0.8M125.4 163.6h0.8M127.9 194.7h0.8M128.9 188.5h0.8M124.0 182.2h0.8M126.5 181.0h0.8M121.5 179.7h0.8M124.7 185.8h0.8M128.0 167.3h0.8M118.6 181.6h0.8M122.5 166.1h0.8M124.3 183.8h0.8M120.1 192.4h0.8M124.4 186.1h0.8M124.3 176.0h0.8M121.7 180.6h0.8M120.0 170.8h0.8M128.3 186.2h0.8M129.0 165.1h0.8M121.9 187.2h0.8M121.5 192.6h0.8M123.7 189.6h0.8M127.0 185.0h0.8M118.7 169.9h0.8M119.1 176.9h0.8M129.1 182.9h0.8M130.3 188.8h0.8M121.4 162.8h0.8M116.5 175.1h0.8M129.2 189.4h0.8M124.8 167.5h0.8M124.0 180.2h0.8M121.7 170.4h0.8M128.2 168.8h0.8M128.8 164.6h0.8M113.8 176.1h0.8M123.8 197.4h0.8M122.9 179.4h0.8M127.2 179.2h0.8M122.7 176.7h0.8M117.8 188.7h0.8M116.0 166.0h0.8M124.8 180.8h0.8M123.6 189.3h0.8M123.1 180.5h0.8M120.1 177.5h0.8M124.4 193.5h0.8M120.5 164.9h0.8M122.2 171.5h0.8M123.9 181.6h0.8M119.5 188.0h0.8M127.6 175.7h0.8M121.7 187.3h0.8M116.6 171.9h0.8M118.5 188.1h0.8M121.1 188.1h0.8M125.5 170.3h0.8M120.6 195.1h0.8M124.5 184.5h0.8M119.3 166.3h0.8M117.2 184.9h0.8M123.0 196.4h0.8M130.0 166.9h0.8M120.1 179.6h0.8M121.6 187.6h0.8M121.2 172.4h0.8M121.3 170.9h0.8M119.1 186.1h0.8M124.1 175.2h0.8M115.8 187.5h0.8M124.5 196.3h0.8M124.1 191.9h0.8M122.0 168.9h0.8M125.5 180.6h0.8M130.6 165.6h0.8M123.9 184.7h0.8M126.0 173.7h0.8M115.8 184.1h0.8M113.8 177.1h0.8M118.7 186.9h0.8M125.0 184.9h0.8M127.0 194.7h0.8M108.6 196.6h0.8M125.0 185.5h0.8M114.1 196.7h0.8M126.8 166.2h0.8M119.4 179.2h0.8M125.0 173.2h0.8M125.4 179.2h0.8M122.3 180.1h0.8M121.1 178.1h0.8M122.3 168.0h0.8M128.7 174.7h0.8M119.4 172.5h0.8M118.4 178.3h0.8M123.3 167.8h0.8M130.2 183.3h0.8M129.6 181.8h0.8M122.7 193.8h0.8M121.3 185.1h0.8M128.1 168.2h0.8M126.9 178.4h0.8M126.8 173.9h0.8M124.2 194.9h0.8M129.3 182.5h0.8M128.3 181.9h0.8M126.5 166.5h0.8M125.3 186.5h0.8M127.7 181.3h0.8M114.9 184.7h0.8M126.2 182.5h0.8M127.4 180.8h0.8M123.5 188.1h0.8M127.5 189.6h0.8M125.5 183.7h0.8M118.6 177.5h0.8M116.6 194.1h0.8M122.8 179.5h0.8M121.0 195.9h0.8M124.9 180.2h0.8M123.7 170.4h0.8M127.8 190.1h0.8M123.4 167.8h0.8M118.7 191.2h0.8M121.3 176.3h0.8M129.9 183.8h0.8M126.6 178.7h0.8M125.4 173.9h0.8M121.0 175.4h0.8M126.3 171.9h0.8M128.6 182.5h0.8M118.4 173.9h0.8M128.1 182.7h0.8M119.7 187.8h0.8M109.4 169.0h0.8M122.1 185.4h0.8M120.0 182.5h0.8M121.0 172.8h0.8M117.9 164.2h0.8M118.7 176.7h0.8M115.8 192.8h0.8M121.7 173.9h0.8M126.6 187.7h0.8M124.1 195.7h0.8M123.8 173.3h0.8M122.1 189.4h0.8M129.4 177.4h0.8M123.4 183.7h0.8M122.4 167.4h0.8M126.0 173.7h0.8M124.1 177.4h0.8M116.7 178.3h0.8M125.6 176.2h0.8M127.8 174.6h0.8M127.2 196.8h0.8M108.8 193.0h0.8M125.3 175.6h0.8M111.5 192.1h0.8M112.9 167.1h0.8M125.0 165.1h0.8M110.3 185.6h0.8M128.0 194.0h0.8M120.8 165.7h0.8M128.7 181.2h0.8M120.3 173.1h0.8M110.8 168.8h0.8M125.9 179.7h0.8M113.0 196.7h0.8M124.2 174.6h0.8M127.9 188.2h0.8M112.4 180.4h0.8M110.0 190.7h0.8M110.4 171.9h0.8M118.3 171.1h0.8M106.2 188.4h0.8M124.2 175.7h0.8M109.5 194.3h0.8M110.3 188.3h0.8M126.6 175.2h0.8M128.0 175.0h0.8M110.4 183.6h0.8M107.9 164.1h0.8M119.5 183.3h0.8M124.3 185.2h0.8M108.1 179.8h0.8M125.5 171.0h0.8M120.5 183.8h0.8M126.0 165.6h0.8M117.7 186.1h0.8M121.7 186.8h0.8M118.8 164.2h0.8M125.4 188.4h0.8M111.3 168.8h0.8M126.7 175.5h0.8M118.3 172.7h0.8M111.9 167.4h0.8M119.0 190.3h0.8M111.7 164.3h0.8M125.8 192.8h0.8M122.5 169.3h0.8M122.5 176.6h0.8M112.5 169.7h0.8M107.9 164.2h0.8M112.4 193.3h0.8M116.5 186.8h0.8M109.8 173.2h0.8M114.6 170.5h0.8M118.6 175.7h0.8M130.5 180.4h0.8M106.7 188.8h0.8M116.8 173.0h0.8M117.0 174.1h0.8M127.3 189.1h0.8M125.8 194.0h0.8M115.4 178.4h0.8M112.3 189.8h0.8M121.8 187.6h0.8M124.8 188.3h0.8M120.9 174.4h0.8M118.5 182.2h0.8M122.5 165.8h0.8M125.8 176.7h0.8M123.8 190.6h0.8M116.6 183.6h0.8M115.6 179.9h0.8M106.0 188.5h0.8M121.1 168.6h0.8M127.3 191.1h0.8M113.8 189.1h0.8M107.4 174.8h0.8M122.5 170.5h0.8M121.5 173.1h0.8M116.7 169.5h0.8M114.0 195.6h0.8M119.6 188.2h0.8M126.4 163.2h0.8M122.3 167.2h0.8M127.0 177.7h0.8M127.5 171.0h0.8M108.0 186.5h0.8M109.7 195.2h0.8M123.5 166.3h0.8M124.4 182.3h0.8M126.5 166.3h0.8M126.4 196.3h0.8M126.9 170.6h0.8M111.1 194.4h0.8M117.7 185.9h0.8M117.0 178.5h0.8M117.3 190.6h0.8M126.9 175.2h0.8M108.0 181.8h0.8M111.9 186.5h0.8M110.9 163.7h0.8M128.8 165.2h0.8M116.6 190.5h0.8M124.4 180.5h0.8M129.7 196.4h0.8M110.7 186.5h0.8M130.5 193.1h0.8M106.8 168.5h0.8M116.7 172.5h0.8M114.4 184.0h0.8M128.7 191.9h0.8M125.7 169.8h0.8M129.4 189.1h0.8M113.0 166.9h0.8M129.2 183.7h0.8M123.8 181.5h0.8M112.0 191.4h0.8M126.8 189.1h0.8M126.0 185.8h0.8M130.5 191.3h0.8M112.2 179.9h0.8M119.8 165.6h0.8M109.4 179.4h0.8M109.2 184.9h0.8M120.2 194.9h0.8M119.1 185.4h0.8M124.7 178.7h0.8M125.5 192.9h0.8M122.9 171.7h0.8M115.3 168.6h0.8M110.8 194.7h0.8M127.4 173.9h0.8M110.7 163.2h0.8M124.6 178.1h0.8M113.4 187.6h0.8M120.3 187.4h0.8M129.5 183.0h0.8M115.7 183.2h0.8M127.4 187.6h0.8M121.0 182.4h0.8M126.9 194.4h0.8M117.3 182.5h0.8M116.4 173.8h0.8M125.8 180.4h0.8M128.7 182.8h0.8M106.9 189.4h0.8M129.4 192.5h0.8M105.2 181.8h0.8M126.5 191.2h0.8M107.0 192.5h0.8M116.4 181.4h0.8M127.2 185.7h0.8M127.0 192.0h0.8M118.9 171.8h0.8M123.2 193.6h0.8M110.8 167.8h0.8M109.7 164.3h0.8M125.8 167.0h0.8M111.0 177.0h0.8M106.6 184.6h0.8M110.1 193.1h0.8M120.7 172.2h0.8M129.6 172.7h0.8M128.2 171.9h0.8M108.2 182.5h0.8M127.7 176.4h0.8M107.0 178.7h0.8M127.8 171.8h0.8M128.4 187.4h0.8M108.0 176.6h0.8M109.5 183.6h0.8M105.9 181.2h0.8M105.3 195.3h0.8M126.9 184.8h0.8M111.8 169.5h0.8M121.3 173.0h0.8M127.7 172.0h0.8M114.6 175.4h0.8M124.0 180.0h0.8M106.3 185.9h0.8M115.4 170.3h0.8M130.3 177.9h0.8M122.5 196.5h0.8M128.9 164.2h0.8M107.2 163.7h0.8M120.3 170.9h0.8M127.3 190.6h0.8M121.8 179.1h0.8M109.7 191.8h0.8M114.5 171.6h0.8M121.4 189.4h0.8M128.6 190.7h0.8M128.1 193.2h0.8M122.3 164.0h0.8M126.9 179.8h0.8M120.9 183.3h0.8M127.2 195.9h0.8M118.7 183.5h0.8M118.5 179.1h0.8M106.2 164.0h0.8M126.0 184.5h0.8M129.7 169.3h0.8M124.5 174.9h0.8M121.0 174.6h0.8M106.5 193.0h0.8M122.8 184.7h0.8M114.8 167.6h0.8M110.1 187.4h0.8M111.2 183.3h0.8M118.7 164.5h0.8M128.3 186.1h0.8M129.9 195.9h0.8M128.9 192.1h0.8M123.5 169.1h0.8M110.0 173.4h0.8M107.1 186.8h0.8M125.3 177.8h0.8M112.6 196.3h0.8M115.1 186.1h0.8M119.7 169.6h0.8M127.3 184.8h0.8M120.2 172.4h0.8M118.4 184.8h0.8M106.6 173.0h0.8M106.1 178.5h0.8M120.0 166.4h0.8M121.7 174.6h0.8M112.5 186.8h0.8M105.9 167.6h0.8M117.7 191.1h0.8M118.2 172.8h0.8M113.4 196.5h0.8M121.2 165.1h0.8M121.6 194.7h0.8M108.2 175.1h0.8M106.5 164.6h0.8M117.8 187.7h0.8M116.2 183.0h0.8M124.5 169.2h0.8M125.2 193.7h0.8M111.7 188.3h0.8M117.0 169.8h0.8M125.1 180.4h0.8M109.1 185.3h0.8M124.9 178.4h0.8M116.2 172.2h0.8M107.0 189.7h0.8M109.2 184.2h0.8M109.8 194.7h0.8M109.4 173.6h0.8M106.3 175.6h0.8M116.0 191.7h0.8M106.2 193.3h0.8M113.3 189.8h0.8M115.3 190.8h0.8M114.9 194.1h0.8M107.2 180.0h0.8M128.1 181.6h0.8M113.8 191.8h0.8M113.2 172.0h0.8M112.8 193.2h0.8M111.8 191.4h0.8M127.8 182.8h0.8M120.1 172.3h0.8M119.8 190.4h0.8M113.9 175.5h0.8M105.7 165.1h0.8M129.9 175.5h0.8M105.7 163.3h0.8M115.5 187.2h0.8M108.5 192.5h0.8M112.1 193.9h0.8M110.4 177.6h0.8M113.4 164.1h0.8M109.7 178.7h0.8M113.6 168.2h0.8M109.0 182.2h0.8M126.0 187.4h0.8M128.8 192.1h0.8M127.6 179.2h0.8M122.2 167.5h0.8M118.9 191.7h0.8M111.9 190.3h0.8M123.2 166.8h0.8M108.4 176.0h0.8M111.1 168.7h0.8M119.6 188.5h0.8M128.5 194.9h0.8M121.1 193.5h0.8M112.8 192.2h0.8M107.8 195.6h0.8M107.2 196.9h0.8M126.1 193.4h0.8M129.3 185.9h0.8M125.1 181.4h0.8M124.5 188.2h0.8M107.9 195.1h0.8M124.3 185.8h0.8M125.9 167.4h0.8M112.7 173.9h0.8M105.6 173.4h0.8M107.2 187.1h0.8M107.2 169.3h0.8M124.4 193.9h0.8M116.2 185.9h0.8M108.8 174.0h0.8M123.9 182.9h0.8M129.0 182.6h0.8M124.3 172.0h0.8M124.2 170.5h0.8M116.3 173.7h0.8M116.0 165.3h0.8M128.6 163.6h0.8M122.9 173.7h0.8M109.5 178.0h0.8M112.0 187.1h0.8M110.5 180.6h0.8M117.6 181.2h0.8M123.3 188.2h0.8M115.9 187.4h0.8M126.8 196.9h0.8M112.0 186.0h0.8M127.6 172.8h0.8M117.6 195.0h0.8M108.0 193.2h0.8M116.8 185.6h0.8M125.7 182.2h0.8M119.8 187.7h0.8M127.0 185.4h0.8M121.9 163.9h0.8M109.7 194.5h0.8M109.9 178.3h0.8M127.4 196.9h0.8M105.7 190.2h0.8M107.5 193.4h0.8M129.3 174.7h0.8M118.6 164.5h0.8M112.7 172.6h0.8M109.6 183.4h0.8M105.1 164.9h0.8M107.0 182.9h0.8M114.7 190.8h0.8M123.4 174.9h0.8M122.4 175.6h0.8M123.8 175.2h0.8M119.6 179.7h0.8M105.3 174.2h0.8M110.1 166.6h0.8M127.7 167.6h0.8M108.1 177.1h0.8M118.9 194.0h0.8M111.3 185.5h0.8M125.0 193.8h0.8M108.1 166.0h0.8M107.6 163.5h0.8M108.1 182.0h0.8M120.2 191.9h0.8M124.9 188.3h0.8M129.1 193.2h0.8M110.8 178.0h0.8M121.8 179.0h0.8M126.2 178.9h0.8M107.0 174.5h0.8M130.4 171.0h0.8M122.0 179.9h0.8M121.0 195.3h0.8M113.4 175.1h0.8M126.4 191.3h0.8M126.9 166.6h0.8M125.9 170.1h0.8M111.9 187.5h0.8M121.9 178.1h0.8M106.9 183.4h0.8M110.9 193.4h0.8M128.7 173.8h0.8M129.1 175.4h0.8M112.6 177.5h0.8M116.2 182.7h0.8M121.9 171.2h0.8M124.6 178.2h0.8M126.7 179.4h0.8M121.1 164.5h0.8M111.1 189.8h0.8M118.4 181.0h0.8M110.3 196.5h0.8M111.0 177.4h0.8M127.1 177.0h0.8M109.9 182.1h0.8M129.2 169.3h0.8M124.5 180.4h0.8M120.6 183.9h0.8M128.9 190.2h0.8M128.4 183.0h0.8M128.1 187.9h0.8M116.8 182.4h0.8M127.7 176.8h0.8M124.1 170.8h0.8M114.4 182.4h0.8M106.3 187.0h0.8M130.4 173.0h0.8M124.2 173.2h0.8M106.8 170.0h0.8M106.9 177.2h0.8M121.8 189.8h0.8M115.3 163.6h0.8M117.7 185.1h0.8M117.1 185.2h0.8M118.8 183.9h0.8M125.7 166.1h0.8M127.1 164.6h0.8M119.6 189.9h0.8M120.7 163.5h0.8M115.2 188.1h0.8M126.4 185.5h0.8M125.0 173.8h0.8M121.4 183.1h0.8M130.2 187.8h0.8M128.8 180.6h0.8M115.6 174.8h0.8M109.2 195.9h0.8M116.7 166.7h0.8M119.3 184.0h0.8M107.2 184.8h0.8M122.8 186.2h0.8M111.6 194.3h0.8M117.2 183.1h0.8M119.7 180.8h0.8M125.5 176.3h0.8M122.7 164.3h0.8M117.0 165.1h0.8M117.1 190.9h0.8M130.2 190.4h0.8M116.1 188.9h0.8M120.3 170.5h0.8M112.2 180.6h0.8M121.4 172.7h0.8M126.7 172.2h0.8M111.8 172.5h0.8M110.6 168.2h0.8M110.9 186.9h0.8M109.0 164.7h0.8M113.3 173.7h0.8M120.1 193.9h0.8M129.8 187.3h0.8M109.9 188.3h0.8M114.3 179.5h0.8M119.3 179.1h0.8M130.1 181.7h0.8M119.8 177.9h0.8M108.7 180.2h0.8M125.8 196.0h0.8M119.3 188.4h0.8M127.2 184.9h0.8M122.5 197.0h0.8M115.6 191.9h0.8M130.2 185.9h0.8M122.7 164.3h0.8M107.7 176.5h0.8M127.2 178.0h0.8M109.6 193.9h0.8M108.5 180.0h0.8M121.9 165.3h0.8M130.5 193.7h0.8M123.2 169.6h0.8M109.4 189.2h0.8M122.6 194.0h0.8M115.5 168.9h0.8M119.2 171.2h0.8M107.9 186.4h0.8M116.6 179.8h0.8M113.1 165.8h0.8M110.5 167.6h0.8M116.1 177.2h0.8M119.0 189.5h0.8M119.6 179.4h0.8M110.1 181.7h0.8M112.9 184.8h0.8M119.2 165.8h0.8M119.0 183.2h0.8M105.6 195.1h0.8M108.1 176.1h0.8M119.2 189.6h0.8M125.2 183.3h0.8M129.6 177.7h0.8M120.6 177.4h0.8M106.2 181.9h0.8M126.4 193.5h0.8M130.3 182.2h0.8M110.1 185.4h0.8M118.9 180.7h0.8M107.4 175.0h0.8M126.0 187.8h0.8M105.6 165.6h0.8M126.2 187.3h0.8M118.5 165.0h0.8M105.3 189.4h0.8M120.5 189.8h0.8M123.9 196.2h0.8M112.3 181.9h0.8M125.2 192.4h0.8M113.3 182.3h0.8M119.2 184.5h0.8M120.5 185.6h0.8M122.9 196.8h0.8M106.5 177.6h0.8M114.7 166.9h0.8M121.8 165.3h0.8M110.0 171.2h0.8M130.1 168.3h0.8M130.4 188.2h0.8M114.4 192.3h0.8M122.2 179.6h0.8M107.8 163.5h0.8M123.8 183.7h0.8M113.1 167.6h0.8M106.1 189.3h0.8M108.5 191.9h0.8M107.9 182.4h0.8M107.5 178.0h0.8M131.7 176.2h0.8M145.1 168.9h0.8M133.8 184.2h0.8M143.6 173.3h0.8M144.7 174.7h0.8M135.9 171.7h0.8M134.7 175.8h0.8M136.4 169.3h0.8M136.9 165.8h0.8M139.8 182.1h0.8M143.9 171.5h0.8M136.6 186.2h0.8M139.0 177.8h0.8M144.3 164.9h0.8M133.6 174.2h0.8M137.2 177.1h0.8M141.0 183.3h0.8M134.5 172.4h0.8M130.7 182.6h0.8M135.4 170.4h0.8M131.5 171.5h0.8M140.3 167.9h0.8M135.6 162.6h0.8M133.3 172.5h0.8M133.2 178.4h0.8M140.0 181.0h0.8M133.5 170.8h0.8M136.8 169.7h0.8M139.5 169.1h0.8M142.0 176.3h0.8M141.5 174.6h0.8M137.5 171.4h0.8M138.6 176.4h0.8M138.0 167.1h0.8M141.5 176.6h0.8M137.9 163.1h0.8M137.5 167.0h0.8M136.8 180.1h0.8M140.0 170.9h0.8M137.3 171.8h0.8M135.7 167.5h0.8M140.2 166.7h0.8M136.8 174.7h0.8M135.4 172.5h0.8M145.5 175.1h0.8M137.4 167.0h0.8M131.2 172.0h0.8M137.7 182.1h0.8M130.3 182.0h0.8M135.4 172.6h0.8M142.4 178.3h0.8M139.4 164.6h0.8M136.4 169.4h0.8M143.9 163.4h0.8M144.7 172.5h0.8M132.6 172.4h0.8M144.4 169.7h0.8M143.2 167.3h0.8M132.7 177.7h0.8M140.8 171.5h0.8M139.7 172.6h0.8M139.4 176.0h0.8M135.3 165.0h0.8M131.4 179.1h0.8M138.0 171.9h0.8M139.0 177.6h0.8M139.2 180.1h0.8M141.9 166.1h0.8M140.7 164.8h0.8M138.8 167.3h0.8M135.3 186.9h0.8M131.1 165.0h0.8M139.3 177.0h0.8M138.0 167.6h0.8M142.8 175.2h0.8M132.7 165.8h0.8M139.1 173.9h0.8M138.0 162.8h0.8M130.7 168.1h0.8M138.9 164.8h0.8M137.1 177.1h0.8M143.7 180.4h0.8M136.0 171.1h0.8M144.8 176.4h0.8M141.5 174.7h0.8M138.7 170.6h0.8M140.8 178.9h0.8M138.2 164.7h0.8M144.8 175.8h0.8M133.8 176.8h0.8M143.5 163.1h0.8M138.8 176.3h0.8M139.5 168.4h0.8M133.6 166.1h0.8M132.8 176.9h0.8M137.4 184.3h0.8M135.3 182.3h0.8M130.7 175.8h0.8M144.1 181.5h0.8M134.2 170.1h0.8M143.2 169.5h0.8M141.1 172.0h0.8M143.5 175.4h0.8M139.9 168.4h0.8M140.5 170.2h0.8M137.7 168.8h0.8M139.6 175.3h0.8M135.6 182.1h0.8M139.7 165.7h0.8M134.0 166.3h0.8M141.1 176.4h0.8M136.2 178.6h0.8M143.4 178.8h0.8M133.8 187.5h0.8M130.7 180.9h0.8M135.8 166.3h0.8M144.3 173.5h0.8M137.1 164.8h0.8M131.9 187.6h0.8M135.8 172.0h0.8M138.7 173.9h0.8M139.2 174.9h0.8M139.1 183.2h0.8M136.8 164.8h0.8M146.0 167.2h0.8M134.8 165.8h0.8M132.9 162.9h0.8M136.0 173.2h0.8M137.9 182.9h0.8M135.1 170.6h0.8M133.8 174.0h0.8M131.6 165.6h0.8M135.7 170.8h0.8M139.2 162.9h0.8M143.6 179.0h0.8M139.5 167.5h0.8M144.8 171.5h0.8M141.2 175.8h0.8M142.2 178.0h0.8M134.7 183.5h0.8M144.5 180.8h0.8M138.8 169.2h0.8M135.5 166.1h0.8M135.4 187.1h0.8M132.8 182.4h0.8M136.2 181.6h0.8M132.6 168.5h0.8M134.8 167.3h0.8M138.3 168.8h0.8M137.5 171.6h0.8M142.4 186.9h0.8M130.2 174.0h0.8M137.6 176.1h0.8M137.3 174.5h0.8M135.4 178.6h0.8M133.4 173.5h0.8M145.2 171.1h0.8M140.7 178.0h0.8M139.9 175.9h0.8M132.4 180.6h0.8M137.2 165.0h0.8M137.7 178.0h0.8M143.1 170.4h0.8M131.1 177.9h0.8M138.6 187.5h0.8M135.5 169.3h0.8M136.1 172.5h0.8M145.1 166.7h0.8M139.6 170.7h0.8M130.5 168.8h0.8M136.1 168.8h0.8M137.5 175.4h0.8M139.8 163.5h0.8M144.3 164.1h0.8M138.2 171.2h0.8M135.6 165.9h0.8M137.0 171.2h0.8M138.3 172.3h0.8M131.4 177.4h0.8M133.8 172.9h0.8M145.7 184.2h0.8M131.6 179.5h0.8M143.1 166.0h0.8M139.0 174.6h0.8M137.6 163.4h0.8M137.4 179.5h0.8M142.4 167.4h0.8M141.4 176.3h0.8M139.1 166.3h0.8M141.6 182.9h0.8M137.6 179.4h0.8M130.0 173.5h0.8M142.4 168.4h0.8M144.5 171.3h0.8M142.3 164.4h0.8M141.3 162.8h0.8M142.5 172.3h0.8M134.0 167.4h0.8M138.9 168.7h0.8M133.4 162.5h0.8M132.8 171.4h0.8M134.2 186.6h0.8M144.5 175.5h0.8M137.0 166.6h0.8M134.8 165.9h0.8M133.2 183.1h0.8M139.6 170.2h0.8M135.2 169.4h0.8M145.6 166.3h0.8M138.0 171.0h0.8M137.4 172.8h0.8M139.0 173.5h0.8M135.5 176.4h0.8M140.3 177.0h0.8M133.1 166.2h0.8M145.8 173.1h0.8M136.4 175.8h0.8M135.8 181.6h0.8M132.2 163.1h0.8M133.7 169.8h0.8M138.2 169.3h0.8M133.2 164.6h0.8M138.9 176.3h0.8M136.4 174.3h0.8M135.0 166.3h0.8M134.1 168.2h0.8M140.3 183.5h0.8M135.6 173.2h0.8M137.2 171.0h0.8M136.8 166.6h0.8M132.0 172.2h0.8M138.6 166.7h0.8M134.0 168.6h0.8M141.5 166.5h0.8M132.1 176.0h0.8M144.4 162.9h0.8M144.7 180.3h0.8M139.1 179.2h0.8M140.0 182.0h0.8M138.6 177.8h0.8M144.0 169.2h0.8M131.5 178.9h0.8M146.0 163.3h0.8M140.4 176.5h0.8M134.9 172.5h0.8M140.1 181.9h0.8M140.1 163.3h0.8M139.1 164.7h0.8M139.2 180.8h0.8M140.9 172.6h0.8M133.9 177.2h0.8M143.0 174.1h0.8M136.9 170.7h0.8M137.9 169.8h0.8M130.1 166.9h0.8M137.2 176.8h0.8M140.2 182.8h0.8M134.8 176.5h0.8M134.7 172.6h0.8M143.5 182.9h0.8M134.0 162.8h0.8M134.6 172.7h0.8M141.0 164.0h0.8M133.9 183.0h0.8M137.3 177.2h0.8M132.4 162.8h0.8M139.4 170.3h0.8M132.5 172.2h0.8M143.2 178.4h0.8M141.9 179.1h0.8M144.3 172.2h0.8M139.5 183.6h0.8M137.9 177.1h0.8M142.7 175.7h0.8M132.3 170.6h0.8M133.6 168.0h0.8M141.5 176.8h0.8M142.2 174.7h0.8M145.2 169.9h0.8M141.8 178.3h0.8M131.4 172.9h0.8M142.5 166.0h0.8M142.7 169.3h0.8M143.4 183.9h0.8M141.2 185.7h0.8M130.8 173.8h0.8M130.3 168.7h0.8M140.4 174.1h0.8M141.4 178.5h0.8M137.2 169.0h0.8M142.0 175.1h0.8M137.9 165.1h0.8M135.0 178.2h0.8M138.9 170.8h0.8M133.1 183.9h0.8M141.7 172.3h0.8M144.1 175.8h0.8M132.4 164.9h0.8M132.0 170.1h0.8M133.7 165.6h0.8M134.8 170.3h0.8M141.6 173.7h0.8M138.8 171.2h0.8M141.4 166.7h0.8M144.5 174.2h0.8M140.7 166.6h0.8M133.1 174.5h0.8M140.3 174.4h0.8M143.5 168.2h0.8M137.4 174.2h0.8M135.8 172.9h0.8M135.3 163.9h0.8M134.3 169.9h0.8M138.6 176.0h0.8M137.8 167.9h0.8M133.2 179.4h0.8M133.3 177.2h0.8M142.0 179.0h0.8M138.6 171.7h0.8M140.4 172.1h0.8M138.6 187.6h0.8M138.8 163.2h0.8M145.9 182.6h0.8M131.3 170.9h0.8M134.9 172.2h0.8M139.8 183.3h0.8M132.6 172.5h0.8M140.6 169.1h0.8M132.2 179.3h0.8M130.1 165.6h0.8M140.1 170.3h0.8M134.0 180.9h0.8M138.3 167.6h0.8M138.2 169.2h0.8M133.1 183.5h0.8M137.3 174.4h0.8M142.8 182.3h0.8M136.6 184.1h0.8M141.4 168.5h0.8M140.9 174.8h0.8M137.4 171.7h0.8M140.6 184.5h0.8M131.4 170.9h0.8M138.4 166.8h0.8M141.9 173.1h0.8M130.9 175.3h0.8M138.4 162.8h0.8M135.5 167.7h0.8M137.5 169.3h0.8M133.4 182.9h0.8M139.2 172.4h0.8M136.5 179.9h0.8M141.2 172.7h0.8M137.2 183.0h0.8M132.7 182.6h0.8M142.4 178.4h0.8M137.1 171.3h0.8M131.9 174.1h0.8M144.5 173.7h0.8M141.4 163.8h0.8M143.2 174.8h0.8M142.2 184.8h0.8M142.7 177.1h0.8M132.6 177.6h0.8M139.4 173.4h0.8M140.3 172.2h0.8M134.7 162.9h0.8M136.6 163.3h0.8M130.8 178.2h0.8M139.5 174.2h0.8M142.0 172.0h0.8M144.4 175.3h0.8M135.5 174.8h0.8M144.8 184.2h0.8M138.5 167.1h0.8M136.3 163.1h0.8M137.5 164.0h0.8M135.1 179.1h0.8M136.2 177.1h0.8M140.6 170.0h0.8M133.8 169.5h0.8M134.9 176.7h0.8M136.1 171.8h0.8M136.7 166.8h0.8M140.9 170.3h0.8M135.4 180.1h0.8M136.1 165.7h0.8M142.3 167.7h0.8M139.5 170.1h0.8M132.5 180.3h0.8M133.6 166.8h0.8M136.0 175.2h0.8M138.8 176.9h0.8M140.1 178.1h0.8M142.7 169.0h0.8M138.2 168.8h0.8M134.1 179.8h0.8M142.2 166.3h0.8M139.2 187.2h0.8M134.2 185.5h0.8M140.4 171.7h0.8M142.5 164.2h0.8M131.4 171.7h0.8M137.4 187.0h0.8M133.7 162.8h0.8M132.3 169.2h0.8M136.1 179.9h0.8M134.6 163.4h0.8M131.0 166.1h0.8M131.0 172.6h0.8M140.6 177.2h0.8M134.7 174.1h0.8M137.0 173.7h0.8M138.8 177.3h0.8M138.4 176.4h0.8M134.0 180.9h0.8M135.7 173.9h0.8M131.8 168.2h0.8M136.3 182.4h0.8M134.6 179.9h0.8M136.5 169.9h0.8M135.2 176.6h0.8M134.2 179.9h0.8M137.3 179.3h0.8M144.9 168.6h0.8M144.9 169.5h0.8M132.1 172.3h0.8M138.6 163.4h0.8M136.0 179.7h0.8M132.4 174.1h0.8M135.3 184.9h0.8M139.5 177.1h0.8M132.3 178.2h0.8M136.4 166.1h0.8M139.7 169.0h0.8M138.7 177.9h0.8M135.8 166.4h0.8M135.1 165.2h0.8M137.3 165.4h0.8M143.3 184.2h0.8M143.7 171.3h0.8M130.4 175.9h0.8M140.9 173.4h0.8M131.7 167.0h0.8M145.0 170.0h0.8M142.2 176.0h0.8M133.0 175.6h0.8M133.7 179.2h0.8M135.9 168.8h0.8M133.7 165.4h0.8M140.0 174.5h0.8M135.6 167.4h0.8M137.3 183.1h0.8M143.6 166.1h0.8M142.7 169.3h0.8M135.4 166.7h0.8M136.0 164.0h0.8M138.5 165.4h0.8M135.6 176.4h0.8M137.0 175.2h0.8M134.0 175.1h0.8M144.1 168.1h0.8M137.1 169.4h0.8M135.6 176.8h0.8M142.8 182.9h0.8M138.0 167.4h0.8M135.9 183.9h0.8M143.3 175.3h0.8M141.6 173.9h0.8M135.2 183.4h0.8M142.9 172.8h0.8M142.9 174.3h0.8M130.6 167.0h0.8M137.5 167.2h0.8M138.2 165.9h0.8M132.4 168.0h0.8M134.8 164.6h0.8M141.6 187.0h0.8M143.2 174.9h0.8M139.1 175.5h0.8M145.0 177.1h0.8M141.7 178.1h0.8M136.8 165.2h0.8M138.6 169.4h0.8M144.0 181.7h0.8M136.9 166.5h0.8M135.0 164.8h0.8M136.8 162.8h0.8M135.6 173.1h0.8M139.7 173.5h0.8M131.3 171.0h0.8M139.3 167.6h0.8M135.6 180.2h0.8M144.5 175.5h0.8M137.8 179.6h0.8M132.1 181.3h0.8M140.0 163.1h0.8M142.6 164.9h0.8M142.9 171.7h0.8M135.1 170.0h0.8M137.5 174.6h0.8M140.2 175.1h0.8M133.2 182.3h0.8M141.2 174.3h0.8M138.2 171.7h0.8M139.9 181.5h0.8M139.2 165.5h0.8M137.5 173.6h0.8M130.8 173.5h0.8M130.2 167.9h0.8M136.6 167.5h0.8M139.1 167.1h0.8M137.9 173.4h0.8M141.8 166.0h0.8M144.6 181.2h0.8M133.0 180.9h0.8M141.1 180.2h0.8M138.2 176.3h0.8M139.7 175.0h0.8M144.8 167.1h0.8M135.6 165.7h0.8M120.5 147.3h0.8M116.0 140.6h0.8M128.3 176.4h0.8M122.7 162.8h0.8M154.9 174.3h0.8M113.0 154.0h0.8M134.4 141.5h0.8M137.8 147.2h0.8M159.9 149.6h0.8M125.5 161.6h0.8M140.1 164.5h0.8M109.2 188.9h0.8M146.0 154.7h0.8M131.6 180.5h0.8M118.1 189.9h0.8M120.9 152.0h0.8M160.3 158.8h0.8M110.3 188.4h0.8M163.8 174.6h0.8M149.7 144.8h0.8M117.5 149.4h0.8M153.1 174.7h0.8M108.8 160.6h0.8M123.5 154.4h0.8M138.8 153.3h0.8M113.5 172.3h0.8M159.8 149.1h0.8M105.9 145.3h0.8M123.8 171.6h0.8M136.9 177.9h0.8M158.9 196.2h0.8M110.0 180.8h0.8M153.2 189.8h0.8M163.2 150.1h0.8M121.6 151.5h0.8M152.7 150.4h0.8M110.8 196.0h0.8M124.0 164.6h0.8M107.1 173.1h0.8M113.6 170.7h0.8M118.6 163.2h0.8M123.5 173.6h0.8M130.7 190.9h0.8M139.1 170.2h0.8M135.8 192.1h0.8M138.4 196.8h0.8M132.5 178.1h0.8M133.4 172.1h0.8M143.2 164.3h0.8M130.8 179.6h0.8M133.2 178.6h0.8M138.6 164.0h0.8M132.9 185.6h0.8M154.6 170.6h0.8M156.8 166.8h0.8M130.6 192.5h0.8M152.6 170.7h0.8M157.1 172.4h0.8M158.4 192.2h0.8M152.7 180.7h0.8M141.6 185.0h0.8M159.1 193.8h0.8M135.3 187.2h0.8M138.5 169.3h0.8M154.3 169.5h0.8M152.2 166.0h0.8M136.6 187.2h0.8M146.9 178.0h0.8M136.4 190.8h0.8" stroke="#000" stroke-width="0.8" stroke-opacity="0.36" fill="none" filter="url(#bd)"/>
</g>
<rect x="104.50" y="132.50" width="65.50" height="65.50" fill="none" stroke="#666" stroke-width="1"/>
<rect x="112.00" y="147.00" width="32.50" height="16.00" fill="none" stroke="#555" stroke-width="0.9"/>
<rect x="104.50" y="163.00" width="26.00" height="35.00" fill="none" stroke="#555" stroke-width="0.9"/>
<rect x="130.50" y="163.00" width="14.00" height="24.50" fill="none" stroke="#555" stroke-width="0.9"/>
<text x="122" y="146" text-anchor="start" fill="#000" style="font-size:6.7px;font-weight:bold;" stroke="#000" stroke-width="0.30">38.9%</text>
<text x="144.8" y="174.3" text-anchor="start" fill="#000" style="font-size:6.7px;font-weight:bold;" stroke="#000" stroke-width="0.30">16.0%</text>
<text x="132.5" y="195.5" text-anchor="start" fill="#000" style="font-size:6.7px;font-weight:bold;" stroke="#000" stroke-width="0.30">28.3%</text>
<line x1="102.5" y1="138" x2="104.5" y2="138" stroke="#333" stroke-width="0.7"/>
<text x="97.5" y="139.0" fill="#333" style="font-size:2.8px">10<tspan dy="-1.2" style="font-size:2.2px">5</tspan></text>
<line x1="102.5" y1="152.5" x2="104.5" y2="152.5" stroke="#333" stroke-width="0.7"/>
<text x="97.5" y="153.5" fill="#333" style="font-size:2.8px">10<tspan dy="-1.2" style="font-size:2.2px">4</tspan></text>
<line x1="102.5" y1="168.5" x2="104.5" y2="168.5" stroke="#333" stroke-width="0.7"/>
<text x="97.5" y="169.5" fill="#333" style="font-size:2.8px">10<tspan dy="-1.2" style="font-size:2.2px">3</tspan></text>
<line x1="102.5" y1="184.5" x2="104.5" y2="184.5" stroke="#333" stroke-width="0.7"/>
<text x="97.5" y="185.5" fill="#333" style="font-size:2.8px">10<tspan dy="-1.2" style="font-size:2.2px">2</tspan></text>
<line x1="102.5" y1="192.5" x2="104.5" y2="192.5" stroke="#333" stroke-width="0.7"/>
<text x="98.5" y="193.5" fill="#333" style="font-size:2.8px">0</text>
<line x1="108.8" y1="198" x2="108.8" y2="200" stroke="#333" stroke-width="0.7"/>
<text x="107.8" y="204.0" fill="#333" style="font-size:2.8px">0</text>
<line x1="118.8" y1="198" x2="118.8" y2="200" stroke="#333" stroke-width="0.7"/>
<text x="116.8" y="204.0" fill="#333" style="font-size:2.8px">10<tspan dy="-1.2" style="font-size:2.2px">2</tspan></text>
<line x1="134.5" y1="198" x2="134.5" y2="200" stroke="#333" stroke-width="0.7"/>
<text x="132.5" y="204.0" fill="#333" style="font-size:2.8px">10<tspan dy="-1.2" style="font-size:2.2px">3</tspan></text>
<line x1="150.5" y1="198" x2="150.5" y2="200" stroke="#333" stroke-width="0.7"/>
<text x="148.5" y="204.0" fill="#333" style="font-size:2.8px">10<tspan dy="-1.2" style="font-size:2.2px">4</tspan></text>
<line x1="165.5" y1="198" x2="165.5" y2="200" stroke="#333" stroke-width="0.7"/>
<text x="163.5" y="204.0" fill="#333" style="font-size:2.8px">10<tspan dy="-1.2" style="font-size:2.2px">5</tspan></text>
<clipPath id="c186d"><rect x="186.5" y="132.5" width="65.5" height="65.5"/></clipPath>
<g clip-path="url(#c186d)">
<rect x="183.5" y="164" width="32.0" height="39" fill="#000" opacity="0.10" filter="url(#b2)"/>
<ellipse cx="209.5" cy="180" rx="6" ry="17" fill="#000" opacity="0.14" filter="url(#b3)"/>
<rect x="215.5" y="163" width="13.0" height="20.5" fill="#000" opacity="0.13" filter="url(#b2)"/>
<ellipse cx="216.0" cy="156.5" rx="13" ry="4.5" fill="#000" opacity="0.50" filter="url(#b2)"/>
<ellipse cx="195.5" cy="156.5" rx="10" ry="3" fill="#000" opacity="0.30" filter="url(#b3)"/>
<path d="M221.6 152.3h0.8M219.8 155.1h0.8M214.6 155.2h0.8M219.1 157.5h0.8M195.2 159.1h0.8M206.6 154.9h0.8M210.2 163.9h0.8M225.8 153.1h0.8M221.5 156.2h0.8M211.4 157.8h0.8M219.2 152.9h0.8M212.4 156.0h0.8M212.7 159.4h0.8M215.6 155.9h0.8M214.1 161.0h0.8M221.6 154.6h0.8M217.8 159.7h0.8M210.9 156.5h0.8M206.6 156.4h0.8M215.6 153.7h0.8M230.7 155.8h0.8M217.2 161.0h0.8M216.2 151.8h0.8M221.5 154.8h0.8M212.0 157.6h0.8M223.2 159.7h0.8M230.1 158.5h0.8M208.7 160.2h0.8M226.7 155.9h0.8M227.5 151.9h0.8M223.3 153.6h0.8M201.5 155.1h0.8M210.3 155.1h0.8M224.1 153.3h0.8M209.9 152.4h0.8M213.7 152.8h0.8M214.4 157.6h0.8M208.3 158.9h0.8M217.1 156.1h0.8M207.4 163.1h0.8M211.3 150.1h0.8M220.0 158.9h0.8M197.5 156.9h0.8M207.0 154.0h0.8M226.0 155.4h0.8M225.3 153.4h0.8M201.6 155.7h0.8M208.7 155.3h0.8M208.1 153.1h0.8M211.4 157.9h0.8M214.1 158.7h0.8M206.1 155.1h0.8M203.0 154.9h0.8M231.7 156.4h0.8M219.1 154.1h0.8M218.1 151.8h0.8M236.5 149.2h0.8M222.9 154.9h0.8M217.0 155.4h0.8M225.4 155.2h0.8M219.4 154.7h0.8M231.6 155.4h0.8M217.2 157.7h0.8M228.2 154.4h0.8M211.8 152.1h0.8M214.9 157.1h0.8M235.4 152.6h0.8M216.2 153.2h0.8M216.3 155.5h0.8M222.4 156.2h0.8M197.6 159.3h0.8M214.0 157.6h0.8M221.1 154.7h0.8M225.4 154.3h0.8M207.4 153.6h0.8M209.3 157.9h0.8M222.5 154.2h0.8M219.7 158.0h0.8M223.1 155.5h0.8M210.9 157.2h0.8M223.7 155.6h0.8M232.6 155.8h0.8M227.3 153.8h0.8M211.9 159.4h0.8M209.4 155.2h0.8M223.3 152.7h0.8M218.2 156.1h0.8M225.2 150.9h0.8M213.0 153.7h0.8M201.3 155.2h0.8M218.6 160.0h0.8M212.4 156.6h0.8M208.1 162.8h0.8M235.0 152.9h0.8M203.0 154.3h0.8M218.1 155.0h0.8M206.4 153.8h0.8M208.3 155.2h0.8M226.8 157.3h0.8M233.0 157.0h0.8M228.6 162.8h0.8M219.3 154.6h0.8M202.2 152.0h0.8M223.7 156.4h0.8M215.2 162.9h0.8M222.9 153.4h0.8M218.9 160.4h0.8M203.1 153.5h0.8M218.5 153.4h0.8M221.5 159.8h0.8M217.6 157.6h0.8M214.3 155.8h0.8M244.2 153.2h0.8M218.6 154.8h0.8M214.4 158.7h0.8M216.4 160.3h0.8M211.5 156.6h0.8M229.2 153.5h0.8M207.8 154.1h0.8M216.4 160.1h0.8M213.6 158.5h0.8M211.7 156.3h0.8M203.2 151.3h0.8M221.0 154.1h0.8M222.6 155.2h0.8M212.4 157.3h0.8M218.6 153.0h0.8M203.8 153.2h0.8M215.7 158.0h0.8M220.2 155.6h0.8M202.4 161.0h0.8M206.2 157.8h0.8M222.6 153.9h0.8M203.9 159.4h0.8M219.3 154.6h0.8M202.3 161.2h0.8M203.1 155.0h0.8M207.7 155.3h0.8M211.4 153.1h0.8M225.3 155.8h0.8M207.2 154.0h0.8M228.8 156.1h0.8M222.0 156.7h0.8M225.4 154.7h0.8M216.6 153.6h0.8M199.0 158.5h0.8M219.9 157.1h0.8M220.5 154.6h0.8M211.3 153.5h0.8M224.3 152.6h0.8M202.4 157.7h0.8M222.3 158.7h0.8M210.4 156.1h0.8M230.1 150.7h0.8M221.6 156.8h0.8M217.3 151.4h0.8M218.3 157.9h0.8M232.9 158.4h0.8M210.4 155.7h0.8M200.2 155.4h0.8M214.9 156.7h0.8M220.7 160.3h0.8M216.6 157.0h0.8M205.3 157.5h0.8M214.0 153.5h0.8M199.5 149.5h0.8M213.7 152.6h0.8M219.1 156.8h0.8M212.3 160.5h0.8M205.5 155.9h0.8M202.8 157.7h0.8M199.6 157.5h0.8M203.8 159.1h0.8M215.0 160.2h0.8M206.1 159.0h0.8M225.6 155.3h0.8M210.4 153.7h0.8M221.2 155.8h0.8M216.4 151.6h0.8M219.9 152.8h0.8M215.2 154.6h0.8M212.9 153.9h0.8M209.9 155.3h0.8M215.8 160.2h0.8M220.4 156.9h0.8M205.7 155.7h0.8M207.3 154.9h0.8M227.8 156.0h0.8M223.5 156.1h0.8M208.8 149.7h0.8M207.8 160.6h0.8M235.1 157.6h0.8M213.4 155.6h0.8M219.0 153.7h0.8M232.6 161.3h0.8M204.8 158.6h0.8M210.2 159.6h0.8M219.2 157.8h0.8M218.7 152.8h0.8M215.4 150.9h0.8M209.3 152.7h0.8M219.2 158.2h0.8M225.5 154.1h0.8M210.8 152.3h0.8M208.0 156.6h0.8M218.9 154.5h0.8M226.5 160.2h0.8M216.3 151.1h0.8M209.3 161.4h0.8M216.4 152.3h0.8M234.0 154.9h0.8M211.7 154.1h0.8M216.5 154.6h0.8M219.2 155.5h0.8M219.9 159.1h0.8M229.3 152.9h0.8M225.3 154.8h0.8M228.4 154.9h0.8M242.4 158.1h0.8M225.7 159.3h0.8M212.1 156.4h0.8M211.5 156.6h0.8M231.5 154.4h0.8M193.8 155.8h0.8M208.9 155.4h0.8M190.4 153.9h0.8M224.1 160.5h0.8M228.8 157.1h0.8M223.9 157.5h0.8M217.6 156.4h0.8M200.1 156.2h0.8M226.3 159.8h0.8M210.4 147.2h0.8M220.9 159.7h0.8M220.3 159.3h0.8M220.1 157.4h0.8M210.3 155.2h0.8M218.9 157.5h0.8M212.7 161.7h0.8M219.2 152.1h0.8M224.7 163.2h0.8M208.7 156.7h0.8M218.8 156.2h0.8M217.8 160.3h0.8M214.4 159.7h0.8M218.0 158.7h0.8M225.7 153.6h0.8M227.4 149.4h0.8M218.4 159.7h0.8M222.9 156.4h0.8M219.3 163.4h0.8M216.0 152.3h0.8M221.5 157.7h0.8M213.0 159.5h0.8M216.5 155.3h0.8M215.0 154.7h0.8M218.7 153.6h0.8M207.2 155.5h0.8M235.2 149.7h0.8M206.5 155.4h0.8M208.7 157.6h0.8M214.9 157.3h0.8M217.2 156.0h0.8M209.3 161.8h0.8M216.7 152.9h0.8M225.9 160.0h0.8M220.4 154.5h0.8M210.9 157.1h0.8M226.6 162.7h0.8M214.1 156.2h0.8M216.6 159.1h0.8M210.6 158.3h0.8M207.4 159.3h0.8M234.9 152.0h0.8M197.8 152.9h0.8M206.4 157.4h0.8M221.1 154.2h0.8M205.6 156.0h0.8M209.6 153.7h0.8M217.3 152.2h0.8M219.0 151.3h0.8M213.4 156.9h0.8M202.6 160.7h0.8M214.4 150.3h0.8M210.5 153.1h0.8M210.8 152.6h0.8M218.4 154.8h0.8M199.7 152.5h0.8M209.1 158.2h0.8M199.7 151.8h0.8M222.4 155.8h0.8M210.2 150.1h0.8M214.3 154.4h0.8M198.8 155.8h0.8M213.9 152.2h0.8M208.9 152.3h0.8M234.8 153.3h0.8M230.5 159.7h0.8M230.5 158.9h0.8M206.3 155.0h0.8M209.3 154.7h0.8M223.8 158.8h0.8M222.2 157.1h0.8M236.4 157.3h0.8M218.6 157.1h0.8M219.9 156.0h0.8M220.2 153.0h0.8M216.5 153.5h0.8M220.8 154.9h0.8M216.1 158.4h0.8M218.1 160.9h0.8M214.2 157.5h0.8M220.7 154.3h0.8M218.5 155.9h0.8M223.4 153.1h0.8M208.8 157.0h0.8M216.8 151.8h0.8M220.4 156.5h0.8M217.1 155.2h0.8M210.8 158.1h0.8M211.3 158.3h0.8M210.7 157.1h0.8M205.1 158.6h0.8M209.6 156.8h0.8M218.2 156.5h0.8M211.8 151.6h0.8M207.5 152.0h0.8M198.3 157.7h0.8M211.5 157.4h0.8M217.3 154.5h0.8M209.3 157.5h0.8M217.6 157.3h0.8M224.2 155.1h0.8M217.7 155.7h0.8M218.5 156.5h0.8M198.3 155.8h0.8M224.1 160.3h0.8M208.5 154.9h0.8M209.5 156.1h0.8M205.4 157.2h0.8M216.5 158.4h0.8M227.6 157.1h0.8M203.6 157.8h0.8M207.3 157.3h0.8M208.5 152.9h0.8M220.5 154.6h0.8M212.1 156.1h0.8M220.2 154.2h0.8M217.9 155.3h0.8M227.5 161.0h0.8M212.7 153.7h0.8M203.7 161.5h0.8M230.3 158.3h0.8M209.1 155.1h0.8M218.8 161.9h0.8M197.5 157.5h0.8M219.4 159.6h0.8M222.4 155.5h0.8M217.0 155.0h0.8M213.4 153.5h0.8M214.8 159.1h0.8M231.0 158.2h0.8M209.1 155.9h0.8M213.9 154.8h0.8M219.3 150.7h0.8M213.3 154.7h0.8M230.2 158.8h0.8M215.2 154.0h0.8M204.5 155.7h0.8M221.6 159.9h0.8M205.3 155.9h0.8M220.2 157.6h0.8M203.2 157.6h0.8M215.6 156.3h0.8M213.4 159.1h0.8M224.1 158.5h0.8M206.5 157.4h0.8M212.7 158.1h0.8M224.7 155.2h0.8M204.7 156.5h0.8M218.7 152.9h0.8M215.8 154.9h0.8M224.1 153.9h0.8M210.8 153.3h0.8M218.3 158.2h0.8M216.9 158.7h0.8M211.6 153.1h0.8M208.8 156.4h0.8M233.3 157.8h0.8M218.9 156.9h0.8M195.5 159.5h0.8M222.2 155.2h0.8M228.5 156.8h0.8M225.1 153.1h0.8M214.5 155.0h0.8M220.3 151.5h0.8M212.9 158.4h0.8M224.6 155.9h0.8M221.6 158.5h0.8M224.6 156.8h0.8M207.8 157.8h0.8M209.9 154.6h0.8M200.0 158.8h0.8M208.6 155.0h0.8M213.0 154.3h0.8M215.7 156.7h0.8M221.9 155.3h0.8M223.4 158.8h0.8M207.0 155.7h0.8M209.6 153.7h0.8M198.1 157.8h0.8M203.1 159.8h0.8M219.9 154.9h0.8M215.4 149.5h0.8M215.7 156.9h0.8M223.5 155.5h0.8M205.2 153.6h0.8M211.6 154.9h0.8M207.5 153.8h0.8M205.6 154.2h0.8M219.8 155.8h0.8M213.4 157.3h0.8M228.1 159.0h0.8M211.6 157.6h0.8M223.4 157.6h0.8M237.5 155.2h0.8M212.8 157.4h0.8M210.8 154.1h0.8M210.0 157.7h0.8M214.8 155.7h0.8M220.9 153.2h0.8M232.5 155.4h0.8M205.2 154.7h0.8M214.6 156.7h0.8M212.7 150.0h0.8M199.7 158.4h0.8M229.7 162.2h0.8M220.7 153.8h0.8M228.3 154.5h0.8M237.1 153.3h0.8M210.8 157.4h0.8M212.5 157.4h0.8M218.1 155.4h0.8M209.9 149.1h0.8M218.6 156.9h0.8M208.4 155.6h0.8M229.0 153.3h0.8M210.6 151.7h0.8M218.2 151.6h0.8M210.2 153.3h0.8M216.1 158.6h0.8M211.6 151.2h0.8M224.6 155.4h0.8M211.9 153.4h0.8M218.9 158.2h0.8M203.3 158.1h0.8M209.5 155.9h0.8M196.6 161.7h0.8M210.7 153.2h0.8M192.7 156.1h0.8M221.0 156.5h0.8M206.2 154.1h0.8M206.2 163.2h0.8M209.1 156.8h0.8M207.1 158.2h0.8M216.2 156.1h0.8M218.2 157.1h0.8M213.9 158.5h0.8M223.8 154.6h0.8M212.7 159.8h0.8M201.6 160.3h0.8M222.8 159.5h0.8M204.7 158.0h0.8M216.2 152.6h0.8M192.5 158.1h0.8M221.7 153.2h0.8M198.0 158.0h0.8M231.9 153.4h0.8M207.8 152.6h0.8M217.0 152.1h0.8M238.3 157.4h0.8M218.5 150.9h0.8M223.1 159.1h0.8M224.3 154.8h0.8M207.9 152.3h0.8M224.6 156.7h0.8M225.7 159.8h0.8M212.2 159.7h0.8M216.0 161.1h0.8M225.3 152.8h0.8M220.8 157.5h0.8M217.4 152.5h0.8M227.8 158.2h0.8M228.5 156.6h0.8M209.2 153.3h0.8M219.4 157.7h0.8M213.1 156.3h0.8M211.3 158.2h0.8M223.5 157.2h0.8M210.8 156.8h0.8M219.4 154.7h0.8M226.0 155.2h0.8M215.4 154.3h0.8M229.4 161.9h0.8M219.9 156.4h0.8M203.7 151.6h0.8M209.6 155.6h0.8M213.4 152.8h0.8M216.3 156.8h0.8M224.4 153.9h0.8M203.5 155.7h0.8M200.1 150.9h0.8M214.5 155.6h0.8M211.9 157.3h0.8M218.4 155.1h0.8M210.1 158.6h0.8M220.2 160.1h0.8M221.5 157.6h0.8M218.5 153.1h0.8M216.8 156.8h0.8M222.6 156.8h0.8M221.6 157.7h0.8M218.6 155.8h0.8M213.5 158.5h0.8M227.1 152.5h0.8M225.9 159.6h0.8M219.2 153.0h0.8M229.9 159.3h0.8M216.1 158.5h0.8M212.8 156.2h0.8M214.1 158.2h0.8M220.2 156.7h0.8M224.8 154.8h0.8M213.7 151.4h0.8M217.3 157.7h0.8M207.6 158.2h0.8M215.7 158.0h0.8M218.7 152.9h0.8M211.5 156.1h0.8M226.3 154.2h0.8M229.7 151.7h0.8M214.4 154.1h0.8M218.3 156.3h0.8M219.8 157.9h0.8M217.5 153.5h0.8M221.7 156.7h0.8M195.2 154.9h0.8M217.9 156.7h0.8M199.5 157.6h0.8M217.4 153.3h0.8M204.5 153.8h0.8M225.9 162.3h0.8M221.4 154.4h0.8M202.4 152.4h0.8M221.5 154.5h0.8M215.3 157.8h0.8M223.3 153.9h0.8M224.2 158.2h0.8M207.9 155.7h0.8M206.3 158.6h0.8M207.0 154.8h0.8M213.5 159.7h0.8M220.0 155.8h0.8M219.9 157.4h0.8M212.8 158.1h0.8M210.6 154.2h0.8M214.8 157.0h0.8M211.4 153.5h0.8M204.8 157.2h0.8M213.1 159.6h0.8M213.9 157.9h0.8M226.2 157.5h0.8M221.3 155.0h0.8M217.5 162.0h0.8M217.9 151.4h0.8M221.4 152.1h0.8M233.5 161.3h0.8M234.4 150.5h0.8M234.1 158.9h0.8M206.9 160.3h0.8M202.9 158.1h0.8M225.8 160.5h0.8M216.2 156.8h0.8M218.7 157.5h0.8M215.4 158.4h0.8M224.8 158.5h0.8M210.9 160.4h0.8M209.5 154.2h0.8M220.7 152.3h0.8M217.9 160.7h0.8M219.5 152.7h0.8M218.3 156.2h0.8M210.8 155.0h0.8M224.9 158.7h0.8M216.2 157.1h0.8M214.8 158.0h0.8M210.6 160.7h0.8M223.8 157.8h0.8M206.9 158.3h0.8M218.8 150.8h0.8M209.8 155.8h0.8M204.9 154.8h0.8M227.0 161.2h0.8M223.4 154.1h0.8M207.2 156.1h0.8M216.5 153.0h0.8M216.3 156.9h0.8M213.5 155.2h0.8M227.3 155.8h0.8M218.2 152.1h0.8M220.6 151.9h0.8M217.8 151.1h0.8M218.1 155.3h0.8M215.6 152.9h0.8M221.8 153.8h0.8M204.3 159.1h0.8M220.1 161.0h0.8M209.7 153.8h0.8M217.9 160.9h0.8M226.8 157.8h0.8M222.0 154.8h0.8M212.4 156.7h0.8M212.2 155.5h0.8M213.4 154.8h0.8M206.6 154.7h0.8M204.1 158.5h0.8M191.2 155.0h0.8M211.7 153.1h0.8M220.3 154.9h0.8M233.3 151.8h0.8M228.6 157.6h0.8M219.6 155.2h0.8M200.7 154.9h0.8M216.4 152.9h0.8M225.2 153.0h0.8M207.5 155.0h0.8M218.5 153.8h0.8M214.9 160.9h0.8M221.4 157.0h0.8M207.8 159.6h0.8M216.0 159.4h0.8M213.0 153.3h0.8M226.2 153.4h0.8M215.8 158.6h0.8M220.0 151.7h0.8M218.7 161.4h0.8M224.3 153.5h0.8M231.0 157.2h0.8M205.3 161.1h0.8M209.8 159.1h0.8M224.4 158.2h0.8M216.5 158.9h0.8M206.7 156.4h0.8M199.4 158.3h0.8M206.2 160.9h0.8M206.1 153.6h0.8M211.8 159.8h0.8M220.6 157.5h0.8M228.4 152.3h0.8M223.7 156.7h0.8M201.1 153.7h0.8M224.1 152.8h0.8M217.8 155.1h0.8M207.5 153.5h0.8M203.4 155.0h0.8M239.7 152.7h0.8M210.5 156.0h0.8M218.0 156.0h0.8M204.4 153.3h0.8M209.2 154.1h0.8M212.0 157.3h0.8M215.8 158.4h0.8M210.4 159.8h0.8M212.4 156.3h0.8M215.7 158.9h0.8M198.7 154.1h0.8M210.9 158.1h0.8M219.7 156.8h0.8M230.0 157.7h0.8M227.1 156.5h0.8M221.9 153.3h0.8M225.4 153.5h0.8M224.1 158.0h0.8M206.7 156.4h0.8M215.4 155.2h0.8M209.3 159.1h0.8M207.3 156.4h0.8M216.1 152.2h0.8M220.4 156.0h0.8M211.7 155.0h0.8M209.5 154.4h0.8M204.1 158.8h0.8M223.1 155.0h0.8M204.0 150.7h0.8M204.7 161.8h0.8M207.1 154.5h0.8M212.1 150.5h0.8M210.6 155.5h0.8M219.7 156.0h0.8M220.2 155.4h0.8M206.2 157.3h0.8M217.7 156.2h0.8M203.0 160.5h0.8M219.9 158.5h0.8M215.3 151.6h0.8M205.6 159.3h0.8M237.1 149.4h0.8M227.4 157.6h0.8M217.0 156.3h0.8M223.6 157.8h0.8M225.2 155.0h0.8M217.1 155.6h0.8M207.1 155.4h0.8M210.0 157.8h0.8M215.9 161.8h0.8M217.9 154.6h0.8M227.0 156.3h0.8M211.6 155.1h0.8M225.1 154.4h0.8M214.4 158.5h0.8M232.8 161.3h0.8M217.0 159.6h0.8M217.6 154.2h0.8M212.9 156.3h0.8M220.3 155.4h0.8M214.0 157.2h0.8M217.9 162.1h0.8M223.1 157.6h0.8M230.9 155.3h0.8M230.6 159.4h0.8M232.8 159.7h0.8M213.0 161.1h0.8M221.0 157.9h0.8M212.6 157.3h0.8M191.8 151.3h0.8M223.1 155.9h0.8M210.3 158.1h0.8M225.2 158.9h0.8M207.8 159.5h0.8M218.2 157.2h0.8M226.6 158.9h0.8M225.1 157.3h0.8M208.2 155.5h0.8M224.0 152.5h0.8M212.0 154.3h0.8M208.0 155.9h0.8M215.4 153.1h0.8M219.0 153.5h0.8M226.3 157.3h0.8M207.5 157.0h0.8M206.7 153.1h0.8M194.4 158.7h0.8M201.1 155.6h0.8M205.2 158.3h0.8M187.7 160.4h0.8M197.7 152.7h0.8M196.7 158.0h0.8M205.7 153.6h0.8M199.3 158.0h0.8M191.6 153.0h0.8M191.8 157.1h0.8M195.0 158.2h0.8M192.0 155.8h0.8M193.3 155.2h0.8M193.8 155.5h0.8M198.3 159.6h0.8M191.1 156.0h0.8M191.2 157.2h0.8M192.5 160.6h0.8M201.6 159.0h0.8M196.8 157.0h0.8M210.2 157.5h0.8M211.1 158.3h0.8M199.6 155.9h0.8M194.8 148.6h0.8M206.4 157.0h0.8M192.4 157.3h0.8M188.4 159.2h0.8M208.0 156.2h0.8M210.1 157.9h0.8M202.4 156.2h0.8M198.5 155.7h0.8M202.3 154.0h0.8M196.4 159.8h0.8M200.1 150.2h0.8M190.7 157.3h0.8M205.6 156.7h0.8M204.2 159.9h0.8M187.7 156.5h0.8M204.5 156.0h0.8M202.0 160.4h0.8M193.6 157.7h0.8M192.2 160.6h0.8M209.0 150.9h0.8M199.1 152.3h0.8M222.3 155.0h0.8M194.2 158.3h0.8M199.0 157.8h0.8M207.0 157.4h0.8M187.9 156.0h0.8M194.9 154.7h0.8M193.3 156.0h0.8M200.6 154.1h0.8M201.4 156.0h0.8M192.3 155.4h0.8M205.3 156.7h0.8M192.8 154.9h0.8M198.8 154.6h0.8M193.9 158.7h0.8M205.9 153.2h0.8M199.2 160.4h0.8M204.4 155.1h0.8M198.7 156.0h0.8M191.7 159.6h0.8M202.6 157.5h0.8M204.6 159.6h0.8M199.3 157.6h0.8M200.4 152.4h0.8M195.4 156.8h0.8M198.5 157.3h0.8M195.7 159.3h0.8M202.9 156.1h0.8M208.4 158.8h0.8M204.4 156.6h0.8M196.3 158.0h0.8M196.1 151.6h0.8M187.8 154.0h0.8M203.5 160.0h0.8M194.2 156.4h0.8M188.1 154.1h0.8M200.1 154.4h0.8M199.6 156.8h0.8M203.7 157.0h0.8M205.8 155.9h0.8M193.8 154.9h0.8M198.5 157.6h0.8M192.8 158.1h0.8M202.6 157.4h0.8M188.5 158.0h0.8M187.6 154.2h0.8M196.9 158.0h0.8M198.0 156.9h0.8M201.6 159.4h0.8M192.8 158.1h0.8M199.2 157.0h0.8M209.6 153.8h0.8M201.2 160.3h0.8M214.8 158.1h0.8M197.3 155.8h0.8M207.0 157.1h0.8M193.5 157.1h0.8M198.5 157.5h0.8M209.8 158.9h0.8M209.1 156.5h0.8M204.3 153.7h0.8M192.9 157.2h0.8M191.8 156.1h0.8M195.0 156.2h0.8M203.8 152.6h0.8M215.0 154.7h0.8M200.6 159.9h0.8M189.6 161.0h0.8M191.5 158.8h0.8M199.2 157.7h0.8M223.5 152.9h0.8M207.5 161.8h0.8M197.0 155.8h0.8M202.4 152.1h0.8M201.3 155.9h0.8M197.5 154.4h0.8M189.4 152.5h0.8M187.4 156.4h0.8M190.7 161.8h0.8M189.9 155.6h0.8M199.8 156.6h0.8M207.3 159.1h0.8M198.9 154.4h0.8M191.1 160.0h0.8M197.4 163.2h0.8M209.7 153.1h0.8M197.1 154.8h0.8M199.3 158.9h0.8M192.0 158.3h0.8M189.6 157.5h0.8M201.4 155.5h0.8M200.9 160.8h0.8M195.6 154.2h0.8M199.5 155.4h0.8M196.1 160.2h0.8M196.4 154.4h0.8M205.7 156.2h0.8M202.1 154.0h0.8M200.5 154.0h0.8M194.8 155.7h0.8M190.1 157.0h0.8M189.0 156.6h0.8M195.6 162.6h0.8M195.7 157.3h0.8M194.8 151.6h0.8M200.9 152.1h0.8M200.1 157.0h0.8M197.1 154.7h0.8M212.7 155.6h0.8M197.7 158.3h0.8M195.1 155.5h0.8M209.3 154.9h0.8M193.7 156.9h0.8M190.8 154.8h0.8M203.0 156.8h0.8M209.4 159.5h0.8M187.6 158.4h0.8M200.3 163.2h0.8M199.9 154.0h0.8M201.8 160.5h0.8M197.9 158.3h0.8M196.4 155.9h0.8M194.0 163.8h0.8M193.3 157.2h0.8M196.5 154.8h0.8M199.0 157.1h0.8M204.7 159.4h0.8M197.7 154.9h0.8M202.3 158.5h0.8M188.6 154.8h0.8M201.2 152.8h0.8M196.6 158.6h0.8M197.3 159.7h0.8M203.8 158.9h0.8M187.6 159.0h0.8M189.0 157.2h0.8M191.1 157.8h0.8M193.3 158.6h0.8M197.4 155.8h0.8M190.1 158.5h0.8M210.6 158.6h0.8M196.3 160.0h0.8M204.7 154.8h0.8M195.6 153.9h0.8M203.3 155.6h0.8M205.3 154.0h0.8M198.4 156.4h0.8M204.9 155.5h0.8M195.6 157.9h0.8M191.5 158.3h0.8M205.2 157.8h0.8M205.9 156.6h0.8M199.9 159.6h0.8M198.8 153.5h0.8M193.7 155.8h0.8M190.8 154.8h0.8M211.4 158.7h0.8M204.7 157.0h0.8M196.0 155.9h0.8M213.6 157.3h0.8M205.1 153.4h0.8M194.8 152.6h0.8M198.6 152.2h0.8M193.4 158.8h0.8M198.8 154.5h0.8M201.2 159.2h0.8M194.9 158.1h0.8M207.0 158.3h0.8M198.6 160.3h0.8M191.7 156.2h0.8M197.2 157.8h0.8M198.2 157.8h0.8M187.7 156.4h0.8M201.7 156.2h0.8M196.8 160.0h0.8M204.6 159.7h0.8M196.4 153.9h0.8M202.8 155.2h0.8M188.1 156.1h0.8M204.9 158.2h0.8M193.7 160.6h0.8M198.3 157.7h0.8M216.0 157.3h0.8M198.6 155.4h0.8M199.2 156.7h0.8M205.4 153.7h0.8M206.3 164.7h0.8M190.0 162.0h0.8M192.0 158.1h0.8M188.7 159.0h0.8M203.7 159.1h0.8M189.8 159.0h0.8M202.5 156.5h0.8M192.0 156.8h0.8M202.3 160.2h0.8M191.9 155.5h0.8M204.4 156.0h0.8M209.8 156.6h0.8M198.6 156.8h0.8M187.4 156.1h0.8M217.3 157.9h0.8M197.8 158.3h0.8M209.7 158.0h0.8M202.2 160.0h0.8M189.2 151.9h0.8M191.1 158.3h0.8M200.0 151.9h0.8M191.4 159.2h0.8M196.7 158.1h0.8M196.1 156.9h0.8M190.9 157.7h0.8M197.2 159.7h0.8M187.8 157.1h0.8M190.6 160.2h0.8M192.2 160.0h0.8M191.1 158.6h0.8M199.7 155.6h0.8M199.6 158.6h0.8M206.9 156.5h0.8M201.4 158.0h0.8M189.8 157.2h0.8M211.3 157.7h0.8M201.5 155.1h0.8M187.1 156.1h0.8M201.6 159.8h0.8M204.5 154.5h0.8M197.9 155.1h0.8M204.0 159.7h0.8M188.9 157.6h0.8M199.6 158.2h0.8M208.2 154.2h0.8M192.9 160.3h0.8M205.5 153.8h0.8M195.2 152.2h0.8M203.1 157.9h0.8M197.4 158.6h0.8M195.5 149.5h0.8M189.3 155.7h0.8M194.4 159.1h0.8M193.6 153.0h0.8M194.0 154.0h0.8M198.9 158.1h0.8M215.4 157.4h0.8M199.6 158.8h0.8M191.9 158.7h0.8M196.8 157.5h0.8M199.3 151.5h0.8M192.2 157.6h0.8M211.0 153.7h0.8M191.9 158.3h0.8M191.2 154.1h0.8M189.7 158.3h0.8M193.0 154.3h0.8M199.1 154.3h0.8M188.8 157.8h0.8M202.1 154.3h0.8M199.6 160.7h0.8M190.3 162.4h0.8M196.7 160.1h0.8M188.8 156.9h0.8M192.4 153.8h0.8M199.6 158.3h0.8M191.8 150.9h0.8M196.7 159.7h0.8M201.5 156.4h0.8M191.3 156.4h0.8M198.1 160.7h0.8M200.8 154.4h0.8M204.4 152.8h0.8M199.2 156.8h0.8M191.8 160.9h0.8M201.3 155.7h0.8M203.7 158.9h0.8M194.2 154.1h0.8M204.3 152.4h0.8M187.5 162.8h0.8M195.0 161.6h0.8M199.6 160.5h0.8M187.3 160.3h0.8M203.2 158.6h0.8M190.2 161.0h0.8M191.8 159.6h0.8M205.9 154.9h0.8M187.8 156.6h0.8M195.3 156.7h0.8M201.3 157.1h0.8M244.6 153.3h0.8M232.7 152.1h0.8M231.3 151.3h0.8M228.8 159.9h0.8M244.1 156.4h0.8M228.5 156.3h0.8M242.2 158.9h0.8M246.2 157.4h0.8M240.0 152.5h0.8M233.4 154.7h0.8M236.2 159.9h0.8M232.7 156.7h0.8M234.3 155.1h0.8M240.1 157.7h0.8M236.0 154.4h0.8M215.3 154.3h0.8M233.2 152.5h0.8M229.3 154.3h0.8M236.8 151.3h0.8M231.8 163.0h0.8M249.7 153.2h0.8M230.8 162.5h0.8M218.9 157.8h0.8M237.0 152.7h0.8M225.5 152.1h0.8M234.8 159.6h0.8M239.9 154.4h0.8M246.5 149.4h0.8M235.6 157.4h0.8M223.3 158.1h0.8M227.9 152.0h0.8M235.7 157.2h0.8M227.8 154.2h0.8M244.5 157.6h0.8M237.6 155.2h0.8M237.5 154.2h0.8M248.9 150.3h0.8M232.5 157.7h0.8M236.9 156.8h0.8M230.1 154.6h0.8M230.8 159.9h0.8M239.0 150.1h0.8M237.0 157.4h0.8M222.3 161.2h0.8M228.5 160.0h0.8M229.9 154.8h0.8M231.0 153.8h0.8M239.3 159.5h0.8M233.1 155.2h0.8M236.6 150.0h0.8M229.8 153.7h0.8M242.9 156.4h0.8M242.0 159.7h0.8M237.6 152.9h0.8M246.5 155.9h0.8M229.4 150.9h0.8M236.8 152.3h0.8M219.7 160.3h0.8M228.9 156.2h0.8M233.5 151.0h0.8M224.2 153.2h0.8M227.1 159.0h0.8M229.8 158.1h0.8M230.8 150.5h0.8M232.1 160.9h0.8M231.7 156.2h0.8M236.2 154.2h0.8M236.0 158.0h0.8M241.8 153.2h0.8M244.3 154.1h0.8M221.8 156.1h0.8M230.0 155.7h0.8M238.9 159.0h0.8M234.1 157.7h0.8M221.6 163.8h0.8M239.7 160.2h0.8M246.1 158.4h0.8M225.6 149.4h0.8M230.1 153.6h0.8M235.1 152.2h0.8M241.8 155.6h0.8M237.7 161.7h0.8M226.3 157.0h0.8M229.7 163.5h0.8M223.6 160.1h0.8M227.0 156.3h0.8M233.1 151.6h0.8M237.6 156.4h0.8M233.2 153.9h0.8M218.6 160.1h0.8M232.7 153.5h0.8M229.5 158.9h0.8M232.4 158.8h0.8M221.2 157.7h0.8M232.1 154.4h0.8M243.9 152.1h0.8M245.7 154.9h0.8M234.8 157.1h0.8M228.4 157.9h0.8M234.5 156.0h0.8M235.3 155.5h0.8M226.1 157.7h0.8M238.1 154.3h0.8M238.7 152.8h0.8M236.0 153.8h0.8M229.3 152.7h0.8M242.2 157.2h0.8M232.5 154.4h0.8M241.9 156.5h0.8M227.1 158.1h0.8M226.3 150.9h0.8M232.3 155.3h0.8M242.1 156.2h0.8M226.5 152.7h0.8M226.0 149.5h0.8M244.9 151.8h0.8M234.7 156.0h0.8M233.0 158.0h0.8M239.9 156.6h0.8M236.9 161.0h0.8M200.1 166.6h0.8M203.4 179.7h0.8M207.4 168.3h0.8M201.5 168.7h0.8M208.9 182.9h0.8M212.5 187.2h0.8M214.4 173.6h0.8M212.2 186.2h0.8M201.0 186.3h0.8M215.3 177.9h0.8M200.6 189.4h0.8M214.0 175.1h0.8M205.1 173.9h0.8M210.8 182.5h0.8M210.7 175.1h0.8M206.5 176.4h0.8M197.1 167.9h0.8M195.9 166.2h0.8M208.1 188.6h0.8M213.2 174.9h0.8M203.4 174.0h0.8M212.8 180.3h0.8M204.7 164.3h0.8M206.9 184.6h0.8M209.3 194.4h0.8M202.5 186.3h0.8M208.2 177.7h0.8M210.3 176.0h0.8M212.1 167.6h0.8M206.1 165.6h0.8M215.1 172.7h0.8M210.2 166.7h0.8M205.9 167.1h0.8M209.0 178.2h0.8M209.3 181.7h0.8M206.5 188.0h0.8M215.1 182.8h0.8M210.8 168.8h0.8M210.6 164.6h0.8M208.2 178.6h0.8M203.5 192.8h0.8M206.7 183.4h0.8M201.1 183.0h0.8M206.7 188.0h0.8M210.7 165.7h0.8M215.6 187.4h0.8M209.3 167.3h0.8M206.7 172.4h0.8M215.8 180.8h0.8M199.6 162.7h0.8M209.0 172.9h0.8M212.0 185.6h0.8M202.3 187.6h0.8M213.5 192.3h0.8M202.2 172.8h0.8M209.8 162.9h0.8M205.5 174.8h0.8M215.4 167.6h0.8M202.5 184.5h0.8M211.8 169.3h0.8M208.2 186.4h0.8M206.3 173.2h0.8M209.2 167.7h0.8M207.2 176.1h0.8M202.7 174.6h0.8M211.1 183.9h0.8M202.9 195.0h0.8M196.5 173.0h0.8M210.4 175.1h0.8M212.7 193.6h0.8M208.0 193.7h0.8M215.7 176.6h0.8M215.6 194.8h0.8M208.8 176.3h0.8M209.1 176.9h0.8M209.9 179.1h0.8M207.9 177.2h0.8M211.7 180.7h0.8M208.6 170.3h0.8M205.0 188.8h0.8M207.3 188.8h0.8M207.7 178.2h0.8M204.0 165.9h0.8M200.2 187.9h0.8M208.5 196.5h0.8M202.5 167.7h0.8M212.7 179.3h0.8M213.2 176.1h0.8M208.3 180.3h0.8M211.8 189.4h0.8M209.6 175.2h0.8M214.1 189.1h0.8M206.4 185.4h0.8M215.6 173.6h0.8M213.4 180.4h0.8M203.6 185.6h0.8M200.6 173.2h0.8M193.8 192.9h0.8M201.5 183.1h0.8M207.0 174.8h0.8M211.3 185.3h0.8M203.0 184.0h0.8M215.4 166.4h0.8M210.9 196.6h0.8M213.5 171.2h0.8M213.2 165.1h0.8M207.0 182.9h0.8M214.4 197.4h0.8M207.7 197.2h0.8M215.1 169.9h0.8M208.0 190.2h0.8M215.5 174.8h0.8M204.9 191.7h0.8M209.5 181.8h0.8M210.7 188.7h0.8M206.2 184.7h0.8M208.0 183.9h0.8M212.4 180.6h0.8M208.3 171.1h0.8M210.2 185.5h0.8M209.9 172.8h0.8M198.3 195.3h0.8M207.6 170.6h0.8M207.4 194.2h0.8M208.5 180.2h0.8M206.7 167.9h0.8M206.5 188.2h0.8M208.9 171.0h0.8M197.8 174.3h0.8M213.6 178.8h0.8M210.8 182.4h0.8M208.2 166.9h0.8M215.4 190.7h0.8M195.5 177.5h0.8M214.2 196.4h0.8M205.7 176.9h0.8M205.0 178.5h0.8M210.7 181.6h0.8M200.3 186.3h0.8M207.5 174.4h0.8M209.8 170.4h0.8M204.7 162.6h0.8M215.4 176.7h0.8M203.3 170.2h0.8M203.7 191.3h0.8M206.7 176.2h0.8M208.9 172.3h0.8M207.5 180.7h0.8M210.7 192.9h0.8M206.6 180.5h0.8M207.5 181.5h0.8M205.6 196.0h0.8M203.3 182.3h0.8M208.1 175.4h0.8M202.6 173.1h0.8M212.9 190.7h0.8M204.4 166.8h0.8M211.4 172.9h0.8M211.0 183.4h0.8M210.2 173.6h0.8M213.8 170.1h0.8M212.1 171.4h0.8M212.1 191.3h0.8M206.2 162.7h0.8M207.4 164.4h0.8M201.2 195.9h0.8M213.6 176.3h0.8M204.8 195.4h0.8M206.2 177.6h0.8M203.8 188.7h0.8M211.6 169.4h0.8M203.0 179.9h0.8M209.1 189.4h0.8M204.7 181.9h0.8M206.7 174.3h0.8M204.9 171.7h0.8M204.6 190.0h0.8M208.5 171.2h0.8M213.1 177.8h0.8M213.5 178.9h0.8M207.3 183.9h0.8M200.7 166.8h0.8M204.7 182.8h0.8M215.3 179.1h0.8M204.8 189.9h0.8M212.9 182.4h0.8M210.8 178.2h0.8M202.7 174.1h0.8M213.8 185.4h0.8M215.0 171.6h0.8M204.4 175.9h0.8M200.9 191.5h0.8M216.0 164.3h0.8M201.5 180.0h0.8M209.9 167.1h0.8M202.2 180.2h0.8M208.8 171.4h0.8M198.8 186.8h0.8M212.0 195.1h0.8M208.7 171.6h0.8M203.0 170.7h0.8M207.7 196.8h0.8M211.2 181.2h0.8M211.8 172.3h0.8M211.3 196.6h0.8M214.5 171.6h0.8M210.5 176.2h0.8M208.1 169.4h0.8M206.5 195.1h0.8M212.1 164.7h0.8M208.6 182.3h0.8M206.3 179.5h0.8M203.0 165.9h0.8M213.4 185.9h0.8M213.3 189.7h0.8M202.4 165.1h0.8M204.1 175.2h0.8M198.8 176.2h0.8M207.3 180.3h0.8M195.1 171.3h0.8M211.6 171.3h0.8M207.9 175.9h0.8M206.7 185.6h0.8M202.5 179.9h0.8M206.8 167.3h0.8M208.5 192.9h0.8M215.6 190.8h0.8M204.3 178.8h0.8M207.8 188.2h0.8M206.5 194.6h0.8M210.7 180.3h0.8M214.3 177.7h0.8M199.5 193.3h0.8M211.4 171.6h0.8M207.2 178.8h0.8M205.8 188.7h0.8M209.0 174.6h0.8M205.9 167.9h0.8M205.7 178.6h0.8M195.8 170.2h0.8M205.3 179.5h0.8M205.9 184.0h0.8M204.9 171.6h0.8M210.2 180.0h0.8M204.5 171.6h0.8M211.4 189.5h0.8M215.3 175.9h0.8M211.1 165.2h0.8M194.6 167.2h0.8M201.3 186.1h0.8M213.6 194.2h0.8M215.8 164.8h0.8M211.1 196.4h0.8M208.4 177.8h0.8M201.1 171.8h0.8M203.5 174.1h0.8M209.3 177.1h0.8M193.3 196.5h0.8M208.8 196.5h0.8M204.8 185.5h0.8M204.0 163.2h0.8M205.1 169.7h0.8M207.5 184.0h0.8M212.4 189.4h0.8M204.5 169.8h0.8M208.6 173.2h0.8M195.1 182.4h0.8M209.7 175.9h0.8M212.9 182.2h0.8M206.9 181.3h0.8M209.6 170.0h0.8M206.8 174.3h0.8M215.6 182.0h0.8M199.6 194.0h0.8M200.0 185.7h0.8M211.8 189.8h0.8M202.6 165.6h0.8M209.0 195.6h0.8M214.4 173.6h0.8M203.1 192.1h0.8M207.8 170.1h0.8M187.5 169.0h0.8M208.9 185.1h0.8M212.5 185.9h0.8M207.9 167.2h0.8M213.9 190.4h0.8M213.3 165.1h0.8M194.5 164.4h0.8M205.9 184.3h0.8M205.3 174.9h0.8M207.2 190.6h0.8M209.4 174.3h0.8M210.3 186.6h0.8M212.0 177.7h0.8M208.1 197.5h0.8M207.8 192.4h0.8M210.2 184.7h0.8M213.6 167.2h0.8M214.0 180.0h0.8M215.9 190.3h0.8M211.4 173.5h0.8M214.1 189.2h0.8M206.6 191.9h0.8M210.9 191.9h0.8M204.8 175.2h0.8M204.8 170.5h0.8M206.8 194.0h0.8M204.0 184.7h0.8M209.8 185.5h0.8M208.0 183.1h0.8M201.8 188.3h0.8M208.7 167.4h0.8M209.1 186.1h0.8M213.0 183.0h0.8M206.6 166.3h0.8M211.0 165.7h0.8M210.7 177.8h0.8M214.3 174.5h0.8M206.9 188.8h0.8M209.2 177.9h0.8M202.2 171.6h0.8M210.3 176.0h0.8M209.3 185.3h0.8M213.6 188.9h0.8M199.8 178.9h0.8M216.0 189.1h0.8M215.0 195.5h0.8M209.2 166.8h0.8M215.9 176.7h0.8M208.2 168.7h0.8M212.2 188.9h0.8M205.5 168.6h0.8M211.3 164.7h0.8M211.8 167.2h0.8M215.9 177.2h0.8M213.5 168.3h0.8M198.0 187.2h0.8M211.1 175.5h0.8M211.7 169.0h0.8M212.9 188.3h0.8M200.5 164.2h0.8M202.9 185.4h0.8M196.7 195.7h0.8M214.5 195.2h0.8M207.3 170.8h0.8M205.9 167.7h0.8M203.1 167.3h0.8M215.3 165.4h0.8M199.9 184.4h0.8M213.0 190.8h0.8M202.4 173.2h0.8M197.6 177.3h0.8M198.0 177.9h0.8M204.9 182.5h0.8M214.2 197.2h0.8M190.9 194.2h0.8M206.7 184.3h0.8M212.9 174.8h0.8M203.8 172.8h0.8M208.3 186.2h0.8M205.1 185.1h0.8M208.6 162.6h0.8M210.5 195.0h0.8M212.7 185.2h0.8M211.2 194.1h0.8M212.2 187.8h0.8M202.5 174.8h0.8M206.3 177.6h0.8M213.9 188.2h0.8M214.7 196.8h0.8M211.3 184.6h0.8M202.8 193.3h0.8M199.1 169.2h0.8M211.2 172.6h0.8M202.4 174.3h0.8M204.8 194.0h0.8M202.5 190.8h0.8M208.5 192.1h0.8M209.8 176.2h0.8M214.9 180.4h0.8M202.6 163.1h0.8M208.0 170.4h0.8M215.2 179.9h0.8M204.5 176.2h0.8M212.8 174.4h0.8M206.0 177.7h0.8M211.6 163.6h0.8M198.8 197.3h0.8M209.5 172.7h0.8M211.4 174.3h0.8M209.5 164.4h0.8M208.3 181.5h0.8M207.7 172.9h0.8M207.6 170.0h0.8M214.6 197.0h0.8M213.6 186.4h0.8M197.3 187.1h0.8M215.4 171.3h0.8M202.6 172.4h0.8M209.6 184.6h0.8M210.2 174.4h0.8M210.6 166.3h0.8M208.5 170.1h0.8M209.7 186.1h0.8M210.9 187.5h0.8M202.2 178.9h0.8M205.2 177.4h0.8M208.2 194.6h0.8M207.8 190.7h0.8M209.6 170.3h0.8M210.3 182.4h0.8M210.9 193.8h0.8M204.6 194.5h0.8M205.5 178.8h0.8M209.8 181.6h0.8M200.0 172.5h0.8M215.2 167.5h0.8M207.4 184.7h0.8M213.8 190.3h0.8M210.5 176.3h0.8M210.5 171.0h0.8M208.6 184.2h0.8M212.3 171.0h0.8M213.8 187.2h0.8M208.1 177.5h0.8M209.4 188.6h0.8M212.5 177.8h0.8M195.0 181.0h0.8M203.8 170.8h0.8M211.3 182.5h0.8M209.1 175.7h0.8M206.0 189.1h0.8M207.1 182.7h0.8M209.9 177.7h0.8M205.6 170.1h0.8M201.6 194.5h0.8M211.6 170.7h0.8M202.3 173.3h0.8M202.7 175.9h0.8M200.9 171.9h0.8M198.9 171.8h0.8M200.2 179.0h0.8M215.3 181.5h0.8M213.9 167.6h0.8M206.6 185.2h0.8M212.6 185.5h0.8M207.1 181.3h0.8M211.5 173.2h0.8M205.3 186.6h0.8M201.9 173.8h0.8M212.6 180.4h0.8M206.9 180.0h0.8M209.2 170.1h0.8M207.3 183.2h0.8M211.1 179.1h0.8M200.3 185.8h0.8M206.9 197.4h0.8M214.1 168.6h0.8M203.4 185.6h0.8M205.5 169.8h0.8M209.5 192.6h0.8M213.6 187.6h0.8M202.3 171.6h0.8M208.6 192.0h0.8M213.9 185.3h0.8M215.0 186.9h0.8M215.2 164.2h0.8M207.6 179.5h0.8M204.7 166.3h0.8M203.6 183.7h0.8M206.4 185.5h0.8M211.7 190.3h0.8M202.6 190.5h0.8M210.1 179.5h0.8M215.3 182.8h0.8M204.2 172.0h0.8M213.9 177.5h0.8M196.0 176.3h0.8M212.3 183.5h0.8M208.4 165.7h0.8M194.7 176.0h0.8M203.0 163.7h0.8M210.1 179.4h0.8M190.5 190.3h0.8M198.9 167.5h0.8M197.1 182.6h0.8M213.9 178.5h0.8M197.4 182.2h0.8M202.6 171.5h0.8M204.8 189.6h0.8M208.6 170.5h0.8M195.9 165.2h0.8M192.8 178.1h0.8M212.4 186.0h0.8M204.9 190.3h0.8M190.6 177.6h0.8M187.2 176.6h0.8M189.6 170.3h0.8M212.5 172.2h0.8M188.1 181.0h0.8M203.0 185.7h0.8M197.2 194.2h0.8M206.9 165.4h0.8M207.7 168.3h0.8M205.5 170.4h0.8M191.8 164.9h0.8M189.6 182.2h0.8M206.0 174.0h0.8M207.7 179.5h0.8M203.6 185.4h0.8M198.0 167.0h0.8M195.7 183.2h0.8M191.4 176.2h0.8M205.0 165.3h0.8M198.4 180.0h0.8M203.7 182.1h0.8M197.3 166.0h0.8M190.4 167.1h0.8M214.4 178.0h0.8M212.6 174.6h0.8M198.1 175.8h0.8M211.6 163.0h0.8M201.8 192.3h0.8M191.3 193.8h0.8M196.9 173.3h0.8M205.3 174.8h0.8M192.0 187.9h0.8M203.8 185.0h0.8M191.3 185.6h0.8M206.3 174.8h0.8M196.5 164.0h0.8M188.0 174.2h0.8M208.2 195.8h0.8M202.1 177.8h0.8M205.4 174.9h0.8M210.9 180.1h0.8M189.5 176.1h0.8M209.8 191.6h0.8M194.9 163.3h0.8M203.9 185.3h0.8M212.2 184.8h0.8M209.2 187.5h0.8M203.1 175.6h0.8M211.7 191.4h0.8M213.9 185.4h0.8M199.5 181.3h0.8M202.6 183.5h0.8M205.2 168.1h0.8M211.7 192.0h0.8M204.3 175.2h0.8M204.8 189.0h0.8M215.3 196.3h0.8M189.0 164.7h0.8M201.2 185.9h0.8M196.0 177.0h0.8M200.7 189.3h0.8M203.3 188.9h0.8M215.0 177.8h0.8M195.9 167.9h0.8M197.7 180.7h0.8M204.8 165.3h0.8M206.4 191.9h0.8M197.2 175.0h0.8M200.4 171.0h0.8M192.9 166.5h0.8M208.2 169.5h0.8M189.2 188.5h0.8M214.3 172.0h0.8M197.8 168.8h0.8M189.7 193.5h0.8M206.5 191.8h0.8M197.1 190.8h0.8M199.8 177.8h0.8M204.4 178.4h0.8M210.6 191.4h0.8M204.7 183.6h0.8M214.0 163.5h0.8M203.9 180.9h0.8M206.4 170.1h0.8M197.4 173.3h0.8M204.3 193.2h0.8M215.2 183.2h0.8M215.4 188.7h0.8M208.4 184.6h0.8M195.2 165.5h0.8M190.6 189.0h0.8M198.3 172.6h0.8M207.5 169.4h0.8M213.8 187.5h0.8M213.4 181.8h0.8M203.8 163.7h0.8M192.8 170.5h0.8M211.5 177.5h0.8M195.5 183.7h0.8M212.5 193.6h0.8M200.3 195.3h0.8M202.9 191.3h0.8M214.7 167.9h0.8M205.2 170.3h0.8M197.7 195.2h0.8M207.1 185.9h0.8M201.6 175.4h0.8M210.0 171.4h0.8M196.0 187.5h0.8M197.3 195.8h0.8M208.7 169.5h0.8M210.1 180.0h0.8M195.6 193.6h0.8M189.4 183.9h0.8M212.7 193.6h0.8M198.7 164.9h0.8M212.0 170.5h0.8M203.9 163.7h0.8M207.1 196.7h0.8M189.9 189.2h0.8M188.9 170.8h0.8M197.2 184.8h0.8M207.6 177.8h0.8M199.2 166.4h0.8M201.4 182.8h0.8M193.7 184.9h0.8M215.0 169.8h0.8M204.4 182.0h0.8M215.1 180.4h0.8M202.4 187.6h0.8M197.9 184.0h0.8M198.2 175.2h0.8M190.8 190.0h0.8M200.0 174.5h0.8M198.2 164.1h0.8M204.4 168.4h0.8M194.7 194.3h0.8M197.6 195.5h0.8M208.7 166.2h0.8M209.5 171.7h0.8M188.0 186.3h0.8M213.7 192.2h0.8M206.6 178.7h0.8M199.0 180.1h0.8M193.2 180.6h0.8M198.4 173.4h0.8M213.0 169.2h0.8M209.0 183.5h0.8M192.6 181.9h0.8M192.2 191.1h0.8M194.6 179.6h0.8M196.3 196.7h0.8M190.7 182.1h0.8M213.9 168.8h0.8M198.3 195.7h0.8M187.0 180.4h0.8M207.7 170.4h0.8M195.1 172.6h0.8M200.5 181.0h0.8M204.9 195.4h0.8M212.9 169.6h0.8M208.7 166.2h0.8M205.4 195.9h0.8M187.2 174.9h0.8M211.4 180.9h0.8M191.4 181.6h0.8M211.2 181.6h0.8M201.4 190.6h0.8M212.0 192.6h0.8M201.5 170.1h0.8M189.2 195.9h0.8M203.9 195.1h0.8M200.1 176.5h0.8M212.7 192.9h0.8M203.9 178.8h0.8M201.4 166.4h0.8M195.3 180.9h0.8M190.4 167.2h0.8M190.6 180.5h0.8M192.5 194.0h0.8M202.5 184.5h0.8M212.4 192.6h0.8M208.5 191.5h0.8M191.6 179.6h0.8M214.5 164.8h0.8M199.1 196.5h0.8M196.0 181.7h0.8M209.1 193.4h0.8M198.2 181.2h0.8M210.9 195.4h0.8M196.0 163.3h0.8M187.8 188.4h0.8M213.1 180.9h0.8M203.3 182.3h0.8M204.3 165.5h0.8M214.4 196.3h0.8M209.7 189.7h0.8M213.0 188.9h0.8M197.7 172.8h0.8M205.2 189.7h0.8M187.7 172.3h0.8M193.7 170.5h0.8M206.9 190.8h0.8M191.0 173.3h0.8M206.4 181.0h0.8M205.7 191.9h0.8M193.6 177.2h0.8M197.1 189.8h0.8M210.4 164.5h0.8M208.3 192.6h0.8M191.9 174.7h0.8M202.7 182.2h0.8M191.8 178.7h0.8M211.7 166.3h0.8M206.2 183.9h0.8M191.7 185.8h0.8M200.9 175.6h0.8M190.6 183.0h0.8M203.7 172.4h0.8M212.4 177.5h0.8M197.5 163.3h0.8M198.1 178.7h0.8M187.9 196.8h0.8M188.9 180.3h0.8M200.9 189.6h0.8M190.8 192.1h0.8M203.2 163.9h0.8M207.1 183.7h0.8M195.5 170.1h0.8M189.1 193.3h0.8M203.9 174.5h0.8M198.5 191.8h0.8M200.1 168.0h0.8M211.6 195.3h0.8M189.5 183.8h0.8M202.2 191.6h0.8M188.9 175.3h0.8M204.5 180.8h0.8M215.5 188.6h0.8M204.4 166.8h0.8M191.7 174.5h0.8M202.8 196.8h0.8M189.3 171.4h0.8M188.6 171.1h0.8M191.9 196.0h0.8M189.1 186.3h0.8M198.9 173.5h0.8M198.6 195.5h0.8M203.2 187.9h0.8M205.9 170.1h0.8M192.7 179.6h0.8M209.7 164.6h0.8M193.4 186.9h0.8M193.1 182.8h0.8M189.7 189.8h0.8M207.1 172.1h0.8M200.6 187.2h0.8M205.7 185.7h0.8M202.9 183.1h0.8M209.9 194.3h0.8M205.8 179.4h0.8M203.4 164.4h0.8M209.4 173.4h0.8M192.3 165.1h0.8M197.2 182.2h0.8M195.1 179.9h0.8M195.9 170.1h0.8M195.8 190.8h0.8M198.5 193.2h0.8M208.0 193.6h0.8M189.3 186.5h0.8M194.3 175.3h0.8M196.1 172.8h0.8M211.0 186.7h0.8M212.4 184.3h0.8M204.7 180.5h0.8M213.2 174.2h0.8M205.6 187.5h0.8M190.0 183.5h0.8M212.4 187.6h0.8M214.9 174.4h0.8M211.6 169.6h0.8M188.4 183.4h0.8M200.5 174.5h0.8M202.1 188.3h0.8M206.5 176.9h0.8M193.9 179.5h0.8M211.9 196.3h0.8M214.4 187.7h0.8M198.9 170.5h0.8M208.8 184.4h0.8M188.3 193.0h0.8M188.8 184.8h0.8M204.9 195.6h0.8M197.7 172.0h0.8M205.7 168.2h0.8M213.5 179.7h0.8M215.5 185.4h0.8M202.4 193.8h0.8M187.7 193.4h0.8M189.4 193.0h0.8M190.6 194.3h0.8M195.6 175.3h0.8M204.6 168.0h0.8M187.6 167.8h0.8M208.7 192.4h0.8M209.7 170.4h0.8M200.4 180.4h0.8M212.0 183.5h0.8M212.6 185.7h0.8M189.2 188.3h0.8M215.3 166.2h0.8M199.5 187.2h0.8M202.5 170.1h0.8M204.4 167.1h0.8M211.6 177.7h0.8M197.4 193.5h0.8M200.9 178.7h0.8M189.5 179.5h0.8M189.9 183.7h0.8M204.7 187.2h0.8M189.3 170.0h0.8M200.2 195.4h0.8M208.5 185.5h0.8M212.8 182.9h0.8M203.6 170.6h0.8M214.0 192.1h0.8M191.4 180.6h0.8M201.8 189.3h0.8M207.9 182.2h0.8M202.2 196.5h0.8M206.4 165.1h0.8M205.1 177.2h0.8M211.9 174.6h0.8M206.3 169.9h0.8M210.0 168.9h0.8M192.5 186.6h0.8M197.9 177.7h0.8M207.1 175.2h0.8M208.1 194.9h0.8M200.3 166.9h0.8M196.8 191.6h0.8M192.9 178.6h0.8M189.4 194.5h0.8M189.8 169.4h0.8M202.4 193.1h0.8M195.9 176.7h0.8M196.5 176.1h0.8M198.0 195.3h0.8M198.1 172.7h0.8M196.9 190.3h0.8M201.3 192.0h0.8M213.2 175.2h0.8M209.0 177.2h0.8M214.5 176.4h0.8M190.1 171.7h0.8M188.1 180.4h0.8M197.0 166.2h0.8M206.1 185.5h0.8M215.0 169.6h0.8M204.0 185.6h0.8M189.8 172.4h0.8M197.0 183.8h0.8M213.6 170.2h0.8M196.7 195.3h0.8M199.0 197.0h0.8M204.2 168.5h0.8M198.1 165.6h0.8M214.2 174.4h0.8M194.5 192.8h0.8M202.0 192.1h0.8M192.1 166.9h0.8M192.0 164.5h0.8M191.7 184.6h0.8M190.3 188.4h0.8M190.5 184.0h0.8M203.2 166.9h0.8M213.6 194.9h0.8M206.2 165.7h0.8M188.5 178.5h0.8M190.1 189.3h0.8M199.8 189.8h0.8M198.7 166.4h0.8M213.1 179.5h0.8M201.2 188.0h0.8M212.6 171.7h0.8M201.0 170.8h0.8M193.0 183.1h0.8M195.1 192.7h0.8M211.4 179.2h0.8M201.9 188.5h0.8M199.9 165.7h0.8M187.6 163.8h0.8M202.8 168.6h0.8M191.7 168.8h0.8M191.4 195.5h0.8M190.3 182.3h0.8M203.8 194.6h0.8M202.5 189.8h0.8M204.3 187.5h0.8M189.9 164.0h0.8M190.9 189.6h0.8M198.1 164.1h0.8M213.9 171.3h0.8M197.5 185.3h0.8M210.3 186.6h0.8M200.6 194.9h0.8M208.1 167.1h0.8M213.8 169.2h0.8M197.8 191.1h0.8M197.2 176.0h0.8M199.6 170.0h0.8M198.6 166.9h0.8M189.5 165.3h0.8M200.3 187.6h0.8M188.0 194.1h0.8M206.7 164.9h0.8M202.6 191.5h0.8M199.2 182.5h0.8M192.9 164.2h0.8M193.6 189.0h0.8M211.6 181.1h0.8M208.0 166.4h0.8M207.4 170.1h0.8M198.2 195.1h0.8M200.1 181.6h0.8M210.8 195.1h0.8M193.2 170.0h0.8M188.1 190.5h0.8M210.3 170.1h0.8M197.7 170.0h0.8M191.5 180.0h0.8M193.9 170.7h0.8M201.6 186.3h0.8M201.1 176.0h0.8M199.2 174.8h0.8M200.0 174.3h0.8M197.8 163.2h0.8M192.1 176.4h0.8M206.6 164.2h0.8M190.4 193.9h0.8M201.0 169.0h0.8M199.7 176.8h0.8M204.3 189.2h0.8M203.6 177.2h0.8M198.3 170.8h0.8M194.0 185.1h0.8M196.1 163.9h0.8M191.8 169.2h0.8M207.3 195.0h0.8M198.4 173.4h0.8M208.7 163.7h0.8M197.7 176.2h0.8M189.1 172.5h0.8M199.2 166.3h0.8M205.4 193.3h0.8M196.5 176.5h0.8M214.3 181.6h0.8M204.9 165.4h0.8M188.1 165.4h0.8M193.2 189.4h0.8M191.5 171.7h0.8M194.6 179.2h0.8M203.7 168.0h0.8M213.4 189.9h0.8M213.6 170.5h0.8M196.2 163.6h0.8M191.6 174.8h0.8M206.8 190.8h0.8M195.7 186.3h0.8M194.9 186.9h0.8M195.2 188.8h0.8M191.0 169.0h0.8M202.7 188.0h0.8M199.6 180.2h0.8M200.4 192.2h0.8M202.6 196.8h0.8M206.2 196.8h0.8M202.5 168.5h0.8M191.0 173.8h0.8M203.8 185.4h0.8M214.3 189.2h0.8M196.9 184.2h0.8M190.0 173.6h0.8M198.8 180.7h0.8M211.2 174.2h0.8M209.8 175.0h0.8M199.9 193.2h0.8M213.8 196.7h0.8M199.4 173.5h0.8M204.8 163.7h0.8M187.6 185.0h0.8M205.8 183.9h0.8M202.6 191.7h0.8M205.1 178.1h0.8M195.7 196.2h0.8M192.5 194.9h0.8M188.5 172.7h0.8M209.9 187.7h0.8M196.2 173.7h0.8M196.4 191.9h0.8M206.9 188.3h0.8M209.9 170.6h0.8M196.0 191.8h0.8M212.9 176.8h0.8M225.2 165.1h0.8M219.2 169.8h0.8M221.8 177.3h0.8M222.8 164.7h0.8M227.9 167.4h0.8M219.0 177.2h0.8M223.6 169.0h0.8M218.6 164.6h0.8M223.1 172.7h0.8M218.3 179.9h0.8M223.4 167.0h0.8M222.6 180.3h0.8M226.3 181.9h0.8M225.0 168.9h0.8M219.2 183.2h0.8M218.8 175.2h0.8M230.0 176.7h0.8M224.8 169.5h0.8M227.4 172.0h0.8M218.1 181.4h0.8M225.0 175.6h0.8M227.0 165.2h0.8M217.7 178.1h0.8M221.2 170.7h0.8M221.4 178.9h0.8M216.6 171.9h0.8M221.1 178.6h0.8M220.6 169.4h0.8M230.7 180.8h0.8M223.5 171.8h0.8M215.1 182.0h0.8M221.0 173.9h0.8M227.9 168.7h0.8M221.6 173.7h0.8M219.0 175.3h0.8M217.2 162.8h0.8M228.4 165.6h0.8M228.9 164.5h0.8M216.6 171.4h0.8M217.3 180.2h0.8M216.3 183.4h0.8M224.1 178.9h0.8M219.8 163.1h0.8M217.7 164.1h0.8M221.7 168.6h0.8M221.0 178.5h0.8M222.2 166.4h0.8M219.1 186.7h0.8M215.0 172.0h0.8M220.6 169.3h0.8M215.0 175.9h0.8M215.1 177.5h0.8M229.1 182.4h0.8M216.7 177.0h0.8M219.2 178.1h0.8M225.4 163.2h0.8M228.4 182.1h0.8M223.8 164.0h0.8M225.5 168.3h0.8M216.2 185.0h0.8M224.3 165.3h0.8M219.9 170.5h0.8M221.4 186.5h0.8M228.4 183.3h0.8M219.1 167.5h0.8M222.9 171.2h0.8M228.6 165.2h0.8M220.6 177.0h0.8M219.5 180.3h0.8M224.1 176.5h0.8M216.8 175.7h0.8M219.3 184.0h0.8M230.3 171.7h0.8M222.7 166.4h0.8M224.3 163.7h0.8M230.7 185.3h0.8M219.3 180.6h0.8M227.2 170.5h0.8M217.7 185.8h0.8M225.1 171.8h0.8M218.5 182.6h0.8M218.4 172.0h0.8M217.7 176.5h0.8M225.5 173.9h0.8M223.0 181.7h0.8M219.0 168.5h0.8M222.5 165.8h0.8M216.3 179.8h0.8M220.3 165.0h0.8M218.3 181.0h0.8M225.3 168.2h0.8M227.1 177.1h0.8M220.0 172.1h0.8M222.4 172.0h0.8M217.6 171.1h0.8M223.8 168.5h0.8M226.2 167.0h0.8M215.9 163.0h0.8M222.5 166.1h0.8M223.6 176.5h0.8M221.9 173.2h0.8M215.4 169.4h0.8M224.6 177.2h0.8M220.0 163.4h0.8M215.9 178.1h0.8M216.1 177.3h0.8M226.1 167.3h0.8M230.5 169.6h0.8M227.8 174.0h0.8M222.1 176.0h0.8M229.1 178.3h0.8M220.8 179.8h0.8M220.4 165.6h0.8M222.9 163.0h0.8M215.5 168.9h0.8M220.4 184.0h0.8M222.4 165.9h0.8M228.2 178.1h0.8M223.8 165.5h0.8M225.7 173.9h0.8M225.1 172.0h0.8M218.6 173.4h0.8M222.4 175.0h0.8M217.6 177.3h0.8M217.4 172.0h0.8M227.2 175.4h0.8M225.9 182.6h0.8M221.3 173.3h0.8M225.1 170.2h0.8M230.3 169.2h0.8M222.4 167.5h0.8M220.5 169.4h0.8M219.2 173.7h0.8M220.4 171.8h0.8M216.6 167.6h0.8M220.6 178.1h0.8M227.8 171.3h0.8M220.9 175.0h0.8M221.5 168.5h0.8M222.0 179.7h0.8M220.2 173.3h0.8M220.3 166.7h0.8M224.3 174.3h0.8M216.4 170.4h0.8M222.0 167.5h0.8M220.2 166.9h0.8M223.2 169.4h0.8M225.7 181.3h0.8M218.4 172.0h0.8M222.5 179.2h0.8M219.9 167.2h0.8M227.7 171.6h0.8M224.4 178.3h0.8M216.6 182.5h0.8M228.6 172.0h0.8M219.0 174.3h0.8M222.2 171.8h0.8M230.1 171.3h0.8M226.5 182.6h0.8M219.7 166.6h0.8M216.6 172.4h0.8M218.9 187.1h0.8M229.7 177.4h0.8M220.6 174.6h0.8M229.4 182.1h0.8M219.3 173.4h0.8M221.5 162.6h0.8M223.2 176.1h0.8M215.9 178.0h0.8M221.3 171.9h0.8M217.6 183.8h0.8M222.5 172.1h0.8M224.4 178.2h0.8M219.1 177.5h0.8M226.7 171.1h0.8M225.6 165.1h0.8M223.6 180.8h0.8M218.7 179.3h0.8M226.4 171.8h0.8M220.3 174.8h0.8M216.6 176.5h0.8M218.0 163.3h0.8M218.4 172.7h0.8M228.9 174.3h0.8M223.7 172.3h0.8M224.9 186.1h0.8M220.3 185.3h0.8M219.7 175.9h0.8M223.8 178.2h0.8M226.9 174.2h0.8M224.8 165.3h0.8M223.9 167.9h0.8M223.7 166.1h0.8M227.8 169.7h0.8M216.2 175.8h0.8M227.9 167.3h0.8M222.8 184.2h0.8M220.5 170.1h0.8M222.4 172.7h0.8M224.9 169.1h0.8M225.8 176.1h0.8M222.0 167.3h0.8M220.9 169.3h0.8M223.8 181.9h0.8M220.8 179.1h0.8M219.1 172.6h0.8M215.8 179.4h0.8M223.2 169.5h0.8M218.2 165.0h0.8M225.1 167.6h0.8M221.5 167.7h0.8M228.4 170.4h0.8M220.8 167.0h0.8M229.9 177.2h0.8M220.6 169.5h0.8M218.8 176.3h0.8M219.3 173.3h0.8M229.1 184.0h0.8M224.7 171.4h0.8M225.6 169.5h0.8M219.0 163.7h0.8M220.8 180.9h0.8M218.7 183.1h0.8M225.8 172.0h0.8M221.7 164.1h0.8M219.9 173.2h0.8M224.8 166.7h0.8M219.3 173.5h0.8M223.3 180.5h0.8M218.7 166.3h0.8M228.2 182.9h0.8M230.6 181.3h0.8M219.5 166.6h0.8M219.8 166.5h0.8M230.4 175.7h0.8M224.9 183.0h0.8M230.6 166.7h0.8M229.1 179.7h0.8M226.8 169.4h0.8M225.2 173.2h0.8M224.1 167.7h0.8M220.0 171.8h0.8M221.2 165.4h0.8M218.0 168.0h0.8M230.3 164.1h0.8M228.1 181.3h0.8M222.4 166.6h0.8M226.5 177.9h0.8M216.8 178.5h0.8M227.6 178.5h0.8M220.0 175.0h0.8M226.2 178.2h0.8M225.8 181.0h0.8M215.7 165.0h0.8M227.0 167.3h0.8M224.7 169.1h0.8M216.3 167.0h0.8M217.4 180.3h0.8M220.8 181.1h0.8M217.7 164.7h0.8M217.8 175.1h0.8M221.3 174.8h0.8M223.0 170.0h0.8M225.9 169.7h0.8M218.5 169.0h0.8M223.7 185.1h0.8M221.3 184.2h0.8M229.6 172.4h0.8M228.9 163.0h0.8M218.1 178.5h0.8M216.2 186.7h0.8M228.9 171.6h0.8M222.7 173.1h0.8M223.5 180.0h0.8M219.0 162.7h0.8M220.8 165.9h0.8M221.8 167.1h0.8M225.4 171.6h0.8M223.4 167.5h0.8M220.1 167.2h0.8M216.6 185.0h0.8M225.6 174.2h0.8M223.2 166.6h0.8M227.6 177.8h0.8M224.2 163.1h0.8M221.3 163.4h0.8M222.6 172.3h0.8M227.9 180.1h0.8M216.4 185.4h0.8M217.4 168.1h0.8M224.2 174.1h0.8M230.6 178.8h0.8M216.5 177.3h0.8M221.0 163.3h0.8M220.9 170.8h0.8M223.1 181.1h0.8M226.0 184.2h0.8M218.7 163.5h0.8M226.7 174.6h0.8M217.8 178.9h0.8M220.2 164.4h0.8M222.0 163.1h0.8M222.3 173.4h0.8M229.8 163.3h0.8M223.3 181.6h0.8M226.9 166.1h0.8M216.8 171.4h0.8M220.6 181.2h0.8M230.7 167.1h0.8M223.4 178.4h0.8M223.7 170.7h0.8M225.9 166.5h0.8M223.1 164.7h0.8M222.7 177.5h0.8M221.1 186.4h0.8M223.3 169.3h0.8M223.6 163.8h0.8M218.6 172.6h0.8M225.5 176.3h0.8M226.2 167.0h0.8M217.8 170.0h0.8M216.6 175.1h0.8M229.2 174.3h0.8M217.5 166.6h0.8M226.0 168.6h0.8M226.1 172.7h0.8M218.0 180.1h0.8M223.9 174.7h0.8M221.9 164.6h0.8M218.0 176.6h0.8M219.1 172.0h0.8M226.6 169.1h0.8M221.4 164.4h0.8M220.7 164.9h0.8M223.9 170.5h0.8M221.1 184.0h0.8M215.1 172.5h0.8M217.7 168.3h0.8M226.5 184.0h0.8M218.7 163.4h0.8M228.1 162.8h0.8M225.5 170.0h0.8M215.2 182.9h0.8M225.5 169.6h0.8M226.6 169.7h0.8M221.2 177.2h0.8M224.6 162.8h0.8M227.4 166.6h0.8M222.2 170.1h0.8M220.8 173.4h0.8M229.5 163.8h0.8M226.4 172.6h0.8M225.5 165.5h0.8M216.6 167.4h0.8M217.0 182.5h0.8M225.4 166.9h0.8M217.3 178.9h0.8M222.6 166.7h0.8M215.4 169.5h0.8M217.3 163.9h0.8M225.9 170.9h0.8M227.1 181.4h0.8M217.6 173.7h0.8M228.6 167.2h0.8M228.8 176.8h0.8M219.6 176.8h0.8M221.9 176.9h0.8M217.5 168.9h0.8M223.4 175.3h0.8M220.7 167.2h0.8M222.5 166.2h0.8M220.6 174.6h0.8M223.7 171.7h0.8M219.6 173.4h0.8M218.3 169.4h0.8M218.8 177.8h0.8M215.2 173.8h0.8M224.3 173.1h0.8M224.5 178.6h0.8M222.7 177.8h0.8M217.3 187.2h0.8M216.7 172.7h0.8M228.2 178.1h0.8M226.3 167.7h0.8M228.9 164.4h0.8M217.6 176.6h0.8M226.3 167.8h0.8M218.0 174.2h0.8M219.7 172.8h0.8M219.9 177.0h0.8M230.0 162.6h0.8M223.5 171.9h0.8M220.4 167.5h0.8M219.9 167.7h0.8M230.1 168.2h0.8M219.2 181.1h0.8M216.5 164.1h0.8M228.6 179.2h0.8M229.0 170.5h0.8M217.8 170.3h0.8M219.9 168.0h0.8M222.3 179.6h0.8M227.9 169.8h0.8M220.2 173.9h0.8M226.5 183.6h0.8M226.7 174.2h0.8M216.1 162.6h0.8M223.1 180.9h0.8M224.3 168.5h0.8M226.5 165.6h0.8M217.7 171.5h0.8M224.7 179.3h0.8M226.1 162.6h0.8M219.3 175.9h0.8M217.7 170.7h0.8M216.6 167.5h0.8M224.1 179.8h0.8M218.4 169.9h0.8M217.2 168.9h0.8M220.5 169.2h0.8M222.5 170.6h0.8M230.9 167.4h0.8M230.5 163.6h0.8M227.4 184.2h0.8M218.1 164.0h0.8M225.9 178.2h0.8M221.5 169.1h0.8M218.1 164.8h0.8M225.8 172.6h0.8M230.2 175.0h0.8M219.2 163.7h0.8M222.7 164.2h0.8M223.5 178.5h0.8M219.5 180.5h0.8M225.9 168.8h0.8M222.7 184.4h0.8M229.2 172.1h0.8M218.9 168.7h0.8M225.9 174.7h0.8M227.5 167.2h0.8M226.3 172.9h0.8M226.0 176.3h0.8M227.1 174.3h0.8M215.5 170.8h0.8M219.2 169.0h0.8M224.3 179.4h0.8M226.8 170.8h0.8M223.7 163.9h0.8M225.0 176.9h0.8M220.1 175.5h0.8M224.2 169.9h0.8M229.4 179.5h0.8M225.7 177.3h0.8M224.7 179.0h0.8M223.9 187.6h0.8M219.4 164.5h0.8M221.9 178.8h0.8M223.4 183.0h0.8M215.6 179.1h0.8M224.4 181.0h0.8M217.0 165.0h0.8M219.7 165.0h0.8M227.0 185.8h0.8M219.7 170.8h0.8M218.6 167.2h0.8M216.3 174.6h0.8M223.8 178.6h0.8M223.1 173.2h0.8M227.5 182.5h0.8M218.5 165.7h0.8M218.2 173.7h0.8M222.9 172.1h0.8M230.1 170.0h0.8M223.3 177.6h0.8M215.4 170.9h0.8M226.6 180.2h0.8M230.7 166.3h0.8M220.3 184.8h0.8M230.1 168.0h0.8M226.3 183.5h0.8M220.7 173.2h0.8M224.3 181.2h0.8M229.0 174.7h0.8M225.7 176.4h0.8M225.5 178.1h0.8M227.6 181.7h0.8M221.3 184.8h0.8M221.8 174.0h0.8M224.3 184.1h0.8M221.8 163.9h0.8M219.5 175.3h0.8M223.5 174.7h0.8M218.9 176.6h0.8M224.9 164.7h0.8M230.5 176.1h0.8M226.9 165.2h0.8M227.5 175.1h0.8M218.2 167.7h0.8M219.0 164.3h0.8M222.5 178.3h0.8M221.4 187.4h0.8M228.4 180.6h0.8M229.3 175.1h0.8M228.8 173.5h0.8M223.7 169.7h0.8M218.1 172.6h0.8M216.4 178.8h0.8M228.4 173.9h0.8M225.4 162.6h0.8M220.1 166.8h0.8M220.0 170.2h0.8M216.0 168.2h0.8M225.7 174.0h0.8M217.0 179.9h0.8M215.3 176.1h0.8M220.1 176.8h0.8M219.8 176.3h0.8M223.7 184.7h0.8M230.6 180.3h0.8M216.9 169.0h0.8M245.8 195.2h0.8M245.0 146.7h0.8M248.7 183.8h0.8M242.8 188.0h0.8M227.7 164.0h0.8M222.8 161.9h0.8M216.0 179.4h0.8M210.8 182.1h0.8M197.2 169.7h0.8M210.6 193.7h0.8M224.5 194.4h0.8M218.8 185.4h0.8M220.7 184.8h0.8M230.4 177.8h0.8M246.3 150.4h0.8M243.0 166.8h0.8M224.0 163.9h0.8M246.2 188.4h0.8M210.5 162.3h0.8M230.8 195.6h0.8M225.3 143.5h0.8M223.9 169.2h0.8M237.1 185.0h0.8M197.6 166.5h0.8M231.9 165.1h0.8M199.3 174.6h0.8M207.2 147.5h0.8M197.3 187.5h0.8M244.3 176.3h0.8M217.8 172.4h0.8M248.5 168.4h0.8M244.9 141.4h0.8M234.8 162.2h0.8M200.9 164.4h0.8M208.1 174.0h0.8M225.5 189.0h0.8M208.4 169.6h0.8M188.3 166.4h0.8M197.0 185.6h0.8M188.7 144.4h0.8M220.3 144.1h0.8M209.8 150.9h0.8M237.9 146.0h0.8M243.2 177.6h0.8M239.9 148.8h0.8M224.8 184.8h0.8M222.9 186.6h0.8M240.7 179.9h0.8M244.1 168.2h0.8M221.3 185.8h0.8M234.0 175.9h0.8M235.6 168.1h0.8M244.2 174.7h0.8M238.9 174.1h0.8M239.6 175.9h0.8M236.0 193.8h0.8M239.0 180.6h0.8M244.4 166.9h0.8M229.9 169.4h0.8M228.9 178.3h0.8M232.4 190.8h0.8M237.4 169.0h0.8M239.4 177.7h0.8M238.1 188.2h0.8M228.1 196.8h0.8M237.9 191.9h0.8M234.7 170.1h0.8M227.3 195.0h0.8M217.4 164.1h0.8M228.7 174.9h0.8" stroke="#000" stroke-width="0.8" stroke-opacity="0.36" fill="none" filter="url(#bd)"/>
</g>
<rect x="186.50" y="132.50" width="65.50" height="65.50" fill="none" stroke="#666" stroke-width="1"/>
<rect x="200.50" y="147.00" width="29.00" height="16.00" fill="none" stroke="#555" stroke-width="0.9"/>
<rect x="186.50" y="163.00" width="29.00" height="35.00" fill="none" stroke="#555" stroke-width="0.9"/>
<rect x="215.50" y="163.00" width="14.00" height="24.50" fill="none" stroke="#555" stroke-width="0.9"/>
<text x="206.3" y="146" text-anchor="start" fill="#000" style="font-size:6.7px;font-weight:bold;" stroke="#000" stroke-width="0.30">54.1%</text>
<text x="230.8" y="175.3" text-anchor="start" fill="#000" style="font-size:6.7px;font-weight:bold;" stroke="#000" stroke-width="0.30">12.8%</text>
<text x="216.8" y="195.8" text-anchor="start" fill="#000" style="font-size:6.7px;font-weight:bold;" stroke="#000" stroke-width="0.30">19.9%</text>
<line x1="184.5" y1="138" x2="186.5" y2="138" stroke="#333" stroke-width="0.7"/>
<text x="179.5" y="139.0" fill="#333" style="font-size:2.8px">10<tspan dy="-1.2" style="font-size:2.2px">5</tspan></text>
<line x1="184.5" y1="152.5" x2="186.5" y2="152.5" stroke="#333" stroke-width="0.7"/>
<text x="179.5" y="153.5" fill="#333" style="font-size:2.8px">10<tspan dy="-1.2" style="font-size:2.2px">4</tspan></text>
<line x1="184.5" y1="168.5" x2="186.5" y2="168.5" stroke="#333" stroke-width="0.7"/>
<text x="179.5" y="169.5" fill="#333" style="font-size:2.8px">10<tspan dy="-1.2" style="font-size:2.2px">3</tspan></text>
<line x1="184.5" y1="184.5" x2="186.5" y2="184.5" stroke="#333" stroke-width="0.7"/>
<text x="179.5" y="185.5" fill="#333" style="font-size:2.8px">10<tspan dy="-1.2" style="font-size:2.2px">2</tspan></text>
<line x1="184.5" y1="192.5" x2="186.5" y2="192.5" stroke="#333" stroke-width="0.7"/>
<text x="180.5" y="193.5" fill="#333" style="font-size:2.8px">0</text>
<line x1="190.8" y1="198" x2="190.8" y2="200" stroke="#333" stroke-width="0.7"/>
<text x="189.8" y="204.0" fill="#333" style="font-size:2.8px">0</text>
<line x1="200.8" y1="198" x2="200.8" y2="200" stroke="#333" stroke-width="0.7"/>
<text x="198.8" y="204.0" fill="#333" style="font-size:2.8px">10<tspan dy="-1.2" style="font-size:2.2px">2</tspan></text>
<line x1="216.5" y1="198" x2="216.5" y2="200" stroke="#333" stroke-width="0.7"/>
<text x="214.5" y="204.0" fill="#333" style="font-size:2.8px">10<tspan dy="-1.2" style="font-size:2.2px">3</tspan></text>
<line x1="232.5" y1="198" x2="232.5" y2="200" stroke="#333" stroke-width="0.7"/>
<text x="230.5" y="204.0" fill="#333" style="font-size:2.8px">10<tspan dy="-1.2" style="font-size:2.2px">4</tspan></text>
<line x1="247.5" y1="198" x2="247.5" y2="200" stroke="#333" stroke-width="0.7"/>
<text x="245.5" y="204.0" fill="#333" style="font-size:2.8px">10<tspan dy="-1.2" style="font-size:2.2px">5</tspan></text>
<text x="53.5" y="130.7" text-anchor="middle" fill="#000" style="font-size:8.7px;font-weight:bold;" stroke="#000" stroke-width="0.39">WT</text>
<text x="123.8" y="130.5" text-anchor="start" style="font-size:9.1px;font-weight:bold;font-style:italic;" stroke="#000" stroke-width="0.41">Asxl1<tspan dx="-0.4" dy="-3.82" style="font-size:5.64px">+/-</tspan></text>
<text x="203.8" y="130.6" text-anchor="start" style="font-size:9.0px;font-weight:bold;font-style:italic;" stroke="#000" stroke-width="0.40">Asxl1<tspan dx="-0.4" dy="-3.78" style="font-size:5.58px">-/-</tspan></text>
<line x1="11.5" y1="207" x2="11.5" y2="171" stroke="#000" stroke-width="1"/>
<polygon points="11.5,167 9.2,172.5 13.8,172.5" fill="#000"/>
<line x1="11" y1="207" x2="45.5" y2="207" stroke="#000" stroke-width="1"/>
<polygon points="49.5,207 44,204.7 44,209.3" fill="#000"/>
<text x="13.7" y="218.7" text-anchor="start" fill="#000" style="font-size:7.9px;font-weight:bold;" stroke="#000" stroke-width="0.36">CD34</text>
<text x="8.9" y="203.5" text-anchor="start" fill="#000" style="font-size:7.6px;font-weight:bold;" transform="rotate(-90 8.9 203.5)" stroke="#000" stroke-width="0.34">FcγRII</text>
<line x1="304.5" y1="15.5" x2="304.5" y2="93.5" stroke="#8c8c8c" stroke-width="1"/>
<line x1="304.5" y1="93.5" x2="390.5" y2="93.5" stroke="#8c8c8c" stroke-width="1"/>
<line x1="302.5" y1="93.5" x2="304.5" y2="93.5" stroke="#8c8c8c" stroke-width="0.8"/>
<text x="297" y="95.7" text-anchor="end" fill="#000" style="font-size:5.9px;font-weight:bold;"  stroke="#000" stroke-width="0.27">0.0</text>
<line x1="302.5" y1="77.9" x2="304.5" y2="77.9" stroke="#8c8c8c" stroke-width="0.8"/>
<text x="297" y="80.10000000000001" text-anchor="end" fill="#000" style="font-size:5.9px;font-weight:bold;"  stroke="#000" stroke-width="0.27">0.2</text>
<line x1="302.5" y1="62.3" x2="304.5" y2="62.3" stroke="#8c8c8c" stroke-width="0.8"/>
<text x="297" y="64.5" text-anchor="end" fill="#000" style="font-size:5.9px;font-weight:bold;"  stroke="#000" stroke-width="0.27">0.4</text>
<line x1="302.5" y1="46.7" x2="304.5" y2="46.7" stroke="#8c8c8c" stroke-width="0.8"/>
<text x="297" y="48.900000000000006" text-anchor="end" fill="#000" style="font-size:5.9px;font-weight:bold;"  stroke="#000" stroke-width="0.27">0.6</text>
<line x1="302.5" y1="31.099999999999994" x2="304.5" y2="31.099999999999994" stroke="#8c8c8c" stroke-width="0.8"/>
<text x="297" y="33.3" text-anchor="end" fill="#000" style="font-size:5.9px;font-weight:bold;"  stroke="#000" stroke-width="0.27">0.8</text>
<line x1="302.5" y1="15.5" x2="304.5" y2="15.5" stroke="#8c8c8c" stroke-width="0.8"/>
<text x="297" y="17.7" text-anchor="end" fill="#000" style="font-size:5.9px;font-weight:bold;"  stroke="#000" stroke-width="0.27">1.0</text>
<line x1="333" y1="93.5" x2="333" y2="95.5" stroke="#8c8c8c" stroke-width="0.8"/>
<line x1="361.5" y1="93.5" x2="361.5" y2="95.5" stroke="#8c8c8c" stroke-width="0.8"/>
<line x1="390.5" y1="93.5" x2="390.5" y2="95.5" stroke="#8c8c8c" stroke-width="0.8"/>
<line x1="319.5" y1="35.5" x2="319.5" y2="26.5" stroke="#222" stroke-width="0.9"/>
<line x1="317.5" y1="26.5" x2="321.5" y2="26.5" stroke="#222" stroke-width="0.9"/>
<rect x="312.50" y="35.50" width="14.00" height="58.00" fill="#000" stroke="#000" stroke-width="1"/>
<line x1="347.5" y1="48.5" x2="347.5" y2="35.5" stroke="#222" stroke-width="0.9"/>
<line x1="345.5" y1="35.5" x2="349.5" y2="35.5" stroke="#222" stroke-width="0.9"/>
<rect x="340.50" y="48.50" width="14.00" height="45.00" fill="url(#hatch)" stroke="#000" stroke-width="1"/>
<line x1="376.5" y1="63.5" x2="376.5" y2="51.5" stroke="#222" stroke-width="0.9"/>
<line x1="374.5" y1="51.5" x2="378.5" y2="51.5" stroke="#222" stroke-width="0.9"/>
<rect x="368.50" y="63.50" width="15.00" height="30.00" fill="#fff" stroke="#000" stroke-width="1"/>
<text x="355" y="17.5" text-anchor="middle" fill="#000" style="font-size:10.2px;font-weight:normal;">LSK</text>
<text x="376" y="53" text-anchor="middle" fill="#000" style="font-size:12.5px;font-weight:bold;" stroke="#000" stroke-width="0.56">*</text>
<text x="283.2" y="91.3" text-anchor="start" fill="#000" style="font-size:9.7px;font-weight:bold;" transform="rotate(-90 283.2 91.3)" letter-spacing="0.25" stroke="#000" stroke-width="0.44">% Total BM cells</text>
<text x="306.8" y="106.6" text-anchor="start" fill="#000" style="font-size:9.0px;font-weight:bold;" stroke="#000" stroke-width="0.40">WT</text>
<text x="327.2" y="106.6" text-anchor="start" style="font-size:8.75px;font-weight:bold;font-style:italic;" stroke="#000" stroke-width="0.39">Asxl1<tspan dx="-0.4" dy="-3.67" style="font-size:5.42px">+/-</tspan></text>
<text x="362.1" y="106.6" text-anchor="start" style="font-size:8.75px;font-weight:bold;font-style:italic;" stroke="#000" stroke-width="0.39">Asxl1<tspan dx="-0.4" dy="-3.67" style="font-size:5.42px">-/-</tspan></text>
<line x1="430.5" y1="13.0" x2="430.5" y2="94.5" stroke="#8c8c8c" stroke-width="1"/>
<line x1="430.5" y1="94.5" x2="516.5" y2="94.5" stroke="#8c8c8c" stroke-width="1"/>
<line x1="428.5" y1="94.5" x2="430.5" y2="94.5" stroke="#8c8c8c" stroke-width="0.8"/>
<text x="423.5" y="96.7" text-anchor="end" fill="#000" style="font-size:5.8px;font-weight:bold;"  stroke="#000" stroke-width="0.26">0</text>
<line x1="428.5" y1="78.2" x2="430.5" y2="78.2" stroke="#8c8c8c" stroke-width="0.8"/>
<text x="423.5" y="80.4" text-anchor="end" fill="#000" style="font-size:5.8px;font-weight:bold;"  stroke="#000" stroke-width="0.26">2</text>
<line x1="428.5" y1="61.9" x2="430.5" y2="61.9" stroke="#8c8c8c" stroke-width="0.8"/>
<text x="423.5" y="64.1" text-anchor="end" fill="#000" style="font-size:5.8px;font-weight:bold;"  stroke="#000" stroke-width="0.26">4</text>
<line x1="428.5" y1="45.599999999999994" x2="430.5" y2="45.599999999999994" stroke="#8c8c8c" stroke-width="0.8"/>
<text x="423.5" y="47.8" text-anchor="end" fill="#000" style="font-size:5.8px;font-weight:bold;"  stroke="#000" stroke-width="0.26">6</text>
<line x1="428.5" y1="29.299999999999997" x2="430.5" y2="29.299999999999997" stroke="#8c8c8c" stroke-width="0.8"/>
<text x="423.5" y="31.499999999999996" text-anchor="end" fill="#000" style="font-size:5.8px;font-weight:bold;"  stroke="#000" stroke-width="0.26">8</text>
<line x1="428.5" y1="13.0" x2="430.5" y2="13.0" stroke="#8c8c8c" stroke-width="0.8"/>
<text x="423.5" y="15.2" text-anchor="end" fill="#000" style="font-size:5.8px;font-weight:bold;"  stroke="#000" stroke-width="0.26">10</text>
<line x1="459" y1="94.5" x2="459" y2="96.5" stroke="#8c8c8c" stroke-width="0.8"/>
<line x1="488" y1="94.5" x2="488" y2="96.5" stroke="#8c8c8c" stroke-width="0.8"/>
<line x1="516.5" y1="94.5" x2="516.5" y2="96.5" stroke="#8c8c8c" stroke-width="0.8"/>
<line x1="445.5" y1="35.5" x2="445.5" y2="29.5" stroke="#222" stroke-width="0.9"/>
<line x1="443.5" y1="29.5" x2="447.5" y2="29.5" stroke="#222" stroke-width="0.9"/>
<rect x="438.50" y="35.50" width="14.00" height="59.00" fill="#000" stroke="#000" stroke-width="1"/>
<line x1="473.5" y1="49.5" x2="473.5" y2="39.5" stroke="#222" stroke-width="0.9"/>
<line x1="471.5" y1="39.5" x2="475.5" y2="39.5" stroke="#222" stroke-width="0.9"/>
<rect x="466.50" y="49.50" width="14.00" height="45.00" fill="url(#hatch)" stroke="#000" stroke-width="1"/>
<line x1="502.5" y1="53.5" x2="502.5" y2="45.5" stroke="#222" stroke-width="0.9"/>
<line x1="500.5" y1="45.5" x2="504.5" y2="45.5" stroke="#222" stroke-width="0.9"/>
<rect x="495.50" y="53.50" width="14.00" height="41.00" fill="#fff" stroke="#000" stroke-width="1"/>
<text x="476.3" y="20.8" text-anchor="middle" fill="#000" style="font-size:10.2px;font-weight:normal;">LK</text>
<text x="415.4" y="96.2" text-anchor="start" fill="#000" style="font-size:10.2px;font-weight:bold;" transform="rotate(-90 415.4 96.2)" letter-spacing="0.12" stroke="#000" stroke-width="0.46">% total BM cells</text>
<text x="436.3" y="106.6" text-anchor="start" fill="#000" style="font-size:9.0px;font-weight:bold;" stroke="#000" stroke-width="0.40">WT</text>
<text x="455.6" y="106.6" text-anchor="start" style="font-size:8.9px;font-weight:bold;font-style:italic;" stroke="#000" stroke-width="0.40">Asxl1<tspan dx="-0.4" dy="-3.74" style="font-size:5.52px">+/-</tspan></text>
<text x="490.6" y="106.6" text-anchor="start" style="font-size:8.9px;font-weight:bold;font-style:italic;" stroke="#000" stroke-width="0.40">Asxl1<tspan dx="-0.4" dy="-3.74" style="font-size:5.52px">-/-</tspan></text>
<line x1="337.5" y1="130.5" x2="337.5" y2="194.5" stroke="#8c8c8c" stroke-width="1"/>
<line x1="337.5" y1="194.5" x2="449" y2="194.5" stroke="#8c8c8c" stroke-width="1"/>
<line x1="335.5" y1="194.5" x2="337.5" y2="194.5" stroke="#8c8c8c" stroke-width="0.8"/>
<text x="330.8" y="196.8" text-anchor="end" fill="#000" style="font-size:6.5px;font-weight:bold;"  stroke="#000" stroke-width="0.29">0</text>
<line x1="335.5" y1="181.7" x2="337.5" y2="181.7" stroke="#8c8c8c" stroke-width="0.8"/>
<text x="330.8" y="184.0" text-anchor="end" fill="#000" style="font-size:6.5px;font-weight:bold;"  stroke="#000" stroke-width="0.29">20</text>
<line x1="335.5" y1="168.9" x2="337.5" y2="168.9" stroke="#8c8c8c" stroke-width="0.8"/>
<text x="330.8" y="171.20000000000002" text-anchor="end" fill="#000" style="font-size:6.5px;font-weight:bold;"  stroke="#000" stroke-width="0.29">40</text>
<line x1="335.5" y1="156.1" x2="337.5" y2="156.1" stroke="#8c8c8c" stroke-width="0.8"/>
<text x="330.8" y="158.4" text-anchor="end" fill="#000" style="font-size:6.5px;font-weight:bold;"  stroke="#000" stroke-width="0.29">60</text>
<line x1="335.5" y1="143.3" x2="337.5" y2="143.3" stroke="#8c8c8c" stroke-width="0.8"/>
<text x="330.8" y="145.60000000000002" text-anchor="end" fill="#000" style="font-size:6.5px;font-weight:bold;"  stroke="#000" stroke-width="0.29">80</text>
<line x1="335.5" y1="130.5" x2="337.5" y2="130.5" stroke="#8c8c8c" stroke-width="0.8"/>
<text x="330.8" y="132.8" text-anchor="end" fill="#000" style="font-size:6.5px;font-weight:bold;"  stroke="#000" stroke-width="0.29">100</text>
<line x1="373.8" y1="194.5" x2="373.8" y2="197.0" stroke="#8c8c8c" stroke-width="0.8"/>
<line x1="411.3" y1="194.5" x2="411.3" y2="197.0" stroke="#8c8c8c" stroke-width="0.8"/>
<line x1="449" y1="194.5" x2="449" y2="197.0" stroke="#8c8c8c" stroke-width="0.8"/>
<rect x="347.50" y="134.50" width="18.00" height="60.00" fill="#fff" stroke="#000" stroke-width="1"/>
<rect x="347.50" y="156.50" width="18.00" height="14.00" fill="#000" stroke="#000" stroke-width="1"/>
<rect x="347.50" y="170.50" width="18.00" height="24.00" fill="#808080" stroke="#222" stroke-width="1"/>
<rect x="383.50" y="136.50" width="19.00" height="58.00" fill="#fff" stroke="#000" stroke-width="1"/>
<rect x="383.50" y="155.50" width="19.00" height="12.00" fill="#000" stroke="#000" stroke-width="1"/>
<rect x="383.50" y="167.50" width="19.00" height="27.00" fill="#808080" stroke="#222" stroke-width="1"/>
<rect x="419.50" y="137.50" width="19.00" height="57.00" fill="#fff" stroke="#000" stroke-width="1"/>
<rect x="419.50" y="150.50" width="19.00" height="10.00" fill="#000" stroke="#000" stroke-width="1"/>
<rect x="419.50" y="160.50" width="19.00" height="34.00" fill="#808080" stroke="#222" stroke-width="1"/>
<line x1="356.5" y1="134.5" x2="356.5" y2="133.5" stroke="#000" stroke-width="1"/>
<line x1="354.75" y1="133.5" x2="358.25" y2="133.5" stroke="#000" stroke-width="1"/>
<line x1="356.5" y1="156.5" x2="356.5" y2="155.5" stroke="#000" stroke-width="1"/>
<line x1="355.25" y1="155.5" x2="357.75" y2="155.5" stroke="#000" stroke-width="1"/>
<line x1="356.5" y1="173.0" x2="356.5" y2="171.0" stroke="#ddd" stroke-width="1"/>
<line x1="354.75" y1="171.0" x2="358.25" y2="171.0" stroke="#ddd" stroke-width="1"/>
<line x1="392.5" y1="136.5" x2="392.5" y2="135.5" stroke="#000" stroke-width="1"/>
<line x1="390.75" y1="135.5" x2="394.25" y2="135.5" stroke="#000" stroke-width="1"/>
<line x1="392.5" y1="155.5" x2="392.5" y2="154.5" stroke="#000" stroke-width="1"/>
<line x1="391.25" y1="154.5" x2="393.75" y2="154.5" stroke="#000" stroke-width="1"/>
<line x1="392.5" y1="170.0" x2="392.5" y2="168.0" stroke="#ddd" stroke-width="1"/>
<line x1="390.75" y1="168.0" x2="394.25" y2="168.0" stroke="#ddd" stroke-width="1"/>
<line x1="429.5" y1="137.5" x2="429.5" y2="135.5" stroke="#000" stroke-width="1"/>
<line x1="427.75" y1="135.5" x2="431.25" y2="135.5" stroke="#000" stroke-width="1"/>
<line x1="429.5" y1="150.5" x2="429.5" y2="149.5" stroke="#000" stroke-width="1"/>
<line x1="428.25" y1="149.5" x2="430.75" y2="149.5" stroke="#000" stroke-width="1"/>
<line x1="429.5" y1="163.0" x2="429.5" y2="161.0" stroke="#ddd" stroke-width="1"/>
<line x1="427.75" y1="161.0" x2="431.25" y2="161.0" stroke="#ddd" stroke-width="1"/>
<text x="429.5" y="150.9" text-anchor="middle" fill="#000" style="font-size:12.5px;font-weight:bold;" stroke="#000" stroke-width="0.56">*</text>
<text x="429.5" y="162.0" text-anchor="middle" fill="#fff" style="font-size:12.5px;font-weight:bold;" stroke="#fff" stroke-width="0.56">*</text>
<text x="429.0" y="188.4" text-anchor="middle" fill="#fff" style="font-size:12px;font-weight:bold;" stroke="#fff" stroke-width="0.54">*</text>
<text x="312.4" y="190" text-anchor="start" fill="#000" style="font-size:8.8px;font-weight:bold;" transform="rotate(-90 312.4 190)" stroke="#000" stroke-width="0.40">% in LK cells</text>
<text x="345.5" y="206.3" text-anchor="start" fill="#000" style="font-size:10.3px;font-weight:bold;" stroke="#000" stroke-width="0.46">WT</text>
<text x="374" y="206.5" text-anchor="start" style="font-size:10.5px;font-weight:bold;font-style:italic;" stroke="#000" stroke-width="0.47">Asxl1<tspan dx="-0.4" dy="-4.41" style="font-size:6.51px">+/-</tspan></text>
<text x="414.2" y="206.5" text-anchor="start" style="font-size:10.5px;font-weight:bold;font-style:italic;" stroke="#000" stroke-width="0.47">Asxl1<tspan dx="-0.4" dy="-4.41" style="font-size:6.51px">-/-</tspan></text>
<rect x="464.00" y="143.50" width="9.50" height="5.50" fill="#fff" stroke="#111" stroke-width="1"/>
<rect x="464.00" y="164.50" width="9.50" height="5.50" fill="#000" stroke="#000" stroke-width="1"/>
<rect x="464.00" y="186.50" width="9.50" height="5.50" fill="#8c8c8c" stroke="#333" stroke-width="1"/>
<text x="478" y="148.3" text-anchor="start" fill="#000" style="font-size:8.8px;font-weight:bold;" stroke="#000" stroke-width="0.40">CMP</text>
<text x="479.5" y="170.2" text-anchor="start" fill="#000" style="font-size:8.8px;font-weight:bold;" stroke="#000" stroke-width="0.40">MEP</text>
<text x="478.5" y="193" text-anchor="start" fill="#000" style="font-size:8.8px;font-weight:bold;" stroke="#000" stroke-width="0.40">GMP</text>
<line x1="51" y1="242.5" x2="51" y2="314.5" stroke="#8c8c8c" stroke-width="1"/>
<line x1="51" y1="314.5" x2="144.5" y2="314.5" stroke="#8c8c8c" stroke-width="1"/>
<line x1="49" y1="314.5" x2="51" y2="314.5" stroke="#8c8c8c" stroke-width="0.8"/>
<text x="44" y="316.9" text-anchor="end" fill="#111" style="font-size:6.6px;font-weight:bold;" stroke="#111" stroke-width="0.30">0</text>
<line x1="49" y1="296.5" x2="51" y2="296.5" stroke="#8c8c8c" stroke-width="0.8"/>
<text x="44" y="298.9" text-anchor="end" fill="#111" style="font-size:6.6px;font-weight:bold;" stroke="#111" stroke-width="0.30">20</text>
<line x1="49" y1="278.5" x2="51" y2="278.5" stroke="#8c8c8c" stroke-width="0.8"/>
<text x="44" y="280.9" text-anchor="end" fill="#111" style="font-size:6.6px;font-weight:bold;" stroke="#111" stroke-width="0.30">40</text>
<line x1="49" y1="260.5" x2="51" y2="260.5" stroke="#8c8c8c" stroke-width="0.8"/>
<text x="44" y="262.9" text-anchor="end" fill="#111" style="font-size:6.6px;font-weight:bold;" stroke="#111" stroke-width="0.30">60</text>
<line x1="49" y1="242.5" x2="51" y2="242.5" stroke="#8c8c8c" stroke-width="0.8"/>
<text x="44" y="244.9" text-anchor="end" fill="#111" style="font-size:6.6px;font-weight:bold;" stroke="#111" stroke-width="0.30">80</text>
<line x1="80.5" y1="314.5" x2="80.5" y2="317.0" stroke="#8c8c8c" stroke-width="0.8"/>
<line x1="112" y1="314.5" x2="112" y2="317.0" stroke="#8c8c8c" stroke-width="0.8"/>
<line x1="144.5" y1="314.5" x2="144.5" y2="317.0" stroke="#8c8c8c" stroke-width="0.8"/>
<line x1="66.5" y1="250.5" x2="66.5" y2="246.5" stroke="#222" stroke-width="0.9"/>
<line x1="64.5" y1="246.5" x2="68.5" y2="246.5" stroke="#222" stroke-width="0.9"/>
<rect x="60.50" y="250.50" width="12.00" height="15.00" fill="#9e9e9e" stroke="#222" stroke-width="1"/>
<rect x="60.50" y="265.50" width="12.00" height="8.00" fill="#fff" stroke="#222" stroke-width="1"/>
<rect x="60.50" y="273.50" width="12.00" height="41.00" fill="#000" stroke="#000" stroke-width="1"/>
<line x1="97.5" y1="257.5" x2="97.5" y2="254.5" stroke="#222" stroke-width="0.9"/>
<line x1="95.5" y1="254.5" x2="99.5" y2="254.5" stroke="#222" stroke-width="0.9"/>
<rect x="91.50" y="257.50" width="12.00" height="14.00" fill="#9e9e9e" stroke="#222" stroke-width="1"/>
<rect x="91.50" y="271.50" width="12.00" height="7.00" fill="#fff" stroke="#222" stroke-width="1"/>
<rect x="91.50" y="278.50" width="12.00" height="36.00" fill="#000" stroke="#000" stroke-width="1"/>
<line x1="128.5" y1="269.5" x2="128.5" y2="264.5" stroke="#222" stroke-width="0.9"/>
<line x1="126.5" y1="264.5" x2="130.5" y2="264.5" stroke="#222" stroke-width="0.9"/>
<rect x="122.50" y="269.50" width="12.00" height="10.00" fill="#9e9e9e" stroke="#222" stroke-width="1"/>
<rect x="122.50" y="279.50" width="12.00" height="6.00" fill="#fff" stroke="#222" stroke-width="1"/>
<rect x="122.50" y="285.50" width="12.00" height="29.00" fill="#000" stroke="#000" stroke-width="1"/>
<text x="128.6" y="265.4" text-anchor="middle" fill="#000" style="font-size:10px;font-weight:bold;" stroke="#000" stroke-width="0.45">*</text>
<text x="128" y="286.4" text-anchor="middle" fill="#444" style="font-size:7.5px;font-weight:bold;" stroke="#444" stroke-width="0.34">*</text>
<text x="18.5" y="312.7" text-anchor="start" fill="#000" style="font-size:8.65px;font-weight:bold;" transform="rotate(-90 18.5 312.7)" stroke="#000" stroke-width="0.39">Colony numbers</text>
<text x="28.8" y="312.8" transform="rotate(-90 28.8 312.8)" stroke="#000" stroke-width="0.3" style="font-size:8.9px;font-weight:bold">/2.5 x 10<tspan dy="-3" style="font-size:5.5px">4</tspan><tspan dy="3"> BMCs</tspan></text>
<text x="58" y="326.5" text-anchor="start" fill="#000" style="font-size:10.1px;font-weight:bold;" stroke="#000" stroke-width="0.45">WT</text>
<text x="77.9" y="326.9" text-anchor="start" style="font-size:10.4px;font-weight:bold;font-style:italic;" stroke="#000" stroke-width="0.47">Asxl1<tspan dx="-0.4" dy="-4.37" style="font-size:6.45px">+/-</tspan></text>
<text x="118.5" y="326.9" text-anchor="start" style="font-size:10.4px;font-weight:bold;font-style:italic;" stroke="#000" stroke-width="0.47">Asxl1<tspan dx="-0.4" dy="-4.37" style="font-size:6.45px">-/-</tspan></text>
</svg>
</body></html>
